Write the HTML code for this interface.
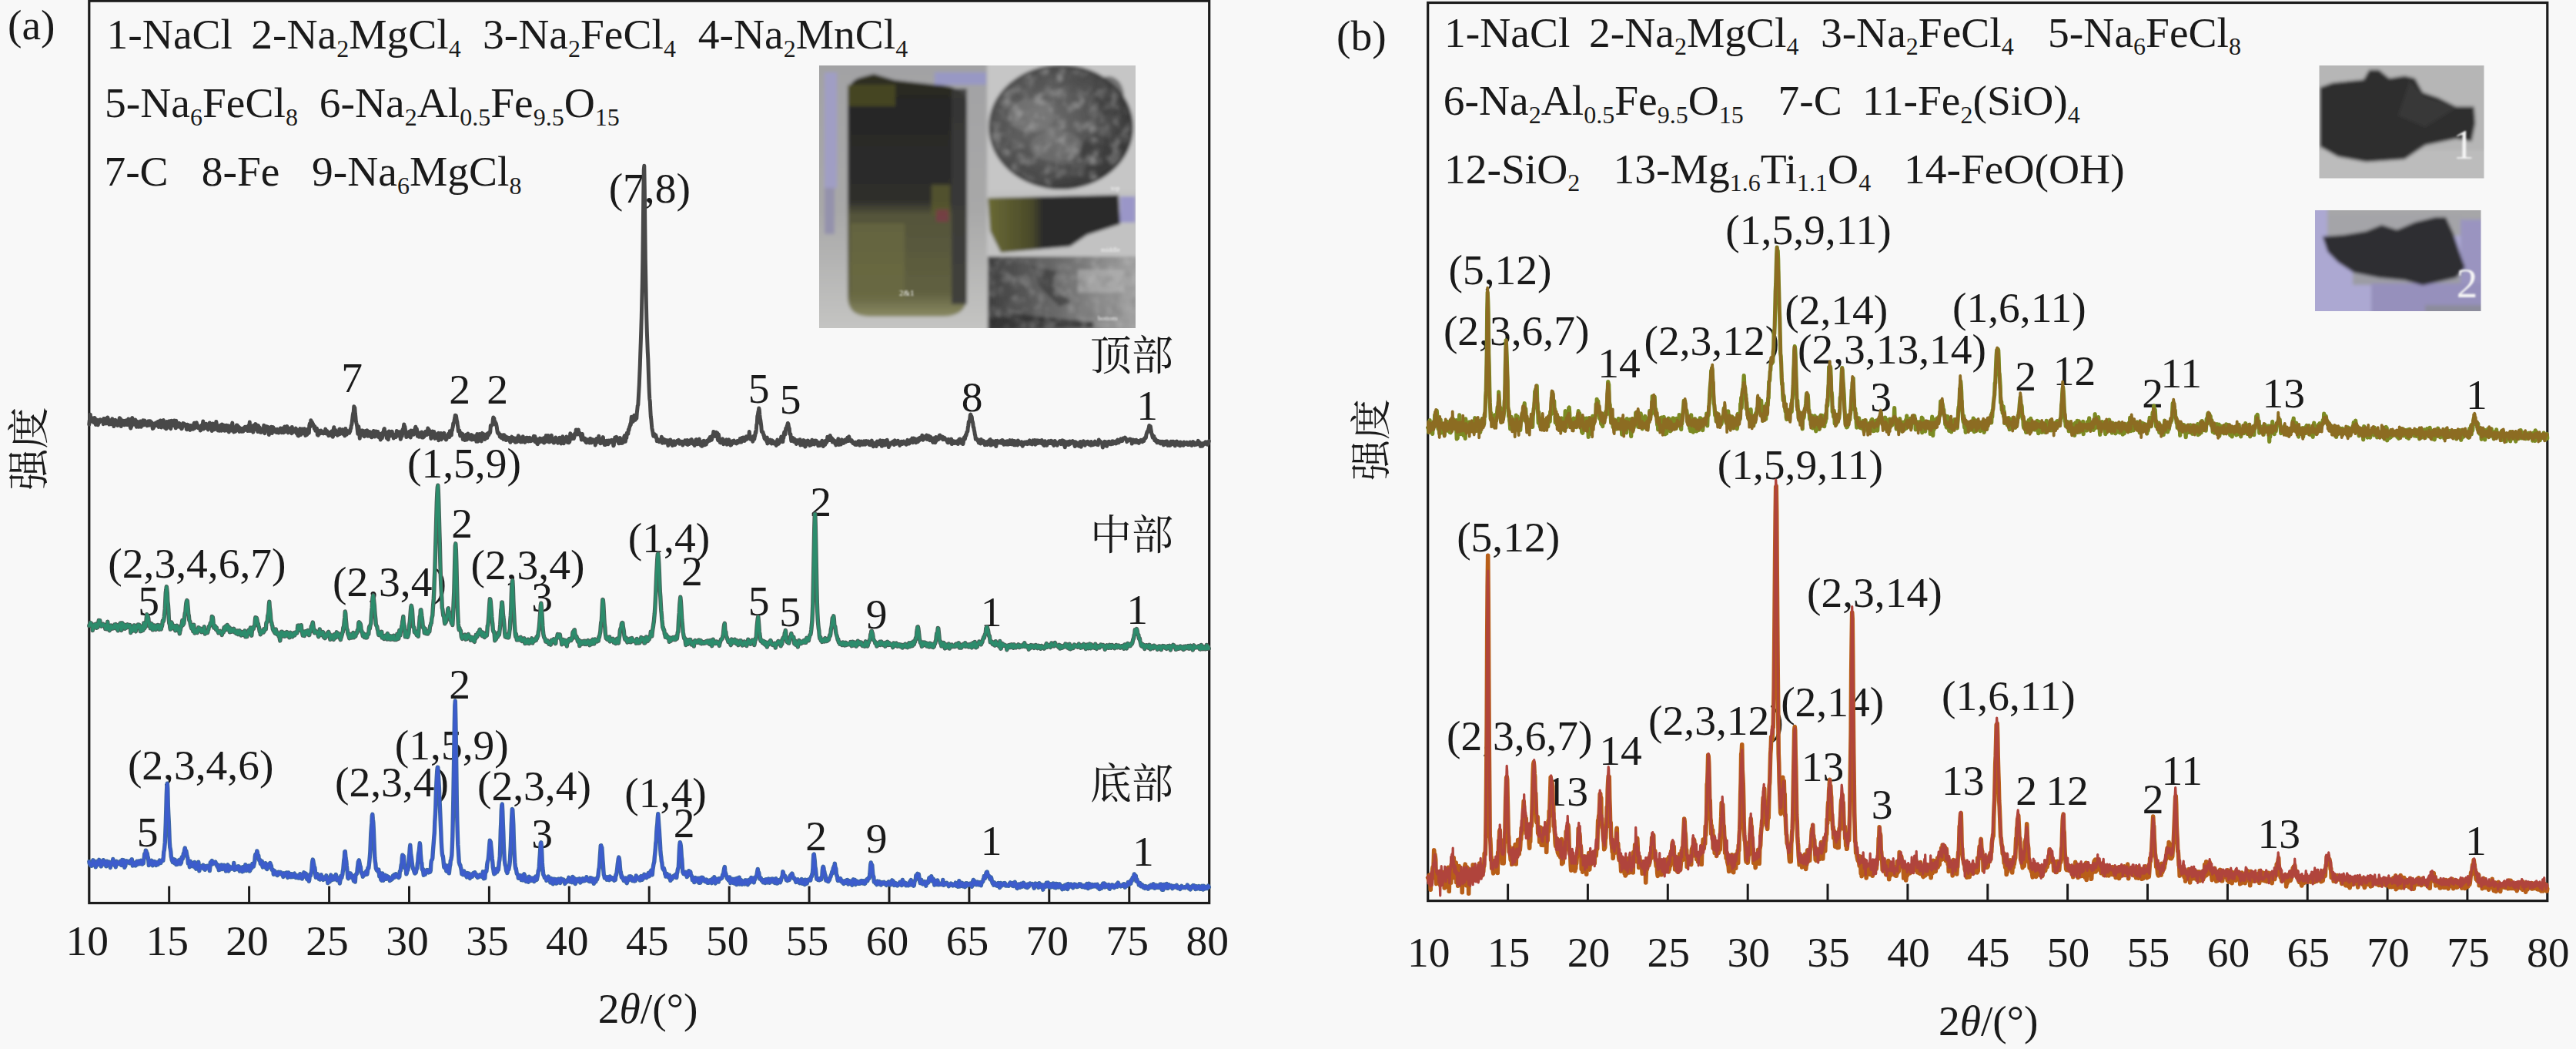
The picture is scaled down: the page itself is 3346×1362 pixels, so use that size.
<!DOCTYPE html>
<html><head><meta charset="utf-8"><title>XRD</title>
<style>html,body{margin:0;padding:0;background:#f8f8f8}svg{display:block}text{font-family:"Liberation Serif","Noto Serif CJK SC",serif}</style>
</head><body>
<svg width="3346" height="1362" viewBox="0 0 3346 1362">
<rect width="3346" height="1362" fill="#f8f8f8"/>
<defs><filter id="bl" x="-5%" y="-5%" width="110%" height="110%"><feGaussianBlur stdDeviation="2.2"/></filter><filter id="bl2" x="-5%" y="-5%" width="110%" height="110%"><feGaussianBlur stdDeviation="1.2"/></filter><clipPath id="cpa"><rect x="1064" y="85" width="411" height="341"/></clipPath><clipPath id="cpb1"><rect x="3012.5" y="85" width="214" height="146.5"/></clipPath><clipPath id="cpb2"><rect x="3007" y="273" width="215.5" height="131"/></clipPath><filter id="tx" x="0" y="0" width="100%" height="100%"><feTurbulence type="fractalNoise" baseFrequency="0.07" numOctaves="3" seed="4"/><feColorMatrix type="matrix" values="0 0 0 0 0.52  0 0 0 0 0.52  0 0 0 0 0.52  1.5 0 0 0 -0.72"/></filter><filter id="tx2" x="0" y="0" width="100%" height="100%"><feTurbulence type="fractalNoise" baseFrequency="0.07" numOctaves="3" seed="9"/><feColorMatrix type="matrix" values="0 0 0 0 0.14  0 0 0 0 0.14  0 0 0 0 0.14  1.5 0 0 0 -0.74"/></filter><clipPath id="cpe"><ellipse cx="1378" cy="165" rx="90" ry="77"/></clipPath><clipPath id="cpr"><rect x="1283" y="333" width="192" height="93"/></clipPath></defs>
<rect x="115.8" y="1.2" width="1454.9" height="1171.3" fill="none" stroke="#1c1c1c" stroke-width="3.2"/>
<line x1="219.7" y1="1150.5" x2="219.7" y2="1172.5" stroke="#1c1c1c" stroke-width="3"/>
<line x1="323.6" y1="1150.5" x2="323.6" y2="1172.5" stroke="#1c1c1c" stroke-width="3"/>
<line x1="427.6" y1="1150.5" x2="427.6" y2="1172.5" stroke="#1c1c1c" stroke-width="3"/>
<line x1="531.5" y1="1150.5" x2="531.5" y2="1172.5" stroke="#1c1c1c" stroke-width="3"/>
<line x1="635.4" y1="1150.5" x2="635.4" y2="1172.5" stroke="#1c1c1c" stroke-width="3"/>
<line x1="739.3" y1="1150.5" x2="739.3" y2="1172.5" stroke="#1c1c1c" stroke-width="3"/>
<line x1="843.2" y1="1150.5" x2="843.2" y2="1172.5" stroke="#1c1c1c" stroke-width="3"/>
<line x1="947.2" y1="1150.5" x2="947.2" y2="1172.5" stroke="#1c1c1c" stroke-width="3"/>
<line x1="1051.1" y1="1150.5" x2="1051.1" y2="1172.5" stroke="#1c1c1c" stroke-width="3"/>
<line x1="1155.0" y1="1150.5" x2="1155.0" y2="1172.5" stroke="#1c1c1c" stroke-width="3"/>
<line x1="1258.9" y1="1150.5" x2="1258.9" y2="1172.5" stroke="#1c1c1c" stroke-width="3"/>
<line x1="1362.8" y1="1150.5" x2="1362.8" y2="1172.5" stroke="#1c1c1c" stroke-width="3"/>
<line x1="1466.8" y1="1150.5" x2="1466.8" y2="1172.5" stroke="#1c1c1c" stroke-width="3"/>
<rect x="1854.7" y="3.5" width="1454.1" height="1166.1" fill="none" stroke="#1c1c1c" stroke-width="3.2"/>
<line x1="1958.6" y1="1147.6" x2="1958.6" y2="1169.6" stroke="#1c1c1c" stroke-width="3"/>
<line x1="2062.4" y1="1147.6" x2="2062.4" y2="1169.6" stroke="#1c1c1c" stroke-width="3"/>
<line x1="2166.3" y1="1147.6" x2="2166.3" y2="1169.6" stroke="#1c1c1c" stroke-width="3"/>
<line x1="2270.2" y1="1147.6" x2="2270.2" y2="1169.6" stroke="#1c1c1c" stroke-width="3"/>
<line x1="2374.0" y1="1147.6" x2="2374.0" y2="1169.6" stroke="#1c1c1c" stroke-width="3"/>
<line x1="2477.9" y1="1147.6" x2="2477.9" y2="1169.6" stroke="#1c1c1c" stroke-width="3"/>
<line x1="2581.8" y1="1147.6" x2="2581.8" y2="1169.6" stroke="#1c1c1c" stroke-width="3"/>
<line x1="2685.6" y1="1147.6" x2="2685.6" y2="1169.6" stroke="#1c1c1c" stroke-width="3"/>
<line x1="2789.5" y1="1147.6" x2="2789.5" y2="1169.6" stroke="#1c1c1c" stroke-width="3"/>
<line x1="2893.4" y1="1147.6" x2="2893.4" y2="1169.6" stroke="#1c1c1c" stroke-width="3"/>
<line x1="2997.2" y1="1147.6" x2="2997.2" y2="1169.6" stroke="#1c1c1c" stroke-width="3"/>
<line x1="3101.1" y1="1147.6" x2="3101.1" y2="1169.6" stroke="#1c1c1c" stroke-width="3"/>
<line x1="3204.9" y1="1147.6" x2="3204.9" y2="1169.6" stroke="#1c1c1c" stroke-width="3"/>
<text x="113.3" y="1239.5" font-size="55.5" text-anchor="middle" fill="#1a1a1a" >10</text>
<text x="1855.7" y="1254.6" font-size="55.5" text-anchor="middle" fill="#1a1a1a" >10</text>
<text x="217.2" y="1239.5" font-size="55.5" text-anchor="middle" fill="#1a1a1a" >15</text>
<text x="1959.6" y="1254.6" font-size="55.5" text-anchor="middle" fill="#1a1a1a" >15</text>
<text x="321.1" y="1239.5" font-size="55.5" text-anchor="middle" fill="#1a1a1a" >20</text>
<text x="2063.4" y="1254.6" font-size="55.5" text-anchor="middle" fill="#1a1a1a" >20</text>
<text x="425.1" y="1239.5" font-size="55.5" text-anchor="middle" fill="#1a1a1a" >25</text>
<text x="2167.3" y="1254.6" font-size="55.5" text-anchor="middle" fill="#1a1a1a" >25</text>
<text x="529.0" y="1239.5" font-size="55.5" text-anchor="middle" fill="#1a1a1a" >30</text>
<text x="2271.2" y="1254.6" font-size="55.5" text-anchor="middle" fill="#1a1a1a" >30</text>
<text x="632.9" y="1239.5" font-size="55.5" text-anchor="middle" fill="#1a1a1a" >35</text>
<text x="2375.0" y="1254.6" font-size="55.5" text-anchor="middle" fill="#1a1a1a" >35</text>
<text x="736.8" y="1239.5" font-size="55.5" text-anchor="middle" fill="#1a1a1a" >40</text>
<text x="2478.9" y="1254.6" font-size="55.5" text-anchor="middle" fill="#1a1a1a" >40</text>
<text x="840.7" y="1239.5" font-size="55.5" text-anchor="middle" fill="#1a1a1a" >45</text>
<text x="2582.8" y="1254.6" font-size="55.5" text-anchor="middle" fill="#1a1a1a" >45</text>
<text x="944.7" y="1239.5" font-size="55.5" text-anchor="middle" fill="#1a1a1a" >50</text>
<text x="2686.6" y="1254.6" font-size="55.5" text-anchor="middle" fill="#1a1a1a" >50</text>
<text x="1048.6" y="1239.5" font-size="55.5" text-anchor="middle" fill="#1a1a1a" >55</text>
<text x="2790.5" y="1254.6" font-size="55.5" text-anchor="middle" fill="#1a1a1a" >55</text>
<text x="1152.5" y="1239.5" font-size="55.5" text-anchor="middle" fill="#1a1a1a" >60</text>
<text x="2894.4" y="1254.6" font-size="55.5" text-anchor="middle" fill="#1a1a1a" >60</text>
<text x="1256.4" y="1239.5" font-size="55.5" text-anchor="middle" fill="#1a1a1a" >65</text>
<text x="2998.2" y="1254.6" font-size="55.5" text-anchor="middle" fill="#1a1a1a" >65</text>
<text x="1360.3" y="1239.5" font-size="55.5" text-anchor="middle" fill="#1a1a1a" >70</text>
<text x="3102.1" y="1254.6" font-size="55.5" text-anchor="middle" fill="#1a1a1a" >70</text>
<text x="1464.3" y="1239.5" font-size="55.5" text-anchor="middle" fill="#1a1a1a" >75</text>
<text x="3205.9" y="1254.6" font-size="55.5" text-anchor="middle" fill="#1a1a1a" >75</text>
<text x="1568.2" y="1239.5" font-size="55.5" text-anchor="middle" fill="#1a1a1a" >80</text>
<text x="3309.8" y="1254.6" font-size="55.5" text-anchor="middle" fill="#1a1a1a" >80</text>
<text x="841.6" y="1328.3" font-size="55.5" text-anchor="middle" fill="#1a1a1a" >2<tspan font-style="italic">θ</tspan>/(°)</text>
<text x="2582.7" y="1344.0" font-size="55.5" text-anchor="middle" fill="#1a1a1a" >2<tspan font-style="italic">θ</tspan>/(°)</text>
<text transform="translate(57,582.5) rotate(-90)" font-size="54" text-anchor="middle" fill="#1a1a1a">强度</text>
<text transform="translate(1800,571) rotate(-90)" font-size="53" text-anchor="middle" fill="#1a1a1a">强度</text>
<text x="10.0" y="50.8" font-size="55.5" text-anchor="start" fill="#1a1a1a" >(a)</text>
<text x="1736.0" y="64.6" font-size="55.5" text-anchor="start" fill="#1a1a1a" >(b)</text>
<text x="138.6" y="63.2" font-size="55.5" text-anchor="start" fill="#1a1a1a" >1-NaCl</text>
<text x="326.3" y="63.2" font-size="55.5" text-anchor="start" fill="#1a1a1a" >2-Na<tspan dy="10.5" font-size="32">2</tspan><tspan dy="-10.5">MgCl</tspan><tspan dy="10.5" font-size="32">4</tspan></text>
<text x="627.0" y="63.2" font-size="55.5" text-anchor="start" fill="#1a1a1a" >3-Na<tspan dy="10.5" font-size="32">2</tspan><tspan dy="-10.5">FeCl</tspan><tspan dy="10.5" font-size="32">4</tspan></text>
<text x="906.7" y="63.2" font-size="55.5" text-anchor="start" fill="#1a1a1a" >4-Na<tspan dy="10.5" font-size="32">2</tspan><tspan dy="-10.5">MnCl</tspan><tspan dy="10.5" font-size="32">4</tspan></text>
<text x="136.0" y="152.4" font-size="55.5" text-anchor="start" fill="#1a1a1a" >5-Na<tspan dy="10.5" font-size="32">6</tspan><tspan dy="-10.5">FeCl</tspan><tspan dy="10.5" font-size="32">8</tspan></text>
<text x="414.8" y="152.4" font-size="55.5" text-anchor="start" fill="#1a1a1a" >6-Na<tspan dy="10.5" font-size="32">2</tspan><tspan dy="-10.5">Al</tspan><tspan dy="10.5" font-size="32">0.5</tspan><tspan dy="-10.5">Fe</tspan><tspan dy="10.5" font-size="32">9.5</tspan><tspan dy="-10.5">O</tspan><tspan dy="10.5" font-size="32">15</tspan></text>
<text x="135.4" y="241.0" font-size="55.5" text-anchor="start" fill="#1a1a1a" >7-C</text>
<text x="261.7" y="241.0" font-size="55.5" text-anchor="start" fill="#1a1a1a" >8-Fe</text>
<text x="405.0" y="241.0" font-size="55.5" text-anchor="start" fill="#1a1a1a" >9-Na<tspan dy="10.5" font-size="32">6</tspan><tspan dy="-10.5">MgCl</tspan><tspan dy="10.5" font-size="32">8</tspan></text>
<text x="1876.0" y="60.5" font-size="55.5" text-anchor="start" fill="#1a1a1a" >1-NaCl</text>
<text x="2064.0" y="60.5" font-size="55.5" text-anchor="start" fill="#1a1a1a" >2-Na<tspan dy="10.5" font-size="32">2</tspan><tspan dy="-10.5">MgCl</tspan><tspan dy="10.5" font-size="32">4</tspan></text>
<text x="2364.9" y="60.5" font-size="55.5" text-anchor="start" fill="#1a1a1a" >3-Na<tspan dy="10.5" font-size="32">2</tspan><tspan dy="-10.5">FeCl</tspan><tspan dy="10.5" font-size="32">4</tspan></text>
<text x="2660.1" y="60.5" font-size="55.5" text-anchor="start" fill="#1a1a1a" >5-Na<tspan dy="10.5" font-size="32">6</tspan><tspan dy="-10.5">FeCl</tspan><tspan dy="10.5" font-size="32">8</tspan></text>
<text x="1874.8" y="149.0" font-size="55.5" text-anchor="start" fill="#1a1a1a" >6-Na<tspan dy="10.5" font-size="32">2</tspan><tspan dy="-10.5">Al</tspan><tspan dy="10.5" font-size="32">0.5</tspan><tspan dy="-10.5">Fe</tspan><tspan dy="10.5" font-size="32">9.5</tspan><tspan dy="-10.5">O</tspan><tspan dy="10.5" font-size="32">15</tspan></text>
<text x="2309.6" y="149.0" font-size="55.5" text-anchor="start" fill="#1a1a1a" >7-C</text>
<text x="2419.0" y="149.0" font-size="55.5" text-anchor="start" fill="#1a1a1a" >11-Fe<tspan dy="10.5" font-size="32">2</tspan><tspan dy="-10.5">(SiO)</tspan><tspan dy="10.5" font-size="32">4</tspan></text>
<text x="1876.0" y="237.6" font-size="55.5" text-anchor="start" fill="#1a1a1a" >12-SiO<tspan dy="10.5" font-size="32">2</tspan></text>
<text x="2095.6" y="237.6" font-size="55.5" text-anchor="start" fill="#1a1a1a" >13-Mg<tspan dy="10.5" font-size="32">1.6</tspan><tspan dy="-10.5">Ti</tspan><tspan dy="10.5" font-size="32">1.1</tspan><tspan dy="-10.5">O</tspan><tspan dy="10.5" font-size="32">4</tspan></text>
<text x="2473.0" y="237.6" font-size="55.5" text-anchor="start" fill="#1a1a1a" >14-FeO(OH)</text>
<text x="457.0" y="508.7" font-size="55.5" text-anchor="middle" fill="#1a1a1a" >7</text>
<text x="597.0" y="524.0" font-size="55.5" text-anchor="middle" fill="#1a1a1a" >2</text>
<text x="646.0" y="524.0" font-size="55.5" text-anchor="middle" fill="#1a1a1a" >2</text>
<text x="843.8" y="262.5" font-size="55.5" text-anchor="middle" fill="#1a1a1a" >(7,8)</text>
<text x="985.7" y="522.7" font-size="55.5" text-anchor="middle" fill="#1a1a1a" >5</text>
<text x="1026.7" y="536.6" font-size="55.5" text-anchor="middle" fill="#1a1a1a" >5</text>
<text x="1262.7" y="533.5" font-size="55.5" text-anchor="middle" fill="#1a1a1a" >8</text>
<text x="1490.0" y="545.0" font-size="55.5" text-anchor="middle" fill="#1a1a1a" >1</text>
<text x="603.0" y="620.4" font-size="55.5" text-anchor="middle" fill="#1a1a1a" >(1,5,9)</text>
<text x="255.9" y="749.5" font-size="55.5" text-anchor="middle" fill="#1a1a1a" >(2,3,4,6,7)</text>
<text x="193.0" y="799.0" font-size="55.5" text-anchor="middle" fill="#1a1a1a" >5</text>
<text x="505.9" y="774.0" font-size="55.5" text-anchor="middle" fill="#1a1a1a" >(2,3,4)</text>
<text x="600.0" y="698.0" font-size="55.5" text-anchor="middle" fill="#1a1a1a" >2</text>
<text x="685.5" y="752.4" font-size="55.5" text-anchor="middle" fill="#1a1a1a" >(2,3,4)</text>
<text x="704.0" y="794.0" font-size="55.5" text-anchor="middle" fill="#1a1a1a" >3</text>
<text x="869.0" y="716.6" font-size="55.5" text-anchor="middle" fill="#1a1a1a" >(1,4)</text>
<text x="898.8" y="760.0" font-size="55.5" text-anchor="middle" fill="#1a1a1a" >2</text>
<text x="985.7" y="799.0" font-size="55.5" text-anchor="middle" fill="#1a1a1a" >5</text>
<text x="1026.0" y="813.0" font-size="55.5" text-anchor="middle" fill="#1a1a1a" >5</text>
<text x="1066.0" y="669.5" font-size="55.5" text-anchor="middle" fill="#1a1a1a" >2</text>
<text x="1138.5" y="816.0" font-size="55.5" text-anchor="middle" fill="#1a1a1a" >9</text>
<text x="1287.6" y="813.0" font-size="55.5" text-anchor="middle" fill="#1a1a1a" >1</text>
<text x="1477.0" y="809.8" font-size="55.5" text-anchor="middle" fill="#1a1a1a" >1</text>
<text x="260.7" y="1012.0" font-size="55.5" text-anchor="middle" fill="#1a1a1a" >(2,3,4,6)</text>
<text x="191.6" y="1099.0" font-size="55.5" text-anchor="middle" fill="#1a1a1a" >5</text>
<text x="509.0" y="1034.0" font-size="55.5" text-anchor="middle" fill="#1a1a1a" >(2,3,4)</text>
<text x="586.8" y="985.8" font-size="55.5" text-anchor="middle" fill="#1a1a1a" >(1,5,9)</text>
<text x="597.0" y="906.6" font-size="55.5" text-anchor="middle" fill="#1a1a1a" >2</text>
<text x="693.9" y="1038.6" font-size="55.5" text-anchor="middle" fill="#1a1a1a" >(2,3,4)</text>
<text x="704.0" y="1100.7" font-size="55.5" text-anchor="middle" fill="#1a1a1a" >3</text>
<text x="864.5" y="1048.0" font-size="55.5" text-anchor="middle" fill="#1a1a1a" >(1,4)</text>
<text x="888.5" y="1086.7" font-size="55.5" text-anchor="middle" fill="#1a1a1a" >2</text>
<text x="1060.0" y="1103.8" font-size="55.5" text-anchor="middle" fill="#1a1a1a" >2</text>
<text x="1138.5" y="1107.0" font-size="55.5" text-anchor="middle" fill="#1a1a1a" >9</text>
<text x="1287.6" y="1110.0" font-size="55.5" text-anchor="middle" fill="#1a1a1a" >1</text>
<text x="1484.8" y="1124.0" font-size="55.5" text-anchor="middle" fill="#1a1a1a" >1</text>
<text x="1470.0" y="480.5" font-size="54.0" text-anchor="middle" fill="#1a1a1a" >顶部</text>
<text x="1470.0" y="713.5" font-size="54.0" text-anchor="middle" fill="#1a1a1a" >中部</text>
<text x="1470.0" y="1037.0" font-size="54.0" text-anchor="middle" fill="#1a1a1a" >底部</text>
<text x="1948.5" y="368.6" font-size="55.5" text-anchor="middle" fill="#1a1a1a" >(5,12)</text>
<text x="1969.7" y="448.0" font-size="55.5" text-anchor="middle" fill="#1a1a1a" >(2,3,6,7)</text>
<text x="2103.0" y="490.0" font-size="55.5" text-anchor="middle" fill="#1a1a1a" >14</text>
<text x="2223.3" y="461.0" font-size="55.5" text-anchor="middle" fill="#1a1a1a" >(2,3,12)</text>
<text x="2349.0" y="316.7" font-size="55.5" text-anchor="middle" fill="#1a1a1a" >(1,5,9,11)</text>
<text x="2385.3" y="420.5" font-size="55.5" text-anchor="middle" fill="#1a1a1a" >(2,14)</text>
<text x="2457.5" y="472.3" font-size="55.5" text-anchor="middle" fill="#1a1a1a" >(2,3,13,14)</text>
<text x="2443.0" y="534.0" font-size="55.5" text-anchor="middle" fill="#1a1a1a" >3</text>
<text x="2622.8" y="418.0" font-size="55.5" text-anchor="middle" fill="#1a1a1a" >(1,6,11)</text>
<text x="2631.0" y="507.0" font-size="55.5" text-anchor="middle" fill="#1a1a1a" >2</text>
<text x="2694.5" y="500.0" font-size="55.5" text-anchor="middle" fill="#1a1a1a" >12</text>
<text x="2796.0" y="529.0" font-size="55.5" text-anchor="middle" fill="#1a1a1a" >2</text>
<text x="2833.2" y="503.0" font-size="55.5" text-anchor="middle" fill="#1a1a1a" >11</text>
<text x="2966.3" y="529.0" font-size="55.5" text-anchor="middle" fill="#1a1a1a" >13</text>
<text x="3216.8" y="530.7" font-size="55.5" text-anchor="middle" fill="#1a1a1a" >1</text>
<text x="2338.3" y="622.0" font-size="55.5" text-anchor="middle" fill="#1a1a1a" >(1,5,9,11)</text>
<text x="1959.2" y="716.0" font-size="55.5" text-anchor="middle" fill="#1a1a1a" >(5,12)</text>
<text x="2434.8" y="787.5" font-size="55.5" text-anchor="middle" fill="#1a1a1a" >(2,3,14)</text>
<text x="1973.8" y="973.5" font-size="55.5" text-anchor="middle" fill="#1a1a1a" >(2,3,6,7)</text>
<text x="2035.2" y="1046.4" font-size="55.5" text-anchor="middle" fill="#1a1a1a" >13</text>
<text x="2105.0" y="993.0" font-size="55.5" text-anchor="middle" fill="#1a1a1a" >14</text>
<text x="2228.9" y="954.0" font-size="55.5" text-anchor="middle" fill="#1a1a1a" >(2,3,12)</text>
<text x="2380.2" y="929.7" font-size="55.5" text-anchor="middle" fill="#1a1a1a" >(2,14)</text>
<text x="2367.5" y="1014.0" font-size="55.5" text-anchor="middle" fill="#1a1a1a" >13</text>
<text x="2444.5" y="1062.6" font-size="55.5" text-anchor="middle" fill="#1a1a1a" >3</text>
<text x="2549.8" y="1031.8" font-size="55.5" text-anchor="middle" fill="#1a1a1a" >13</text>
<text x="2608.9" y="921.6" font-size="55.5" text-anchor="middle" fill="#1a1a1a" >(1,6,11)</text>
<text x="2632.0" y="1044.8" font-size="55.5" text-anchor="middle" fill="#1a1a1a" >2</text>
<text x="2685.1" y="1045.4" font-size="55.5" text-anchor="middle" fill="#1a1a1a" >12</text>
<text x="2796.7" y="1056.0" font-size="55.5" text-anchor="middle" fill="#1a1a1a" >2</text>
<text x="2834.2" y="1018.8" font-size="55.5" text-anchor="middle" fill="#1a1a1a" >11</text>
<text x="2960.2" y="1100.5" font-size="55.5" text-anchor="middle" fill="#1a1a1a" >13</text>
<text x="3215.9" y="1109.6" font-size="55.5" text-anchor="middle" fill="#1a1a1a" >1</text>
<defs><polyline id="c1" points="115.8,551.0 116.3,545.7 116.8,543.5 117.3,538.2 117.8,544.9 118.3,545.0 118.8,544.6 119.3,547.1 119.8,547.2 120.3,543.0 120.8,543.1 121.3,544.9 121.8,548.4 122.3,547.8 122.8,542.4 123.3,543.0 123.8,548.8 124.3,551.4 124.8,546.8 125.3,545.0 125.8,549.4 126.3,546.4 126.8,549.2 127.3,551.7 127.8,549.2 128.3,547.5 128.8,548.6 129.3,545.1 129.8,545.8 130.3,545.0 130.8,545.8 131.3,545.3 131.8,546.0 132.3,545.8 132.8,547.1 133.3,547.3 133.8,548.4 134.3,550.6 134.8,543.6 135.3,550.1 135.8,546.4 136.3,543.4 136.8,546.2 137.3,547.8 137.8,549.9 138.3,544.7 138.8,547.5 139.3,547.1 139.8,542.0 140.3,543.5 140.8,548.9 141.3,550.1 141.8,551.1 142.3,549.6 142.8,548.9 143.3,548.5 143.8,550.8 144.3,545.6 144.8,547.0 145.3,548.1 145.8,543.8 146.3,550.5 146.8,545.9 147.3,548.1 147.8,553.6 148.3,546.0 148.8,546.6 149.3,551.7 149.8,545.2 150.3,546.4 150.8,549.4 151.3,549.7 151.8,550.0 152.3,549.8 152.8,552.5 153.3,551.7 153.8,549.9 154.3,546.1 154.8,545.1 155.3,542.7 155.8,548.7 156.3,543.6 156.8,550.8 157.3,553.5 157.8,545.7 158.3,545.8 158.8,547.0 159.3,550.3 159.8,546.2 160.3,547.5 160.8,546.8 161.3,548.1 161.8,551.8 162.3,546.3 162.8,548.5 163.3,549.7 163.8,550.7 164.3,545.8 164.8,551.6 165.3,550.7 165.8,551.4 166.3,548.7 166.8,543.9 167.3,546.6 167.8,551.0 168.3,549.3 168.8,549.5 169.3,554.9 169.8,556.0 170.3,550.5 170.8,553.8 171.3,543.3 171.8,542.7 172.3,550.7 172.8,548.9 173.3,550.9 173.8,550.8 174.3,549.4 174.8,551.2 175.3,549.3 175.8,545.0 176.3,549.4 176.8,550.7 177.3,554.2 177.8,546.9 178.3,548.9 178.8,548.2 179.3,549.6 179.8,554.3 180.3,551.1 180.8,548.4 181.3,550.1 181.8,551.5 182.3,547.0 182.8,549.1 183.3,554.3 183.8,552.7 184.3,549.8 184.8,548.3 185.3,548.6 185.8,545.7 186.3,552.1 186.8,551.3 187.3,549.9 187.8,546.0 188.3,547.6 188.8,551.3 189.3,550.7 189.8,548.9 190.3,551.7 190.8,552.7 191.3,548.3 191.8,548.0 192.3,547.0 192.8,546.9 193.3,552.2 193.8,552.1 194.3,551.0 194.8,546.7 195.3,546.9 195.8,549.6 196.3,549.2 196.8,550.3 197.3,548.7 197.8,552.7 198.3,556.4 198.8,556.2 199.3,555.7 199.8,551.7 200.3,553.1 200.8,550.3 201.3,553.0 201.8,549.8 202.3,548.9 202.8,549.0 203.3,552.6 203.8,551.9 204.3,551.0 204.8,547.7 205.3,550.3 205.8,547.4 206.3,554.5 206.8,551.2 207.3,551.4 207.8,550.2 208.3,546.0 208.8,546.6 209.3,551.0 209.8,554.9 210.3,548.3 210.8,548.7 211.3,550.1 211.8,545.8 212.3,545.6 212.8,549.4 213.3,550.9 213.8,550.8 214.3,555.5 214.8,551.6 215.3,553.0 215.8,556.7 216.3,556.3 216.8,547.5 217.3,550.3 217.8,554.1 218.3,547.8 218.8,548.0 219.3,547.1 219.8,546.9 220.3,548.0 220.8,552.3 221.3,556.0 221.8,556.5 222.3,551.6 222.8,546.2 223.3,550.8 223.8,551.0 224.3,552.7 224.8,551.0 225.3,547.0 225.8,551.7 226.3,546.1 226.8,549.4 227.3,552.8 227.8,553.8 228.3,555.8 228.8,546.2 229.3,552.5 229.8,554.1 230.3,551.8 230.8,553.5 231.3,549.7 231.8,553.9 232.3,553.7 232.8,549.5 233.3,550.1 233.8,551.4 234.3,550.9 234.8,555.2 235.3,553.9 235.8,556.7 236.3,556.4 236.8,553.1 237.3,551.7 237.8,549.6 238.3,549.7 238.8,550.3 239.3,553.0 239.8,550.4 240.3,552.7 240.8,553.2 241.3,551.4 241.8,552.7 242.3,557.4 242.8,557.6 243.3,551.3 243.8,552.0 244.3,551.8 244.8,552.7 245.3,557.5 245.8,556.0 246.3,557.5 246.8,558.4 247.3,552.5 247.8,552.5 248.3,553.6 248.8,556.1 249.3,553.6 249.8,555.5 250.3,557.2 250.8,557.2 251.3,554.7 251.8,550.8 252.3,549.2 252.8,556.1 253.3,554.8 253.8,550.9 254.3,551.6 254.8,551.5 255.3,548.8 255.8,553.4 256.3,551.4 256.8,552.8 257.3,555.6 257.8,553.9 258.3,555.4 258.8,555.1 259.3,554.0 259.8,554.7 260.3,559.0 260.8,554.7 261.3,558.0 261.8,552.3 262.3,555.7 262.8,554.4 263.3,551.0 263.8,547.0 264.3,557.0 264.8,551.1 265.3,551.0 265.8,554.1 266.3,554.5 266.8,554.9 267.3,553.0 267.8,550.3 268.3,555.8 268.8,552.2 269.3,554.8 269.8,556.5 270.3,557.8 270.8,554.1 271.3,553.4 271.8,553.0 272.3,549.0 272.8,551.4 273.3,551.0 273.8,551.1 274.3,554.5 274.8,554.4 275.3,559.5 275.8,558.7 276.3,550.1 276.8,554.0 277.3,552.2 277.8,556.0 278.3,555.8 278.8,557.6 279.3,556.3 279.8,557.0 280.3,553.4 280.8,547.5 281.3,550.4 281.8,552.0 282.3,553.0 282.8,552.7 283.3,559.1 283.8,555.7 284.3,558.5 284.8,555.3 285.3,559.2 285.8,552.7 286.3,555.9 286.8,552.0 287.3,556.6 287.8,559.2 288.3,551.1 288.8,552.5 289.3,555.7 289.8,554.5 290.3,552.0 290.8,558.2 291.3,556.6 291.8,559.2 292.3,556.5 292.8,552.4 293.3,554.4 293.8,558.7 294.3,552.2 294.8,554.1 295.3,557.6 295.8,559.1 296.3,557.9 296.8,552.8 297.3,560.9 297.8,556.2 298.3,555.9 298.8,555.8 299.3,554.9 299.8,553.1 300.3,555.2 300.8,559.0 301.3,551.9 301.8,549.1 302.3,556.8 302.8,557.5 303.3,558.9 303.8,560.9 304.3,554.9 304.8,556.6 305.3,558.1 305.8,560.2 306.3,559.2 306.8,553.8 307.3,552.1 307.8,554.5 308.3,552.2 308.8,558.6 309.3,555.6 309.8,555.0 310.3,554.4 310.8,560.4 311.3,557.7 311.8,555.7 312.3,558.0 312.8,556.7 313.3,558.6 313.8,560.3 314.3,556.6 314.8,558.1 315.3,558.5 315.8,560.1 316.3,558.7 316.8,556.8 317.3,555.1 317.8,556.9 318.3,554.3 318.8,558.2 319.3,557.4 319.8,558.2 320.3,555.4 320.8,554.2 321.3,554.5 321.8,559.5 322.3,556.7 322.8,555.6 323.3,552.0 323.8,554.9 324.3,548.1 324.8,559.4 325.3,556.9 325.8,556.5 326.3,552.9 326.8,553.9 327.3,558.3 327.8,557.0 328.3,558.8 328.8,561.1 329.3,558.8 329.8,552.0 330.3,553.5 330.8,553.5 331.3,553.7 331.8,550.6 332.3,550.8 332.8,554.4 333.3,555.7 333.8,558.5 334.3,557.3 334.8,560.5 335.3,552.6 335.8,553.2 336.3,557.6 336.8,556.6 337.3,555.1 337.8,559.7 338.3,561.3 338.8,561.4 339.3,557.1 339.8,557.6 340.3,558.4 340.8,558.4 341.3,560.4 341.8,557.0 342.3,557.8 342.8,552.3 343.3,559.7 343.8,562.6 344.3,558.8 344.8,560.1 345.3,553.7 345.8,555.9 346.3,553.8 346.8,558.5 347.3,559.0 347.8,554.2 348.3,555.1 348.8,557.1 349.3,564.4 349.8,558.9 350.3,558.6 350.8,559.3 351.3,559.0 351.8,557.2 352.3,554.3 352.8,556.5 353.3,562.5 353.8,559.4 354.3,556.9 354.8,554.6 355.3,557.7 355.8,558.2 356.3,557.0 356.8,560.4 357.3,557.1 357.8,558.1 358.3,560.8 358.8,559.8 359.3,561.5 359.8,558.2 360.3,557.5 360.8,559.8 361.3,559.8 361.8,562.0 362.3,560.2 362.8,558.9 363.3,560.1 363.8,560.2 364.3,555.9 364.8,557.9 365.3,558.3 365.8,561.7 366.3,558.4 366.8,561.1 367.3,555.9 367.8,558.7 368.3,561.7 368.8,559.0 369.3,561.2 369.8,554.0 370.3,558.4 370.8,559.4 371.3,558.2 371.8,555.2 372.3,559.5 372.8,553.5 373.3,560.9 373.8,560.6 374.3,561.8 374.8,558.5 375.3,556.0 375.8,557.3 376.3,558.0 376.8,560.6 377.3,558.8 377.8,560.5 378.3,561.3 378.8,562.6 379.3,554.4 379.8,557.8 380.3,561.3 380.8,561.3 381.3,558.1 381.8,558.5 382.3,559.2 382.8,559.6 383.3,557.8 383.8,557.2 384.3,556.2 384.8,558.6 385.3,562.8 385.8,557.9 386.3,562.5 386.8,565.2 387.3,561.7 387.8,565.9 388.3,560.7 388.8,564.0 389.3,559.7 389.8,556.6 390.3,560.9 390.8,564.6 391.3,559.0 391.8,560.4 392.3,556.9 392.8,557.2 393.3,560.5 393.8,559.6 394.3,561.6 394.8,562.8 395.3,556.7 395.8,557.4 396.3,560.2 396.8,565.5 397.3,559.2 397.8,558.0 398.3,560.8 398.8,564.4 399.3,557.7 399.8,557.3 400.3,558.1 400.8,560.1 401.3,562.2 401.8,552.7 402.3,550.1 402.8,553.9 403.3,553.4 403.8,545.7 404.3,548.4 404.8,551.7 405.3,548.1 405.8,550.0 406.3,550.0 406.8,551.8 407.3,552.4 407.8,553.4 408.3,556.5 408.8,553.5 409.3,556.1 409.8,559.3 410.3,556.1 410.8,556.6 411.3,556.1 411.8,557.0 412.3,564.5 412.8,562.3 413.3,565.3 413.8,562.8 414.3,560.7 414.8,559.8 415.3,561.1 415.8,560.9 416.3,562.8 416.8,558.9 417.3,561.2 417.8,562.1 418.3,560.5 418.8,560.5 419.3,562.6 419.8,562.8 420.3,561.1 420.8,560.9 421.3,560.0 421.8,562.5 422.3,560.6 422.8,557.1 423.3,560.2 423.8,563.0 424.3,562.1 424.8,559.5 425.3,563.3 425.8,563.5 426.3,563.9 426.8,565.6 427.3,561.4 427.8,562.9 428.3,561.5 428.8,564.5 429.3,565.2 429.8,563.6 430.3,563.5 430.8,560.0 431.3,562.6 431.8,559.6 432.3,567.3 432.8,564.9 433.3,557.2 433.8,554.7 434.3,563.9 434.8,560.1 435.3,562.4 435.8,558.6 436.3,561.2 436.8,560.3 437.3,563.0 437.8,561.6 438.3,565.2 438.8,560.8 439.3,564.8 439.8,562.4 440.3,562.6 440.8,557.2 441.3,557.0 441.8,563.5 442.3,558.8 442.8,560.3 443.3,560.5 443.8,559.4 444.3,561.4 444.8,557.7 445.3,558.4 445.8,563.4 446.3,560.1 446.8,563.5 447.3,564.1 447.8,565.8 448.3,562.5 448.8,556.6 449.3,558.9 449.8,560.4 450.3,564.3 450.8,562.1 451.3,559.8 451.8,561.5 452.3,559.8 452.8,561.4 453.3,560.6 453.8,562.1 454.3,559.9 454.8,560.0 455.3,556.6 455.8,556.2 456.3,552.4 456.8,551.5 457.3,547.6 457.8,543.2 458.3,538.9 458.8,536.2 459.3,534.7 459.8,527.8 460.3,534.9 460.8,529.3 461.3,536.4 461.8,540.5 462.3,546.5 462.8,548.8 463.3,550.8 463.8,553.8 464.3,558.5 464.8,563.3 465.3,559.2 465.8,553.8 466.3,558.2 466.8,562.5 467.3,569.2 467.8,560.2 468.3,560.4 468.8,563.1 469.3,562.4 469.8,559.0 470.3,563.7 470.8,559.1 471.3,561.7 471.8,565.4 472.3,559.6 472.8,561.9 473.3,566.8 473.8,562.4 474.3,559.9 474.8,561.4 475.3,564.4 475.8,559.2 476.3,560.5 476.8,558.9 477.3,560.2 477.8,566.2 478.3,563.4 478.8,562.4 479.3,564.1 479.8,561.4 480.3,560.6 480.8,566.4 481.3,565.9 481.8,562.0 482.3,565.7 482.8,567.8 483.3,565.7 483.8,564.8 484.3,560.7 484.8,562.4 485.3,559.4 485.8,566.0 486.3,564.3 486.8,567.0 487.3,562.7 487.8,565.4 488.3,560.1 488.8,562.6 489.3,565.5 489.8,565.2 490.3,563.5 490.8,560.4 491.3,567.2 491.8,566.7 492.3,567.8 492.8,567.4 493.3,563.8 493.8,566.1 494.3,570.9 494.8,563.3 495.3,564.9 495.8,563.7 496.3,568.8 496.8,565.1 497.3,561.7 497.8,562.1 498.3,559.9 498.8,557.3 499.3,556.6 499.8,561.4 500.3,561.5 500.8,564.3 501.3,562.6 501.8,565.6 502.3,568.9 502.8,561.9 503.3,561.5 503.8,567.6 504.3,570.8 504.8,562.8 505.3,560.0 505.8,563.3 506.3,563.9 506.8,566.1 507.3,562.3 507.8,563.7 508.3,563.4 508.8,560.2 509.3,560.5 509.8,565.7 510.3,566.2 510.8,563.6 511.3,569.0 511.8,568.0 512.3,566.6 512.8,566.8 513.3,566.3 513.8,567.2 514.3,567.4 514.8,564.7 515.3,559.6 515.8,563.4 516.3,562.2 516.8,561.7 517.3,565.3 517.8,560.7 518.3,565.9 518.8,562.8 519.3,560.8 519.8,562.5 520.3,570.3 520.8,568.3 521.3,563.5 521.8,565.9 522.3,566.2 522.8,558.4 523.3,557.4 523.8,558.1 524.3,554.4 524.8,550.9 525.3,554.7 525.8,553.7 526.3,556.8 526.8,562.9 527.3,561.7 527.8,567.6 528.3,563.6 528.8,562.7 529.3,564.2 529.8,566.5 530.3,566.4 530.8,565.2 531.3,560.6 531.8,561.3 532.3,564.0 532.8,567.1 533.3,567.9 533.8,559.1 534.3,563.3 534.8,563.2 535.3,563.9 535.8,564.1 536.3,560.9 536.8,559.4 537.3,564.3 537.8,563.1 538.3,559.1 538.8,558.2 539.3,555.8 539.8,554.2 540.3,559.1 540.8,557.1 541.3,556.8 541.8,559.8 542.3,566.3 542.8,564.8 543.3,564.6 543.8,564.9 544.3,567.2 544.8,566.7 545.3,562.0 545.8,564.1 546.3,563.8 546.8,565.8 547.3,564.8 547.8,560.9 548.3,568.0 548.8,566.2 549.3,561.8 549.8,568.0 550.3,566.5 550.8,566.9 551.3,565.8 551.8,565.6 552.3,563.4 552.8,560.3 553.3,562.4 553.8,564.3 554.3,563.8 554.8,564.4 555.3,561.3 555.8,556.1 556.3,562.1 556.8,559.2 557.3,558.1 557.8,560.8 558.3,559.8 558.8,564.0 559.3,562.9 559.8,569.4 560.3,565.1 560.8,563.8 561.3,563.2 561.8,559.9 562.3,562.8 562.8,563.8 563.3,564.3 563.8,560.5 564.3,566.0 564.8,569.4 565.3,565.7 565.8,566.2 566.3,567.2 566.8,564.4 567.3,565.4 567.8,568.8 568.3,566.9 568.8,562.9 569.3,562.4 569.8,571.8 570.3,567.9 570.8,562.8 571.3,566.7 571.8,568.4 572.3,566.5 572.8,562.6 573.3,570.7 573.8,568.7 574.3,566.6 574.8,568.2 575.3,566.2 575.8,566.0 576.3,568.0 576.8,562.2 577.3,568.5 577.8,568.1 578.3,568.8 578.8,569.5 579.3,571.0 579.8,570.7 580.3,568.8 580.8,565.7 581.3,567.4 581.8,564.6 582.3,563.3 582.8,566.5 583.3,566.7 583.8,567.4 584.3,559.8 584.8,565.1 585.3,565.3 585.8,563.6 586.3,565.0 586.8,558.6 587.3,559.0 587.8,555.9 588.3,554.0 588.8,549.6 589.3,548.9 589.8,548.3 590.3,544.7 590.8,542.5 591.3,539.2 591.8,543.5 592.3,539.5 592.8,542.3 593.3,546.0 593.8,547.3 594.3,551.9 594.8,554.0 595.3,559.7 595.8,559.4 596.3,560.1 596.8,559.1 597.3,563.3 597.8,566.0 598.3,565.1 598.8,562.3 599.3,563.5 599.8,564.9 600.3,565.4 600.8,563.4 601.3,570.6 601.8,567.0 602.3,566.9 602.8,565.8 603.3,567.4 603.8,571.5 604.3,565.4 604.8,565.4 605.3,564.5 605.8,566.3 606.3,570.9 606.8,566.4 607.3,565.7 607.8,563.0 608.3,566.3 608.8,568.0 609.3,566.6 609.8,567.0 610.3,569.9 610.8,569.4 611.3,567.6 611.8,565.5 612.3,564.6 612.8,571.1 613.3,565.0 613.8,569.1 614.3,567.6 614.8,566.5 615.3,569.8 615.8,567.0 616.3,570.6 616.8,566.2 617.3,569.4 617.8,571.1 618.3,566.9 618.8,573.2 619.3,570.2 619.8,563.5 620.3,571.4 620.8,573.1 621.3,568.0 621.8,567.7 622.3,568.3 622.8,563.6 623.3,568.1 623.8,570.1 624.3,567.3 624.8,571.1 625.3,572.9 625.8,563.2 626.3,562.5 626.8,565.5 627.3,569.0 627.8,568.3 628.3,564.9 628.8,563.9 629.3,565.5 629.8,570.5 630.3,564.8 630.8,565.1 631.3,568.3 631.8,565.3 632.3,563.6 632.8,568.5 633.3,565.9 633.8,562.6 634.3,562.8 634.8,564.8 635.3,561.5 635.8,561.7 636.3,562.3 636.8,560.5 637.3,552.6 637.8,553.3 638.3,552.5 638.8,551.9 639.3,551.8 639.8,550.6 640.3,545.0 640.8,542.0 641.3,544.0 641.8,543.1 642.3,548.6 642.8,547.1 643.3,547.8 643.8,551.3 644.3,549.7 644.8,552.0 645.3,554.6 645.8,558.7 646.3,561.9 646.8,562.3 647.3,563.1 647.8,562.0 648.3,563.9 648.8,563.9 649.3,567.2 649.8,564.2 650.3,565.6 650.8,567.2 651.3,568.5 651.8,565.5 652.3,566.3 652.8,565.2 653.3,564.8 653.8,570.4 654.3,569.2 654.8,564.7 655.3,565.9 655.8,569.5 656.3,567.2 656.8,566.7 657.3,571.6 657.8,568.3 658.3,568.4 658.8,570.3 659.3,567.9 659.8,569.4 660.3,570.2 660.8,571.2 661.3,568.5 661.8,572.2 662.3,571.5 662.8,574.3 663.3,570.8 663.8,568.6 664.3,568.2 664.8,567.2 665.3,569.7 665.8,570.3 666.3,572.3 666.8,570.4 667.3,568.6 667.8,572.3 668.3,569.7 668.8,571.3 669.3,574.3 669.8,573.7 670.3,569.1 670.8,570.4 671.3,573.9 671.8,573.5 672.3,572.4 672.8,572.2 673.3,565.7 673.8,568.8 674.3,566.9 674.8,568.6 675.3,569.7 675.8,572.1 676.3,573.9 676.8,573.0 677.3,571.5 677.8,570.4 678.3,573.8 678.8,571.2 679.3,566.7 679.8,570.2 680.3,571.7 680.8,568.8 681.3,571.5 681.8,574.4 682.3,570.7 682.8,570.7 683.3,570.5 683.8,568.4 684.3,569.2 684.8,568.3 685.3,569.7 685.8,569.3 686.3,573.0 686.8,571.3 687.3,572.6 687.8,568.3 688.3,570.8 688.8,572.6 689.3,572.7 689.8,569.8 690.3,570.7 690.8,571.3 691.3,570.3 691.8,570.3 692.3,571.9 692.8,568.0 693.3,566.4 693.8,569.6 694.3,571.1 694.8,566.4 695.3,573.8 695.8,572.2 696.3,572.5 696.8,569.6 697.3,571.6 697.8,576.3 698.3,576.6 698.8,573.5 699.3,571.0 699.8,571.6 700.3,574.4 700.8,570.0 701.3,569.1 701.8,571.2 702.3,573.3 702.8,569.4 703.3,572.2 703.8,572.6 704.3,572.0 704.8,571.6 705.3,573.9 705.8,572.8 706.3,568.8 706.8,575.0 707.3,573.3 707.8,572.4 708.3,570.7 708.8,570.0 709.3,565.5 709.8,570.4 710.3,573.1 710.8,573.0 711.3,569.4 711.8,565.4 712.3,568.1 712.8,570.9 713.3,574.0 713.8,568.2 714.3,571.3 714.8,573.2 715.3,573.2 715.8,570.7 716.3,565.3 716.8,572.2 717.3,572.3 717.8,572.6 718.3,569.5 718.8,570.7 719.3,575.0 719.8,571.9 720.3,571.4 720.8,570.4 721.3,573.9 721.8,568.1 722.3,570.1 722.8,572.6 723.3,572.1 723.8,574.0 724.3,573.5 724.8,575.2 725.3,571.7 725.8,571.5 726.3,571.9 726.8,568.2 727.3,574.3 727.8,570.5 728.3,574.7 728.8,575.9 729.3,574.7 729.8,572.4 730.3,569.8 730.8,566.8 731.3,572.4 731.8,572.0 732.3,575.7 732.8,571.9 733.3,573.0 733.8,571.2 734.3,572.5 734.8,571.0 735.3,570.6 735.8,567.0 736.3,569.3 736.8,571.4 737.3,574.6 737.8,572.1 738.3,569.2 738.8,574.8 739.3,572.9 739.8,573.6 740.3,568.2 740.8,562.7 741.3,567.5 741.8,567.9 742.3,569.9 742.8,565.9 743.3,566.2 743.8,565.2 744.3,567.6 744.8,565.5 745.3,569.4 745.8,567.8 746.3,566.2 746.8,562.7 747.3,562.3 747.8,562.1 748.3,557.9 748.8,560.9 749.3,558.3 749.8,561.2 750.3,564.0 750.8,562.6 751.3,558.0 751.8,563.2 752.3,561.6 752.8,562.2 753.3,563.6 753.8,563.0 754.3,566.7 754.8,566.4 755.3,570.9 755.8,569.4 756.3,563.5 756.8,566.7 757.3,567.6 757.8,568.6 758.3,569.3 758.8,571.4 759.3,570.7 759.8,569.1 760.3,572.6 760.8,574.0 761.3,572.5 761.8,574.7 762.3,573.1 762.8,570.7 763.3,571.0 763.8,572.2 764.3,573.4 764.8,573.1 765.3,574.9 765.8,574.9 766.3,570.0 766.8,569.3 767.3,571.9 767.8,573.7 768.3,574.8 768.8,574.4 769.3,573.8 769.8,570.6 770.3,572.8 770.8,571.3 771.3,573.5 771.8,574.5 772.3,571.2 772.8,572.6 773.3,577.9 773.8,571.5 774.3,570.9 774.8,569.5 775.3,569.3 775.8,574.2 776.3,571.2 776.8,570.8 777.3,569.8 777.8,566.2 778.3,573.3 778.8,571.6 779.3,572.8 779.8,575.7 780.3,572.8 780.8,573.0 781.3,573.5 781.8,575.2 782.3,569.8 782.8,570.3 783.3,567.6 783.8,572.3 784.3,574.0 784.8,572.6 785.3,577.4 785.8,576.2 786.3,577.5 786.8,574.3 787.3,576.8 787.8,572.3 788.3,573.6 788.8,573.1 789.3,572.4 789.8,576.8 790.3,576.1 790.8,571.9 791.3,574.2 791.8,573.3 792.3,573.4 792.8,574.1 793.3,571.9 793.8,573.2 794.3,573.4 794.8,571.4 795.3,571.7 795.8,574.6 796.3,573.8 796.8,578.8 797.3,578.1 797.8,571.8 798.3,572.5 798.8,568.0 799.3,570.2 799.8,570.1 800.3,569.8 800.8,567.4 801.3,572.4 801.8,572.5 802.3,570.5 802.8,572.1 803.3,574.8 803.8,575.7 804.3,570.1 804.8,574.8 805.3,568.4 805.8,569.5 806.3,571.3 806.8,575.4 807.3,573.8 807.8,573.6 808.3,575.3 808.8,572.2 809.3,570.7 809.8,574.1 810.3,570.3 810.8,566.9 811.3,565.7 811.8,569.8 812.3,573.3 812.8,570.4 813.3,567.9 813.8,568.5 814.3,562.2 814.8,564.1 815.3,561.7 815.8,563.4 816.3,557.8 816.8,558.9 817.3,556.1 817.8,553.9 818.3,553.3 818.8,550.4 819.3,551.6 819.8,546.3 820.3,541.3 820.8,547.9 821.3,547.8 821.8,545.9 822.3,547.3 822.8,545.6 823.3,541.9 823.8,539.3 824.3,541.6 824.8,543.9 825.3,545.1 825.8,540.4 826.3,540.4 826.8,543.3 827.3,536.1 827.8,531.4 828.3,526.6 828.8,525.7 829.3,517.0 829.8,508.2 830.3,499.4 830.8,486.5 831.3,474.0 831.8,458.2 832.3,444.2 832.8,428.4 833.3,411.7 833.8,389.9 834.3,369.1 834.8,338.5 835.3,297.0 835.8,252.1 836.3,220.0 836.8,215.3 837.3,245.7 837.8,292.8 838.3,337.0 838.8,364.2 839.3,390.7 839.8,412.7 840.3,429.7 840.8,443.5 841.3,456.9 841.8,466.3 842.3,481.8 842.8,496.2 843.3,508.6 843.8,518.0 844.3,521.4 844.8,532.3 845.3,540.8 845.8,544.4 846.3,550.1 846.8,555.6 847.3,558.4 847.8,560.7 848.3,564.0 848.8,566.2 849.3,564.3 849.8,563.4 850.3,564.8 850.8,566.2 851.3,567.4 851.8,565.0 852.3,566.8 852.8,569.0 853.3,572.7 853.8,571.5 854.3,570.3 854.8,572.4 855.3,571.4 855.8,571.8 856.3,573.6 856.8,572.3 857.3,572.0 857.8,573.0 858.3,570.7 858.8,571.1 859.3,567.2 859.8,571.0 860.3,575.3 860.8,571.9 861.3,572.1 861.8,571.2 862.3,570.3 862.8,573.4 863.3,573.1 863.8,574.9 864.3,571.3 864.8,572.7 865.3,572.1 865.8,572.0 866.3,575.1 866.8,571.7 867.3,572.2 867.8,578.6 868.3,573.9 868.8,573.1 869.3,574.1 869.8,571.6 870.3,573.7 870.8,571.0 871.3,572.1 871.8,572.7 872.3,576.7 872.8,576.1 873.3,578.5 873.8,577.8 874.3,573.0 874.8,574.7 875.3,573.0 875.8,572.8 876.3,576.8 876.8,577.5 877.3,574.8 877.8,574.9 878.3,574.9 878.8,575.0 879.3,574.7 879.8,572.2 880.3,575.0 880.8,572.5 881.3,571.4 881.8,573.6 882.3,575.0 882.8,576.2 883.3,575.4 883.8,574.8 884.3,573.1 884.8,575.0 885.3,575.0 885.8,574.8 886.3,573.3 886.8,578.0 887.3,576.7 887.8,576.1 888.3,574.7 888.8,574.1 889.3,575.9 889.8,571.7 890.3,573.0 890.8,573.8 891.3,575.5 891.8,574.4 892.3,576.9 892.8,571.6 893.3,577.4 893.8,575.9 894.3,576.4 894.8,574.0 895.3,576.5 895.8,574.2 896.3,574.5 896.8,571.6 897.3,575.3 897.8,574.4 898.3,570.5 898.8,573.7 899.3,574.0 899.8,576.0 900.3,573.4 900.8,575.1 901.3,577.1 901.8,573.6 902.3,578.4 902.8,575.5 903.3,573.7 903.8,571.0 904.3,570.6 904.8,575.9 905.3,573.6 905.8,573.4 906.3,576.8 906.8,576.3 907.3,574.5 907.8,570.8 908.3,570.2 908.8,575.9 909.3,574.6 909.8,574.4 910.3,578.3 910.8,574.2 911.3,575.7 911.8,579.3 912.3,576.1 912.8,573.1 913.3,572.7 913.8,576.3 914.3,572.2 914.8,576.1 915.3,577.8 915.8,574.6 916.3,575.8 916.8,574.8 917.3,577.0 917.8,574.6 918.3,572.4 918.8,574.1 919.3,573.6 919.8,571.8 920.3,571.9 920.8,569.7 921.3,570.3 921.8,572.3 922.3,567.6 922.8,570.7 923.3,569.9 923.8,568.3 924.3,571.3 924.8,569.1 925.3,565.4 925.8,565.9 926.3,566.0 926.8,560.5 927.3,562.8 927.8,561.9 928.3,563.4 928.8,566.5 929.3,561.6 929.8,561.8 930.3,561.3 930.8,565.1 931.3,566.5 931.8,562.2 932.3,570.6 932.8,571.7 933.3,563.9 933.8,566.4 934.3,571.5 934.8,572.1 935.3,574.4 935.8,572.5 936.3,575.0 936.8,570.7 937.3,573.7 937.8,572.6 938.3,572.1 938.8,569.9 939.3,573.0 939.8,576.7 940.3,573.1 940.8,573.6 941.3,574.2 941.8,572.4 942.3,574.8 942.8,575.6 943.3,573.6 943.8,570.9 944.3,577.2 944.8,575.1 945.3,574.5 945.8,573.9 946.3,572.8 946.8,570.9 947.3,574.1 947.8,575.2 948.3,577.2 948.8,578.1 949.3,574.0 949.8,577.8 950.3,575.4 950.8,575.5 951.3,572.7 951.8,574.7 952.3,572.8 952.8,575.3 953.3,572.0 953.8,574.0 954.3,573.6 954.8,575.0 955.3,575.0 955.8,574.5 956.3,573.4 956.8,575.9 957.3,575.2 957.8,572.6 958.3,574.9 958.8,572.5 959.3,573.4 959.8,573.1 960.3,573.1 960.8,574.0 961.3,569.5 961.8,574.1 962.3,569.2 962.8,574.1 963.3,572.7 963.8,568.4 964.3,571.2 964.8,569.7 965.3,568.0 965.8,572.3 966.3,572.3 966.8,570.7 967.3,572.4 967.8,569.2 968.3,568.0 968.8,570.4 969.3,566.8 969.8,569.4 970.3,570.2 970.8,568.4 971.3,568.1 971.8,568.9 972.3,568.4 972.8,565.7 973.3,560.5 973.8,566.0 974.3,565.7 974.8,570.3 975.3,568.3 975.8,569.6 976.3,571.0 976.8,571.1 977.3,567.9 977.8,573.2 978.3,571.1 978.8,569.2 979.3,565.9 979.8,570.2 980.3,566.9 980.8,565.3 981.3,560.8 981.8,562.1 982.3,558.0 982.8,551.3 983.3,550.0 983.8,540.3 984.3,539.0 984.8,535.5 985.3,533.0 985.8,530.0 986.3,532.5 986.8,538.7 987.3,543.3 987.8,545.6 988.3,549.3 988.8,553.3 989.3,560.3 989.8,560.7 990.3,561.6 990.8,560.8 991.3,562.5 991.8,565.0 992.3,564.7 992.8,568.7 993.3,569.8 993.8,569.1 994.3,570.6 994.8,571.3 995.3,568.9 995.8,572.9 996.3,567.9 996.8,575.9 997.3,570.8 997.8,572.9 998.3,572.9 998.8,574.1 999.3,572.4 999.8,574.3 1000.3,571.0 1000.8,575.0 1001.3,573.8 1001.8,575.1 1002.3,576.0 1002.8,571.8 1003.3,572.4 1003.8,572.5 1004.3,573.8 1004.8,574.7 1005.3,575.8 1005.8,574.8 1006.3,574.1 1006.8,575.5 1007.3,576.7 1007.8,577.0 1008.3,578.5 1008.8,573.4 1009.3,573.9 1009.8,571.0 1010.3,572.2 1010.8,575.2 1011.3,576.3 1011.8,573.0 1012.3,574.2 1012.8,573.6 1013.3,574.1 1013.8,573.2 1014.3,570.9 1014.8,566.9 1015.3,568.0 1015.8,571.3 1016.3,570.8 1016.8,573.6 1017.3,569.3 1017.8,568.8 1018.3,563.3 1018.8,561.1 1019.3,563.0 1019.8,564.1 1020.3,559.7 1020.8,556.1 1021.3,555.5 1021.8,554.5 1022.3,553.0 1022.8,551.4 1023.3,549.5 1023.8,550.2 1024.3,553.1 1024.8,555.7 1025.3,556.2 1025.8,563.5 1026.3,563.9 1026.8,563.5 1027.3,567.9 1027.8,572.4 1028.3,569.7 1028.8,570.3 1029.3,572.1 1029.8,568.5 1030.3,570.0 1030.8,570.7 1031.3,573.5 1031.8,569.8 1032.3,573.3 1032.8,572.5 1033.3,572.8 1033.8,573.0 1034.3,576.5 1034.8,572.4 1035.3,571.6 1035.8,574.4 1036.3,573.4 1036.8,575.3 1037.3,574.6 1037.8,574.7 1038.3,574.3 1038.8,570.8 1039.3,570.8 1039.8,578.0 1040.3,573.2 1040.8,575.3 1041.3,572.8 1041.8,574.4 1042.3,574.8 1042.8,577.8 1043.3,574.6 1043.8,571.6 1044.3,571.9 1044.8,575.6 1045.3,577.5 1045.8,580.0 1046.3,579.6 1046.8,572.9 1047.3,574.2 1047.8,572.8 1048.3,575.7 1048.8,576.4 1049.3,572.0 1049.8,576.7 1050.3,576.9 1050.8,574.8 1051.3,574.5 1051.8,578.4 1052.3,575.1 1052.8,573.1 1053.3,575.5 1053.8,577.6 1054.3,576.4 1054.8,571.2 1055.3,572.0 1055.8,574.2 1056.3,575.5 1056.8,575.3 1057.3,573.1 1057.8,576.9 1058.3,576.1 1058.8,572.0 1059.3,572.9 1059.8,574.4 1060.3,572.3 1060.8,575.0 1061.3,575.5 1061.8,574.6 1062.3,576.8 1062.8,578.8 1063.3,574.6 1063.8,575.9 1064.3,574.9 1064.8,578.5 1065.3,578.1 1065.8,575.3 1066.3,574.1 1066.8,576.5 1067.3,574.8 1067.8,572.3 1068.3,572.6 1068.8,574.9 1069.3,579.4 1069.8,577.9 1070.3,577.9 1070.8,577.1 1071.3,577.7 1071.8,577.2 1072.3,572.3 1072.8,574.7 1073.3,574.8 1073.8,574.2 1074.3,572.8 1074.8,567.2 1075.3,570.8 1075.8,568.6 1076.3,571.9 1076.8,569.2 1077.3,569.0 1077.8,568.8 1078.3,565.4 1078.8,568.4 1079.3,567.6 1079.8,571.7 1080.3,569.7 1080.8,569.3 1081.3,573.9 1081.8,571.8 1082.3,570.7 1082.8,572.6 1083.3,573.1 1083.8,573.9 1084.3,572.4 1084.8,576.1 1085.3,575.7 1085.8,577.9 1086.3,575.9 1086.8,573.2 1087.3,576.5 1087.8,574.6 1088.3,574.3 1088.8,569.7 1089.3,572.1 1089.8,577.5 1090.3,576.9 1090.8,571.8 1091.3,575.0 1091.8,575.8 1092.3,576.9 1092.8,572.3 1093.3,570.9 1093.8,574.3 1094.3,572.8 1094.8,572.4 1095.3,572.2 1095.8,575.4 1096.3,572.0 1096.8,574.5 1097.3,573.6 1097.8,571.0 1098.3,573.4 1098.8,573.6 1099.3,571.3 1099.8,569.8 1100.3,570.8 1100.8,568.4 1101.3,570.7 1101.8,572.5 1102.3,567.4 1102.8,566.9 1103.3,571.7 1103.8,569.9 1104.3,571.0 1104.8,572.5 1105.3,571.8 1105.8,573.2 1106.3,571.7 1106.8,572.6 1107.3,574.0 1107.8,575.3 1108.3,574.0 1108.8,575.4 1109.3,576.2 1109.8,576.0 1110.3,575.2 1110.8,577.3 1111.3,574.2 1111.8,577.2 1112.3,577.5 1112.8,577.0 1113.3,574.7 1113.8,577.1 1114.3,576.1 1114.8,573.1 1115.3,574.0 1115.8,572.8 1116.3,576.1 1116.8,578.3 1117.3,577.2 1117.8,573.4 1118.3,573.1 1118.8,574.7 1119.3,575.2 1119.8,576.7 1120.3,575.2 1120.8,577.3 1121.3,574.9 1121.8,576.9 1122.3,572.8 1122.8,574.0 1123.3,575.6 1123.8,577.2 1124.3,576.4 1124.8,573.6 1125.3,572.7 1125.8,575.0 1126.3,575.2 1126.8,574.7 1127.3,575.0 1127.8,573.0 1128.3,576.3 1128.8,577.2 1129.3,573.8 1129.8,573.9 1130.3,577.8 1130.8,577.6 1131.3,574.0 1131.8,573.5 1132.3,572.1 1132.8,576.0 1133.3,576.0 1133.8,576.1 1134.3,579.7 1134.8,575.7 1135.3,575.3 1135.8,575.9 1136.3,575.4 1136.8,577.5 1137.3,575.5 1137.8,576.2 1138.3,579.6 1138.8,574.6 1139.3,573.1 1139.8,575.3 1140.3,574.2 1140.8,574.2 1141.3,575.9 1141.8,576.7 1142.3,572.7 1142.8,574.1 1143.3,571.7 1143.8,576.4 1144.3,573.9 1144.8,576.8 1145.3,579.3 1145.8,578.5 1146.3,576.0 1146.8,572.2 1147.3,578.3 1147.8,575.3 1148.3,576.6 1148.8,574.6 1149.3,575.2 1149.8,577.9 1150.3,572.3 1150.8,572.5 1151.3,574.7 1151.8,576.6 1152.3,571.2 1152.8,577.0 1153.3,575.0 1153.8,577.2 1154.3,580.6 1154.8,577.2 1155.3,577.9 1155.8,578.1 1156.3,575.1 1156.8,575.5 1157.3,575.1 1157.8,575.6 1158.3,574.7 1158.8,574.1 1159.3,574.2 1159.8,576.2 1160.3,573.0 1160.8,575.5 1161.3,577.5 1161.8,572.6 1162.3,571.8 1162.8,575.9 1163.3,573.7 1163.8,573.8 1164.3,576.3 1164.8,575.8 1165.3,573.9 1165.8,574.0 1166.3,572.2 1166.8,573.6 1167.3,575.0 1167.8,576.3 1168.3,576.8 1168.8,578.4 1169.3,575.6 1169.8,576.9 1170.3,575.5 1170.8,573.3 1171.3,575.4 1171.8,575.8 1172.3,576.3 1172.8,575.9 1173.3,574.9 1173.8,573.0 1174.3,574.0 1174.8,575.2 1175.3,576.1 1175.8,576.3 1176.3,575.5 1176.8,576.0 1177.3,577.2 1177.8,574.8 1178.3,572.8 1178.8,571.3 1179.3,573.8 1179.8,574.9 1180.3,573.6 1180.8,576.1 1181.3,572.2 1181.8,572.5 1182.3,572.9 1182.8,571.2 1183.3,574.4 1183.8,571.5 1184.3,570.0 1184.8,569.2 1185.3,574.1 1185.8,574.7 1186.3,570.3 1186.8,569.1 1187.3,570.7 1187.8,571.5 1188.3,570.7 1188.8,572.0 1189.3,570.0 1189.8,574.8 1190.3,572.5 1190.8,572.7 1191.3,570.5 1191.8,572.7 1192.3,573.6 1192.8,569.5 1193.3,570.5 1193.8,572.1 1194.3,570.8 1194.8,568.3 1195.3,568.8 1195.8,570.7 1196.3,570.1 1196.8,568.4 1197.3,569.3 1197.8,565.3 1198.3,569.1 1198.8,571.2 1199.3,571.0 1199.8,568.7 1200.3,569.5 1200.8,569.6 1201.3,568.7 1201.8,567.2 1202.3,566.1 1202.8,567.3 1203.3,566.2 1203.8,565.2 1204.3,570.4 1204.8,566.6 1205.3,567.4 1205.8,567.4 1206.3,565.9 1206.8,569.0 1207.3,566.6 1207.8,571.8 1208.3,567.1 1208.8,567.6 1209.3,569.0 1209.8,569.3 1210.3,569.9 1210.8,572.1 1211.3,573.2 1211.8,574.4 1212.3,569.0 1212.8,572.2 1213.3,571.9 1213.8,569.7 1214.3,568.5 1214.8,574.7 1215.3,572.6 1215.8,567.5 1216.3,572.4 1216.8,571.1 1217.3,570.4 1217.8,570.8 1218.3,568.3 1218.8,568.9 1219.3,570.3 1219.8,566.4 1220.3,565.2 1220.8,565.0 1221.3,568.9 1221.8,566.2 1222.3,566.9 1222.8,567.1 1223.3,569.0 1223.8,568.6 1224.3,567.1 1224.8,570.7 1225.3,569.7 1225.8,569.3 1226.3,568.1 1226.8,568.4 1227.3,569.0 1227.8,569.9 1228.3,571.1 1228.8,571.4 1229.3,570.5 1229.8,571.1 1230.3,573.1 1230.8,574.5 1231.3,574.7 1231.8,572.4 1232.3,570.4 1232.8,572.9 1233.3,573.5 1233.8,573.6 1234.3,574.3 1234.8,572.9 1235.3,573.3 1235.8,570.1 1236.3,576.6 1236.8,574.4 1237.3,573.6 1237.8,574.9 1238.3,573.6 1238.8,573.0 1239.3,575.5 1239.8,574.3 1240.3,573.1 1240.8,575.3 1241.3,575.1 1241.8,574.8 1242.3,573.8 1242.8,575.6 1243.3,572.8 1243.8,575.5 1244.3,576.5 1244.8,572.5 1245.3,573.4 1245.8,570.4 1246.3,572.7 1246.8,570.0 1247.3,570.5 1247.8,573.4 1248.3,575.1 1248.8,573.9 1249.3,572.2 1249.8,571.0 1250.3,572.6 1250.8,576.6 1251.3,574.4 1251.8,569.0 1252.3,568.8 1252.8,567.5 1253.3,570.1 1253.8,567.9 1254.3,564.8 1254.8,565.6 1255.3,563.8 1255.8,561.2 1256.3,560.6 1256.8,560.3 1257.3,554.9 1257.8,552.4 1258.3,547.9 1258.8,546.8 1259.3,547.1 1259.8,543.2 1260.3,538.8 1260.8,538.2 1261.3,541.3 1261.8,540.4 1262.3,541.9 1262.8,547.1 1263.3,547.6 1263.8,550.1 1264.3,554.6 1264.8,554.8 1265.3,558.4 1265.8,560.4 1266.3,563.8 1266.8,565.7 1267.3,570.2 1267.8,569.7 1268.3,569.3 1268.8,570.7 1269.3,570.2 1269.8,571.5 1270.3,572.6 1270.8,573.1 1271.3,574.9 1271.8,573.6 1272.3,571.6 1272.8,572.9 1273.3,571.6 1273.8,576.0 1274.3,570.4 1274.8,572.9 1275.3,574.2 1275.8,572.0 1276.3,573.0 1276.8,575.2 1277.3,572.2 1277.8,575.2 1278.3,573.7 1278.8,573.8 1279.3,577.7 1279.8,576.1 1280.3,575.0 1280.8,573.9 1281.3,574.5 1281.8,574.5 1282.3,577.6 1282.8,575.0 1283.3,573.1 1283.8,573.5 1284.3,574.8 1284.8,572.5 1285.3,572.6 1285.8,571.0 1286.3,570.7 1286.8,578.0 1287.3,575.2 1287.8,577.9 1288.3,576.2 1288.8,575.1 1289.3,572.8 1289.8,574.4 1290.3,574.8 1290.8,573.4 1291.3,576.1 1291.8,577.2 1292.3,576.0 1292.8,574.9 1293.3,572.5 1293.8,579.5 1294.3,576.6 1294.8,572.7 1295.3,572.4 1295.8,573.2 1296.3,573.0 1296.8,574.5 1297.3,573.4 1297.8,574.8 1298.3,574.1 1298.8,574.0 1299.3,572.8 1299.8,575.0 1300.3,575.2 1300.8,573.2 1301.3,571.9 1301.8,574.2 1302.3,571.6 1302.8,573.2 1303.3,575.8 1303.8,577.2 1304.3,574.8 1304.8,575.7 1305.3,577.0 1305.8,573.3 1306.3,574.0 1306.8,575.6 1307.3,577.0 1307.8,572.9 1308.3,572.8 1308.8,576.6 1309.3,577.1 1309.8,574.1 1310.3,575.1 1310.8,576.6 1311.3,574.3 1311.8,571.6 1312.3,575.1 1312.8,576.3 1313.3,573.3 1313.8,576.8 1314.3,574.3 1314.8,571.8 1315.3,574.5 1315.8,572.7 1316.3,577.1 1316.8,576.5 1317.3,577.7 1317.8,572.5 1318.3,575.1 1318.8,577.8 1319.3,577.5 1319.8,576.4 1320.3,575.9 1320.8,576.4 1321.3,577.3 1321.8,577.9 1322.3,572.1 1322.8,572.7 1323.3,573.8 1323.8,575.3 1324.3,575.6 1324.8,574.4 1325.3,575.0 1325.8,576.6 1326.3,577.1 1326.8,573.8 1327.3,574.4 1327.8,575.6 1328.3,579.2 1328.8,574.5 1329.3,575.4 1329.8,575.1 1330.3,574.5 1330.8,576.5 1331.3,575.0 1331.8,574.2 1332.3,575.1 1332.8,575.3 1333.3,573.8 1333.8,573.8 1334.3,576.6 1334.8,574.5 1335.3,576.4 1335.8,574.7 1336.3,573.2 1336.8,572.4 1337.3,571.9 1337.8,575.9 1338.3,576.1 1338.8,574.1 1339.3,572.8 1339.8,573.7 1340.3,575.3 1340.8,576.9 1341.3,573.7 1341.8,571.9 1342.3,574.8 1342.8,574.1 1343.3,572.9 1343.8,571.6 1344.3,575.7 1344.8,577.1 1345.3,573.1 1345.8,571.9 1346.3,573.4 1346.8,574.3 1347.3,575.6 1347.8,574.7 1348.3,571.9 1348.8,574.9 1349.3,575.2 1349.8,574.0 1350.3,574.8 1350.8,572.4 1351.3,573.5 1351.8,572.3 1352.3,574.6 1352.8,575.6 1353.3,571.6 1353.8,574.5 1354.3,576.1 1354.8,575.7 1355.3,577.5 1355.8,575.5 1356.3,578.5 1356.8,575.2 1357.3,572.7 1357.8,574.1 1358.3,573.9 1358.8,577.1 1359.3,578.3 1359.8,578.3 1360.3,576.6 1360.8,574.7 1361.3,573.6 1361.8,573.0 1362.3,575.5 1362.8,572.9 1363.3,574.3 1363.8,575.4 1364.3,575.4 1364.8,572.4 1365.3,572.3 1365.8,572.9 1366.3,575.9 1366.8,573.0 1367.3,573.3 1367.8,576.0 1368.3,577.1 1368.8,578.4 1369.3,575.6 1369.8,576.2 1370.3,572.4 1370.8,575.9 1371.3,576.9 1371.8,576.8 1372.3,574.8 1372.8,577.8 1373.3,578.2 1373.8,575.5 1374.3,575.2 1374.8,574.5 1375.3,574.6 1375.8,574.8 1376.3,572.7 1376.8,572.5 1377.3,574.3 1377.8,574.4 1378.3,576.6 1378.8,574.8 1379.3,573.1 1379.8,571.9 1380.3,573.9 1380.8,572.9 1381.3,572.3 1381.8,577.5 1382.3,572.7 1382.8,578.2 1383.3,580.7 1383.8,576.0 1384.3,574.6 1384.8,576.0 1385.3,573.9 1385.8,575.5 1386.3,576.3 1386.8,573.7 1387.3,577.5 1387.8,575.8 1388.3,576.0 1388.8,577.2 1389.3,572.9 1389.8,572.9 1390.3,575.5 1390.8,575.9 1391.3,574.9 1391.8,575.0 1392.3,574.6 1392.8,573.3 1393.3,572.7 1393.8,573.7 1394.3,575.4 1394.8,575.7 1395.3,573.6 1395.8,578.3 1396.3,579.5 1396.8,575.9 1397.3,573.9 1397.8,574.9 1398.3,576.5 1398.8,575.7 1399.3,578.3 1399.8,575.4 1400.3,576.8 1400.8,576.7 1401.3,579.1 1401.8,576.5 1402.3,575.9 1402.8,573.9 1403.3,574.3 1403.8,573.7 1404.3,580.3 1404.8,576.0 1405.3,575.0 1405.8,575.4 1406.3,576.1 1406.8,575.9 1407.3,572.8 1407.8,577.0 1408.3,575.7 1408.8,575.6 1409.3,578.3 1409.8,575.9 1410.3,573.9 1410.8,573.9 1411.3,576.4 1411.8,575.6 1412.3,575.2 1412.8,573.2 1413.3,575.1 1413.8,574.0 1414.3,574.1 1414.8,577.3 1415.3,576.0 1415.8,575.1 1416.3,577.2 1416.8,578.2 1417.3,573.4 1417.8,576.5 1418.3,575.9 1418.8,575.5 1419.3,577.7 1419.8,576.9 1420.3,575.0 1420.8,577.2 1421.3,575.2 1421.8,574.9 1422.3,573.1 1422.8,575.2 1423.3,576.2 1423.8,574.8 1424.3,575.5 1424.8,577.3 1425.3,575.1 1425.8,574.5 1426.3,577.7 1426.8,573.9 1427.3,570.9 1427.8,572.5 1428.3,574.2 1428.8,572.9 1429.3,572.9 1429.8,574.1 1430.3,574.7 1430.8,574.7 1431.3,575.3 1431.8,577.6 1432.3,581.0 1432.8,577.9 1433.3,576.3 1433.8,574.2 1434.3,574.9 1434.8,573.4 1435.3,574.6 1435.8,573.6 1436.3,577.0 1436.8,578.9 1437.3,577.7 1437.8,579.3 1438.3,574.0 1438.8,576.2 1439.3,575.0 1439.8,575.0 1440.3,573.2 1440.8,574.6 1441.3,574.6 1441.8,574.0 1442.3,576.7 1442.8,576.5 1443.3,576.7 1443.8,574.0 1444.3,573.2 1444.8,572.8 1445.3,575.8 1445.8,576.2 1446.3,574.4 1446.8,573.2 1447.3,574.4 1447.8,575.1 1448.3,575.0 1448.8,574.0 1449.3,575.9 1449.8,575.9 1450.3,572.6 1450.8,573.9 1451.3,573.4 1451.8,571.1 1452.3,572.1 1452.8,573.6 1453.3,574.7 1453.8,571.8 1454.3,571.7 1454.8,571.9 1455.3,571.2 1455.8,569.8 1456.3,572.8 1456.8,571.6 1457.3,572.3 1457.8,572.4 1458.3,570.4 1458.8,569.2 1459.3,569.4 1459.8,569.6 1460.3,569.1 1460.8,569.5 1461.3,568.0 1461.8,569.2 1462.3,569.4 1462.8,570.7 1463.3,571.6 1463.8,573.6 1464.3,572.9 1464.8,571.9 1465.3,570.8 1465.8,571.0 1466.3,571.5 1466.8,570.8 1467.3,571.1 1467.8,570.1 1468.3,571.8 1468.8,570.3 1469.3,570.8 1469.8,571.6 1470.3,576.1 1470.8,573.3 1471.3,573.8 1471.8,571.0 1472.3,573.3 1472.8,572.7 1473.3,574.3 1473.8,572.4 1474.3,571.5 1474.8,574.2 1475.3,573.3 1475.8,571.3 1476.3,572.8 1476.8,572.2 1477.3,574.5 1477.8,573.9 1478.3,574.0 1478.8,572.5 1479.3,575.4 1479.8,573.0 1480.3,573.8 1480.8,573.2 1481.3,573.2 1481.8,571.4 1482.3,573.1 1482.8,573.4 1483.3,571.2 1483.8,573.7 1484.3,570.9 1484.8,570.8 1485.3,570.7 1485.8,572.6 1486.3,569.8 1486.8,569.0 1487.3,569.4 1487.8,568.5 1488.3,568.6 1488.8,565.1 1489.3,563.1 1489.8,561.4 1490.3,560.2 1490.8,561.0 1491.3,559.3 1491.8,556.8 1492.3,555.5 1492.8,552.4 1493.3,556.5 1493.8,556.4 1494.3,553.5 1494.8,556.6 1495.3,559.4 1495.8,563.1 1496.3,563.4 1496.8,566.2 1497.3,568.1 1497.8,567.8 1498.3,566.1 1498.8,566.4 1499.3,569.1 1499.8,571.7 1500.3,571.7 1500.8,569.9 1501.3,572.8 1501.8,571.3 1502.3,572.4 1502.8,574.7 1503.3,573.8 1503.8,572.8 1504.3,572.6 1504.8,574.0 1505.3,574.6 1505.8,574.0 1506.3,573.3 1506.8,575.2 1507.3,575.8 1507.8,573.3 1508.3,575.4 1508.8,574.0 1509.3,574.6 1509.8,576.1 1510.3,573.3 1510.8,574.9 1511.3,577.9 1511.8,577.6 1512.3,574.4 1512.8,573.7 1513.3,577.0 1513.8,576.0 1514.3,575.5 1514.8,573.1 1515.3,574.9 1515.8,573.0 1516.3,575.1 1516.8,578.4 1517.3,578.0 1517.8,578.1 1518.3,576.0 1518.8,576.0 1519.3,575.4 1519.8,578.4 1520.3,574.9 1520.8,573.2 1521.3,574.8 1521.8,577.0 1522.3,575.1 1522.8,575.5 1523.3,573.3 1523.8,574.1 1524.3,573.3 1524.8,573.6 1525.3,575.1 1525.8,576.8 1526.3,578.8 1526.8,576.7 1527.3,573.9 1527.8,573.4 1528.3,573.1 1528.8,575.0 1529.3,574.1 1529.8,574.9 1530.3,574.2 1530.8,577.7 1531.3,575.7 1531.8,576.7 1532.3,575.9 1532.8,578.8 1533.3,574.1 1533.8,576.6 1534.3,578.0 1534.8,576.3 1535.3,577.3 1535.8,576.2 1536.3,577.6 1536.8,576.5 1537.3,578.3 1537.8,574.1 1538.3,576.7 1538.8,575.3 1539.3,575.4 1539.8,576.7 1540.3,575.0 1540.8,575.0 1541.3,576.5 1541.8,574.4 1542.3,575.6 1542.8,577.4 1543.3,575.2 1543.8,577.5 1544.3,574.7 1544.8,576.2 1545.3,575.9 1545.8,574.1 1546.3,576.6 1546.8,574.3 1547.3,578.1 1547.8,578.4 1548.3,575.3 1548.8,575.9 1549.3,575.4 1549.8,573.6 1550.3,574.4 1550.8,575.7 1551.3,576.2 1551.8,577.7 1552.3,575.4 1552.8,575.2 1553.3,577.0 1553.8,577.2 1554.3,575.8 1554.8,576.2 1555.3,575.1 1555.8,575.2 1556.3,572.4 1556.8,573.1 1557.3,576.8 1557.8,575.0 1558.3,574.3 1558.8,577.0 1559.3,579.4 1559.8,578.1 1560.3,576.9 1560.8,576.5 1561.3,579.2 1561.8,579.1 1562.3,576.8 1562.8,575.7 1563.3,576.4 1563.8,577.0 1564.3,576.0 1564.8,575.3 1565.3,574.9 1565.8,573.8 1566.3,575.5 1566.8,576.2 1567.3,574.0 1567.8,574.7 1568.3,577.2 1568.8,575.1 1569.3,576.2 1569.8,574.1 1570.3,572.9"/></defs>
<use href="#c1" fill="none" stroke="#484848" stroke-width="5.0" stroke-linejoin="round" stroke-linecap="round"/>
<defs><polyline id="c2" points="115.8,812.7 116.3,810.7 116.8,811.2 117.3,808.4 117.8,812.0 118.3,808.8 118.8,811.1 119.3,811.4 119.8,811.9 120.3,818.5 120.8,812.9 121.3,813.8 121.8,814.6 122.3,810.9 122.8,814.9 123.3,813.6 123.8,814.3 124.3,810.2 124.8,810.1 125.3,815.2 125.8,814.6 126.3,813.7 126.8,814.6 127.3,813.6 127.8,808.8 128.3,805.5 128.8,806.1 129.3,805.9 129.8,805.8 130.3,809.5 130.8,811.1 131.3,812.6 131.8,813.2 132.3,812.0 132.8,812.1 133.3,812.4 133.8,810.2 134.3,810.7 134.8,812.3 135.3,811.1 135.8,811.3 136.3,813.4 136.8,816.6 137.3,814.6 137.8,812.3 138.3,811.6 138.8,814.0 139.3,816.9 139.8,807.3 140.3,813.0 140.8,814.8 141.3,815.1 141.8,812.5 142.3,818.7 142.8,817.3 143.3,814.2 143.8,813.5 144.3,812.0 144.8,813.3 145.3,813.9 145.8,816.2 146.3,815.2 146.8,814.2 147.3,815.8 147.8,815.7 148.3,813.8 148.8,810.9 149.3,814.8 149.8,811.1 150.3,810.7 150.8,813.4 151.3,816.1 151.8,816.8 152.3,811.7 152.8,817.7 153.3,818.8 153.8,813.9 154.3,813.1 154.8,812.3 155.3,811.6 155.8,809.6 156.3,809.2 156.8,813.0 157.3,816.0 157.8,818.4 158.3,811.8 158.8,808.8 159.3,813.2 159.8,813.6 160.3,814.9 160.8,813.0 161.3,810.8 161.8,812.6 162.3,816.3 162.8,815.2 163.3,813.0 163.8,815.4 164.3,811.4 164.8,812.7 165.3,814.1 165.8,810.8 166.3,811.1 166.8,814.1 167.3,814.5 167.8,813.9 168.3,812.7 168.8,811.5 169.3,814.2 169.8,821.6 170.3,816.3 170.8,818.0 171.3,815.4 171.8,818.9 172.3,819.2 172.8,816.6 173.3,813.1 173.8,812.0 174.3,815.9 174.8,811.9 175.3,812.3 175.8,819.1 176.3,819.8 176.8,816.1 177.3,814.4 177.8,813.8 178.3,815.5 178.8,813.5 179.3,810.9 179.8,812.7 180.3,814.5 180.8,811.1 181.3,812.1 181.8,816.1 182.3,819.7 182.8,816.9 183.3,816.7 183.8,819.4 184.3,813.4 184.8,813.3 185.3,817.4 185.8,818.4 186.3,815.0 186.8,809.0 187.3,814.9 187.8,815.8 188.3,813.8 188.8,814.1 189.3,813.6 189.8,807.9 190.3,801.6 190.8,797.6 191.3,799.8 191.8,799.5 192.3,801.0 192.8,803.1 193.3,809.0 193.8,812.9 194.3,813.1 194.8,811.5 195.3,815.9 195.8,814.5 196.3,809.5 196.8,814.0 197.3,810.2 197.8,812.2 198.3,817.9 198.8,817.6 199.3,814.1 199.8,813.5 200.3,815.1 200.8,812.0 201.3,815.7 201.8,815.9 202.3,817.5 202.8,815.4 203.3,813.3 203.8,815.5 204.3,814.3 204.8,811.5 205.3,811.5 205.8,812.6 206.3,815.6 206.8,817.3 207.3,815.0 207.8,812.1 208.3,813.7 208.8,816.6 209.3,816.9 209.8,812.7 210.3,813.6 210.8,811.0 211.3,806.0 211.8,806.2 212.3,806.6 212.8,804.5 213.3,800.8 213.8,795.6 214.3,790.2 214.8,779.0 215.3,769.3 215.8,766.0 216.3,761.7 216.8,765.2 217.3,769.7 217.8,780.8 218.3,784.5 218.8,791.6 219.3,802.8 219.8,809.5 220.3,808.5 220.8,814.8 221.3,817.1 221.8,815.7 222.3,812.4 222.8,808.0 223.3,809.1 223.8,812.4 224.3,815.9 224.8,815.0 225.3,814.0 225.8,814.7 226.3,812.3 226.8,815.4 227.3,814.8 227.8,818.8 228.3,816.9 228.8,814.2 229.3,813.6 229.8,812.2 230.3,815.1 230.8,813.9 231.3,816.0 231.8,819.0 232.3,817.9 232.8,818.9 233.3,822.8 233.8,819.5 234.3,818.3 234.8,814.4 235.3,811.9 235.8,813.4 236.3,809.3 236.8,805.5 237.3,811.9 237.8,811.4 238.3,807.7 238.8,809.7 239.3,805.0 239.8,799.8 240.3,795.9 240.8,795.5 241.3,788.5 241.8,783.6 242.3,781.0 242.8,779.6 243.3,780.0 243.8,785.4 244.3,791.0 244.8,797.9 245.3,799.1 245.8,805.2 246.3,806.1 246.8,807.2 247.3,810.4 247.8,812.6 248.3,814.2 248.8,815.9 249.3,814.9 249.8,811.5 250.3,814.3 250.8,819.7 251.3,815.9 251.8,811.3 252.3,817.1 252.8,822.1 253.3,821.3 253.8,818.6 254.3,818.7 254.8,819.4 255.3,817.7 255.8,817.8 256.3,821.5 256.8,818.8 257.3,819.5 257.8,814.7 258.3,814.9 258.8,815.5 259.3,818.4 259.8,816.9 260.3,816.1 260.8,816.1 261.3,819.0 261.8,820.7 262.3,818.2 262.8,819.8 263.3,818.7 263.8,817.4 264.3,819.9 264.8,820.5 265.3,813.7 265.8,819.8 266.3,823.1 266.8,819.6 267.3,820.7 267.8,821.4 268.3,820.1 268.8,819.7 269.3,821.6 269.8,820.9 270.3,818.3 270.8,817.3 271.3,813.5 271.8,813.5 272.3,813.2 272.8,811.1 273.3,809.0 273.8,810.9 274.3,808.2 274.8,805.8 275.3,800.5 275.8,800.7 276.3,801.4 276.8,804.7 277.3,811.5 277.8,815.1 278.3,812.0 278.8,812.5 279.3,812.6 279.8,813.6 280.3,817.1 280.8,815.4 281.3,814.9 281.8,818.6 282.3,818.4 282.8,819.4 283.3,820.3 283.8,821.8 284.3,821.7 284.8,821.7 285.3,819.6 285.8,819.3 286.3,820.5 286.8,820.6 287.3,821.0 287.8,821.8 288.3,824.5 288.8,820.3 289.3,820.1 289.8,820.0 290.3,821.0 290.8,816.0 291.3,814.4 291.8,818.9 292.3,818.1 292.8,815.2 293.3,813.0 293.8,816.1 294.3,814.4 294.8,811.6 295.3,811.5 295.8,813.1 296.3,817.7 296.8,815.6 297.3,813.8 297.8,816.1 298.3,820.8 298.8,820.4 299.3,817.3 299.8,816.1 300.3,818.0 300.8,820.2 301.3,819.2 301.8,819.0 302.3,820.0 302.8,818.7 303.3,817.1 303.8,816.4 304.3,817.5 304.8,818.9 305.3,821.3 305.8,821.0 306.3,819.9 306.8,822.6 307.3,819.6 307.8,822.2 308.3,819.0 308.8,820.4 309.3,823.7 309.8,823.5 310.3,820.0 310.8,820.5 311.3,818.8 311.8,820.7 312.3,822.1 312.8,821.4 313.3,825.1 313.8,824.1 314.3,823.2 314.8,820.7 315.3,821.2 315.8,822.8 316.3,824.3 316.8,823.6 317.3,820.7 317.8,818.9 318.3,819.7 318.8,826.7 319.3,826.5 319.8,825.7 320.3,823.4 320.8,826.7 321.3,824.2 321.8,822.2 322.3,819.7 322.8,818.4 323.3,822.3 323.8,822.0 324.3,820.6 324.8,817.0 325.3,815.1 325.8,817.8 326.3,823.4 326.8,825.2 327.3,819.7 327.8,817.8 328.3,814.7 328.8,815.1 329.3,816.5 329.8,813.4 330.3,813.2 330.8,812.6 331.3,806.3 331.8,801.7 332.3,804.8 332.8,802.8 333.3,802.3 333.8,804.4 334.3,806.8 334.8,810.5 335.3,809.7 335.8,813.3 336.3,813.8 336.8,817.4 337.3,820.2 337.8,820.4 338.3,823.8 338.8,820.6 339.3,818.8 339.8,820.7 340.3,821.2 340.8,821.2 341.3,820.4 341.8,820.3 342.3,821.0 342.8,816.7 343.3,819.6 343.8,817.6 344.3,816.8 344.8,815.5 345.3,817.0 345.8,809.3 346.3,807.7 346.8,807.9 347.3,806.3 347.8,799.2 348.3,798.0 348.8,794.6 349.3,785.7 349.8,781.2 350.3,788.6 350.8,791.9 351.3,796.9 351.8,804.1 352.3,807.6 352.8,808.4 353.3,811.6 353.8,812.6 354.3,816.6 354.8,817.8 355.3,819.2 355.8,818.1 356.3,820.1 356.8,821.5 357.3,822.2 357.8,820.4 358.3,816.9 358.8,820.9 359.3,819.9 359.8,823.6 360.3,822.6 360.8,821.9 361.3,821.9 361.8,825.7 362.3,822.6 362.8,826.4 363.3,829.2 363.8,831.9 364.3,827.9 364.8,823.1 365.3,820.4 365.8,820.1 366.3,820.1 366.8,825.8 367.3,824.3 367.8,821.5 368.3,824.6 368.8,824.7 369.3,826.2 369.8,824.4 370.3,821.4 370.8,823.9 371.3,825.9 371.8,824.5 372.3,823.3 372.8,820.6 373.3,821.6 373.8,824.0 374.3,825.3 374.8,822.7 375.3,823.8 375.8,827.9 376.3,822.6 376.8,822.1 377.3,821.4 377.8,823.7 378.3,826.1 378.8,826.3 379.3,825.8 379.8,826.8 380.3,824.7 380.8,824.5 381.3,822.1 381.8,824.8 382.3,823.1 382.8,825.0 383.3,821.2 383.8,822.6 384.3,822.7 384.8,821.6 385.3,820.4 385.8,822.0 386.3,817.8 386.8,812.3 387.3,812.3 387.8,814.5 388.3,812.1 388.8,816.8 389.3,814.0 389.8,812.7 390.3,818.7 390.8,815.9 391.3,811.7 391.8,818.8 392.3,819.3 392.8,822.7 393.3,825.1 393.8,825.2 394.3,822.3 394.8,820.3 395.3,825.6 395.8,824.4 396.3,822.8 396.8,819.6 397.3,821.1 397.8,823.2 398.3,823.0 398.8,822.9 399.3,819.9 399.8,818.6 400.3,822.3 400.8,822.6 401.3,824.7 401.8,824.4 402.3,820.0 402.8,818.4 403.3,820.3 403.8,817.7 404.3,813.3 404.8,816.1 405.3,812.7 405.8,809.8 406.3,808.0 406.8,811.4 407.3,815.6 407.8,818.0 408.3,821.7 408.8,821.7 409.3,818.6 409.8,820.2 410.3,820.8 410.8,820.5 411.3,820.6 411.8,820.4 412.3,821.0 412.8,823.4 413.3,825.5 413.8,826.7 414.3,822.7 414.8,820.9 415.3,816.9 415.8,822.4 416.3,824.6 416.8,823.5 417.3,824.0 417.8,822.4 418.3,821.7 418.8,820.5 419.3,820.5 419.8,820.7 420.3,827.0 420.8,827.5 421.3,825.5 421.8,825.6 422.3,828.7 422.8,826.7 423.3,823.9 423.8,825.1 424.3,826.1 424.8,826.2 425.3,825.1 425.8,821.1 426.3,821.4 426.8,820.4 427.3,824.6 427.8,823.8 428.3,823.4 428.8,830.3 429.3,829.2 429.8,825.4 430.3,826.6 430.8,825.0 431.3,827.6 431.8,827.4 432.3,825.1 432.8,827.5 433.3,830.4 433.8,828.1 434.3,823.7 434.8,826.3 435.3,827.7 435.8,827.2 436.3,827.9 436.8,823.4 437.3,820.8 437.8,827.1 438.3,823.8 438.8,823.8 439.3,822.4 439.8,825.9 440.3,823.5 440.8,825.0 441.3,826.1 441.8,829.5 442.3,830.6 442.8,828.2 443.3,827.4 443.8,825.4 444.3,823.7 444.8,821.0 445.3,820.7 445.8,814.9 446.3,816.1 446.8,811.4 447.3,806.0 447.8,802.0 448.3,794.0 448.8,796.8 449.3,804.9 449.8,809.6 450.3,815.4 450.8,817.2 451.3,818.0 451.8,822.6 452.3,824.1 452.8,825.4 453.3,826.8 453.8,828.8 454.3,823.3 454.8,823.8 455.3,827.4 455.8,824.0 456.3,825.5 456.8,828.0 457.3,827.0 457.8,826.5 458.3,824.3 458.8,821.5 459.3,826.3 459.8,827.7 460.3,826.3 460.8,824.4 461.3,825.5 461.8,826.1 462.3,823.6 462.8,822.0 463.3,820.8 463.8,822.0 464.3,818.0 464.8,817.7 465.3,817.7 465.8,808.8 466.3,807.7 466.8,809.5 467.3,808.6 467.8,811.8 468.3,810.4 468.8,813.8 469.3,820.0 469.8,818.9 470.3,821.3 470.8,823.0 471.3,825.7 471.8,822.0 472.3,824.0 472.8,826.7 473.3,827.5 473.8,825.5 474.3,825.5 474.8,824.0 475.3,828.0 475.8,826.2 476.3,826.4 476.8,827.7 477.3,824.3 477.8,822.8 478.3,823.8 478.8,823.2 479.3,816.0 479.8,813.6 480.3,816.2 480.8,813.1 481.3,810.8 481.8,809.7 482.3,800.5 482.8,793.7 483.3,788.5 483.8,778.4 484.3,774.3 484.8,772.9 485.3,776.3 485.8,781.6 486.3,785.9 486.8,793.6 487.3,799.4 487.8,803.8 488.3,810.7 488.8,812.2 489.3,812.7 489.8,813.9 490.3,817.1 490.8,818.2 491.3,822.4 491.8,824.4 492.3,822.0 492.8,821.2 493.3,822.8 493.8,825.0 494.3,823.5 494.8,825.1 495.3,822.4 495.8,820.3 496.3,828.0 496.8,828.0 497.3,825.6 497.8,826.0 498.3,827.2 498.8,829.5 499.3,826.3 499.8,826.4 500.3,825.4 500.8,825.1 501.3,827.3 501.8,827.5 502.3,826.9 502.8,830.0 503.3,822.4 503.8,827.7 504.3,824.5 504.8,824.7 505.3,828.2 505.8,829.9 506.3,829.6 506.8,825.6 507.3,830.2 507.8,826.0 508.3,827.9 508.8,830.1 509.3,827.9 509.8,827.4 510.3,828.9 510.8,826.9 511.3,825.2 511.8,829.5 512.3,830.5 512.8,829.3 513.3,829.0 513.8,830.4 514.3,830.6 514.8,830.5 515.3,827.5 515.8,823.2 516.3,827.6 516.8,828.9 517.3,829.5 517.8,829.1 518.3,821.9 518.8,818.4 519.3,825.3 519.8,825.2 520.3,821.1 520.8,817.0 521.3,818.4 521.8,812.7 522.3,811.9 522.8,806.6 523.3,804.6 523.8,800.5 524.3,808.4 524.8,810.9 525.3,813.0 525.8,819.4 526.3,826.9 526.8,821.7 527.3,819.6 527.8,824.6 528.3,822.3 528.8,823.8 529.3,827.4 529.8,826.3 530.3,824.4 530.8,822.8 531.3,817.2 531.8,810.7 532.3,807.2 532.8,800.8 533.3,794.3 533.8,788.2 534.3,786.3 534.8,788.4 535.3,791.0 535.8,798.3 536.3,807.1 536.8,814.2 537.3,814.6 537.8,814.6 538.3,820.9 538.8,819.1 539.3,820.5 539.8,821.8 540.3,823.1 540.8,820.1 541.3,824.7 541.8,823.2 542.3,824.5 542.8,823.0 543.3,826.4 543.8,819.7 544.3,813.8 544.8,807.5 545.3,800.3 545.8,800.8 546.3,791.9 546.8,791.7 547.3,795.3 547.8,799.6 548.3,803.2 548.8,807.4 549.3,813.9 549.8,815.5 550.3,814.3 550.8,817.0 551.3,821.9 551.8,822.0 552.3,816.3 552.8,820.3 553.3,821.1 553.8,822.7 554.3,821.1 554.8,820.2 555.3,822.3 555.8,822.8 556.3,821.8 556.8,818.9 557.3,819.2 557.8,820.3 558.3,815.4 558.8,812.3 559.3,812.2 559.8,808.9 560.3,809.1 560.8,803.6 561.3,801.0 561.8,799.0 562.3,790.1 562.8,783.8 563.3,777.4 563.8,766.6 564.3,751.8 564.8,741.3 565.3,724.3 565.8,706.9 566.3,689.5 566.8,671.0 567.3,653.3 567.8,641.2 568.3,632.8 568.8,630.2 569.3,638.0 569.8,653.0 570.3,670.8 570.8,690.0 571.3,705.9 571.8,727.6 572.3,745.6 572.8,759.0 573.3,768.2 573.8,776.5 574.3,789.2 574.8,790.9 575.3,795.1 575.8,799.4 576.3,799.2 576.8,801.6 577.3,806.7 577.8,809.8 578.3,807.7 578.8,808.3 579.3,807.6 579.8,804.7 580.3,800.7 580.8,800.8 581.3,795.7 581.8,790.7 582.3,789.7 582.8,793.7 583.3,794.1 583.8,795.6 584.3,802.0 584.8,805.2 585.3,805.6 585.8,805.3 586.3,808.6 586.8,809.8 587.3,808.4 587.8,811.5 588.3,802.5 588.8,791.1 589.3,779.3 589.8,768.5 590.3,748.0 590.8,726.5 591.3,709.0 591.8,705.8 592.3,713.8 592.8,729.4 593.3,750.8 593.8,769.7 594.3,788.4 594.8,800.4 595.3,810.0 595.8,815.2 596.3,817.7 596.8,815.1 597.3,817.5 597.8,818.2 598.3,818.7 598.8,821.6 599.3,826.6 599.8,828.1 600.3,829.4 600.8,828.1 601.3,827.5 601.8,825.9 602.3,825.8 602.8,825.7 603.3,824.6 603.8,824.2 604.3,827.9 604.8,830.2 605.3,825.8 605.8,825.4 606.3,829.7 606.8,827.6 607.3,824.6 607.8,825.9 608.3,823.4 608.8,827.7 609.3,827.2 609.8,825.9 610.3,828.2 610.8,828.6 611.3,831.3 611.8,828.5 612.3,829.1 612.8,827.3 613.3,829.7 613.8,831.2 614.3,831.7 614.8,830.9 615.3,827.8 615.8,833.0 616.3,833.3 616.8,829.4 617.3,829.2 617.8,829.2 618.3,824.2 618.8,825.7 619.3,827.1 619.8,826.8 620.3,824.9 620.8,821.4 621.3,823.9 621.8,823.7 622.3,821.4 622.8,818.2 623.3,817.2 623.8,819.7 624.3,821.3 624.8,819.8 625.3,821.9 625.8,825.2 626.3,825.6 626.8,822.9 627.3,821.2 627.8,823.8 628.3,821.9 628.8,822.9 629.3,827.5 629.8,826.9 630.3,823.7 630.8,824.6 631.3,825.0 631.8,825.5 632.3,825.2 632.8,820.4 633.3,812.5 633.8,812.0 634.3,806.4 634.8,799.6 635.3,792.0 635.8,783.8 636.3,777.8 636.8,778.0 637.3,780.9 637.8,787.1 638.3,793.8 638.8,801.0 639.3,806.4 639.8,809.8 640.3,817.7 640.8,819.5 641.3,820.9 641.8,820.3 642.3,824.7 642.8,831.8 643.3,827.5 643.8,828.7 644.3,829.9 644.8,828.2 645.3,825.9 645.8,826.3 646.3,827.0 646.8,824.4 647.3,821.3 647.8,821.3 648.3,824.4 648.8,820.8 649.3,816.1 649.8,810.4 650.3,801.3 650.8,792.2 651.3,789.8 651.8,781.9 652.3,782.1 652.8,787.5 653.3,796.4 653.8,801.0 654.3,804.5 654.8,809.8 655.3,816.1 655.8,823.6 656.3,826.7 656.8,825.0 657.3,825.2 657.8,827.5 658.3,826.7 658.8,824.5 659.3,823.8 659.8,826.1 660.3,828.0 660.8,827.4 661.3,824.3 661.8,819.6 662.3,816.6 662.8,805.4 663.3,799.7 663.8,789.5 664.3,772.6 664.8,759.1 665.3,755.5 665.8,753.6 666.3,762.7 666.8,779.1 667.3,790.9 667.8,799.3 668.3,810.1 668.8,817.3 669.3,824.1 669.8,826.7 670.3,822.9 670.8,825.7 671.3,831.1 671.8,829.8 672.3,829.2 672.8,828.8 673.3,830.7 673.8,829.6 674.3,830.7 674.8,830.8 675.3,829.2 675.8,827.4 676.3,827.3 676.8,829.1 677.3,830.3 677.8,832.5 678.3,832.3 678.8,831.8 679.3,829.9 679.8,830.2 680.3,829.9 680.8,828.8 681.3,829.9 681.8,835.6 682.3,834.1 682.8,834.6 683.3,832.8 683.8,831.3 684.3,835.1 684.8,834.2 685.3,832.1 685.8,830.2 686.3,832.4 686.8,834.8 687.3,835.5 687.8,833.5 688.3,832.1 688.8,831.9 689.3,832.8 689.8,830.9 690.3,831.0 690.8,828.8 691.3,834.8 691.8,834.9 692.3,832.0 692.8,831.2 693.3,833.0 693.8,831.6 694.3,830.3 694.8,830.2 695.3,829.9 695.8,829.2 696.3,831.4 696.8,827.2 697.3,829.2 697.8,828.2 698.3,825.0 698.8,826.1 699.3,820.3 699.8,818.2 700.3,813.7 700.8,808.1 701.3,800.7 701.8,794.5 702.3,786.1 702.8,783.2 703.3,787.2 703.8,795.0 704.3,802.6 704.8,812.5 705.3,818.6 705.8,823.2 706.3,825.7 706.8,827.6 707.3,828.7 707.8,828.8 708.3,831.2 708.8,832.9 709.3,831.0 709.8,831.9 710.3,833.4 710.8,832.0 711.3,831.8 711.8,832.9 712.3,834.1 712.8,836.2 713.3,834.6 713.8,835.1 714.3,834.1 714.8,836.1 715.3,837.1 715.8,836.0 716.3,831.3 716.8,832.1 717.3,831.1 717.8,832.9 718.3,832.8 718.8,830.5 719.3,829.8 719.8,830.8 720.3,832.3 720.8,833.7 721.3,835.7 721.8,835.3 722.3,829.5 722.8,829.2 723.3,827.8 723.8,825.9 724.3,823.5 724.8,826.4 725.3,826.8 725.8,825.9 726.3,827.7 726.8,826.1 727.3,823.8 727.8,827.8 728.3,830.0 728.8,829.8 729.3,833.1 729.8,836.8 730.3,834.0 730.8,832.1 731.3,830.4 731.8,832.4 732.3,833.6 732.8,835.3 733.3,832.4 733.8,831.2 734.3,832.4 734.8,836.8 735.3,836.5 735.8,834.6 736.3,839.0 736.8,832.6 737.3,831.6 737.8,834.1 738.3,832.2 738.8,830.2 739.3,829.7 739.8,831.7 740.3,831.8 740.8,830.9 741.3,829.4 741.8,831.6 742.3,828.5 742.8,829.9 743.3,829.5 743.8,822.2 744.3,820.3 744.8,819.9 745.3,819.6 745.8,818.2 746.3,817.8 746.8,822.1 747.3,824.4 747.8,828.0 748.3,826.7 748.8,826.3 749.3,827.6 749.8,829.7 750.3,832.4 750.8,833.2 751.3,830.4 751.8,832.0 752.3,831.6 752.8,838.6 753.3,835.0 753.8,832.9 754.3,832.5 754.8,835.5 755.3,836.6 755.8,833.5 756.3,833.5 756.8,833.9 757.3,834.2 757.8,832.4 758.3,833.9 758.8,834.2 759.3,836.4 759.8,832.1 760.3,833.2 760.8,835.0 761.3,836.4 761.8,835.3 762.3,833.6 762.8,834.4 763.3,834.9 763.8,831.5 764.3,834.5 764.8,833.4 765.3,836.3 765.8,837.7 766.3,833.2 766.8,832.7 767.3,833.6 767.8,833.8 768.3,836.5 768.8,835.9 769.3,831.2 769.8,830.3 770.3,832.1 770.8,832.2 771.3,835.0 771.8,835.9 772.3,832.6 772.8,830.0 773.3,830.9 773.8,832.8 774.3,832.5 774.8,831.5 775.3,831.2 775.8,832.9 776.3,831.7 776.8,832.2 777.3,832.2 777.8,827.1 778.3,827.6 778.8,825.4 779.3,822.6 779.8,819.9 780.3,813.1 780.8,807.8 781.3,806.7 781.8,797.6 782.3,786.9 782.8,778.4 783.3,778.9 783.8,784.4 784.3,793.8 784.8,803.6 785.3,811.2 785.8,814.7 786.3,822.6 786.8,825.8 787.3,828.7 787.8,828.8 788.3,829.8 788.8,827.5 789.3,830.5 789.8,829.3 790.3,829.4 790.8,830.9 791.3,829.7 791.8,827.0 792.3,833.0 792.8,831.4 793.3,831.4 793.8,831.4 794.3,830.8 794.8,831.6 795.3,832.2 795.8,831.0 796.3,829.3 796.8,830.9 797.3,834.4 797.8,833.0 798.3,832.3 798.8,834.4 799.3,832.4 799.8,835.6 800.3,833.8 800.8,831.3 801.3,829.4 801.8,829.1 802.3,829.7 802.8,833.7 803.3,835.0 803.8,831.9 804.3,827.9 804.8,825.5 805.3,819.1 805.8,816.8 806.3,815.7 806.8,815.5 807.3,810.3 807.8,808.9 808.3,808.5 808.8,808.8 809.3,813.5 809.8,816.2 810.3,818.9 810.8,824.8 811.3,827.9 811.8,830.0 812.3,830.7 812.8,828.5 813.3,828.2 813.8,830.0 814.3,831.5 814.8,834.0 815.3,832.3 815.8,830.8 816.3,832.7 816.8,832.5 817.3,831.3 817.8,833.4 818.3,829.3 818.8,831.6 819.3,833.8 819.8,832.4 820.3,831.6 820.8,828.4 821.3,831.4 821.8,832.6 822.3,830.7 822.8,832.0 823.3,831.7 823.8,832.1 824.3,832.9 824.8,832.4 825.3,833.1 825.8,832.6 826.3,835.2 826.8,833.1 827.3,829.5 827.8,830.3 828.3,833.7 828.8,835.0 829.3,831.8 829.8,831.6 830.3,831.3 830.8,834.8 831.3,833.2 831.8,832.1 832.3,832.9 832.8,827.4 833.3,830.4 833.8,829.1 834.3,830.9 834.8,829.7 835.3,828.6 835.8,830.0 836.3,831.1 836.8,835.0 837.3,832.2 837.8,834.8 838.3,833.1 838.8,829.3 839.3,826.9 839.8,830.4 840.3,829.7 840.8,827.3 841.3,832.5 841.8,830.1 842.3,828.7 842.8,830.5 843.3,829.9 843.8,828.1 844.3,826.7 844.8,825.1 845.3,820.3 845.8,821.0 846.3,822.4 846.8,826.1 847.3,821.2 847.8,816.9 848.3,814.3 848.8,810.3 849.3,807.6 849.8,801.6 850.3,796.6 850.8,789.4 851.3,779.6 851.8,768.8 852.3,756.6 852.8,744.1 853.3,734.6 853.8,725.2 854.3,719.4 854.8,718.8 855.3,723.3 855.8,731.1 856.3,742.0 856.8,756.5 857.3,768.1 857.8,774.7 858.3,784.7 858.8,792.5 859.3,797.5 859.8,804.8 860.3,809.0 860.8,814.8 861.3,814.5 861.8,817.6 862.3,817.2 862.8,818.6 863.3,823.2 863.8,824.6 864.3,827.3 864.8,826.7 865.3,823.7 865.8,827.7 866.3,825.2 866.8,825.9 867.3,826.3 867.8,828.8 868.3,829.3 868.8,830.2 869.3,833.4 869.8,829.2 870.3,828.0 870.8,828.3 871.3,832.4 871.8,829.0 872.3,829.4 872.8,829.3 873.3,829.7 873.8,829.9 874.3,827.5 874.8,828.9 875.3,830.5 875.8,827.9 876.3,830.2 876.8,829.0 877.3,830.6 877.8,828.5 878.3,826.0 878.8,825.6 879.3,829.3 879.8,825.8 880.3,820.8 880.8,820.7 881.3,809.5 881.8,800.7 882.3,795.4 882.8,785.3 883.3,779.7 883.8,775.2 884.3,780.2 884.8,787.1 885.3,796.2 885.8,805.1 886.3,809.9 886.8,815.7 887.3,821.1 887.8,824.1 888.3,827.0 888.8,829.2 889.3,828.3 889.8,828.9 890.3,833.5 890.8,837.5 891.3,834.7 891.8,833.5 892.3,831.2 892.8,830.9 893.3,834.3 893.8,836.3 894.3,833.9 894.8,834.2 895.3,832.2 895.8,830.6 896.3,830.9 896.8,830.5 897.3,832.8 897.8,833.3 898.3,837.1 898.8,836.9 899.3,834.1 899.8,834.2 900.3,834.0 900.8,837.3 901.3,839.1 901.8,835.0 902.3,832.0 902.8,831.6 903.3,833.2 903.8,834.2 904.3,833.7 904.8,833.4 905.3,834.1 905.8,834.3 906.3,833.2 906.8,831.5 907.3,832.1 907.8,831.0 908.3,832.8 908.8,833.5 909.3,835.0 909.8,833.9 910.3,831.6 910.8,832.5 911.3,835.9 911.8,833.1 912.3,834.7 912.8,834.4 913.3,834.5 913.8,835.3 914.3,833.9 914.8,834.7 915.3,834.2 915.8,835.2 916.3,833.8 916.8,832.7 917.3,834.2 917.8,834.4 918.3,833.2 918.8,832.1 919.3,834.4 919.8,831.9 920.3,833.3 920.8,833.9 921.3,836.1 921.8,836.5 922.3,836.1 922.8,831.5 923.3,832.8 923.8,832.0 924.3,835.9 924.8,838.7 925.3,834.7 925.8,834.6 926.3,830.1 926.8,833.2 927.3,835.7 927.8,833.6 928.3,833.5 928.8,834.2 929.3,835.5 929.8,833.9 930.3,833.0 930.8,832.9 931.3,834.8 931.8,835.4 932.3,833.8 932.8,834.9 933.3,835.0 933.8,836.6 934.3,838.4 934.8,835.8 935.3,834.2 935.8,832.5 936.3,830.8 936.8,829.7 937.3,830.4 937.8,829.4 938.3,829.2 938.8,826.0 939.3,824.4 939.8,819.1 940.3,813.7 940.8,810.7 941.3,809.3 941.8,817.7 942.3,819.5 942.8,820.6 943.3,825.8 943.8,826.6 944.3,828.0 944.8,830.1 945.3,830.6 945.8,833.4 946.3,832.0 946.8,831.2 947.3,833.2 947.8,831.8 948.3,832.9 948.8,836.6 949.3,837.6 949.8,830.9 950.3,830.1 950.8,832.3 951.3,835.0 951.8,833.7 952.3,834.6 952.8,832.7 953.3,833.7 953.8,831.8 954.3,830.2 954.8,832.1 955.3,834.8 955.8,834.9 956.3,835.6 956.8,834.0 957.3,831.6 957.8,833.8 958.3,835.6 958.8,837.7 959.3,837.3 959.8,835.5 960.3,834.5 960.8,835.9 961.3,831.9 961.8,831.6 962.3,831.8 962.8,834.2 963.3,835.9 963.8,834.3 964.3,838.1 964.8,835.1 965.3,837.6 965.8,834.9 966.3,835.2 966.8,833.0 967.3,833.9 967.8,834.2 968.3,836.4 968.8,833.8 969.3,836.7 969.8,838.6 970.3,835.3 970.8,834.2 971.3,834.4 971.8,830.1 972.3,833.7 972.8,835.4 973.3,834.2 973.8,832.4 974.3,834.7 974.8,836.3 975.3,836.1 975.8,833.8 976.3,833.5 976.8,832.7 977.3,831.0 977.8,831.3 978.3,831.3 978.8,832.7 979.3,834.3 979.8,837.5 980.3,834.7 980.8,831.8 981.3,829.0 981.8,830.2 982.3,826.6 982.8,818.6 983.3,811.8 983.8,806.9 984.3,802.8 984.8,800.7 985.3,805.9 985.8,812.0 986.3,819.5 986.8,823.3 987.3,826.4 987.8,831.2 988.3,832.4 988.8,832.0 989.3,831.1 989.8,831.5 990.3,834.5 990.8,834.7 991.3,834.0 991.8,834.2 992.3,832.6 992.8,836.3 993.3,836.6 993.8,837.1 994.3,833.7 994.8,834.6 995.3,834.5 995.8,838.1 996.3,840.1 996.8,836.4 997.3,836.5 997.8,837.4 998.3,833.9 998.8,834.7 999.3,834.5 999.8,834.6 1000.3,832.5 1000.8,831.5 1001.3,832.3 1001.8,835.2 1002.3,836.0 1002.8,837.1 1003.3,837.1 1003.8,837.4 1004.3,836.5 1004.8,836.1 1005.3,836.4 1005.8,835.3 1006.3,835.9 1006.8,837.2 1007.3,841.1 1007.8,835.1 1008.3,837.0 1008.8,837.4 1009.3,836.4 1009.8,835.5 1010.3,833.9 1010.8,832.4 1011.3,834.1 1011.8,834.4 1012.3,833.3 1012.8,834.8 1013.3,832.9 1013.8,837.0 1014.3,838.8 1014.8,834.6 1015.3,834.9 1015.8,836.4 1016.3,829.9 1016.8,829.4 1017.3,827.8 1017.8,827.7 1018.3,828.9 1018.8,826.2 1019.3,821.8 1019.8,821.6 1020.3,818.4 1020.8,821.6 1021.3,828.4 1021.8,832.9 1022.3,833.5 1022.8,833.5 1023.3,833.0 1023.8,834.8 1024.3,833.6 1024.8,835.1 1025.3,833.1 1025.8,831.6 1026.3,826.9 1026.8,827.0 1027.3,826.4 1027.8,822.5 1028.3,824.3 1028.8,825.9 1029.3,826.0 1029.8,827.0 1030.3,828.2 1030.8,827.2 1031.3,831.0 1031.8,836.0 1032.3,832.5 1032.8,832.6 1033.3,832.3 1033.8,837.4 1034.3,834.4 1034.8,834.6 1035.3,835.6 1035.8,835.7 1036.3,840.0 1036.8,837.2 1037.3,834.1 1037.8,831.4 1038.3,834.2 1038.8,833.8 1039.3,835.8 1039.8,834.0 1040.3,832.9 1040.8,835.5 1041.3,834.9 1041.8,833.7 1042.3,833.1 1042.8,833.0 1043.3,832.9 1043.8,834.1 1044.3,831.4 1044.8,832.5 1045.3,832.3 1045.8,834.4 1046.3,834.1 1046.8,834.2 1047.3,830.0 1047.8,828.3 1048.3,832.1 1048.8,830.7 1049.3,828.5 1049.8,831.0 1050.3,831.7 1050.8,828.6 1051.3,827.6 1051.8,824.8 1052.3,824.1 1052.8,824.0 1053.3,821.4 1053.8,817.5 1054.3,812.3 1054.8,807.3 1055.3,797.4 1055.8,784.5 1056.3,760.8 1056.8,735.8 1057.3,710.1 1057.8,684.0 1058.3,667.3 1058.8,667.2 1059.3,683.5 1059.8,708.3 1060.3,734.7 1060.8,760.9 1061.3,781.5 1061.8,796.0 1062.3,805.6 1062.8,811.3 1063.3,816.0 1063.8,818.8 1064.3,825.4 1064.8,828.7 1065.3,829.5 1065.8,827.4 1066.3,831.7 1066.8,830.9 1067.3,831.6 1067.8,833.5 1068.3,831.9 1068.8,830.6 1069.3,831.5 1069.8,830.6 1070.3,831.4 1070.8,833.0 1071.3,829.2 1071.8,828.7 1072.3,832.5 1072.8,832.6 1073.3,832.3 1073.8,832.5 1074.3,830.8 1074.8,832.1 1075.3,829.3 1075.8,828.8 1076.3,830.8 1076.8,828.7 1077.3,826.6 1077.8,824.5 1078.3,825.6 1078.8,823.1 1079.3,817.4 1079.8,815.4 1080.3,812.1 1080.8,807.2 1081.3,802.4 1081.8,804.0 1082.3,802.7 1082.8,799.8 1083.3,803.8 1083.8,811.9 1084.3,813.9 1084.8,813.5 1085.3,817.7 1085.8,821.4 1086.3,823.4 1086.8,825.1 1087.3,826.5 1087.8,828.9 1088.3,831.2 1088.8,830.0 1089.3,834.0 1089.8,833.8 1090.3,833.6 1090.8,836.4 1091.3,836.4 1091.8,835.5 1092.3,835.6 1092.8,835.0 1093.3,836.1 1093.8,837.6 1094.3,836.8 1094.8,833.9 1095.3,834.2 1095.8,835.4 1096.3,834.3 1096.8,834.6 1097.3,838.0 1097.8,835.2 1098.3,835.4 1098.8,834.4 1099.3,836.4 1099.8,837.4 1100.3,835.6 1100.8,835.6 1101.3,836.5 1101.8,835.8 1102.3,835.5 1102.8,836.8 1103.3,836.7 1103.8,835.7 1104.3,836.7 1104.8,833.6 1105.3,834.2 1105.8,837.7 1106.3,838.7 1106.8,835.6 1107.3,833.2 1107.8,834.7 1108.3,837.2 1108.8,838.1 1109.3,837.9 1109.8,837.3 1110.3,834.0 1110.8,834.3 1111.3,834.8 1111.8,836.2 1112.3,839.2 1112.8,837.8 1113.3,835.0 1113.8,834.5 1114.3,832.2 1114.8,836.3 1115.3,835.7 1115.8,836.7 1116.3,836.2 1116.8,833.6 1117.3,836.2 1117.8,835.5 1118.3,835.0 1118.8,834.1 1119.3,836.0 1119.8,838.0 1120.3,838.5 1120.8,837.4 1121.3,837.3 1121.8,838.7 1122.3,836.7 1122.8,837.5 1123.3,839.2 1123.8,833.9 1124.3,832.9 1124.8,833.7 1125.3,834.7 1125.8,835.0 1126.3,836.4 1126.8,839.0 1127.3,837.7 1127.8,834.2 1128.3,834.7 1128.8,833.1 1129.3,830.9 1129.8,831.2 1130.3,829.3 1130.8,823.6 1131.3,823.1 1131.8,819.3 1132.3,819.2 1132.8,821.3 1133.3,822.1 1133.8,825.0 1134.3,828.2 1134.8,830.9 1135.3,831.5 1135.8,832.2 1136.3,832.7 1136.8,835.2 1137.3,835.8 1137.8,834.1 1138.3,836.7 1138.8,839.0 1139.3,838.0 1139.8,838.3 1140.3,837.4 1140.8,836.0 1141.3,835.2 1141.8,835.4 1142.3,835.2 1142.8,833.3 1143.3,834.3 1143.8,837.5 1144.3,833.9 1144.8,833.1 1145.3,833.6 1145.8,835.9 1146.3,836.1 1146.8,836.5 1147.3,835.1 1147.8,837.7 1148.3,835.8 1148.8,835.1 1149.3,838.3 1149.8,839.2 1150.3,838.2 1150.8,834.1 1151.3,835.5 1151.8,836.4 1152.3,835.1 1152.8,833.3 1153.3,836.9 1153.8,837.4 1154.3,836.4 1154.8,834.6 1155.3,835.0 1155.8,837.2 1156.3,836.0 1156.8,836.5 1157.3,836.7 1157.8,836.8 1158.3,838.1 1158.8,837.3 1159.3,839.4 1159.8,840.6 1160.3,837.8 1160.8,834.9 1161.3,836.0 1161.8,838.5 1162.3,838.5 1162.8,835.7 1163.3,836.3 1163.8,836.1 1164.3,835.2 1164.8,836.9 1165.3,837.6 1165.8,839.2 1166.3,836.6 1166.8,838.1 1167.3,837.7 1167.8,838.0 1168.3,836.6 1168.8,836.6 1169.3,839.3 1169.8,839.7 1170.3,837.5 1170.8,838.5 1171.3,837.2 1171.8,838.2 1172.3,841.1 1172.8,840.1 1173.3,838.8 1173.8,838.6 1174.3,837.2 1174.8,837.6 1175.3,838.1 1175.8,836.2 1176.3,837.4 1176.8,840.0 1177.3,837.7 1177.8,837.8 1178.3,840.2 1178.8,840.7 1179.3,838.3 1179.8,838.6 1180.3,835.5 1180.8,834.9 1181.3,837.2 1181.8,839.6 1182.3,837.0 1182.8,837.6 1183.3,837.4 1183.8,834.4 1184.3,835.7 1184.8,838.7 1185.3,838.5 1185.8,836.0 1186.3,832.9 1186.8,836.0 1187.3,836.5 1187.8,833.0 1188.3,834.0 1188.8,831.5 1189.3,828.6 1189.8,829.9 1190.3,827.3 1190.8,820.3 1191.3,817.6 1191.8,814.0 1192.3,813.8 1192.8,815.9 1193.3,819.9 1193.8,824.3 1194.3,829.2 1194.8,831.1 1195.3,834.4 1195.8,834.1 1196.3,834.0 1196.8,836.5 1197.3,839.4 1197.8,839.0 1198.3,838.7 1198.8,834.0 1199.3,834.5 1199.8,835.0 1200.3,836.6 1200.8,836.4 1201.3,834.1 1201.8,835.6 1202.3,837.6 1202.8,838.0 1203.3,834.9 1203.8,839.1 1204.3,837.7 1204.8,838.1 1205.3,835.7 1205.8,837.6 1206.3,839.8 1206.8,839.9 1207.3,837.3 1207.8,835.2 1208.3,838.4 1208.8,837.4 1209.3,837.8 1209.8,838.9 1210.3,836.1 1210.8,840.1 1211.3,836.4 1211.8,839.0 1212.3,840.4 1212.8,838.3 1213.3,839.3 1213.8,835.4 1214.3,836.5 1214.8,835.0 1215.3,832.2 1215.8,830.9 1216.3,825.6 1216.8,822.1 1217.3,823.1 1217.8,819.9 1218.3,815.4 1218.8,815.8 1219.3,820.6 1219.8,825.2 1220.3,831.0 1220.8,832.0 1221.3,834.7 1221.8,833.8 1222.3,833.6 1222.8,839.0 1223.3,837.3 1223.8,834.9 1224.3,837.0 1224.8,838.8 1225.3,835.7 1225.8,834.5 1226.3,835.8 1226.8,840.1 1227.3,841.9 1227.8,837.1 1228.3,836.6 1228.8,837.4 1229.3,838.7 1229.8,840.9 1230.3,839.6 1230.8,838.5 1231.3,839.8 1231.8,838.3 1232.3,835.9 1232.8,838.1 1233.3,842.1 1233.8,839.7 1234.3,838.2 1234.8,838.7 1235.3,837.3 1235.8,837.4 1236.3,837.1 1236.8,837.9 1237.3,839.7 1237.8,838.7 1238.3,838.5 1238.8,838.7 1239.3,838.2 1239.8,839.1 1240.3,839.7 1240.8,837.9 1241.3,836.4 1241.8,838.0 1242.3,835.9 1242.8,839.0 1243.3,838.6 1243.8,836.4 1244.3,836.6 1244.8,836.5 1245.3,834.8 1245.8,839.6 1246.3,841.0 1246.8,838.7 1247.3,838.5 1247.8,838.0 1248.3,839.5 1248.8,841.1 1249.3,840.1 1249.8,837.0 1250.3,837.6 1250.8,839.0 1251.3,836.9 1251.8,836.2 1252.3,837.3 1252.8,838.9 1253.3,838.4 1253.8,834.7 1254.3,837.0 1254.8,839.4 1255.3,837.5 1255.8,838.1 1256.3,838.7 1256.8,838.7 1257.3,838.0 1257.8,836.9 1258.3,840.0 1258.8,839.8 1259.3,838.9 1259.8,839.7 1260.3,837.8 1260.8,836.4 1261.3,836.7 1261.8,839.0 1262.3,840.9 1262.8,840.0 1263.3,837.2 1263.8,834.7 1264.3,835.6 1264.8,836.3 1265.3,839.5 1265.8,839.7 1266.3,833.5 1266.8,835.3 1267.3,838.3 1267.8,840.8 1268.3,838.8 1268.8,838.6 1269.3,839.8 1269.8,837.1 1270.3,835.9 1270.8,835.1 1271.3,835.8 1271.8,833.0 1272.3,834.7 1272.8,834.8 1273.3,835.2 1273.8,836.0 1274.3,836.8 1274.8,835.7 1275.3,833.8 1275.8,834.0 1276.3,831.6 1276.8,829.8 1277.3,828.9 1277.8,827.0 1278.3,828.3 1278.8,826.2 1279.3,823.7 1279.8,823.4 1280.3,821.4 1280.8,815.7 1281.3,814.5 1281.8,815.1 1282.3,814.0 1282.8,816.5 1283.3,817.5 1283.8,820.7 1284.3,824.7 1284.8,826.2 1285.3,825.6 1285.8,829.7 1286.3,833.9 1286.8,832.4 1287.3,832.5 1287.8,834.3 1288.3,834.7 1288.8,833.3 1289.3,836.6 1289.8,836.8 1290.3,836.2 1290.8,834.8 1291.3,835.1 1291.8,834.9 1292.3,838.2 1292.8,836.7 1293.3,832.7 1293.8,834.1 1294.3,835.9 1294.8,836.5 1295.3,835.5 1295.8,837.5 1296.3,838.1 1296.8,838.2 1297.3,838.0 1297.8,839.5 1298.3,835.2 1298.8,832.5 1299.3,836.7 1299.8,842.2 1300.3,842.1 1300.8,836.8 1301.3,835.7 1301.8,838.3 1302.3,835.6 1302.8,838.6 1303.3,837.3 1303.8,837.1 1304.3,837.0 1304.8,837.7 1305.3,838.4 1305.8,838.1 1306.3,837.9 1306.8,838.4 1307.3,839.5 1307.8,843.7 1308.3,842.1 1308.8,838.3 1309.3,839.7 1309.8,841.1 1310.3,837.6 1310.8,838.4 1311.3,837.7 1311.8,838.1 1312.3,840.6 1312.8,839.5 1313.3,836.9 1313.8,838.7 1314.3,836.8 1314.8,839.1 1315.3,840.7 1315.8,839.4 1316.3,841.3 1316.8,838.5 1317.3,836.8 1317.8,837.9 1318.3,838.9 1318.8,840.6 1319.3,839.1 1319.8,840.9 1320.3,839.4 1320.8,838.2 1321.3,838.7 1321.8,839.1 1322.3,838.3 1322.8,836.9 1323.3,838.9 1323.8,840.6 1324.3,839.6 1324.8,840.3 1325.3,837.9 1325.8,839.0 1326.3,839.3 1326.8,839.3 1327.3,838.1 1327.8,839.5 1328.3,839.4 1328.8,839.2 1329.3,837.7 1329.8,836.0 1330.3,836.3 1330.8,834.9 1331.3,839.5 1331.8,839.6 1332.3,839.6 1332.8,837.8 1333.3,839.8 1333.8,839.8 1334.3,839.8 1334.8,838.5 1335.3,840.9 1335.8,841.5 1336.3,843.2 1336.8,841.7 1337.3,838.5 1337.8,839.2 1338.3,841.6 1338.8,839.3 1339.3,837.6 1339.8,839.2 1340.3,839.9 1340.8,840.4 1341.3,840.3 1341.8,838.1 1342.3,838.3 1342.8,839.6 1343.3,841.5 1343.8,840.8 1344.3,839.5 1344.8,840.4 1345.3,837.5 1345.8,838.1 1346.3,838.7 1346.8,840.3 1347.3,838.5 1347.8,841.7 1348.3,838.1 1348.8,840.5 1349.3,839.0 1349.8,838.6 1350.3,839.6 1350.8,839.3 1351.3,841.2 1351.8,842.3 1352.3,841.1 1352.8,838.4 1353.3,839.7 1353.8,840.2 1354.3,839.8 1354.8,841.1 1355.3,840.4 1355.8,841.1 1356.3,842.1 1356.8,841.7 1357.3,838.7 1357.8,838.7 1358.3,840.7 1358.8,836.8 1359.3,835.5 1359.8,836.2 1360.3,840.3 1360.8,839.6 1361.3,837.4 1361.8,839.0 1362.3,837.6 1362.8,839.2 1363.3,839.0 1363.8,839.1 1364.3,840.4 1364.8,839.5 1365.3,837.1 1365.8,835.0 1366.3,836.4 1366.8,837.3 1367.3,837.2 1367.8,837.3 1368.3,838.8 1368.8,838.9 1369.3,837.3 1369.8,837.8 1370.3,834.5 1370.8,835.2 1371.3,837.9 1371.8,837.8 1372.3,837.7 1372.8,838.0 1373.3,838.0 1373.8,838.7 1374.3,839.5 1374.8,840.2 1375.3,838.0 1375.8,837.3 1376.3,839.5 1376.8,842.0 1377.3,840.1 1377.8,838.6 1378.3,841.6 1378.8,838.5 1379.3,839.0 1379.8,841.2 1380.3,839.6 1380.8,840.0 1381.3,839.6 1381.8,838.8 1382.3,840.0 1382.8,840.0 1383.3,838.4 1383.8,836.1 1384.3,839.4 1384.8,838.9 1385.3,836.5 1385.8,837.2 1386.3,838.2 1386.8,841.1 1387.3,839.8 1387.8,840.2 1388.3,842.1 1388.8,842.2 1389.3,836.2 1389.8,839.8 1390.3,842.8 1390.8,840.9 1391.3,839.7 1391.8,842.0 1392.3,840.4 1392.8,838.9 1393.3,839.1 1393.8,840.6 1394.3,841.3 1394.8,839.5 1395.3,837.0 1395.8,838.3 1396.3,838.2 1396.8,837.9 1397.3,839.2 1397.8,839.0 1398.3,838.5 1398.8,839.3 1399.3,838.7 1399.8,840.1 1400.3,838.1 1400.8,837.3 1401.3,836.1 1401.8,837.4 1402.3,838.0 1402.8,839.9 1403.3,840.3 1403.8,841.2 1404.3,840.9 1404.8,838.6 1405.3,837.8 1405.8,838.8 1406.3,840.4 1406.8,837.2 1407.3,839.1 1407.8,836.3 1408.3,838.0 1408.8,837.3 1409.3,840.1 1409.8,840.9 1410.3,842.6 1410.8,842.0 1411.3,840.6 1411.8,841.1 1412.3,837.0 1412.8,837.1 1413.3,838.0 1413.8,841.9 1414.3,838.9 1414.8,836.7 1415.3,836.0 1415.8,838.8 1416.3,841.3 1416.8,841.6 1417.3,836.6 1417.8,837.1 1418.3,840.5 1418.8,839.0 1419.3,840.7 1419.8,840.4 1420.3,839.0 1420.8,838.6 1421.3,839.3 1421.8,841.3 1422.3,840.2 1422.8,836.1 1423.3,840.4 1423.8,841.6 1424.3,842.4 1424.8,841.7 1425.3,840.4 1425.8,839.5 1426.3,838.7 1426.8,840.1 1427.3,838.7 1427.8,840.4 1428.3,840.8 1428.8,840.1 1429.3,839.4 1429.8,837.0 1430.3,838.0 1430.8,838.3 1431.3,839.0 1431.8,838.5 1432.3,837.4 1432.8,837.5 1433.3,838.4 1433.8,838.0 1434.3,840.0 1434.8,841.3 1435.3,843.3 1435.8,842.4 1436.3,841.1 1436.8,838.6 1437.3,838.6 1437.8,837.9 1438.3,840.2 1438.8,840.3 1439.3,841.2 1439.8,841.3 1440.3,839.4 1440.8,839.2 1441.3,837.3 1441.8,838.5 1442.3,840.9 1442.8,840.0 1443.3,841.3 1443.8,840.5 1444.3,837.5 1444.8,839.1 1445.3,838.6 1445.8,839.0 1446.3,838.6 1446.8,839.3 1447.3,840.3 1447.8,841.7 1448.3,840.7 1448.8,839.4 1449.3,839.5 1449.8,837.4 1450.3,837.8 1450.8,840.6 1451.3,840.8 1451.8,838.4 1452.3,840.0 1452.8,838.9 1453.3,838.1 1453.8,838.5 1454.3,839.3 1454.8,840.2 1455.3,841.1 1455.8,839.5 1456.3,839.9 1456.8,838.7 1457.3,839.4 1457.8,839.4 1458.3,838.6 1458.8,839.4 1459.3,840.9 1459.8,842.2 1460.3,839.4 1460.8,837.0 1461.3,836.9 1461.8,838.3 1462.3,839.5 1462.8,838.3 1463.3,842.0 1463.8,839.2 1464.3,838.8 1464.8,835.5 1465.3,838.8 1465.8,837.4 1466.3,836.3 1466.8,837.4 1467.3,838.8 1467.8,837.5 1468.3,838.5 1468.8,837.4 1469.3,836.5 1469.8,835.3 1470.3,836.1 1470.8,834.8 1471.3,832.6 1471.8,830.3 1472.3,829.5 1472.8,827.4 1473.3,824.2 1473.8,823.0 1474.3,817.7 1474.8,817.8 1475.3,818.2 1475.8,817.4 1476.3,816.6 1476.8,817.3 1477.3,819.3 1477.8,823.3 1478.3,824.5 1478.8,824.3 1479.3,828.5 1479.8,829.8 1480.3,828.7 1480.8,831.8 1481.3,833.6 1481.8,836.1 1482.3,838.3 1482.8,838.0 1483.3,839.3 1483.8,836.6 1484.3,836.5 1484.8,837.9 1485.3,837.6 1485.8,837.5 1486.3,841.0 1486.8,842.4 1487.3,838.3 1487.8,839.1 1488.3,840.3 1488.8,839.3 1489.3,837.7 1489.8,839.7 1490.3,838.6 1490.8,838.7 1491.3,839.9 1491.8,841.2 1492.3,838.0 1492.8,837.3 1493.3,837.4 1493.8,840.3 1494.3,842.9 1494.8,842.3 1495.3,839.6 1495.8,839.5 1496.3,840.2 1496.8,840.5 1497.3,841.3 1497.8,841.7 1498.3,838.4 1498.8,838.1 1499.3,838.1 1499.8,840.8 1500.3,840.5 1500.8,839.9 1501.3,841.0 1501.8,839.6 1502.3,840.2 1502.8,840.4 1503.3,843.3 1503.8,842.5 1504.3,842.4 1504.8,840.2 1505.3,839.1 1505.8,839.6 1506.3,840.7 1506.8,839.0 1507.3,839.7 1507.8,842.1 1508.3,843.6 1508.8,841.3 1509.3,840.1 1509.8,839.2 1510.3,838.6 1510.8,840.0 1511.3,840.1 1511.8,839.6 1512.3,838.8 1512.8,841.0 1513.3,841.3 1513.8,840.2 1514.3,840.4 1514.8,839.5 1515.3,842.4 1515.8,841.2 1516.3,839.4 1516.8,838.9 1517.3,840.7 1517.8,839.8 1518.3,841.3 1518.8,839.7 1519.3,838.4 1519.8,839.9 1520.3,844.0 1520.8,842.6 1521.3,840.0 1521.8,840.7 1522.3,838.8 1522.8,840.0 1523.3,838.6 1523.8,837.3 1524.3,838.5 1524.8,837.8 1525.3,839.5 1525.8,839.3 1526.3,840.1 1526.8,841.1 1527.3,843.3 1527.8,841.8 1528.3,843.1 1528.8,840.6 1529.3,839.9 1529.8,840.8 1530.3,842.3 1530.8,841.7 1531.3,842.2 1531.8,841.3 1532.3,839.4 1532.8,840.7 1533.3,839.1 1533.8,840.8 1534.3,840.4 1534.8,842.0 1535.3,839.8 1535.8,840.6 1536.3,841.3 1536.8,840.8 1537.3,843.4 1537.8,840.7 1538.3,839.4 1538.8,840.6 1539.3,840.9 1539.8,842.0 1540.3,839.1 1540.8,840.1 1541.3,839.6 1541.8,839.7 1542.3,840.9 1542.8,839.2 1543.3,838.6 1543.8,842.1 1544.3,842.2 1544.8,839.3 1545.3,840.1 1545.8,841.5 1546.3,838.1 1546.8,841.6 1547.3,841.7 1547.8,842.1 1548.3,841.3 1548.8,842.1 1549.3,844.0 1549.8,842.4 1550.3,840.2 1550.8,837.8 1551.3,840.2 1551.8,841.2 1552.3,841.1 1552.8,839.7 1553.3,840.6 1553.8,840.7 1554.3,840.1 1554.8,840.4 1555.3,840.2 1555.8,840.6 1556.3,839.4 1556.8,838.9 1557.3,840.3 1557.8,842.1 1558.3,842.7 1558.8,840.8 1559.3,843.0 1559.8,842.6 1560.3,837.5 1560.8,839.4 1561.3,842.0 1561.8,840.5 1562.3,842.7 1562.8,841.6 1563.3,839.6 1563.8,841.3 1564.3,842.4 1564.8,841.4 1565.3,841.8 1565.8,842.8 1566.3,841.2 1566.8,841.3 1567.3,837.4 1567.8,838.0 1568.3,842.4 1568.8,840.7 1569.3,839.6 1569.8,842.1 1570.3,842.1"/></defs>
<use href="#c2" fill="none" stroke="#4a6058" stroke-width="5.4" stroke-linejoin="round" stroke-linecap="round"/>
<use href="#c2" fill="none" stroke="#2c8c6c" stroke-width="3.4" stroke-linejoin="round" stroke-linecap="round"/>
<defs><polyline id="c3" points="115.8,1118.7 116.3,1121.4 116.8,1120.6 117.3,1121.9 117.8,1123.9 118.3,1123.0 118.8,1124.3 119.3,1123.9 119.8,1123.6 120.3,1117.9 120.8,1116.8 121.3,1116.9 121.8,1120.6 122.3,1120.4 122.8,1122.5 123.3,1121.6 123.8,1122.0 124.3,1125.9 124.8,1123.0 125.3,1120.0 125.8,1118.6 126.3,1123.2 126.8,1122.7 127.3,1118.1 127.8,1119.4 128.3,1119.8 128.8,1116.3 129.3,1119.5 129.8,1122.6 130.3,1117.6 130.8,1121.8 131.3,1124.9 131.8,1119.8 132.3,1119.1 132.8,1121.0 133.3,1122.1 133.8,1120.8 134.3,1116.6 134.8,1117.8 135.3,1120.1 135.8,1120.5 136.3,1122.9 136.8,1120.3 137.3,1120.6 137.8,1124.8 138.3,1120.9 138.8,1118.2 139.3,1119.9 139.8,1120.5 140.3,1122.5 140.8,1122.0 141.3,1119.9 141.8,1119.2 142.3,1120.0 142.8,1124.9 143.3,1126.5 143.8,1122.2 144.3,1122.3 144.8,1121.7 145.3,1119.4 145.8,1118.9 146.3,1118.1 146.8,1115.4 147.3,1118.1 147.8,1122.0 148.3,1123.3 148.8,1120.7 149.3,1120.3 149.8,1123.5 150.3,1125.8 150.8,1119.5 151.3,1118.3 151.8,1119.7 152.3,1121.5 152.8,1119.5 153.3,1121.2 153.8,1119.9 154.3,1121.8 154.8,1120.4 155.3,1120.3 155.8,1122.1 156.3,1118.2 156.8,1119.0 157.3,1122.9 157.8,1123.5 158.3,1120.8 158.8,1116.4 159.3,1121.8 159.8,1122.2 160.3,1119.4 160.8,1116.8 161.3,1123.1 161.8,1126.3 162.3,1124.3 162.8,1124.4 163.3,1120.6 163.8,1120.9 164.3,1119.1 164.8,1117.9 165.3,1119.2 165.8,1118.4 166.3,1118.5 166.8,1118.7 167.3,1119.7 167.8,1120.4 168.3,1120.7 168.8,1118.6 169.3,1120.3 169.8,1117.2 170.3,1120.4 170.8,1120.2 171.3,1115.6 171.8,1119.8 172.3,1124.1 172.8,1122.8 173.3,1120.2 173.8,1120.0 174.3,1121.9 174.8,1122.5 175.3,1123.6 175.8,1122.8 176.3,1123.9 176.8,1122.5 177.3,1119.2 177.8,1118.2 178.3,1119.7 178.8,1121.5 179.3,1120.0 179.8,1122.0 180.3,1117.9 180.8,1119.1 181.3,1119.0 181.8,1121.4 182.3,1121.5 182.8,1120.0 183.3,1117.3 183.8,1117.6 184.3,1119.1 184.8,1122.1 185.3,1119.5 185.8,1121.1 186.3,1121.1 186.8,1116.2 187.3,1113.5 187.8,1108.6 188.3,1109.9 188.8,1109.6 189.3,1104.1 189.8,1104.7 190.3,1106.5 190.8,1107.4 191.3,1108.6 191.8,1112.3 192.3,1113.2 192.8,1116.9 193.3,1123.5 193.8,1119.0 194.3,1118.0 194.8,1120.4 195.3,1121.7 195.8,1122.2 196.3,1118.8 196.8,1117.4 197.3,1118.5 197.8,1122.9 198.3,1123.7 198.8,1119.7 199.3,1119.5 199.8,1120.2 200.3,1118.5 200.8,1119.9 201.3,1122.3 201.8,1118.9 202.3,1121.9 202.8,1123.4 203.3,1119.7 203.8,1122.9 204.3,1121.1 204.8,1119.9 205.3,1122.4 205.8,1121.0 206.3,1119.4 206.8,1118.0 207.3,1117.2 207.8,1117.6 208.3,1118.8 208.8,1120.5 209.3,1118.6 209.8,1118.4 210.3,1116.9 210.8,1117.5 211.3,1116.5 211.8,1117.4 212.3,1112.8 212.8,1105.8 213.3,1104.1 213.8,1099.1 214.3,1093.4 214.8,1081.3 215.3,1068.6 215.8,1051.8 216.3,1032.4 216.8,1020.4 217.3,1017.2 217.8,1024.0 218.3,1046.2 218.8,1057.5 219.3,1067.1 219.8,1079.9 220.3,1093.5 220.8,1100.1 221.3,1102.3 221.8,1105.8 222.3,1112.1 222.8,1114.2 223.3,1116.9 223.8,1117.8 224.3,1119.4 224.8,1115.2 225.3,1118.9 225.8,1117.3 226.3,1117.6 226.8,1120.7 227.3,1116.2 227.8,1119.0 228.3,1120.4 228.8,1122.6 229.3,1118.3 229.8,1121.2 230.3,1122.3 230.8,1121.3 231.3,1121.1 231.8,1119.8 232.3,1116.9 232.8,1117.4 233.3,1116.2 233.8,1121.9 234.3,1121.9 234.8,1117.3 235.3,1120.7 235.8,1117.4 236.3,1112.9 236.8,1113.5 237.3,1115.1 237.8,1112.0 238.3,1108.3 238.8,1109.2 239.3,1105.9 239.8,1102.7 240.3,1101.0 240.8,1105.0 241.3,1106.9 241.8,1104.8 242.3,1107.7 242.8,1110.6 243.3,1113.0 243.8,1113.9 244.3,1121.0 244.8,1120.4 245.3,1121.2 245.8,1121.0 246.3,1125.7 246.8,1122.5 247.3,1118.3 247.8,1123.4 248.3,1122.3 248.8,1120.1 249.3,1121.6 249.8,1121.4 250.3,1124.8 250.8,1124.5 251.3,1121.1 251.8,1125.1 252.3,1125.2 252.8,1119.4 253.3,1126.1 253.8,1127.0 254.3,1127.4 254.8,1128.1 255.3,1124.6 255.8,1122.6 256.3,1124.8 256.8,1124.6 257.3,1124.2 257.8,1119.2 258.3,1123.9 258.8,1130.9 259.3,1127.8 259.8,1127.7 260.3,1126.1 260.8,1124.8 261.3,1127.2 261.8,1127.1 262.3,1124.6 262.8,1124.8 263.3,1126.1 263.8,1123.2 264.3,1123.4 264.8,1128.1 265.3,1128.5 265.8,1126.4 266.3,1129.3 266.8,1128.4 267.3,1126.4 267.8,1124.7 268.3,1126.4 268.8,1124.3 269.3,1124.2 269.8,1124.2 270.3,1127.4 270.8,1125.7 271.3,1125.0 271.8,1127.2 272.3,1130.6 272.8,1126.2 273.3,1119.6 273.8,1121.0 274.3,1120.8 274.8,1118.2 275.3,1117.5 275.8,1122.1 276.3,1121.0 276.8,1120.3 277.3,1119.5 277.8,1120.7 278.3,1120.8 278.8,1120.6 279.3,1120.1 279.8,1119.1 280.3,1120.5 280.8,1122.5 281.3,1122.2 281.8,1124.4 282.3,1123.6 282.8,1125.9 283.3,1123.0 283.8,1126.6 284.3,1129.7 284.8,1128.6 285.3,1126.3 285.8,1129.2 286.3,1127.5 286.8,1127.4 287.3,1125.7 287.8,1122.9 288.3,1127.3 288.8,1128.5 289.3,1128.3 289.8,1125.5 290.3,1127.9 290.8,1125.2 291.3,1123.3 291.8,1124.1 292.3,1126.7 292.8,1127.2 293.3,1131.0 293.8,1130.6 294.3,1130.3 294.8,1126.9 295.3,1123.8 295.8,1122.9 296.3,1126.7 296.8,1131.0 297.3,1130.2 297.8,1124.6 298.3,1127.6 298.8,1128.8 299.3,1125.7 299.8,1126.7 300.3,1126.0 300.8,1127.7 301.3,1128.0 301.8,1126.9 302.3,1126.8 302.8,1126.0 303.3,1125.6 303.8,1120.5 304.3,1127.5 304.8,1129.5 305.3,1125.0 305.8,1126.7 306.3,1128.4 306.8,1125.9 307.3,1125.6 307.8,1127.5 308.3,1128.5 308.8,1124.9 309.3,1127.6 309.8,1128.1 310.3,1124.8 310.8,1127.9 311.3,1131.0 311.8,1128.3 312.3,1128.0 312.8,1130.4 313.3,1126.9 313.8,1127.6 314.3,1131.5 314.8,1131.7 315.3,1125.8 315.8,1126.6 316.3,1129.1 316.8,1130.8 317.3,1128.8 317.8,1126.6 318.3,1127.5 318.8,1122.6 319.3,1126.7 319.8,1129.6 320.3,1130.3 320.8,1127.9 321.3,1124.5 321.8,1127.9 322.3,1125.9 322.8,1126.0 323.3,1127.9 323.8,1123.9 324.3,1131.0 324.8,1130.1 325.3,1128.6 325.8,1126.5 326.3,1127.6 326.8,1127.3 327.3,1125.1 327.8,1121.5 328.3,1124.3 328.8,1124.7 329.3,1125.0 329.8,1123.1 330.3,1121.1 330.8,1118.2 331.3,1112.3 331.8,1109.5 332.3,1110.8 332.8,1109.0 333.3,1108.7 333.8,1104.9 334.3,1106.3 334.8,1110.1 335.3,1110.5 335.8,1111.0 336.3,1115.7 336.8,1117.1 337.3,1116.0 337.8,1118.1 338.3,1121.3 338.8,1121.8 339.3,1122.1 339.8,1120.9 340.3,1118.1 340.8,1124.4 341.3,1125.9 341.8,1124.1 342.3,1121.0 342.8,1123.5 343.3,1125.2 343.8,1125.0 344.3,1123.9 344.8,1120.6 345.3,1125.8 345.8,1127.4 346.3,1127.8 346.8,1128.5 347.3,1126.7 347.8,1126.8 348.3,1122.1 348.8,1123.9 349.3,1123.3 349.8,1125.1 350.3,1121.5 350.8,1120.5 351.3,1121.4 351.8,1124.1 352.3,1123.8 352.8,1127.9 353.3,1129.3 353.8,1128.8 354.3,1129.2 354.8,1129.8 355.3,1135.3 355.8,1133.8 356.3,1130.5 356.8,1133.6 357.3,1131.3 357.8,1133.8 358.3,1135.2 358.8,1133.4 359.3,1133.1 359.8,1135.5 360.3,1136.5 360.8,1136.0 361.3,1135.3 361.8,1132.2 362.3,1133.8 362.8,1133.0 363.3,1134.4 363.8,1132.6 364.3,1132.5 364.8,1132.6 365.3,1133.8 365.8,1134.5 366.3,1135.4 366.8,1136.3 367.3,1134.7 367.8,1138.5 368.3,1135.3 368.8,1133.9 369.3,1135.7 369.8,1134.7 370.3,1134.5 370.8,1135.3 371.3,1133.6 371.8,1136.7 372.3,1133.0 372.8,1134.3 373.3,1138.7 373.8,1139.4 374.3,1136.8 374.8,1132.9 375.3,1134.2 375.8,1134.3 376.3,1134.3 376.8,1135.5 377.3,1137.5 377.8,1138.7 378.3,1137.0 378.8,1134.7 379.3,1136.3 379.8,1137.7 380.3,1138.5 380.8,1135.6 381.3,1135.0 381.8,1134.5 382.3,1134.2 382.8,1136.9 383.3,1136.5 383.8,1139.3 384.3,1139.5 384.8,1137.8 385.3,1137.5 385.8,1136.6 386.3,1137.6 386.8,1138.3 387.3,1139.8 387.8,1137.7 388.3,1140.1 388.8,1139.8 389.3,1138.1 389.8,1134.7 390.3,1134.8 390.8,1137.2 391.3,1137.3 391.8,1136.0 392.3,1141.1 392.8,1139.1 393.3,1138.0 393.8,1138.6 394.3,1135.4 394.8,1132.8 395.3,1136.1 395.8,1136.3 396.3,1137.7 396.8,1137.5 397.3,1134.1 397.8,1135.9 398.3,1140.3 398.8,1141.6 399.3,1138.6 399.8,1138.3 400.3,1138.7 400.8,1139.9 401.3,1144.3 401.8,1141.9 402.3,1135.8 402.8,1135.2 403.3,1137.1 403.8,1135.2 404.3,1133.5 404.8,1129.7 405.3,1123.1 405.8,1118.4 406.3,1116.1 406.8,1117.6 407.3,1120.9 407.8,1123.1 408.3,1129.2 408.8,1126.1 409.3,1130.4 409.8,1136.6 410.3,1139.3 410.8,1135.4 411.3,1137.7 411.8,1138.5 412.3,1134.7 412.8,1139.4 413.3,1139.5 413.8,1138.8 414.3,1141.3 414.8,1139.7 415.3,1138.7 415.8,1142.0 416.3,1139.8 416.8,1141.1 417.3,1135.8 417.8,1140.6 418.3,1140.1 418.8,1140.8 419.3,1141.4 419.8,1142.3 420.3,1139.0 420.8,1139.4 421.3,1139.9 421.8,1141.3 422.3,1140.9 422.8,1141.3 423.3,1140.5 423.8,1136.8 424.3,1139.1 424.8,1140.7 425.3,1142.4 425.8,1146.6 426.3,1144.4 426.8,1143.6 427.3,1140.7 427.8,1143.1 428.3,1144.8 428.8,1140.2 429.3,1138.0 429.8,1136.1 430.3,1137.7 430.8,1142.7 431.3,1138.0 431.8,1139.8 432.3,1142.2 432.8,1141.4 433.3,1141.0 433.8,1140.9 434.3,1141.7 434.8,1137.5 435.3,1138.6 435.8,1138.8 436.3,1135.5 436.8,1137.4 437.3,1140.1 437.8,1142.9 438.3,1140.0 438.8,1141.8 439.3,1139.8 439.8,1142.8 440.3,1140.2 440.8,1143.2 441.3,1147.0 441.8,1143.8 442.3,1142.1 442.8,1137.4 443.3,1139.3 443.8,1139.6 444.3,1137.1 444.8,1135.6 445.3,1131.2 445.8,1128.4 446.3,1122.5 446.8,1116.8 447.3,1113.9 447.8,1106.0 448.3,1105.5 448.8,1111.3 449.3,1115.4 449.8,1118.2 450.3,1124.0 450.8,1128.3 451.3,1133.6 451.8,1139.8 452.3,1140.6 452.8,1136.2 453.3,1134.9 453.8,1138.3 454.3,1134.0 454.8,1137.2 455.3,1134.0 455.8,1138.4 456.3,1139.1 456.8,1137.3 457.3,1136.3 457.8,1139.5 458.3,1140.1 458.8,1140.5 459.3,1143.7 459.8,1138.9 460.3,1137.7 460.8,1142.6 461.3,1145.0 461.8,1137.5 462.3,1135.6 462.8,1134.5 463.3,1134.7 463.8,1133.2 464.3,1127.3 464.8,1123.5 465.3,1119.0 465.8,1117.9 466.3,1116.9 466.8,1119.3 467.3,1121.8 467.8,1125.0 468.3,1125.1 468.8,1129.2 469.3,1132.4 469.8,1134.4 470.3,1133.0 470.8,1134.8 471.3,1138.3 471.8,1137.4 472.3,1135.0 472.8,1135.5 473.3,1135.3 473.8,1135.8 474.3,1134.3 474.8,1132.8 475.3,1133.3 475.8,1130.9 476.3,1134.3 476.8,1135.2 477.3,1132.8 477.8,1127.0 478.3,1127.1 478.8,1127.2 479.3,1123.1 479.8,1118.6 480.3,1113.0 480.8,1106.6 481.3,1095.2 481.8,1082.1 482.3,1075.2 482.8,1068.9 483.3,1059.3 483.8,1057.3 484.3,1063.5 484.8,1067.5 485.3,1077.1 485.8,1089.8 486.3,1102.5 486.8,1113.5 487.3,1118.5 487.8,1121.4 488.3,1127.3 488.8,1128.5 489.3,1129.8 489.8,1130.0 490.3,1129.8 490.8,1131.5 491.3,1130.5 491.8,1129.1 492.3,1133.0 492.8,1138.0 493.3,1135.5 493.8,1133.3 494.3,1137.6 494.8,1142.3 495.3,1139.7 495.8,1143.2 496.3,1139.2 496.8,1134.0 497.3,1138.9 497.8,1143.3 498.3,1140.0 498.8,1136.4 499.3,1139.5 499.8,1141.0 500.3,1136.2 500.8,1138.5 501.3,1140.3 501.8,1141.3 502.3,1138.3 502.8,1137.3 503.3,1140.2 503.8,1140.2 504.3,1139.0 504.8,1138.6 505.3,1140.5 505.8,1139.8 506.3,1143.6 506.8,1140.4 507.3,1142.4 507.8,1142.5 508.3,1140.7 508.8,1139.7 509.3,1141.6 509.8,1139.5 510.3,1137.3 510.8,1139.0 511.3,1139.1 511.8,1136.0 512.3,1139.4 512.8,1135.5 513.3,1138.2 513.8,1137.7 514.3,1134.7 514.8,1136.5 515.3,1136.2 515.8,1138.1 516.3,1137.0 516.8,1138.2 517.3,1139.2 517.8,1139.5 518.3,1136.6 518.8,1138.6 519.3,1131.6 519.8,1130.8 520.3,1130.4 520.8,1125.6 521.3,1122.5 521.8,1121.4 522.3,1113.4 522.8,1110.1 523.3,1110.8 523.8,1111.2 524.3,1111.7 524.8,1118.0 525.3,1123.5 525.8,1126.8 526.3,1127.7 526.8,1127.6 527.3,1129.0 527.8,1134.9 528.3,1134.0 528.8,1131.3 529.3,1130.0 529.8,1129.5 530.3,1126.3 530.8,1119.2 531.3,1111.9 531.8,1108.8 532.3,1101.4 532.8,1097.2 533.3,1103.9 533.8,1109.9 534.3,1112.4 534.8,1116.5 535.3,1121.2 535.8,1124.6 536.3,1127.1 536.8,1128.3 537.3,1129.6 537.8,1131.2 538.3,1132.8 538.8,1134.0 539.3,1134.0 539.8,1131.6 540.3,1132.9 540.8,1129.5 541.3,1127.8 541.8,1127.6 542.3,1121.3 542.8,1118.4 543.3,1110.6 543.8,1107.2 544.3,1104.5 544.8,1099.9 545.3,1094.7 545.8,1097.9 546.3,1108.3 546.8,1114.0 547.3,1119.9 547.8,1120.5 548.3,1128.6 548.8,1129.8 549.3,1128.4 549.8,1132.3 550.3,1136.3 550.8,1134.7 551.3,1130.5 551.8,1130.3 552.3,1135.4 552.8,1133.4 553.3,1131.6 553.8,1131.8 554.3,1130.9 554.8,1129.6 555.3,1131.9 555.8,1132.4 556.3,1129.8 556.8,1132.9 557.3,1130.3 557.8,1131.3 558.3,1132.3 558.8,1131.9 559.3,1130.3 559.8,1121.9 560.3,1117.9 560.8,1116.6 561.3,1116.2 561.8,1114.1 562.3,1106.3 562.8,1099.9 563.3,1093.8 563.8,1086.9 564.3,1081.5 564.8,1066.8 565.3,1059.8 565.8,1048.8 566.3,1031.6 566.8,1018.7 567.3,1008.6 567.8,1000.4 568.3,996.3 568.8,996.3 569.3,1004.4 569.8,1013.5 570.3,1021.4 570.8,1035.0 571.3,1045.2 571.8,1056.5 572.3,1069.3 572.8,1080.2 573.3,1093.4 573.8,1101.8 574.3,1108.0 574.8,1111.3 575.3,1111.4 575.8,1115.8 576.3,1121.0 576.8,1126.1 577.3,1124.3 577.8,1126.9 578.3,1123.0 578.8,1125.3 579.3,1127.5 579.8,1131.0 580.3,1131.3 580.8,1129.6 581.3,1128.8 581.8,1124.7 582.3,1124.0 582.8,1130.3 583.3,1133.9 583.8,1129.4 584.3,1124.6 584.8,1123.1 585.3,1117.3 585.8,1116.6 586.3,1113.8 586.8,1110.5 587.3,1100.2 587.8,1086.4 588.3,1063.3 588.8,1038.9 589.3,1007.9 589.8,975.7 590.3,941.4 590.8,916.3 591.3,910.0 591.8,933.8 592.3,963.4 592.8,1000.1 593.3,1038.1 593.8,1064.0 594.3,1082.0 594.8,1096.7 595.3,1103.6 595.8,1111.8 596.3,1119.6 596.8,1121.3 597.3,1123.1 597.8,1123.1 598.3,1125.6 598.8,1127.4 599.3,1130.0 599.8,1134.8 600.3,1132.9 600.8,1133.5 601.3,1135.7 601.8,1134.2 602.3,1134.6 602.8,1130.9 603.3,1133.6 603.8,1135.9 604.3,1134.6 604.8,1136.3 605.3,1135.9 605.8,1137.9 606.3,1138.9 606.8,1136.0 607.3,1133.6 607.8,1134.1 608.3,1136.5 608.8,1136.1 609.3,1134.2 609.8,1139.1 610.3,1140.4 610.8,1138.2 611.3,1138.3 611.8,1137.8 612.3,1135.7 612.8,1137.2 613.3,1138.3 613.8,1136.9 614.3,1134.1 614.8,1133.6 615.3,1135.2 615.8,1135.6 616.3,1134.7 616.8,1132.7 617.3,1135.7 617.8,1136.4 618.3,1136.5 618.8,1135.2 619.3,1138.2 619.8,1138.5 620.3,1139.3 620.8,1137.0 621.3,1139.1 621.8,1138.5 622.3,1137.1 622.8,1137.3 623.3,1135.9 623.8,1136.9 624.3,1137.4 624.8,1137.4 625.3,1138.2 625.8,1138.3 626.3,1135.5 626.8,1136.2 627.3,1131.8 627.8,1134.4 628.3,1140.7 628.8,1138.9 629.3,1137.6 629.8,1140.3 630.3,1134.1 630.8,1132.6 631.3,1130.8 631.8,1131.5 632.3,1127.2 632.8,1121.7 633.3,1119.1 633.8,1117.1 634.3,1114.8 634.8,1109.0 635.3,1102.9 635.8,1095.9 636.3,1091.1 636.8,1093.8 637.3,1093.0 637.8,1098.6 638.3,1103.2 638.8,1109.4 639.3,1115.1 639.8,1119.5 640.3,1126.2 640.8,1128.6 641.3,1132.5 641.8,1134.8 642.3,1134.3 642.8,1133.8 643.3,1134.0 643.8,1132.4 644.3,1132.5 644.8,1128.2 645.3,1129.8 645.8,1132.1 646.3,1128.1 646.8,1129.8 647.3,1129.4 647.8,1124.8 648.3,1119.2 648.8,1116.9 649.3,1111.2 649.8,1097.5 650.3,1078.9 650.8,1067.9 651.3,1051.6 651.8,1045.5 652.3,1044.1 652.8,1054.4 653.3,1069.4 653.8,1081.1 654.3,1097.7 654.8,1107.6 655.3,1116.3 655.8,1120.8 656.3,1123.5 656.8,1124.3 657.3,1128.3 657.8,1131.3 658.3,1129.9 658.8,1133.6 659.3,1132.2 659.8,1127.7 660.3,1129.0 660.8,1128.9 661.3,1125.9 661.8,1123.3 662.3,1118.6 662.8,1108.7 663.3,1099.2 663.8,1085.3 664.3,1070.2 664.8,1059.5 665.3,1050.5 665.8,1051.4 666.3,1060.7 666.8,1069.9 667.3,1087.8 667.8,1101.3 668.3,1111.3 668.8,1119.9 669.3,1125.3 669.8,1128.4 670.3,1127.6 670.8,1131.1 671.3,1134.2 671.8,1134.9 672.3,1135.6 672.8,1135.7 673.3,1140.2 673.8,1138.8 674.3,1139.8 674.8,1140.1 675.3,1137.6 675.8,1136.8 676.3,1136.7 676.8,1140.1 677.3,1142.6 677.8,1140.9 678.3,1137.6 678.8,1141.8 679.3,1142.9 679.8,1140.2 680.3,1135.8 680.8,1134.9 681.3,1136.9 681.8,1136.9 682.3,1140.9 682.8,1143.9 683.3,1144.5 683.8,1143.7 684.3,1143.8 684.8,1143.5 685.3,1141.2 685.8,1140.1 686.3,1145.2 686.8,1144.5 687.3,1138.2 687.8,1142.6 688.3,1141.9 688.8,1140.7 689.3,1143.4 689.8,1139.9 690.3,1140.1 690.8,1141.5 691.3,1143.2 691.8,1140.4 692.3,1140.7 692.8,1140.0 693.3,1142.0 693.8,1144.5 694.3,1143.9 694.8,1141.3 695.3,1139.8 695.8,1138.0 696.3,1142.0 696.8,1141.4 697.3,1142.2 697.8,1139.8 698.3,1137.6 698.8,1134.7 699.3,1130.1 699.8,1130.5 700.3,1125.5 700.8,1116.3 701.3,1109.7 701.8,1101.4 702.3,1094.7 702.8,1093.8 703.3,1098.0 703.8,1107.4 704.3,1119.7 704.8,1126.7 705.3,1130.8 705.8,1135.8 706.3,1136.7 706.8,1137.1 707.3,1139.5 707.8,1139.2 708.3,1139.6 708.8,1140.8 709.3,1139.4 709.8,1143.4 710.3,1142.5 710.8,1140.8 711.3,1142.2 711.8,1138.9 712.3,1138.1 712.8,1140.7 713.3,1142.1 713.8,1140.4 714.3,1140.5 714.8,1146.1 715.3,1143.6 715.8,1140.4 716.3,1141.8 716.8,1144.2 717.3,1142.4 717.8,1141.4 718.3,1147.8 718.8,1146.5 719.3,1141.1 719.8,1144.1 720.3,1144.3 720.8,1141.5 721.3,1141.6 721.8,1141.8 722.3,1144.6 722.8,1147.1 723.3,1144.3 723.8,1143.4 724.3,1146.2 724.8,1143.5 725.3,1141.2 725.8,1141.3 726.3,1142.4 726.8,1144.9 727.3,1146.1 727.8,1146.4 728.3,1145.0 728.8,1140.8 729.3,1143.2 729.8,1141.4 730.3,1143.4 730.8,1143.5 731.3,1141.9 731.8,1142.0 732.3,1142.5 732.8,1144.1 733.3,1145.1 733.8,1147.4 734.3,1145.4 734.8,1145.1 735.3,1144.7 735.8,1144.1 736.3,1145.1 736.8,1142.8 737.3,1143.5 737.8,1142.3 738.3,1142.0 738.8,1139.3 739.3,1140.4 739.8,1144.7 740.3,1144.9 740.8,1145.0 741.3,1143.1 741.8,1142.1 742.3,1145.0 742.8,1145.6 743.3,1141.2 743.8,1138.5 744.3,1141.5 744.8,1142.4 745.3,1139.7 745.8,1140.5 746.3,1144.7 746.8,1147.2 747.3,1147.4 747.8,1144.0 748.3,1144.4 748.8,1143.2 749.3,1141.4 749.8,1142.5 750.3,1144.3 750.8,1141.6 751.3,1141.8 751.8,1142.9 752.3,1141.7 752.8,1140.9 753.3,1143.0 753.8,1146.1 754.3,1144.4 754.8,1142.1 755.3,1143.5 755.8,1143.0 756.3,1144.2 756.8,1143.1 757.3,1140.6 757.8,1141.7 758.3,1143.6 758.8,1143.8 759.3,1142.9 759.8,1143.4 760.3,1141.2 760.8,1141.4 761.3,1141.1 761.8,1138.7 762.3,1142.6 762.8,1141.7 763.3,1142.0 763.8,1141.2 764.3,1143.8 764.8,1142.5 765.3,1142.2 765.8,1144.5 766.3,1141.4 766.8,1139.8 767.3,1144.3 767.8,1141.8 768.3,1140.1 768.8,1141.9 769.3,1145.0 769.8,1143.4 770.3,1140.8 770.8,1143.1 771.3,1147.4 771.8,1145.4 772.3,1144.4 772.8,1141.2 773.3,1141.8 773.8,1144.9 774.3,1141.3 774.8,1141.5 775.3,1142.1 775.8,1140.9 776.3,1138.5 776.8,1137.9 777.3,1133.1 777.8,1128.6 778.3,1126.6 778.8,1120.5 779.3,1112.5 779.8,1105.3 780.3,1097.8 780.8,1097.7 781.3,1100.0 781.8,1100.2 782.3,1107.7 782.8,1115.6 783.3,1121.5 783.8,1129.6 784.3,1135.7 784.8,1136.9 785.3,1139.9 785.8,1139.4 786.3,1139.8 786.8,1139.1 787.3,1140.1 787.8,1139.3 788.3,1142.3 788.8,1138.9 789.3,1138.7 789.8,1140.7 790.3,1140.0 790.8,1142.2 791.3,1142.7 791.8,1141.0 792.3,1137.9 792.8,1140.3 793.3,1141.5 793.8,1141.2 794.3,1140.6 794.8,1139.5 795.3,1140.1 795.8,1141.8 796.3,1141.6 796.8,1140.0 797.3,1141.9 797.8,1143.2 798.3,1142.7 798.8,1140.9 799.3,1142.4 799.8,1136.1 800.3,1136.6 800.8,1134.5 801.3,1130.9 801.8,1126.8 802.3,1121.8 802.8,1118.5 803.3,1114.7 803.8,1113.1 804.3,1114.8 804.8,1118.8 805.3,1125.5 805.8,1130.8 806.3,1132.2 806.8,1135.7 807.3,1139.2 807.8,1137.1 808.3,1139.3 808.8,1139.1 809.3,1140.9 809.8,1142.5 810.3,1143.4 810.8,1140.5 811.3,1142.0 811.8,1141.4 812.3,1142.6 812.8,1140.0 813.3,1143.7 813.8,1146.1 814.3,1146.7 814.8,1144.7 815.3,1141.7 815.8,1140.6 816.3,1143.1 816.8,1142.1 817.3,1137.9 817.8,1138.5 818.3,1141.8 818.8,1140.7 819.3,1137.8 819.8,1138.2 820.3,1139.9 820.8,1142.8 821.3,1143.4 821.8,1142.9 822.3,1141.7 822.8,1141.4 823.3,1141.8 823.8,1144.0 824.3,1139.9 824.8,1142.5 825.3,1143.6 825.8,1141.2 826.3,1136.9 826.8,1139.9 827.3,1140.4 827.8,1139.0 828.3,1139.1 828.8,1140.1 829.3,1141.2 829.8,1139.8 830.3,1140.6 830.8,1139.6 831.3,1143.1 831.8,1138.4 832.3,1138.9 832.8,1137.5 833.3,1137.7 833.8,1140.9 834.3,1142.3 834.8,1139.3 835.3,1140.0 835.8,1139.3 836.3,1139.7 836.8,1135.2 837.3,1139.1 837.8,1138.8 838.3,1138.4 838.8,1137.4 839.3,1135.9 839.8,1139.7 840.3,1139.2 840.8,1136.6 841.3,1136.6 841.8,1135.8 842.3,1133.5 842.8,1136.4 843.3,1137.8 843.8,1136.5 844.3,1134.8 844.8,1131.6 845.3,1131.6 845.8,1129.9 846.3,1130.8 846.8,1133.1 847.3,1135.9 847.8,1129.6 848.3,1126.3 848.8,1123.0 849.3,1120.7 849.8,1119.0 850.3,1112.5 850.8,1108.0 851.3,1102.8 851.8,1094.9 852.3,1091.6 852.8,1080.5 853.3,1073.7 853.8,1069.4 854.3,1061.5 854.8,1056.6 855.3,1064.1 855.8,1071.4 856.3,1077.6 856.8,1086.3 857.3,1093.6 857.8,1103.5 858.3,1109.8 858.8,1112.9 859.3,1118.2 859.8,1120.0 860.3,1124.6 860.8,1127.6 861.3,1126.8 861.8,1129.1 862.3,1127.2 862.8,1128.9 863.3,1130.9 863.8,1135.0 864.3,1134.6 864.8,1138.0 865.3,1135.1 865.8,1134.6 866.3,1134.5 866.8,1136.9 867.3,1136.9 867.8,1137.9 868.3,1139.2 868.8,1138.4 869.3,1136.9 869.8,1136.4 870.3,1139.7 870.8,1143.4 871.3,1142.7 871.8,1140.1 872.3,1139.0 872.8,1141.3 873.3,1140.3 873.8,1138.5 874.3,1138.2 874.8,1137.7 875.3,1137.1 875.8,1138.3 876.3,1138.1 876.8,1138.7 877.3,1137.2 877.8,1135.2 878.3,1138.1 878.8,1139.6 879.3,1133.9 879.8,1132.9 880.3,1129.0 880.8,1127.4 881.3,1126.2 881.8,1116.9 882.3,1105.3 882.8,1097.2 883.3,1093.6 883.8,1095.2 884.3,1098.0 884.8,1103.8 885.3,1112.5 885.8,1115.9 886.3,1124.2 886.8,1132.3 887.3,1133.0 887.8,1134.4 888.3,1134.2 888.8,1134.7 889.3,1134.8 889.8,1135.3 890.3,1134.0 890.8,1132.3 891.3,1136.2 891.8,1136.2 892.3,1138.6 892.8,1137.7 893.3,1136.5 893.8,1136.0 894.3,1134.1 894.8,1130.7 895.3,1133.3 895.8,1135.5 896.3,1133.9 896.8,1131.9 897.3,1134.8 897.8,1137.1 898.3,1137.0 898.8,1138.3 899.3,1142.7 899.8,1141.2 900.3,1141.1 900.8,1142.4 901.3,1141.5 901.8,1145.6 902.3,1143.6 902.8,1142.4 903.3,1139.6 903.8,1141.1 904.3,1144.0 904.8,1143.2 905.3,1142.4 905.8,1142.3 906.3,1142.6 906.8,1140.3 907.3,1145.6 907.8,1146.1 908.3,1144.6 908.8,1140.3 909.3,1143.6 909.8,1146.2 910.3,1143.0 910.8,1140.6 911.3,1139.2 911.8,1141.4 912.3,1143.1 912.8,1139.5 913.3,1140.3 913.8,1143.5 914.3,1141.4 914.8,1142.7 915.3,1143.6 915.8,1144.5 916.3,1142.1 916.8,1142.5 917.3,1142.2 917.8,1145.3 918.3,1144.2 918.8,1146.2 919.3,1142.8 919.8,1143.6 920.3,1146.3 920.8,1145.2 921.3,1144.8 921.8,1143.2 922.3,1142.9 922.8,1142.6 923.3,1144.0 923.8,1146.0 924.3,1146.6 924.8,1144.6 925.3,1141.0 925.8,1145.1 926.3,1145.5 926.8,1143.5 927.3,1142.0 927.8,1138.7 928.3,1141.1 928.8,1145.3 929.3,1146.9 929.8,1143.9 930.3,1141.7 930.8,1142.7 931.3,1143.3 931.8,1141.3 932.3,1142.9 932.8,1144.5 933.3,1145.0 933.8,1142.1 934.3,1140.6 934.8,1141.9 935.3,1141.5 935.8,1141.3 936.3,1140.7 936.8,1140.8 937.3,1139.5 937.8,1139.9 938.3,1137.4 938.8,1135.4 939.3,1136.9 939.8,1133.5 940.3,1130.0 940.8,1127.1 941.3,1125.6 941.8,1131.1 942.3,1134.0 942.8,1134.1 943.3,1136.9 943.8,1137.6 944.3,1140.0 944.8,1141.2 945.3,1140.3 945.8,1141.2 946.3,1143.1 946.8,1141.1 947.3,1138.9 947.8,1138.9 948.3,1142.9 948.8,1146.6 949.3,1144.9 949.8,1145.2 950.3,1145.7 950.8,1145.0 951.3,1145.7 951.8,1141.1 952.3,1143.6 952.8,1146.6 953.3,1145.8 953.8,1147.0 954.3,1147.1 954.8,1144.2 955.3,1140.9 955.8,1141.9 956.3,1145.4 956.8,1148.6 957.3,1144.7 957.8,1140.2 958.3,1142.9 958.8,1144.1 959.3,1144.6 959.8,1143.7 960.3,1139.3 960.8,1148.0 961.3,1147.7 961.8,1146.4 962.3,1145.0 962.8,1142.6 963.3,1144.4 963.8,1148.4 964.3,1147.0 964.8,1146.1 965.3,1144.6 965.8,1144.1 966.3,1145.3 966.8,1147.4 967.3,1147.8 967.8,1146.4 968.3,1142.8 968.8,1143.4 969.3,1143.8 969.8,1143.0 970.3,1144.9 970.8,1144.2 971.3,1148.7 971.8,1146.2 972.3,1144.2 972.8,1142.6 973.3,1144.1 973.8,1146.2 974.3,1141.6 974.8,1143.0 975.3,1144.7 975.8,1139.4 976.3,1142.2 976.8,1142.4 977.3,1144.5 977.8,1141.4 978.3,1140.0 978.8,1142.8 979.3,1145.9 979.8,1142.8 980.3,1142.4 980.8,1141.6 981.3,1139.0 981.8,1138.3 982.3,1137.5 982.8,1136.7 983.3,1133.9 983.8,1130.7 984.3,1128.4 984.8,1133.6 985.3,1132.4 985.8,1133.6 986.3,1137.8 986.8,1141.1 987.3,1140.5 987.8,1141.0 988.3,1140.0 988.8,1142.4 989.3,1143.5 989.8,1142.6 990.3,1143.9 990.8,1142.6 991.3,1145.8 991.8,1142.6 992.3,1144.9 992.8,1143.3 993.3,1145.6 993.8,1146.4 994.3,1141.9 994.8,1143.4 995.3,1143.8 995.8,1141.8 996.3,1143.3 996.8,1145.9 997.3,1142.6 997.8,1142.5 998.3,1141.0 998.8,1141.9 999.3,1145.2 999.8,1146.1 1000.3,1142.8 1000.8,1145.3 1001.3,1144.9 1001.8,1141.3 1002.3,1143.7 1002.8,1141.7 1003.3,1140.9 1003.8,1141.1 1004.3,1142.0 1004.8,1143.9 1005.3,1145.8 1005.8,1145.9 1006.3,1143.0 1006.8,1146.5 1007.3,1142.6 1007.8,1140.7 1008.3,1144.8 1008.8,1146.0 1009.3,1147.0 1009.8,1146.9 1010.3,1146.3 1010.8,1142.9 1011.3,1142.7 1011.8,1142.8 1012.3,1143.9 1012.8,1143.3 1013.3,1145.8 1013.8,1144.7 1014.3,1143.5 1014.8,1140.7 1015.3,1139.2 1015.8,1138.2 1016.3,1136.5 1016.8,1131.6 1017.3,1132.4 1017.8,1135.4 1018.3,1135.9 1018.8,1137.1 1019.3,1137.0 1019.8,1137.5 1020.3,1139.6 1020.8,1140.3 1021.3,1142.6 1021.8,1142.6 1022.3,1143.2 1022.8,1143.4 1023.3,1141.2 1023.8,1140.5 1024.3,1140.5 1024.8,1141.3 1025.3,1142.5 1025.8,1138.8 1026.3,1137.1 1026.8,1138.0 1027.3,1137.3 1027.8,1135.0 1028.3,1135.0 1028.8,1134.1 1029.3,1135.3 1029.8,1137.2 1030.3,1140.0 1030.8,1140.5 1031.3,1140.8 1031.8,1140.0 1032.3,1140.7 1032.8,1142.7 1033.3,1143.6 1033.8,1145.4 1034.3,1144.2 1034.8,1145.1 1035.3,1143.9 1035.8,1141.9 1036.3,1141.7 1036.8,1143.4 1037.3,1144.1 1037.8,1142.9 1038.3,1146.3 1038.8,1146.7 1039.3,1146.6 1039.8,1145.7 1040.3,1146.3 1040.8,1145.2 1041.3,1141.5 1041.8,1143.6 1042.3,1147.3 1042.8,1144.5 1043.3,1145.7 1043.8,1146.3 1044.3,1145.8 1044.8,1146.9 1045.3,1148.5 1045.8,1142.1 1046.3,1142.4 1046.8,1147.6 1047.3,1147.1 1047.8,1144.8 1048.3,1147.0 1048.8,1143.3 1049.3,1142.4 1049.8,1143.5 1050.3,1143.1 1050.8,1143.2 1051.3,1141.7 1051.8,1141.0 1052.3,1141.9 1052.8,1143.0 1053.3,1139.4 1053.8,1137.7 1054.3,1138.0 1054.8,1134.9 1055.3,1134.4 1055.8,1128.8 1056.3,1117.7 1056.8,1109.6 1057.3,1109.1 1057.8,1113.6 1058.3,1117.9 1058.8,1125.3 1059.3,1127.6 1059.8,1132.3 1060.3,1137.6 1060.8,1141.4 1061.3,1139.7 1061.8,1141.9 1062.3,1142.4 1062.8,1142.6 1063.3,1141.8 1063.8,1141.9 1064.3,1142.7 1064.8,1142.4 1065.3,1140.4 1065.8,1141.4 1066.3,1141.9 1066.8,1141.7 1067.3,1138.8 1067.8,1138.0 1068.3,1130.0 1068.8,1126.1 1069.3,1125.3 1069.8,1126.5 1070.3,1130.0 1070.8,1131.8 1071.3,1134.5 1071.8,1136.2 1072.3,1137.5 1072.8,1143.3 1073.3,1143.3 1073.8,1141.1 1074.3,1141.8 1074.8,1142.8 1075.3,1144.4 1075.8,1144.6 1076.3,1143.9 1076.8,1142.0 1077.3,1142.6 1077.8,1141.1 1078.3,1138.9 1078.8,1138.7 1079.3,1136.9 1079.8,1135.5 1080.3,1134.3 1080.8,1131.8 1081.3,1133.8 1081.8,1130.1 1082.3,1127.3 1082.8,1126.5 1083.3,1124.7 1083.8,1125.2 1084.3,1121.1 1084.8,1125.4 1085.3,1126.6 1085.8,1127.9 1086.3,1134.4 1086.8,1136.9 1087.3,1136.9 1087.8,1141.2 1088.3,1143.4 1088.8,1140.9 1089.3,1142.4 1089.8,1142.7 1090.3,1140.8 1090.8,1141.4 1091.3,1143.5 1091.8,1140.6 1092.3,1142.4 1092.8,1144.6 1093.3,1144.9 1093.8,1143.5 1094.3,1144.7 1094.8,1146.5 1095.3,1146.6 1095.8,1147.5 1096.3,1147.3 1096.8,1146.2 1097.3,1143.8 1097.8,1144.4 1098.3,1145.2 1098.8,1146.3 1099.3,1144.2 1099.8,1142.9 1100.3,1143.7 1100.8,1142.5 1101.3,1145.2 1101.8,1148.1 1102.3,1144.2 1102.8,1147.1 1103.3,1143.7 1103.8,1143.8 1104.3,1145.2 1104.8,1145.4 1105.3,1145.7 1105.8,1147.2 1106.3,1148.8 1106.8,1149.1 1107.3,1145.2 1107.8,1142.8 1108.3,1141.9 1108.8,1144.2 1109.3,1144.0 1109.8,1144.0 1110.3,1142.4 1110.8,1147.2 1111.3,1148.4 1111.8,1147.3 1112.3,1146.6 1112.8,1143.9 1113.3,1146.0 1113.8,1146.1 1114.3,1145.1 1114.8,1147.3 1115.3,1144.8 1115.8,1145.3 1116.3,1147.3 1116.8,1146.2 1117.3,1147.2 1117.8,1145.6 1118.3,1143.8 1118.8,1144.1 1119.3,1143.5 1119.8,1144.3 1120.3,1145.5 1120.8,1146.9 1121.3,1147.0 1121.8,1143.7 1122.3,1144.7 1122.8,1145.7 1123.3,1147.4 1123.8,1147.0 1124.3,1145.3 1124.8,1143.6 1125.3,1143.9 1125.8,1142.0 1126.3,1141.5 1126.8,1143.8 1127.3,1141.7 1127.8,1140.2 1128.3,1141.0 1128.8,1139.0 1129.3,1139.9 1129.8,1135.1 1130.3,1128.6 1130.8,1122.3 1131.3,1120.0 1131.8,1123.8 1132.3,1122.6 1132.8,1123.2 1133.3,1130.1 1133.8,1135.3 1134.3,1138.0 1134.8,1138.1 1135.3,1145.0 1135.8,1144.9 1136.3,1145.6 1136.8,1146.5 1137.3,1146.6 1137.8,1147.5 1138.3,1147.3 1138.8,1148.6 1139.3,1145.5 1139.8,1144.0 1140.3,1144.8 1140.8,1147.6 1141.3,1147.8 1141.8,1145.1 1142.3,1144.6 1142.8,1145.9 1143.3,1146.7 1143.8,1146.8 1144.3,1149.0 1144.8,1146.4 1145.3,1146.1 1145.8,1145.7 1146.3,1146.7 1146.8,1147.3 1147.3,1146.7 1147.8,1146.3 1148.3,1145.2 1148.8,1147.5 1149.3,1146.5 1149.8,1146.2 1150.3,1146.5 1150.8,1148.7 1151.3,1149.3 1151.8,1148.0 1152.3,1146.3 1152.8,1147.6 1153.3,1146.1 1153.8,1145.9 1154.3,1144.8 1154.8,1146.1 1155.3,1148.8 1155.8,1147.2 1156.3,1146.6 1156.8,1148.9 1157.3,1147.5 1157.8,1147.1 1158.3,1144.1 1158.8,1142.9 1159.3,1143.3 1159.8,1145.6 1160.3,1144.1 1160.8,1147.6 1161.3,1149.4 1161.8,1147.6 1162.3,1146.9 1162.8,1147.6 1163.3,1146.6 1163.8,1149.3 1164.3,1148.4 1164.8,1148.3 1165.3,1147.6 1165.8,1149.9 1166.3,1149.5 1166.8,1147.7 1167.3,1148.8 1167.8,1148.0 1168.3,1146.5 1168.8,1145.4 1169.3,1146.0 1169.8,1145.2 1170.3,1148.6 1170.8,1147.4 1171.3,1149.6 1171.8,1144.3 1172.3,1142.4 1172.8,1143.7 1173.3,1147.8 1173.8,1145.9 1174.3,1148.2 1174.8,1147.0 1175.3,1145.9 1175.8,1147.2 1176.3,1148.6 1176.8,1149.8 1177.3,1149.7 1177.8,1147.1 1178.3,1148.9 1178.8,1148.4 1179.3,1148.8 1179.8,1149.8 1180.3,1148.2 1180.8,1148.9 1181.3,1149.0 1181.8,1144.6 1182.3,1144.5 1182.8,1143.4 1183.3,1142.6 1183.8,1146.1 1184.3,1148.9 1184.8,1147.7 1185.3,1146.5 1185.8,1148.8 1186.3,1149.4 1186.8,1150.1 1187.3,1149.4 1187.8,1145.7 1188.3,1143.4 1188.8,1143.0 1189.3,1142.3 1189.8,1136.8 1190.3,1137.6 1190.8,1138.4 1191.3,1135.5 1191.8,1134.4 1192.3,1134.9 1192.8,1134.8 1193.3,1135.0 1193.8,1138.2 1194.3,1141.5 1194.8,1145.0 1195.3,1146.6 1195.8,1144.8 1196.3,1143.2 1196.8,1142.3 1197.3,1147.2 1197.8,1146.8 1198.3,1147.4 1198.8,1148.0 1199.3,1147.4 1199.8,1146.7 1200.3,1147.1 1200.8,1147.5 1201.3,1144.6 1201.8,1146.7 1202.3,1148.3 1202.8,1150.2 1203.3,1146.4 1203.8,1145.1 1204.3,1146.2 1204.8,1146.5 1205.3,1144.0 1205.8,1146.1 1206.3,1144.8 1206.8,1140.1 1207.3,1139.5 1207.8,1143.1 1208.3,1142.3 1208.8,1143.4 1209.3,1140.2 1209.8,1137.7 1210.3,1140.1 1210.8,1141.5 1211.3,1144.2 1211.8,1143.4 1212.3,1141.2 1212.8,1142.0 1213.3,1145.7 1213.8,1149.1 1214.3,1148.0 1214.8,1147.9 1215.3,1144.0 1215.8,1146.7 1216.3,1147.9 1216.8,1148.4 1217.3,1146.3 1217.8,1142.9 1218.3,1145.4 1218.8,1147.1 1219.3,1148.7 1219.8,1148.1 1220.3,1148.2 1220.8,1147.0 1221.3,1148.4 1221.8,1148.3 1222.3,1148.1 1222.8,1147.4 1223.3,1148.0 1223.8,1148.6 1224.3,1147.0 1224.8,1142.4 1225.3,1146.4 1225.8,1149.3 1226.3,1149.0 1226.8,1147.1 1227.3,1148.1 1227.8,1147.4 1228.3,1148.1 1228.8,1146.9 1229.3,1147.5 1229.8,1146.3 1230.3,1147.5 1230.8,1148.2 1231.3,1148.5 1231.8,1149.3 1232.3,1150.7 1232.8,1148.2 1233.3,1148.6 1233.8,1148.0 1234.3,1149.3 1234.8,1148.7 1235.3,1147.1 1235.8,1148.9 1236.3,1148.7 1236.8,1147.7 1237.3,1148.1 1237.8,1150.0 1238.3,1148.6 1238.8,1148.2 1239.3,1149.3 1239.8,1149.2 1240.3,1149.5 1240.8,1149.0 1241.3,1146.1 1241.8,1148.3 1242.3,1150.3 1242.8,1149.7 1243.3,1150.2 1243.8,1150.4 1244.3,1151.2 1244.8,1148.9 1245.3,1147.0 1245.8,1143.6 1246.3,1149.0 1246.8,1150.9 1247.3,1148.5 1247.8,1148.2 1248.3,1149.2 1248.8,1146.3 1249.3,1146.2 1249.8,1146.4 1250.3,1150.8 1250.8,1149.4 1251.3,1147.1 1251.8,1149.1 1252.3,1148.9 1252.8,1149.7 1253.3,1151.7 1253.8,1149.0 1254.3,1150.9 1254.8,1146.7 1255.3,1147.1 1255.8,1147.8 1256.3,1146.8 1256.8,1147.4 1257.3,1149.6 1257.8,1148.1 1258.3,1148.7 1258.8,1148.4 1259.3,1148.9 1259.8,1148.2 1260.3,1147.0 1260.8,1148.6 1261.3,1149.6 1261.8,1149.5 1262.3,1151.3 1262.8,1150.1 1263.3,1145.4 1263.8,1144.0 1264.3,1142.4 1264.8,1144.8 1265.3,1147.0 1265.8,1145.0 1266.3,1144.1 1266.8,1145.9 1267.3,1148.6 1267.8,1146.8 1268.3,1147.4 1268.8,1148.6 1269.3,1146.0 1269.8,1145.1 1270.3,1145.6 1270.8,1148.8 1271.3,1148.9 1271.8,1147.8 1272.3,1146.3 1272.8,1147.3 1273.3,1146.5 1273.8,1145.7 1274.3,1149.7 1274.8,1146.7 1275.3,1145.5 1275.8,1145.6 1276.3,1144.8 1276.8,1144.3 1277.3,1141.2 1277.8,1140.5 1278.3,1137.5 1278.8,1138.6 1279.3,1140.7 1279.8,1139.0 1280.3,1138.6 1280.8,1134.1 1281.3,1132.6 1281.8,1133.5 1282.3,1132.0 1282.8,1134.8 1283.3,1136.5 1283.8,1136.3 1284.3,1137.4 1284.8,1137.4 1285.3,1139.7 1285.8,1141.0 1286.3,1141.8 1286.8,1139.7 1287.3,1139.2 1287.8,1140.7 1288.3,1143.5 1288.8,1145.2 1289.3,1147.1 1289.8,1145.9 1290.3,1146.4 1290.8,1149.2 1291.3,1145.7 1291.8,1146.2 1292.3,1147.9 1292.8,1148.9 1293.3,1149.4 1293.8,1148.8 1294.3,1147.5 1294.8,1147.4 1295.3,1150.2 1295.8,1148.9 1296.3,1149.3 1296.8,1146.4 1297.3,1146.6 1297.8,1148.8 1298.3,1152.5 1298.8,1152.0 1299.3,1150.0 1299.8,1146.5 1300.3,1149.6 1300.8,1149.2 1301.3,1149.6 1301.8,1149.8 1302.3,1147.4 1302.8,1148.2 1303.3,1147.7 1303.8,1146.7 1304.3,1148.0 1304.8,1148.4 1305.3,1146.5 1305.8,1147.6 1306.3,1149.9 1306.8,1149.0 1307.3,1149.9 1307.8,1150.0 1308.3,1149.5 1308.8,1149.5 1309.3,1149.4 1309.8,1149.2 1310.3,1150.3 1310.8,1149.1 1311.3,1147.0 1311.8,1146.9 1312.3,1145.9 1312.8,1147.6 1313.3,1147.6 1313.8,1148.6 1314.3,1146.9 1314.8,1149.9 1315.3,1147.9 1315.8,1146.4 1316.3,1150.6 1316.8,1148.9 1317.3,1147.6 1317.8,1147.7 1318.3,1145.2 1318.8,1147.0 1319.3,1147.3 1319.8,1148.3 1320.3,1151.6 1320.8,1153.0 1321.3,1153.4 1321.8,1149.3 1322.3,1148.3 1322.8,1148.1 1323.3,1149.3 1323.8,1149.8 1324.3,1149.0 1324.8,1152.3 1325.3,1150.1 1325.8,1149.2 1326.3,1147.3 1326.8,1149.5 1327.3,1149.8 1327.8,1148.8 1328.3,1151.2 1328.8,1149.0 1329.3,1146.2 1329.8,1146.4 1330.3,1148.9 1330.8,1149.7 1331.3,1149.8 1331.8,1151.4 1332.3,1151.8 1332.8,1151.7 1333.3,1148.4 1333.8,1149.1 1334.3,1152.6 1334.8,1150.1 1335.3,1148.1 1335.8,1149.4 1336.3,1151.1 1336.8,1148.9 1337.3,1149.5 1337.8,1147.0 1338.3,1148.2 1338.8,1147.8 1339.3,1148.3 1339.8,1148.2 1340.3,1148.7 1340.8,1147.5 1341.3,1148.7 1341.8,1149.0 1342.3,1150.4 1342.8,1152.3 1343.3,1153.2 1343.8,1148.8 1344.3,1148.1 1344.8,1147.1 1345.3,1148.5 1345.8,1148.4 1346.3,1147.7 1346.8,1149.9 1347.3,1150.1 1347.8,1148.0 1348.3,1150.5 1348.8,1152.4 1349.3,1149.3 1349.8,1146.7 1350.3,1147.1 1350.8,1150.1 1351.3,1151.4 1351.8,1150.4 1352.3,1150.2 1352.8,1150.2 1353.3,1149.9 1353.8,1148.9 1354.3,1152.7 1354.8,1155.2 1355.3,1152.0 1355.8,1149.6 1356.3,1150.1 1356.8,1148.7 1357.3,1149.6 1357.8,1151.4 1358.3,1150.7 1358.8,1149.8 1359.3,1146.2 1359.8,1147.1 1360.3,1150.7 1360.8,1149.1 1361.3,1145.9 1361.8,1151.1 1362.3,1150.1 1362.8,1149.4 1363.3,1152.3 1363.8,1151.8 1364.3,1148.2 1364.8,1147.8 1365.3,1151.6 1365.8,1151.8 1366.3,1151.5 1366.8,1149.8 1367.3,1148.0 1367.8,1147.0 1368.3,1148.4 1368.8,1151.6 1369.3,1152.2 1369.8,1149.6 1370.3,1147.5 1370.8,1148.2 1371.3,1152.9 1371.8,1150.3 1372.3,1147.5 1372.8,1150.2 1373.3,1151.5 1373.8,1148.8 1374.3,1148.0 1374.8,1150.0 1375.3,1152.1 1375.8,1150.2 1376.3,1147.8 1376.8,1149.3 1377.3,1149.2 1377.8,1149.7 1378.3,1150.6 1378.8,1152.1 1379.3,1153.2 1379.8,1154.7 1380.3,1151.4 1380.8,1150.7 1381.3,1150.8 1381.8,1150.9 1382.3,1154.0 1382.8,1152.6 1383.3,1149.3 1383.8,1150.7 1384.3,1150.6 1384.8,1152.4 1385.3,1150.6 1385.8,1148.2 1386.3,1151.7 1386.8,1154.5 1387.3,1150.1 1387.8,1147.6 1388.3,1151.7 1388.8,1150.0 1389.3,1151.5 1389.8,1150.0 1390.3,1148.5 1390.8,1148.8 1391.3,1148.0 1391.8,1149.3 1392.3,1150.2 1392.8,1149.0 1393.3,1152.2 1393.8,1152.8 1394.3,1149.1 1394.8,1151.2 1395.3,1149.9 1395.8,1148.0 1396.3,1149.4 1396.8,1149.9 1397.3,1148.6 1397.8,1149.1 1398.3,1150.0 1398.8,1151.6 1399.3,1150.3 1399.8,1150.7 1400.3,1151.3 1400.8,1151.0 1401.3,1148.9 1401.8,1147.8 1402.3,1149.4 1402.8,1149.2 1403.3,1149.9 1403.8,1148.1 1404.3,1149.3 1404.8,1150.0 1405.3,1151.4 1405.8,1150.9 1406.3,1150.8 1406.8,1151.5 1407.3,1149.9 1407.8,1149.7 1408.3,1150.6 1408.8,1152.1 1409.3,1152.3 1409.8,1151.3 1410.3,1150.7 1410.8,1151.7 1411.3,1148.2 1411.8,1147.6 1412.3,1149.9 1412.8,1153.2 1413.3,1153.5 1413.8,1150.3 1414.3,1147.2 1414.8,1149.3 1415.3,1150.4 1415.8,1147.9 1416.3,1148.9 1416.8,1152.0 1417.3,1150.4 1417.8,1151.0 1418.3,1148.6 1418.8,1148.5 1419.3,1149.8 1419.8,1151.1 1420.3,1150.2 1420.8,1149.5 1421.3,1149.3 1421.8,1150.8 1422.3,1148.6 1422.8,1149.6 1423.3,1148.7 1423.8,1151.1 1424.3,1148.5 1424.8,1148.6 1425.3,1148.3 1425.8,1151.0 1426.3,1152.9 1426.8,1151.0 1427.3,1152.1 1427.8,1151.2 1428.3,1154.5 1428.8,1152.1 1429.3,1150.8 1429.8,1150.6 1430.3,1151.7 1430.8,1153.3 1431.3,1152.1 1431.8,1149.3 1432.3,1147.7 1432.8,1147.2 1433.3,1150.4 1433.8,1148.7 1434.3,1146.9 1434.8,1149.5 1435.3,1151.9 1435.8,1149.2 1436.3,1149.1 1436.8,1148.5 1437.3,1151.3 1437.8,1150.6 1438.3,1150.7 1438.8,1149.1 1439.3,1149.1 1439.8,1149.7 1440.3,1148.6 1440.8,1153.8 1441.3,1154.2 1441.8,1151.6 1442.3,1150.1 1442.8,1151.7 1443.3,1151.9 1443.8,1149.3 1444.3,1148.8 1444.8,1149.8 1445.3,1149.8 1445.8,1149.3 1446.3,1150.9 1446.8,1152.3 1447.3,1152.6 1447.8,1152.0 1448.3,1152.0 1448.8,1149.7 1449.3,1149.3 1449.8,1149.8 1450.3,1148.1 1450.8,1147.7 1451.3,1151.3 1451.8,1148.3 1452.3,1146.1 1452.8,1148.8 1453.3,1149.9 1453.8,1149.4 1454.3,1148.9 1454.8,1149.4 1455.3,1150.1 1455.8,1150.8 1456.3,1150.3 1456.8,1149.8 1457.3,1150.2 1457.8,1149.1 1458.3,1148.6 1458.8,1149.8 1459.3,1148.1 1459.8,1148.5 1460.3,1147.9 1460.8,1149.5 1461.3,1152.2 1461.8,1149.6 1462.3,1149.9 1462.8,1150.7 1463.3,1149.2 1463.8,1150.3 1464.3,1148.8 1464.8,1147.9 1465.3,1145.4 1465.8,1147.8 1466.3,1148.1 1466.8,1148.2 1467.3,1145.4 1467.8,1144.5 1468.3,1146.5 1468.8,1147.1 1469.3,1142.8 1469.8,1142.2 1470.3,1143.7 1470.8,1140.6 1471.3,1139.3 1471.8,1139.4 1472.3,1138.2 1472.8,1137.0 1473.3,1134.9 1473.8,1137.4 1474.3,1138.2 1474.8,1136.8 1475.3,1137.0 1475.8,1144.1 1476.3,1144.3 1476.8,1141.6 1477.3,1143.9 1477.8,1145.3 1478.3,1145.1 1478.8,1146.5 1479.3,1149.0 1479.8,1148.0 1480.3,1146.4 1480.8,1146.6 1481.3,1148.7 1481.8,1150.7 1482.3,1150.3 1482.8,1149.7 1483.3,1148.4 1483.8,1149.5 1484.3,1151.4 1484.8,1151.3 1485.3,1152.4 1485.8,1151.8 1486.3,1150.6 1486.8,1151.3 1487.3,1153.4 1487.8,1150.6 1488.3,1152.5 1488.8,1151.0 1489.3,1151.0 1489.8,1151.3 1490.3,1151.9 1490.8,1152.0 1491.3,1154.2 1491.8,1151.7 1492.3,1150.8 1492.8,1150.5 1493.3,1150.1 1493.8,1151.0 1494.3,1152.2 1494.8,1151.5 1495.3,1149.1 1495.8,1151.1 1496.3,1151.9 1496.8,1149.6 1497.3,1150.2 1497.8,1149.6 1498.3,1147.8 1498.8,1148.5 1499.3,1152.8 1499.8,1153.3 1500.3,1153.1 1500.8,1149.9 1501.3,1150.8 1501.8,1150.7 1502.3,1149.4 1502.8,1149.9 1503.3,1152.3 1503.8,1149.8 1504.3,1150.0 1504.8,1150.3 1505.3,1150.5 1505.8,1152.6 1506.3,1150.9 1506.8,1148.2 1507.3,1151.9 1507.8,1150.4 1508.3,1148.1 1508.8,1150.2 1509.3,1155.2 1509.8,1151.5 1510.3,1149.8 1510.8,1155.4 1511.3,1150.9 1511.8,1148.4 1512.3,1149.0 1512.8,1150.9 1513.3,1152.9 1513.8,1151.7 1514.3,1149.2 1514.8,1147.8 1515.3,1147.5 1515.8,1150.5 1516.3,1153.2 1516.8,1152.9 1517.3,1153.2 1517.8,1151.0 1518.3,1148.7 1518.8,1149.8 1519.3,1150.4 1519.8,1150.2 1520.3,1151.4 1520.8,1151.5 1521.3,1150.9 1521.8,1149.9 1522.3,1151.6 1522.8,1153.7 1523.3,1151.4 1523.8,1150.8 1524.3,1152.5 1524.8,1150.4 1525.3,1151.2 1525.8,1151.0 1526.3,1151.7 1526.8,1150.8 1527.3,1150.4 1527.8,1150.4 1528.3,1149.3 1528.8,1152.5 1529.3,1152.1 1529.8,1153.1 1530.3,1151.2 1530.8,1151.3 1531.3,1153.1 1531.8,1153.2 1532.3,1153.2 1532.8,1154.5 1533.3,1152.3 1533.8,1152.3 1534.3,1151.2 1534.8,1150.4 1535.3,1152.6 1535.8,1151.9 1536.3,1152.5 1536.8,1152.1 1537.3,1152.5 1537.8,1152.0 1538.3,1152.2 1538.8,1151.8 1539.3,1151.9 1539.8,1152.6 1540.3,1151.5 1540.8,1151.8 1541.3,1150.7 1541.8,1150.4 1542.3,1149.0 1542.8,1149.9 1543.3,1150.3 1543.8,1151.8 1544.3,1153.7 1544.8,1153.9 1545.3,1153.2 1545.8,1153.3 1546.3,1155.0 1546.8,1152.4 1547.3,1151.3 1547.8,1152.0 1548.3,1151.5 1548.8,1152.4 1549.3,1150.2 1549.8,1149.5 1550.3,1152.2 1550.8,1149.7 1551.3,1149.8 1551.8,1152.8 1552.3,1152.8 1552.8,1154.6 1553.3,1152.6 1553.8,1151.1 1554.3,1150.7 1554.8,1151.2 1555.3,1153.9 1555.8,1152.7 1556.3,1152.1 1556.8,1151.9 1557.3,1150.5 1557.8,1151.5 1558.3,1153.6 1558.8,1154.3 1559.3,1153.3 1559.8,1153.9 1560.3,1154.2 1560.8,1151.4 1561.3,1150.3 1561.8,1150.4 1562.3,1151.6 1562.8,1155.0 1563.3,1152.4 1563.8,1150.3 1564.3,1151.6 1564.8,1154.0 1565.3,1151.6 1565.8,1151.9 1566.3,1151.7 1566.8,1151.5 1567.3,1153.0 1567.8,1153.5 1568.3,1153.0 1568.8,1151.9 1569.3,1150.1 1569.8,1150.8 1570.3,1151.9"/></defs>
<use href="#c3" fill="none" stroke="#3f6a9c" stroke-width="5.4" stroke-linejoin="round" stroke-linecap="round"/>
<use href="#c3" fill="none" stroke="#3c5ccc" stroke-width="3.6" stroke-linejoin="round" stroke-linecap="round"/>
<defs><polyline id="c4" points="1854.7,555.3 1855.2,554.9 1855.7,561.4 1856.2,548.4 1856.7,559.5 1857.2,545.7 1857.7,554.1 1858.2,553.9 1858.7,561.4 1859.2,554.9 1859.7,551.4 1860.2,562.3 1860.7,563.3 1861.2,549.9 1861.7,556.9 1862.2,549.4 1862.7,551.3 1863.2,549.7 1863.7,538.6 1864.2,543.5 1864.7,535.2 1865.2,535.1 1865.7,539.3 1866.2,533.1 1866.7,538.6 1867.2,550.5 1867.7,554.7 1868.2,557.1 1868.7,550.7 1869.2,557.8 1869.7,563.1 1870.2,561.1 1870.7,546.9 1871.2,544.9 1871.7,557.1 1872.2,561.9 1872.7,554.9 1873.2,560.4 1873.7,556.5 1874.2,556.4 1874.7,556.8 1875.2,556.4 1875.7,552.8 1876.2,565.5 1876.7,560.3 1877.2,552.0 1877.7,553.5 1878.2,549.3 1878.7,557.7 1879.2,547.0 1879.7,553.1 1880.2,559.1 1880.7,558.0 1881.2,558.0 1881.7,548.1 1882.2,558.7 1882.7,553.5 1883.2,561.3 1883.7,551.8 1884.2,561.8 1884.7,553.6 1885.2,554.0 1885.7,545.9 1886.2,544.1 1886.7,543.3 1887.2,551.1 1887.7,544.2 1888.2,547.8 1888.7,556.6 1889.2,554.4 1889.7,551.1 1890.2,554.9 1890.7,546.0 1891.2,545.7 1891.7,556.9 1892.2,570.0 1892.7,566.0 1893.2,568.8 1893.7,558.0 1894.2,551.9 1894.7,560.8 1895.2,548.2 1895.7,538.9 1896.2,557.2 1896.7,560.7 1897.2,558.9 1897.7,563.6 1898.2,559.2 1898.7,556.9 1899.2,549.1 1899.7,554.2 1900.2,548.3 1900.7,552.9 1901.2,565.5 1901.7,556.1 1902.2,557.0 1902.7,551.1 1903.2,569.3 1903.7,543.9 1904.2,549.7 1904.7,560.0 1905.2,550.6 1905.7,550.4 1906.2,557.6 1906.7,558.9 1907.2,558.5 1907.7,550.0 1908.2,558.8 1908.7,547.9 1909.2,549.5 1909.7,549.1 1910.2,556.4 1910.7,552.6 1911.2,549.2 1911.7,554.6 1912.2,548.8 1912.7,551.6 1913.2,552.6 1913.7,551.1 1914.2,548.6 1914.7,547.3 1915.2,560.2 1915.7,542.7 1916.2,555.6 1916.7,549.5 1917.2,549.9 1917.7,543.9 1918.2,553.5 1918.7,550.6 1919.2,559.3 1919.7,550.3 1920.2,547.2 1920.7,546.4 1921.2,558.2 1921.7,555.9 1922.2,550.6 1922.7,561.4 1923.2,553.5 1923.7,550.0 1924.2,554.1 1924.7,544.7 1925.2,550.7 1925.7,543.3 1926.2,551.8 1926.7,551.1 1927.2,545.7 1927.7,550.4 1928.2,538.1 1928.7,541.1 1929.2,531.1 1929.7,514.8 1930.2,507.4 1930.7,486.5 1931.2,458.7 1931.7,403.7 1932.2,379.5 1932.7,390.2 1933.2,406.0 1933.7,458.7 1934.2,474.7 1934.7,501.7 1935.2,522.4 1935.7,530.9 1936.2,543.8 1936.7,536.0 1937.2,543.3 1937.7,543.6 1938.2,547.6 1938.7,550.9 1939.2,553.2 1939.7,550.3 1940.2,550.9 1940.7,549.2 1941.2,540.4 1941.7,538.8 1942.2,550.4 1942.7,540.2 1943.2,542.4 1943.7,546.1 1944.2,540.2 1944.7,533.9 1945.2,528.4 1945.7,527.7 1946.2,529.9 1946.7,508.8 1947.2,516.8 1947.7,527.1 1948.2,528.7 1948.7,529.5 1949.2,537.5 1949.7,543.0 1950.2,548.4 1950.7,535.2 1951.2,539.6 1951.7,545.4 1952.2,545.0 1952.7,541.5 1953.2,538.3 1953.7,533.9 1954.2,521.1 1954.7,517.5 1955.2,480.9 1955.7,462.5 1956.2,441.9 1956.7,452.0 1957.2,463.2 1957.7,481.0 1958.2,495.1 1958.7,528.0 1959.2,531.1 1959.7,540.9 1960.2,533.9 1960.7,546.1 1961.2,549.0 1961.7,557.0 1962.2,551.8 1962.7,555.1 1963.2,541.4 1963.7,549.2 1964.2,551.2 1964.7,550.5 1965.2,549.7 1965.7,549.8 1966.2,558.8 1966.7,549.6 1967.2,556.0 1967.7,555.8 1968.2,550.2 1968.7,552.9 1969.2,539.2 1969.7,548.8 1970.2,558.1 1970.7,548.7 1971.2,540.9 1971.7,557.2 1972.2,544.8 1972.7,559.0 1973.2,551.3 1973.7,544.1 1974.2,546.9 1974.7,558.5 1975.2,550.1 1975.7,547.3 1976.2,546.8 1976.7,542.6 1977.2,537.1 1977.7,540.6 1978.2,541.7 1978.7,531.3 1979.2,537.9 1979.7,535.7 1980.2,523.7 1980.7,538.9 1981.2,545.8 1981.7,530.7 1982.2,541.2 1982.7,548.8 1983.2,543.0 1983.7,548.9 1984.2,547.7 1984.7,544.7 1985.2,549.2 1985.7,547.7 1986.2,549.7 1986.7,549.7 1987.2,546.0 1987.7,545.1 1988.2,545.8 1988.7,551.4 1989.2,542.7 1989.7,554.5 1990.2,541.2 1990.7,554.4 1991.2,540.2 1991.7,535.4 1992.2,530.3 1992.7,529.8 1993.2,521.3 1993.7,508.3 1994.2,507.9 1994.7,505.8 1995.2,504.6 1995.7,514.7 1996.2,500.8 1996.7,520.3 1997.2,524.9 1997.7,536.7 1998.2,549.2 1998.7,534.8 1999.2,540.3 1999.7,545.4 2000.2,553.0 2000.7,554.5 2001.2,545.6 2001.7,554.5 2002.2,550.0 2002.7,556.1 2003.2,551.3 2003.7,553.9 2004.2,551.2 2004.7,546.4 2005.2,546.1 2005.7,553.8 2006.2,547.3 2006.7,545.7 2007.2,549.8 2007.7,553.4 2008.2,554.2 2008.7,546.7 2009.2,549.4 2009.7,552.8 2010.2,545.8 2010.7,553.8 2011.2,548.5 2011.7,540.9 2012.2,547.8 2012.7,540.5 2013.2,547.4 2013.7,534.3 2014.2,538.7 2014.7,537.6 2015.2,523.1 2015.7,517.6 2016.2,509.1 2016.7,510.2 2017.2,515.2 2017.7,525.2 2018.2,526.0 2018.7,520.6 2019.2,537.0 2019.7,531.1 2020.2,548.6 2020.7,548.5 2021.2,547.2 2021.7,539.9 2022.2,551.1 2022.7,545.2 2023.2,545.5 2023.7,549.4 2024.2,541.8 2024.7,551.2 2025.2,553.1 2025.7,556.0 2026.2,548.2 2026.7,549.0 2027.2,558.9 2027.7,558.4 2028.2,542.9 2028.7,554.9 2029.2,557.3 2029.7,548.3 2030.2,557.2 2030.7,550.6 2031.2,549.8 2031.7,545.3 2032.2,558.8 2032.7,546.1 2033.2,533.5 2033.7,542.6 2034.2,545.5 2034.7,541.2 2035.2,554.4 2035.7,539.2 2036.2,539.2 2036.7,539.6 2037.2,540.9 2037.7,529.7 2038.2,529.1 2038.7,535.9 2039.2,546.7 2039.7,544.4 2040.2,550.8 2040.7,544.8 2041.2,555.0 2041.7,551.9 2042.2,551.0 2042.7,553.7 2043.2,552.9 2043.7,552.4 2044.2,543.2 2044.7,552.7 2045.2,550.3 2045.7,553.1 2046.2,551.5 2046.7,547.3 2047.2,550.7 2047.7,554.7 2048.2,547.2 2048.7,541.9 2049.2,539.8 2049.7,542.7 2050.2,533.7 2050.7,539.0 2051.2,539.6 2051.7,536.5 2052.2,550.6 2052.7,553.3 2053.2,548.2 2053.7,549.9 2054.2,554.5 2054.7,561.0 2055.2,551.6 2055.7,562.4 2056.2,559.5 2056.7,542.5 2057.2,551.8 2057.7,555.1 2058.2,551.2 2058.7,558.1 2059.2,554.4 2059.7,555.3 2060.2,551.3 2060.7,543.1 2061.2,554.2 2061.7,546.7 2062.2,556.6 2062.7,553.5 2063.2,567.4 2063.7,554.1 2064.2,542.6 2064.7,563.8 2065.2,554.6 2065.7,558.0 2066.2,559.1 2066.7,546.5 2067.2,545.9 2067.7,555.1 2068.2,544.9 2068.7,540.4 2069.2,545.7 2069.7,547.4 2070.2,550.7 2070.7,543.2 2071.2,540.1 2071.7,543.4 2072.2,538.9 2072.7,538.7 2073.2,524.4 2073.7,538.1 2074.2,518.3 2074.7,528.4 2075.2,527.8 2075.7,520.8 2076.2,527.4 2076.7,528.8 2077.2,538.5 2077.7,543.4 2078.2,541.2 2078.7,544.6 2079.2,541.5 2079.7,550.2 2080.2,550.8 2080.7,546.7 2081.2,543.1 2081.7,553.7 2082.2,543.5 2082.7,545.3 2083.2,543.6 2083.7,548.4 2084.2,545.5 2084.7,537.3 2085.2,538.8 2085.7,534.5 2086.2,537.3 2086.7,538.1 2087.2,526.6 2087.7,518.2 2088.2,509.9 2088.7,495.5 2089.2,497.6 2089.7,499.6 2090.2,519.5 2090.7,524.0 2091.2,525.5 2091.7,538.9 2092.2,540.6 2092.7,549.0 2093.2,545.0 2093.7,544.5 2094.2,548.7 2094.7,549.0 2095.2,554.5 2095.7,548.8 2096.2,548.4 2096.7,551.6 2097.2,544.8 2097.7,548.6 2098.2,555.2 2098.7,546.8 2099.2,557.1 2099.7,548.6 2100.2,550.5 2100.7,554.5 2101.2,552.5 2101.7,545.4 2102.2,543.6 2102.7,553.1 2103.2,546.9 2103.7,550.3 2104.2,555.2 2104.7,550.9 2105.2,549.1 2105.7,546.2 2106.2,552.7 2106.7,564.2 2107.2,547.3 2107.7,544.6 2108.2,550.1 2108.7,558.4 2109.2,550.7 2109.7,551.5 2110.2,551.8 2110.7,553.0 2111.2,547.3 2111.7,545.6 2112.2,552.0 2112.7,561.8 2113.2,543.5 2113.7,550.7 2114.2,550.7 2114.7,549.8 2115.2,552.7 2115.7,548.6 2116.2,556.2 2116.7,547.8 2117.2,544.5 2117.7,550.8 2118.2,554.9 2118.7,566.7 2119.2,550.8 2119.7,560.3 2120.2,543.6 2120.7,556.1 2121.2,558.7 2121.7,550.7 2122.2,555.4 2122.7,548.6 2123.2,546.8 2123.7,547.4 2124.2,550.6 2124.7,535.9 2125.2,550.9 2125.7,540.5 2126.2,537.2 2126.7,545.3 2127.2,540.8 2127.7,554.2 2128.2,536.8 2128.7,543.3 2129.2,543.7 2129.7,554.5 2130.2,544.7 2130.7,541.9 2131.2,536.8 2131.7,542.2 2132.2,550.6 2132.7,546.5 2133.2,557.0 2133.7,542.7 2134.2,550.0 2134.7,543.2 2135.2,549.6 2135.7,546.5 2136.2,547.8 2136.7,540.4 2137.2,554.9 2137.7,546.4 2138.2,547.3 2138.7,546.7 2139.2,546.9 2139.7,555.8 2140.2,554.7 2140.7,549.7 2141.2,542.8 2141.7,548.3 2142.2,544.3 2142.7,533.6 2143.2,540.5 2143.7,542.7 2144.2,535.6 2144.7,534.4 2145.2,537.5 2145.7,533.8 2146.2,514.6 2146.7,522.5 2147.2,518.8 2147.7,519.4 2148.2,516.1 2148.7,523.1 2149.2,515.0 2149.7,528.3 2150.2,537.8 2150.7,531.0 2151.2,537.8 2151.7,538.9 2152.2,545.6 2152.7,551.7 2153.2,544.6 2153.7,557.9 2154.2,545.4 2154.7,553.1 2155.2,551.8 2155.7,543.2 2156.2,544.6 2156.7,549.9 2157.2,544.1 2157.7,542.4 2158.2,548.4 2158.7,542.2 2159.2,549.3 2159.7,547.7 2160.2,552.9 2160.7,555.6 2161.2,541.3 2161.7,548.4 2162.2,554.3 2162.7,563.9 2163.2,550.7 2163.7,551.5 2164.2,547.4 2164.7,562.8 2165.2,548.5 2165.7,553.2 2166.2,555.0 2166.7,543.7 2167.2,543.2 2167.7,543.7 2168.2,550.3 2168.7,554.2 2169.2,546.3 2169.7,559.9 2170.2,546.6 2170.7,551.8 2171.2,549.1 2171.7,544.6 2172.2,548.0 2172.7,549.4 2173.2,542.8 2173.7,549.4 2174.2,544.7 2174.7,554.8 2175.2,544.1 2175.7,543.9 2176.2,544.9 2176.7,551.6 2177.2,556.4 2177.7,543.4 2178.2,552.9 2178.7,553.4 2179.2,547.6 2179.7,552.9 2180.2,552.3 2180.7,546.5 2181.2,538.5 2181.7,549.3 2182.2,546.5 2182.7,549.0 2183.2,550.6 2183.7,557.6 2184.2,544.7 2184.7,550.2 2185.2,544.6 2185.7,538.3 2186.2,533.1 2186.7,527.4 2187.2,520.4 2187.7,529.5 2188.2,527.8 2188.7,520.8 2189.2,530.6 2189.7,530.3 2190.2,533.2 2190.7,532.8 2191.2,536.5 2191.7,546.4 2192.2,547.1 2192.7,545.0 2193.2,551.7 2193.7,550.2 2194.2,541.8 2194.7,556.1 2195.2,548.7 2195.7,559.7 2196.2,545.5 2196.7,538.9 2197.2,553.1 2197.7,559.0 2198.2,548.9 2198.7,551.2 2199.2,561.2 2199.7,555.5 2200.2,554.2 2200.7,547.9 2201.2,547.0 2201.7,543.8 2202.2,545.0 2202.7,549.8 2203.2,553.0 2203.7,560.0 2204.2,558.3 2204.7,551.8 2205.2,551.4 2205.7,552.7 2206.2,549.8 2206.7,558.3 2207.2,546.9 2207.7,548.6 2208.2,542.8 2208.7,543.0 2209.2,552.1 2209.7,554.9 2210.2,554.3 2210.7,554.4 2211.2,544.6 2211.7,558.6 2212.2,551.9 2212.7,547.2 2213.2,548.7 2213.7,544.0 2214.2,544.3 2214.7,549.0 2215.2,545.3 2215.7,547.6 2216.2,546.9 2216.7,537.1 2217.2,550.5 2217.7,552.8 2218.2,536.9 2218.7,539.8 2219.2,538.7 2219.7,528.9 2220.2,523.6 2220.7,511.6 2221.2,504.0 2221.7,498.5 2222.2,494.3 2222.7,481.0 2223.2,481.0 2223.7,477.8 2224.2,480.4 2224.7,493.0 2225.2,500.8 2225.7,513.4 2226.2,523.6 2226.7,525.9 2227.2,531.9 2227.7,539.3 2228.2,535.6 2228.7,539.4 2229.2,547.0 2229.7,538.2 2230.2,536.6 2230.7,541.2 2231.2,549.5 2231.7,548.1 2232.2,546.7 2232.7,547.3 2233.2,542.7 2233.7,547.6 2234.2,544.6 2234.7,552.5 2235.2,547.7 2235.7,550.9 2236.2,549.4 2236.7,545.7 2237.2,542.9 2237.7,540.2 2238.2,543.6 2238.7,540.8 2239.2,530.0 2239.7,530.8 2240.2,533.5 2240.7,534.2 2241.2,541.5 2241.7,540.8 2242.2,549.3 2242.7,541.6 2243.2,549.0 2243.7,546.0 2244.2,543.6 2244.7,533.9 2245.2,547.1 2245.7,549.1 2246.2,551.1 2246.7,554.8 2247.2,550.9 2247.7,547.8 2248.2,544.7 2248.7,546.8 2249.2,550.7 2249.7,540.9 2250.2,542.7 2250.7,548.6 2251.2,556.0 2251.7,549.5 2252.2,552.6 2252.7,547.3 2253.2,543.0 2253.7,545.6 2254.2,550.8 2254.7,545.4 2255.2,547.7 2255.7,548.7 2256.2,556.9 2256.7,553.6 2257.2,537.3 2257.7,539.3 2258.2,548.4 2258.7,543.4 2259.2,544.8 2259.7,543.9 2260.2,543.9 2260.7,524.4 2261.2,526.7 2261.7,516.3 2262.2,529.6 2262.7,517.2 2263.2,508.9 2263.7,505.1 2264.2,503.9 2264.7,497.2 2265.2,487.6 2265.7,499.1 2266.2,506.0 2266.7,503.4 2267.2,512.5 2267.7,512.3 2268.2,530.8 2268.7,521.9 2269.2,529.4 2269.7,535.5 2270.2,538.8 2270.7,542.1 2271.2,535.5 2271.7,545.0 2272.2,540.4 2272.7,544.2 2273.2,546.5 2273.7,541.3 2274.2,531.7 2274.7,552.6 2275.2,544.9 2275.7,541.9 2276.2,552.7 2276.7,552.7 2277.2,546.6 2277.7,553.0 2278.2,547.4 2278.7,542.6 2279.2,542.2 2279.7,548.3 2280.2,542.1 2280.7,536.3 2281.2,539.1 2281.7,537.5 2282.2,530.3 2282.7,529.7 2283.2,530.5 2283.7,521.7 2284.2,526.8 2284.7,523.0 2285.2,528.9 2285.7,528.2 2286.2,531.9 2286.7,528.4 2287.2,538.4 2287.7,520.0 2288.2,535.7 2288.7,536.8 2289.2,537.1 2289.7,546.3 2290.2,535.0 2290.7,540.6 2291.2,541.7 2291.7,543.4 2292.2,541.3 2292.7,539.7 2293.2,539.2 2293.7,544.1 2294.2,527.3 2294.7,524.1 2295.2,529.2 2295.7,526.3 2296.2,526.0 2296.7,517.1 2297.2,516.6 2297.7,495.5 2298.2,495.2 2298.7,493.5 2299.2,482.3 2299.7,481.1 2300.2,471.1 2300.7,467.9 2301.2,472.4 2301.7,470.9 2302.2,464.9 2302.7,470.1 2303.2,456.5 2303.7,453.0 2304.2,429.9 2304.7,433.9 2305.2,422.8 2305.7,402.3 2306.2,378.3 2306.7,368.7 2307.2,348.2 2307.7,330.0 2308.2,321.2 2308.7,326.3 2309.2,325.6 2309.7,337.7 2310.2,362.5 2310.7,379.8 2311.2,401.2 2311.7,412.3 2312.2,435.1 2312.7,459.1 2313.2,462.6 2313.7,473.6 2314.2,490.7 2314.7,499.3 2315.2,497.5 2315.7,512.8 2316.2,519.8 2316.7,513.2 2317.2,514.8 2317.7,522.7 2318.2,528.8 2318.7,530.7 2319.2,534.7 2319.7,528.5 2320.2,542.0 2320.7,544.5 2321.2,538.9 2321.7,535.1 2322.2,535.3 2322.7,539.8 2323.2,538.9 2323.7,539.4 2324.2,535.4 2324.7,538.4 2325.2,534.9 2325.7,532.1 2326.2,530.5 2326.7,526.9 2327.2,534.6 2327.7,519.1 2328.2,517.5 2328.7,510.3 2329.2,500.2 2329.7,481.5 2330.2,472.3 2330.7,454.7 2331.2,449.7 2331.7,452.8 2332.2,461.9 2332.7,479.8 2333.2,496.2 2333.7,510.4 2334.2,528.1 2334.7,519.7 2335.2,530.2 2335.7,532.2 2336.2,542.2 2336.7,545.0 2337.2,540.1 2337.7,539.0 2338.2,547.7 2338.7,544.1 2339.2,536.2 2339.7,541.1 2340.2,545.1 2340.7,540.3 2341.2,556.9 2341.7,539.5 2342.2,542.4 2342.7,542.9 2343.2,541.4 2343.7,533.5 2344.2,532.3 2344.7,531.9 2345.2,528.7 2345.7,523.4 2346.2,515.6 2346.7,510.8 2347.2,512.4 2347.7,512.6 2348.2,512.8 2348.7,519.4 2349.2,532.8 2349.7,532.2 2350.2,536.9 2350.7,544.7 2351.2,541.6 2351.7,542.3 2352.2,551.6 2352.7,544.2 2353.2,539.7 2353.7,544.8 2354.2,548.6 2354.7,556.0 2355.2,549.3 2355.7,552.3 2356.2,543.3 2356.7,552.7 2357.2,539.8 2357.7,553.9 2358.2,552.5 2358.7,559.9 2359.2,550.6 2359.7,552.6 2360.2,548.6 2360.7,546.1 2361.2,550.5 2361.7,554.5 2362.2,543.6 2362.7,552.1 2363.2,557.4 2363.7,542.8 2364.2,540.6 2364.7,543.9 2365.2,539.2 2365.7,553.4 2366.2,547.1 2366.7,543.7 2367.2,539.5 2367.7,551.3 2368.2,544.9 2368.7,546.9 2369.2,547.3 2369.7,553.7 2370.2,541.8 2370.7,548.9 2371.2,547.3 2371.7,540.5 2372.2,543.7 2372.7,526.2 2373.2,528.0 2373.7,526.5 2374.2,519.6 2374.7,507.4 2375.2,498.4 2375.7,476.5 2376.2,478.9 2376.7,476.6 2377.2,475.6 2377.7,477.5 2378.2,489.7 2378.7,509.6 2379.2,509.4 2379.7,515.8 2380.2,534.5 2380.7,535.3 2381.2,535.2 2381.7,541.4 2382.2,533.2 2382.7,538.7 2383.2,550.2 2383.7,540.2 2384.2,544.0 2384.7,552.0 2385.2,548.5 2385.7,543.0 2386.2,541.7 2386.7,543.1 2387.2,547.8 2387.7,538.1 2388.2,543.0 2388.7,542.9 2389.2,538.0 2389.7,530.9 2390.2,515.9 2390.7,517.9 2391.2,510.8 2391.7,498.1 2392.2,484.2 2392.7,477.6 2393.2,480.3 2393.7,491.0 2394.2,498.3 2394.7,505.5 2395.2,512.8 2395.7,525.8 2396.2,535.7 2396.7,543.5 2397.2,551.1 2397.7,546.7 2398.2,547.5 2398.7,555.0 2399.2,543.7 2399.7,554.1 2400.2,552.0 2400.7,545.2 2401.2,547.6 2401.7,545.3 2402.2,542.9 2402.7,545.2 2403.2,538.5 2403.7,536.0 2404.2,528.2 2404.7,519.0 2405.2,505.9 2405.7,506.2 2406.2,496.5 2406.7,494.9 2407.2,491.1 2407.7,507.4 2408.2,516.6 2408.7,532.0 2409.2,531.4 2409.7,530.5 2410.2,543.2 2410.7,536.3 2411.2,548.0 2411.7,555.1 2412.2,549.6 2412.7,543.1 2413.2,551.9 2413.7,545.9 2414.2,547.4 2414.7,542.9 2415.2,549.2 2415.7,551.8 2416.2,555.4 2416.7,554.7 2417.2,551.3 2417.7,553.9 2418.2,556.2 2418.7,551.2 2419.2,549.8 2419.7,551.2 2420.2,546.4 2420.7,555.0 2421.2,560.7 2421.7,548.7 2422.2,553.4 2422.7,552.7 2423.2,545.7 2423.7,557.1 2424.2,551.4 2424.7,554.5 2425.2,550.8 2425.7,551.1 2426.2,550.1 2426.7,559.1 2427.2,552.8 2427.7,549.7 2428.2,553.3 2428.7,553.9 2429.2,554.9 2429.7,551.9 2430.2,551.8 2430.7,545.7 2431.2,548.3 2431.7,544.3 2432.2,552.1 2432.7,555.6 2433.2,559.7 2433.7,547.0 2434.2,549.5 2434.7,559.4 2435.2,550.5 2435.7,553.5 2436.2,552.4 2436.7,546.1 2437.2,550.1 2437.7,558.7 2438.2,554.4 2438.7,559.1 2439.2,551.3 2439.7,544.7 2440.2,548.9 2440.7,543.7 2441.2,543.2 2441.7,545.1 2442.2,548.0 2442.7,538.3 2443.2,535.9 2443.7,543.4 2444.2,544.9 2444.7,545.6 2445.2,545.8 2445.7,547.6 2446.2,548.5 2446.7,545.3 2447.2,554.4 2447.7,553.4 2448.2,552.5 2448.7,542.1 2449.2,550.8 2449.7,557.5 2450.2,554.8 2450.7,548.2 2451.2,551.1 2451.7,555.1 2452.2,550.6 2452.7,555.1 2453.2,545.1 2453.7,553.0 2454.2,555.4 2454.7,544.0 2455.2,554.9 2455.7,548.4 2456.2,548.9 2456.7,548.5 2457.2,549.7 2457.7,552.1 2458.2,546.7 2458.7,543.4 2459.2,545.6 2459.7,543.4 2460.2,541.6 2460.7,529.6 2461.2,545.9 2461.7,545.7 2462.2,543.8 2462.7,548.5 2463.2,557.1 2463.7,546.9 2464.2,550.2 2464.7,554.7 2465.2,548.6 2465.7,554.8 2466.2,547.2 2466.7,554.2 2467.2,547.8 2467.7,543.6 2468.2,549.1 2468.7,549.8 2469.2,547.6 2469.7,553.5 2470.2,550.2 2470.7,560.1 2471.2,550.9 2471.7,553.9 2472.2,554.0 2472.7,548.1 2473.2,555.8 2473.7,557.4 2474.2,553.1 2474.7,556.6 2475.2,554.3 2475.7,545.0 2476.2,556.1 2476.7,539.9 2477.2,552.7 2477.7,547.3 2478.2,543.8 2478.7,548.7 2479.2,545.8 2479.7,553.4 2480.2,550.5 2480.7,544.1 2481.2,543.4 2481.7,546.5 2482.2,556.1 2482.7,546.9 2483.2,549.9 2483.7,549.6 2484.2,543.7 2484.7,540.1 2485.2,543.6 2485.7,547.0 2486.2,548.7 2486.7,539.8 2487.2,544.4 2487.7,547.5 2488.2,557.9 2488.7,553.9 2489.2,547.3 2489.7,552.6 2490.2,555.6 2490.7,554.1 2491.2,555.2 2491.7,553.8 2492.2,554.4 2492.7,547.8 2493.2,556.7 2493.7,554.0 2494.2,555.2 2494.7,555.8 2495.2,557.1 2495.7,558.1 2496.2,542.0 2496.7,561.8 2497.2,543.3 2497.7,548.8 2498.2,559.5 2498.7,555.3 2499.2,558.0 2499.7,559.4 2500.2,551.1 2500.7,560.2 2501.2,551.3 2501.7,550.6 2502.2,551.7 2502.7,549.0 2503.2,550.4 2503.7,548.0 2504.2,551.9 2504.7,548.6 2505.2,548.0 2505.7,556.4 2506.2,553.8 2506.7,547.9 2507.2,563.5 2507.7,550.7 2508.2,554.7 2508.7,559.7 2509.2,550.4 2509.7,541.2 2510.2,559.0 2510.7,565.6 2511.2,556.2 2511.7,545.5 2512.2,557.5 2512.7,552.9 2513.2,554.3 2513.7,548.3 2514.2,544.5 2514.7,547.9 2515.2,548.9 2515.7,551.9 2516.2,543.0 2516.7,542.8 2517.2,547.5 2517.7,549.6 2518.2,547.5 2518.7,540.5 2519.2,540.4 2519.7,538.8 2520.2,532.4 2520.7,521.1 2521.2,526.4 2521.7,523.2 2522.2,520.6 2522.7,523.5 2523.2,525.1 2523.7,527.9 2524.2,537.3 2524.7,531.6 2525.2,540.2 2525.7,539.0 2526.2,539.1 2526.7,551.0 2527.2,549.1 2527.7,550.9 2528.2,554.5 2528.7,555.1 2529.2,547.9 2529.7,540.6 2530.2,550.6 2530.7,547.9 2531.2,548.6 2531.7,559.3 2532.2,549.9 2532.7,550.1 2533.2,555.2 2533.7,551.7 2534.2,548.4 2534.7,560.9 2535.2,546.9 2535.7,554.2 2536.2,553.6 2536.7,558.4 2537.2,547.2 2537.7,552.1 2538.2,550.2 2538.7,544.6 2539.2,550.5 2539.7,549.2 2540.2,551.9 2540.7,548.1 2541.2,548.0 2541.7,554.1 2542.2,555.8 2542.7,549.2 2543.2,544.1 2543.7,531.8 2544.2,528.2 2544.7,527.5 2545.2,517.6 2545.7,504.8 2546.2,504.0 2546.7,494.9 2547.2,500.5 2547.7,509.2 2548.2,526.5 2548.7,531.3 2549.2,538.2 2549.7,544.8 2550.2,547.9 2550.7,539.9 2551.2,549.3 2551.7,554.9 2552.2,550.8 2552.7,551.1 2553.2,561.3 2553.7,547.4 2554.2,551.1 2554.7,550.1 2555.2,553.3 2555.7,549.1 2556.2,551.9 2556.7,550.5 2557.2,556.7 2557.7,555.3 2558.2,558.8 2558.7,554.8 2559.2,549.4 2559.7,552.7 2560.2,552.6 2560.7,550.2 2561.2,558.2 2561.7,549.2 2562.2,551.7 2562.7,551.9 2563.2,543.0 2563.7,552.6 2564.2,560.7 2564.7,556.0 2565.2,551.4 2565.7,545.7 2566.2,550.7 2566.7,559.6 2567.2,550.7 2567.7,549.2 2568.2,546.2 2568.7,551.9 2569.2,550.9 2569.7,556.5 2570.2,551.2 2570.7,555.8 2571.2,549.1 2571.7,559.4 2572.2,559.5 2572.7,548.8 2573.2,551.7 2573.7,558.4 2574.2,553.6 2574.7,556.1 2575.2,552.5 2575.7,546.8 2576.2,551.5 2576.7,556.6 2577.2,561.5 2577.7,557.8 2578.2,552.8 2578.7,554.3 2579.2,554.1 2579.7,556.3 2580.2,552.0 2580.7,557.3 2581.2,549.4 2581.7,551.4 2582.2,551.4 2582.7,546.9 2583.2,548.4 2583.7,548.5 2584.2,549.5 2584.7,543.8 2585.2,545.9 2585.7,542.2 2586.2,538.8 2586.7,548.9 2587.2,536.6 2587.7,541.6 2588.2,532.6 2588.7,531.7 2589.2,524.8 2589.7,520.2 2590.2,515.9 2590.7,512.6 2591.2,497.1 2591.7,497.4 2592.2,484.4 2592.7,470.9 2593.2,461.1 2593.7,454.6 2594.2,454.0 2594.7,454.2 2595.2,453.3 2595.7,454.9 2596.2,466.3 2596.7,483.3 2597.2,485.8 2597.7,493.9 2598.2,501.6 2598.7,522.8 2599.2,521.4 2599.7,521.5 2600.2,532.3 2600.7,526.4 2601.2,536.4 2601.7,533.7 2602.2,527.9 2602.7,540.7 2603.2,534.2 2603.7,549.4 2604.2,546.4 2604.7,545.4 2605.2,543.3 2605.7,545.6 2606.2,546.6 2606.7,547.6 2607.2,551.6 2607.7,551.6 2608.2,549.2 2608.7,545.7 2609.2,542.5 2609.7,543.4 2610.2,557.7 2610.7,552.1 2611.2,554.6 2611.7,546.6 2612.2,550.7 2612.7,551.0 2613.2,552.9 2613.7,546.4 2614.2,551.1 2614.7,542.6 2615.2,548.9 2615.7,553.3 2616.2,549.3 2616.7,550.0 2617.2,548.6 2617.7,555.5 2618.2,551.6 2618.7,545.2 2619.2,549.7 2619.7,553.0 2620.2,548.8 2620.7,544.4 2621.2,539.6 2621.7,542.2 2622.2,535.9 2622.7,533.7 2623.2,526.0 2623.7,520.6 2624.2,515.5 2624.7,519.7 2625.2,531.0 2625.7,525.8 2626.2,528.2 2626.7,537.8 2627.2,544.1 2627.7,540.9 2628.2,552.3 2628.7,555.2 2629.2,547.0 2629.7,556.2 2630.2,550.2 2630.7,548.6 2631.2,557.0 2631.7,561.5 2632.2,554.9 2632.7,548.9 2633.2,557.4 2633.7,554.0 2634.2,554.9 2634.7,555.7 2635.2,545.7 2635.7,554.1 2636.2,552.5 2636.7,547.6 2637.2,546.6 2637.7,543.4 2638.2,548.2 2638.7,549.5 2639.2,550.8 2639.7,558.1 2640.2,549.9 2640.7,553.9 2641.2,549.8 2641.7,551.0 2642.2,550.0 2642.7,555.7 2643.2,558.0 2643.7,555.7 2644.2,557.9 2644.7,550.5 2645.2,556.4 2645.7,555.9 2646.2,546.4 2646.7,553.8 2647.2,559.4 2647.7,562.7 2648.2,552.5 2648.7,547.7 2649.2,557.4 2649.7,554.1 2650.2,554.8 2650.7,552.4 2651.2,560.5 2651.7,555.0 2652.2,561.5 2652.7,548.9 2653.2,551.1 2653.7,556.4 2654.2,555.7 2654.7,553.4 2655.2,550.9 2655.7,561.2 2656.2,556.7 2656.7,557.5 2657.2,552.4 2657.7,550.6 2658.2,546.4 2658.7,556.7 2659.2,553.9 2659.7,555.1 2660.2,558.7 2660.7,553.0 2661.2,553.3 2661.7,554.0 2662.2,558.6 2662.7,549.8 2663.2,552.4 2663.7,553.7 2664.2,559.0 2664.7,544.8 2665.2,552.7 2665.7,552.4 2666.2,555.0 2666.7,551.0 2667.2,555.9 2667.7,552.1 2668.2,549.7 2668.7,556.1 2669.2,557.6 2669.7,553.8 2670.2,553.1 2670.7,548.0 2671.2,548.9 2671.7,550.7 2672.2,546.5 2672.7,551.5 2673.2,547.7 2673.7,550.0 2674.2,547.2 2674.7,552.9 2675.2,551.9 2675.7,550.2 2676.2,543.7 2676.7,543.8 2677.2,536.3 2677.7,525.9 2678.2,522.9 2678.7,511.1 2679.2,504.0 2679.7,502.9 2680.2,508.0 2680.7,517.6 2681.2,529.5 2681.7,537.3 2682.2,547.0 2682.7,546.6 2683.2,553.4 2683.7,552.3 2684.2,552.8 2684.7,547.8 2685.2,550.1 2685.7,547.7 2686.2,551.5 2686.7,548.0 2687.2,560.0 2687.7,554.3 2688.2,557.7 2688.7,557.5 2689.2,548.1 2689.7,559.1 2690.2,556.1 2690.7,559.7 2691.2,552.8 2691.7,557.1 2692.2,559.4 2692.7,552.1 2693.2,551.0 2693.7,562.3 2694.2,552.8 2694.7,565.5 2695.2,551.4 2695.7,549.1 2696.2,556.9 2696.7,554.2 2697.2,551.4 2697.7,556.1 2698.2,546.4 2698.7,561.3 2699.2,551.6 2699.7,548.4 2700.2,546.8 2700.7,554.0 2701.2,561.1 2701.7,552.3 2702.2,554.9 2702.7,559.3 2703.2,551.5 2703.7,558.1 2704.2,548.9 2704.7,552.1 2705.2,551.5 2705.7,547.3 2706.2,563.6 2706.7,553.0 2707.2,553.8 2707.7,552.2 2708.2,555.0 2708.7,557.8 2709.2,558.1 2709.7,557.1 2710.2,556.6 2710.7,559.0 2711.2,547.8 2711.7,554.2 2712.2,557.0 2712.7,548.7 2713.2,550.6 2713.7,542.9 2714.2,557.1 2714.7,551.2 2715.2,552.6 2715.7,556.0 2716.2,548.1 2716.7,555.0 2717.2,553.3 2717.7,553.1 2718.2,556.4 2718.7,551.9 2719.2,558.5 2719.7,552.1 2720.2,552.9 2720.7,550.4 2721.2,537.6 2721.7,556.0 2722.2,543.3 2722.7,542.6 2723.2,543.9 2723.7,545.6 2724.2,551.8 2724.7,546.1 2725.2,552.8 2725.7,541.6 2726.2,550.6 2726.7,552.4 2727.2,558.8 2727.7,564.4 2728.2,552.6 2728.7,548.3 2729.2,557.1 2729.7,552.5 2730.2,548.6 2730.7,547.8 2731.2,549.7 2731.7,555.3 2732.2,556.6 2732.7,556.8 2733.2,555.5 2733.7,555.7 2734.2,552.4 2734.7,563.7 2735.2,558.4 2735.7,558.4 2736.2,561.8 2736.7,556.5 2737.2,551.4 2737.7,555.6 2738.2,555.7 2738.7,555.0 2739.2,550.8 2739.7,545.0 2740.2,553.8 2740.7,554.0 2741.2,551.1 2741.7,557.4 2742.2,548.5 2742.7,553.3 2743.2,562.1 2743.7,556.6 2744.2,549.2 2744.7,555.0 2745.2,555.7 2745.7,553.1 2746.2,551.9 2746.7,560.5 2747.2,554.2 2747.7,562.8 2748.2,556.6 2748.7,551.0 2749.2,550.3 2749.7,550.6 2750.2,552.6 2750.7,553.8 2751.2,561.0 2751.7,550.5 2752.2,558.6 2752.7,549.2 2753.2,552.4 2753.7,561.9 2754.2,554.0 2754.7,555.8 2755.2,550.8 2755.7,560.4 2756.2,556.4 2756.7,554.0 2757.2,564.2 2757.7,555.1 2758.2,558.1 2758.7,553.0 2759.2,562.8 2759.7,550.0 2760.2,551.3 2760.7,557.7 2761.2,560.1 2761.7,557.1 2762.2,557.3 2762.7,553.5 2763.2,557.2 2763.7,551.8 2764.2,549.9 2764.7,549.6 2765.2,557.3 2765.7,559.8 2766.2,552.3 2766.7,542.3 2767.2,550.2 2767.7,559.7 2768.2,554.6 2768.7,547.8 2769.2,548.7 2769.7,547.4 2770.2,552.2 2770.7,548.5 2771.2,558.9 2771.7,548.5 2772.2,547.6 2772.7,553.8 2773.2,553.4 2773.7,554.0 2774.2,556.3 2774.7,554.7 2775.2,551.1 2775.7,549.5 2776.2,547.9 2776.7,552.7 2777.2,553.2 2777.7,552.3 2778.2,552.8 2778.7,557.2 2779.2,561.8 2779.7,554.7 2780.2,559.0 2780.7,559.0 2781.2,556.6 2781.7,548.9 2782.2,555.8 2782.7,551.0 2783.2,549.5 2783.7,555.2 2784.2,553.6 2784.7,553.8 2785.2,550.3 2785.7,553.6 2786.2,555.5 2786.7,558.4 2787.2,555.6 2787.7,551.3 2788.2,551.2 2788.7,563.1 2789.2,556.1 2789.7,551.5 2790.2,559.2 2790.7,554.7 2791.2,553.3 2791.7,551.0 2792.2,542.3 2792.7,552.2 2793.2,549.0 2793.7,549.0 2794.2,553.6 2794.7,550.0 2795.2,543.6 2795.7,540.0 2796.2,535.6 2796.7,539.0 2797.2,541.2 2797.7,526.8 2798.2,532.7 2798.7,539.0 2799.2,531.9 2799.7,540.6 2800.2,549.4 2800.7,554.0 2801.2,553.0 2801.7,551.0 2802.2,555.6 2802.7,554.3 2803.2,557.1 2803.7,549.1 2804.2,549.1 2804.7,561.5 2805.2,556.2 2805.7,562.0 2806.2,554.3 2806.7,558.9 2807.2,558.2 2807.7,553.0 2808.2,562.9 2808.7,553.2 2809.2,554.1 2809.7,562.9 2810.2,564.6 2810.7,552.6 2811.2,554.5 2811.7,546.0 2812.2,549.9 2812.7,560.4 2813.2,557.8 2813.7,552.7 2814.2,555.8 2814.7,555.4 2815.2,552.3 2815.7,560.8 2816.2,555.2 2816.7,549.5 2817.2,557.5 2817.7,554.3 2818.2,548.6 2818.7,547.1 2819.2,548.0 2819.7,548.6 2820.2,543.1 2820.7,546.1 2821.2,543.1 2821.7,533.6 2822.2,523.6 2822.7,525.7 2823.2,522.9 2823.7,530.7 2824.2,528.1 2824.7,533.6 2825.2,532.5 2825.7,541.3 2826.2,541.5 2826.7,543.5 2827.2,549.6 2827.7,546.2 2828.2,555.5 2828.7,547.9 2829.2,553.8 2829.7,547.6 2830.2,553.0 2830.7,553.3 2831.2,550.9 2831.7,565.3 2832.2,553.7 2832.7,559.5 2833.2,549.9 2833.7,556.8 2834.2,552.2 2834.7,560.1 2835.2,559.7 2835.7,558.6 2836.2,560.0 2836.7,551.6 2837.2,557.3 2837.7,557.6 2838.2,557.9 2838.7,560.8 2839.2,567.7 2839.7,554.5 2840.2,559.1 2840.7,559.1 2841.2,558.4 2841.7,552.3 2842.2,560.4 2842.7,561.4 2843.2,558.0 2843.7,560.0 2844.2,557.1 2844.7,558.6 2845.2,551.9 2845.7,556.1 2846.2,561.9 2846.7,557.5 2847.2,555.7 2847.7,563.4 2848.2,560.3 2848.7,553.9 2849.2,554.3 2849.7,558.8 2850.2,556.5 2850.7,557.0 2851.2,562.1 2851.7,552.9 2852.2,562.0 2852.7,555.5 2853.2,553.8 2853.7,559.9 2854.2,555.0 2854.7,550.6 2855.2,564.6 2855.7,558.3 2856.2,556.4 2856.7,558.0 2857.2,563.4 2857.7,560.6 2858.2,553.4 2858.7,548.0 2859.2,561.7 2859.7,557.6 2860.2,546.6 2860.7,550.0 2861.2,556.9 2861.7,553.2 2862.2,557.3 2862.7,553.9 2863.2,557.1 2863.7,555.1 2864.2,554.4 2864.7,552.9 2865.2,559.2 2865.7,552.1 2866.2,543.8 2866.7,550.4 2867.2,543.6 2867.7,537.9 2868.2,536.4 2868.7,543.4 2869.2,540.7 2869.7,537.3 2870.2,543.2 2870.7,540.5 2871.2,540.4 2871.7,550.5 2872.2,552.2 2872.7,545.5 2873.2,547.5 2873.7,553.9 2874.2,560.7 2874.7,552.7 2875.2,555.6 2875.7,551.4 2876.2,562.1 2876.7,554.9 2877.2,558.2 2877.7,557.0 2878.2,558.8 2878.7,560.4 2879.2,552.3 2879.7,550.7 2880.2,560.6 2880.7,552.3 2881.2,562.0 2881.7,561.9 2882.2,551.0 2882.7,566.3 2883.2,563.0 2883.7,554.8 2884.2,560.6 2884.7,561.1 2885.2,553.4 2885.7,561.5 2886.2,561.0 2886.7,557.7 2887.2,555.4 2887.7,553.5 2888.2,556.6 2888.7,562.8 2889.2,559.2 2889.7,558.1 2890.2,552.8 2890.7,554.5 2891.2,558.6 2891.7,550.8 2892.2,556.6 2892.7,561.1 2893.2,557.2 2893.7,551.7 2894.2,561.0 2894.7,561.8 2895.2,551.8 2895.7,554.9 2896.2,556.9 2896.7,564.8 2897.2,559.7 2897.7,557.7 2898.2,556.5 2898.7,554.1 2899.2,567.0 2899.7,557.5 2900.2,557.5 2900.7,563.3 2901.2,562.6 2901.7,558.7 2902.2,560.7 2902.7,555.8 2903.2,563.1 2903.7,558.1 2904.2,556.5 2904.7,564.9 2905.2,558.4 2905.7,560.0 2906.2,552.8 2906.7,563.9 2907.2,561.4 2907.7,557.3 2908.2,551.4 2908.7,557.5 2909.2,563.2 2909.7,561.6 2910.2,560.0 2910.7,566.8 2911.2,560.2 2911.7,563.1 2912.2,560.3 2912.7,560.7 2913.2,558.9 2913.7,557.2 2914.2,556.7 2914.7,562.6 2915.2,561.8 2915.7,558.8 2916.2,561.2 2916.7,549.6 2917.2,555.2 2917.7,557.4 2918.2,558.3 2918.7,558.0 2919.2,563.5 2919.7,556.4 2920.2,553.4 2920.7,563.0 2921.2,557.3 2921.7,551.3 2922.2,558.0 2922.7,566.9 2923.2,559.6 2923.7,564.1 2924.2,559.3 2924.7,559.0 2925.2,555.1 2925.7,564.0 2926.2,560.8 2926.7,556.7 2927.2,560.0 2927.7,564.7 2928.2,558.3 2928.7,556.6 2929.2,553.2 2929.7,551.0 2930.2,548.8 2930.7,540.3 2931.2,544.4 2931.7,545.4 2932.2,538.3 2932.7,542.7 2933.2,550.1 2933.7,549.5 2934.2,546.7 2934.7,562.2 2935.2,556.9 2935.7,561.3 2936.2,555.2 2936.7,558.0 2937.2,559.6 2937.7,559.8 2938.2,557.9 2938.7,558.9 2939.2,553.7 2939.7,555.4 2940.2,564.3 2940.7,555.3 2941.2,559.6 2941.7,551.2 2942.2,554.4 2942.7,560.9 2943.2,555.0 2943.7,559.6 2944.2,556.7 2944.7,556.8 2945.2,554.3 2945.7,558.1 2946.2,553.2 2946.7,559.3 2947.2,560.8 2947.7,573.5 2948.2,553.0 2948.7,567.3 2949.2,556.7 2949.7,561.8 2950.2,558.4 2950.7,558.8 2951.2,562.1 2951.7,547.3 2952.2,558.0 2952.7,553.4 2953.2,559.5 2953.7,560.1 2954.2,563.6 2954.7,559.2 2955.2,559.6 2955.7,553.8 2956.2,559.7 2956.7,554.8 2957.2,550.8 2957.7,549.2 2958.2,548.9 2958.7,547.6 2959.2,545.9 2959.7,544.3 2960.2,546.7 2960.7,545.8 2961.2,544.8 2961.7,551.9 2962.2,555.7 2962.7,562.6 2963.2,555.7 2963.7,558.3 2964.2,557.1 2964.7,557.5 2965.2,554.8 2965.7,556.2 2966.2,562.3 2966.7,557.6 2967.2,553.1 2967.7,561.9 2968.2,560.2 2968.7,558.1 2969.2,556.4 2969.7,562.3 2970.2,559.1 2970.7,564.3 2971.2,564.1 2971.7,564.9 2972.2,557.0 2972.7,562.3 2973.2,556.8 2973.7,562.9 2974.2,562.8 2974.7,564.1 2975.2,559.8 2975.7,556.9 2976.2,559.7 2976.7,555.8 2977.2,554.3 2977.7,552.5 2978.2,546.5 2978.7,552.2 2979.2,543.2 2979.7,555.6 2980.2,551.1 2980.7,550.8 2981.2,555.0 2981.7,559.4 2982.2,558.8 2982.7,549.0 2983.2,553.9 2983.7,554.7 2984.2,559.9 2984.7,559.9 2985.2,559.2 2985.7,567.1 2986.2,560.2 2986.7,561.9 2987.2,557.6 2987.7,563.6 2988.2,559.9 2988.7,563.3 2989.2,556.2 2989.7,557.5 2990.2,560.3 2990.7,556.8 2991.2,555.6 2991.7,567.0 2992.2,562.1 2992.7,555.8 2993.2,557.0 2993.7,561.0 2994.2,558.1 2994.7,561.5 2995.2,562.4 2995.7,553.4 2996.2,552.6 2996.7,560.3 2997.2,559.8 2997.7,557.3 2998.2,556.7 2998.7,558.3 2999.2,552.5 2999.7,564.1 3000.2,560.7 3000.7,561.2 3001.2,556.6 3001.7,564.5 3002.2,557.7 3002.7,560.8 3003.2,557.7 3003.7,562.3 3004.2,567.3 3004.7,554.9 3005.2,557.7 3005.7,549.1 3006.2,561.7 3006.7,560.2 3007.2,553.4 3007.7,557.5 3008.2,558.9 3008.7,562.2 3009.2,558.0 3009.7,553.3 3010.2,556.1 3010.7,559.5 3011.2,559.5 3011.7,551.2 3012.2,556.7 3012.7,559.4 3013.2,549.7 3013.7,557.9 3014.2,554.6 3014.7,551.5 3015.2,556.2 3015.7,553.8 3016.2,551.2 3016.7,550.2 3017.2,545.5 3017.7,547.8 3018.2,549.2 3018.7,537.1 3019.2,540.1 3019.7,547.8 3020.2,541.3 3020.7,541.5 3021.2,540.3 3021.7,543.5 3022.2,549.3 3022.7,547.0 3023.2,550.9 3023.7,548.0 3024.2,548.3 3024.7,555.0 3025.2,554.5 3025.7,554.1 3026.2,559.0 3026.7,554.4 3027.2,552.1 3027.7,558.0 3028.2,554.4 3028.7,558.1 3029.2,554.2 3029.7,564.0 3030.2,561.4 3030.7,561.4 3031.2,560.5 3031.7,559.2 3032.2,556.1 3032.7,561.1 3033.2,562.7 3033.7,566.2 3034.2,558.2 3034.7,567.5 3035.2,554.7 3035.7,556.2 3036.2,564.1 3036.7,558.7 3037.2,561.4 3037.7,557.0 3038.2,559.5 3038.7,560.9 3039.2,560.3 3039.7,556.2 3040.2,563.0 3040.7,559.2 3041.2,558.8 3041.7,561.8 3042.2,560.3 3042.7,556.4 3043.2,558.9 3043.7,557.8 3044.2,558.9 3044.7,560.7 3045.2,561.8 3045.7,562.4 3046.2,561.6 3046.7,561.9 3047.2,557.4 3047.7,563.2 3048.2,557.5 3048.7,563.1 3049.2,560.6 3049.7,554.8 3050.2,564.5 3050.7,559.9 3051.2,555.9 3051.7,559.5 3052.2,556.2 3052.7,565.6 3053.2,562.0 3053.7,560.0 3054.2,557.4 3054.7,560.1 3055.2,560.2 3055.7,556.0 3056.2,553.1 3056.7,556.4 3057.2,548.7 3057.7,549.3 3058.2,552.9 3058.7,555.1 3059.2,559.9 3059.7,546.2 3060.2,552.6 3060.7,551.0 3061.2,559.7 3061.7,555.3 3062.2,558.6 3062.7,560.5 3063.2,555.8 3063.7,563.5 3064.2,565.9 3064.7,559.9 3065.2,563.9 3065.7,564.2 3066.2,563.2 3066.7,560.1 3067.2,563.2 3067.7,562.4 3068.2,559.0 3068.7,565.4 3069.2,559.6 3069.7,570.9 3070.2,561.4 3070.7,553.5 3071.2,558.7 3071.7,563.1 3072.2,564.1 3072.7,565.9 3073.2,561.3 3073.7,560.1 3074.2,560.4 3074.7,560.7 3075.2,568.1 3075.7,567.3 3076.2,561.1 3076.7,564.9 3077.2,560.7 3077.7,562.5 3078.2,567.7 3078.7,568.0 3079.2,559.7 3079.7,559.6 3080.2,562.4 3080.7,562.8 3081.2,563.1 3081.7,557.5 3082.2,558.5 3082.7,560.3 3083.2,557.5 3083.7,565.1 3084.2,555.1 3084.7,562.4 3085.2,557.2 3085.7,560.5 3086.2,561.7 3086.7,558.2 3087.2,559.1 3087.7,568.0 3088.2,561.9 3088.7,563.0 3089.2,565.2 3089.7,560.2 3090.2,563.8 3090.7,563.2 3091.2,566.0 3091.7,565.0 3092.2,562.5 3092.7,561.5 3093.2,564.0 3093.7,563.5 3094.2,563.4 3094.7,561.7 3095.2,559.8 3095.7,568.0 3096.2,564.2 3096.7,561.6 3097.2,570.0 3097.7,560.8 3098.2,567.2 3098.7,567.2 3099.2,554.3 3099.7,563.7 3100.2,555.5 3100.7,572.0 3101.2,560.6 3101.7,564.7 3102.2,561.1 3102.7,568.6 3103.2,563.7 3103.7,568.9 3104.2,561.8 3104.7,560.1 3105.2,567.8 3105.7,562.2 3106.2,558.9 3106.7,563.9 3107.2,566.2 3107.7,562.6 3108.2,561.6 3108.7,563.4 3109.2,561.7 3109.7,562.9 3110.2,562.8 3110.7,562.5 3111.2,563.7 3111.7,563.3 3112.2,563.7 3112.7,562.5 3113.2,561.7 3113.7,567.3 3114.2,565.0 3114.7,562.3 3115.2,562.1 3115.7,569.3 3116.2,563.8 3116.7,559.9 3117.2,563.5 3117.7,566.4 3118.2,556.9 3118.7,566.3 3119.2,565.4 3119.7,561.3 3120.2,562.3 3120.7,563.2 3121.2,556.9 3121.7,562.7 3122.2,565.7 3122.7,562.9 3123.2,561.9 3123.7,563.0 3124.2,560.2 3124.7,558.8 3125.2,565.9 3125.7,564.6 3126.2,567.9 3126.7,561.6 3127.2,558.1 3127.7,559.7 3128.2,559.4 3128.7,569.4 3129.2,566.4 3129.7,557.4 3130.2,563.6 3130.7,562.6 3131.2,559.3 3131.7,561.6 3132.2,563.9 3132.7,564.2 3133.2,561.5 3133.7,563.9 3134.2,561.1 3134.7,562.2 3135.2,562.9 3135.7,564.7 3136.2,565.8 3136.7,560.7 3137.2,558.7 3137.7,560.8 3138.2,565.0 3138.7,566.2 3139.2,558.3 3139.7,566.1 3140.2,560.5 3140.7,559.6 3141.2,564.7 3141.7,564.8 3142.2,566.3 3142.7,569.8 3143.2,560.0 3143.7,567.4 3144.2,561.3 3144.7,562.6 3145.2,566.1 3145.7,568.1 3146.2,567.2 3146.7,566.1 3147.2,562.8 3147.7,562.2 3148.2,558.2 3148.7,564.4 3149.2,557.9 3149.7,562.5 3150.2,568.5 3150.7,563.4 3151.2,562.4 3151.7,564.1 3152.2,562.8 3152.7,556.7 3153.2,562.1 3153.7,557.7 3154.2,564.0 3154.7,561.8 3155.2,558.8 3155.7,560.9 3156.2,555.4 3156.7,562.5 3157.2,561.9 3157.7,564.2 3158.2,559.1 3158.7,563.4 3159.2,570.0 3159.7,561.9 3160.2,561.4 3160.7,563.7 3161.2,565.6 3161.7,562.8 3162.2,570.8 3162.7,566.1 3163.2,562.0 3163.7,565.7 3164.2,565.5 3164.7,562.5 3165.2,565.2 3165.7,561.1 3166.2,566.2 3166.7,556.2 3167.2,563.7 3167.7,563.9 3168.2,558.6 3168.7,558.8 3169.2,559.2 3169.7,567.9 3170.2,567.0 3170.7,560.5 3171.2,565.9 3171.7,563.7 3172.2,562.2 3172.7,560.3 3173.2,562.2 3173.7,563.5 3174.2,561.2 3174.7,569.2 3175.2,564.9 3175.7,560.7 3176.2,568.9 3176.7,559.5 3177.2,560.1 3177.7,556.8 3178.2,563.2 3178.7,567.3 3179.2,559.4 3179.7,562.3 3180.2,561.0 3180.7,563.4 3181.2,561.4 3181.7,559.5 3182.2,560.8 3182.7,560.0 3183.2,566.7 3183.7,565.4 3184.2,560.3 3184.7,566.1 3185.2,559.5 3185.7,561.7 3186.2,560.0 3186.7,564.4 3187.2,564.3 3187.7,560.6 3188.2,563.5 3188.7,563.7 3189.2,568.2 3189.7,560.0 3190.2,564.1 3190.7,570.0 3191.2,569.5 3191.7,559.5 3192.2,559.7 3192.7,565.4 3193.2,558.6 3193.7,559.8 3194.2,561.7 3194.7,565.5 3195.2,558.6 3195.7,563.7 3196.2,562.2 3196.7,571.4 3197.2,565.4 3197.7,561.1 3198.2,568.3 3198.7,559.6 3199.2,561.4 3199.7,567.3 3200.2,565.4 3200.7,565.6 3201.2,560.1 3201.7,557.6 3202.2,564.9 3202.7,561.5 3203.2,565.8 3203.7,562.0 3204.2,564.2 3204.7,562.0 3205.2,561.3 3205.7,566.7 3206.2,560.5 3206.7,568.3 3207.2,565.2 3207.7,556.5 3208.2,556.2 3208.7,556.7 3209.2,556.8 3209.7,552.5 3210.2,563.8 3210.7,551.0 3211.2,559.9 3211.7,558.6 3212.2,551.9 3212.7,547.0 3213.2,543.0 3213.7,546.7 3214.2,547.1 3214.7,548.0 3215.2,549.5 3215.7,547.6 3216.2,550.7 3216.7,548.3 3217.2,550.3 3217.7,549.1 3218.2,557.6 3218.7,550.0 3219.2,558.9 3219.7,561.7 3220.2,561.2 3220.7,563.1 3221.2,559.6 3221.7,561.7 3222.2,562.8 3222.7,559.8 3223.2,570.3 3223.7,558.4 3224.2,562.1 3224.7,562.0 3225.2,565.8 3225.7,561.9 3226.2,561.7 3226.7,564.9 3227.2,558.1 3227.7,571.0 3228.2,565.2 3228.7,559.2 3229.2,563.2 3229.7,562.0 3230.2,563.8 3230.7,565.8 3231.2,566.4 3231.7,556.8 3232.2,565.9 3232.7,563.0 3233.2,559.1 3233.7,566.8 3234.2,564.5 3234.7,561.1 3235.2,565.7 3235.7,565.6 3236.2,556.9 3236.7,566.2 3237.2,561.2 3237.7,565.8 3238.2,564.5 3238.7,565.6 3239.2,569.8 3239.7,564.0 3240.2,563.3 3240.7,560.7 3241.2,566.6 3241.7,567.0 3242.2,564.6 3242.7,557.9 3243.2,567.5 3243.7,564.4 3244.2,562.0 3244.7,562.8 3245.2,564.6 3245.7,564.7 3246.2,566.8 3246.7,566.7 3247.2,563.7 3247.7,565.8 3248.2,570.2 3248.7,564.2 3249.2,560.0 3249.7,571.3 3250.2,560.5 3250.7,560.0 3251.2,559.6 3251.7,565.1 3252.2,570.9 3252.7,567.0 3253.2,565.9 3253.7,564.6 3254.2,564.9 3254.7,563.5 3255.2,573.0 3255.7,568.4 3256.2,565.0 3256.7,565.0 3257.2,564.7 3257.7,563.7 3258.2,563.2 3258.7,567.8 3259.2,563.2 3259.7,564.3 3260.2,567.2 3260.7,572.8 3261.2,562.6 3261.7,560.7 3262.2,565.6 3262.7,562.6 3263.2,567.8 3263.7,566.1 3264.2,569.0 3264.7,563.3 3265.2,561.9 3265.7,565.7 3266.2,565.9 3266.7,566.2 3267.2,566.3 3267.7,573.1 3268.2,564.2 3268.7,567.0 3269.2,564.9 3269.7,566.1 3270.2,566.5 3270.7,563.8 3271.2,563.6 3271.7,569.5 3272.2,565.0 3272.7,562.4 3273.2,558.8 3273.7,562.2 3274.2,558.6 3274.7,567.6 3275.2,565.1 3275.7,568.9 3276.2,564.9 3276.7,567.8 3277.2,565.8 3277.7,564.4 3278.2,561.9 3278.7,563.6 3279.2,564.8 3279.7,565.6 3280.2,564.4 3280.7,569.6 3281.2,565.5 3281.7,564.2 3282.2,563.7 3282.7,569.2 3283.2,568.4 3283.7,565.8 3284.2,562.4 3284.7,562.8 3285.2,566.1 3285.7,566.6 3286.2,564.4 3286.7,567.4 3287.2,566.9 3287.7,564.4 3288.2,563.0 3288.7,563.8 3289.2,568.7 3289.7,572.1 3290.2,563.1 3290.7,562.3 3291.2,562.9 3291.7,570.1 3292.2,567.6 3292.7,572.4 3293.2,558.8 3293.7,562.2 3294.2,569.2 3294.7,560.8 3295.2,567.4 3295.7,567.0 3296.2,563.5 3296.7,566.9 3297.2,564.2 3297.7,565.4 3298.2,566.0 3298.7,565.2 3299.2,571.7 3299.7,567.6 3300.2,569.3 3300.7,564.7 3301.2,568.0 3301.7,565.2 3302.2,564.4 3302.7,564.0 3303.2,568.7 3303.7,567.9 3304.2,562.0 3304.7,564.1 3305.2,564.2 3305.7,565.3 3306.2,571.2 3306.7,568.7 3307.2,565.1 3307.7,564.1 3308.2,563.6 3308.7,569.1"/></defs>
<use href="#c4" fill="none" stroke="#7c8a22" stroke-width="5.2" stroke-linejoin="round" stroke-linecap="round"/>
<defs><polyline id="c5" points="1854.7,555.0 1855.2,547.4 1855.7,561.5 1856.2,554.1 1856.7,552.7 1857.2,549.8 1857.7,560.3 1858.2,549.1 1858.7,558.5 1859.2,551.9 1859.7,554.9 1860.2,553.3 1860.7,557.5 1861.2,557.9 1861.7,547.2 1862.2,557.8 1862.7,554.5 1863.2,554.2 1863.7,554.2 1864.2,535.0 1864.7,551.5 1865.2,531.9 1865.7,538.4 1866.2,546.2 1866.7,552.7 1867.2,552.7 1867.7,553.1 1868.2,555.4 1868.7,547.2 1869.2,554.0 1869.7,568.0 1870.2,540.8 1870.7,553.3 1871.2,554.2 1871.7,550.0 1872.2,554.2 1872.7,555.6 1873.2,553.7 1873.7,554.6 1874.2,549.1 1874.7,558.4 1875.2,551.6 1875.7,549.1 1876.2,566.7 1876.7,552.0 1877.2,552.4 1877.7,544.5 1878.2,557.2 1878.7,549.3 1879.2,551.2 1879.7,559.1 1880.2,557.9 1880.7,550.8 1881.2,557.8 1881.7,557.0 1882.2,553.7 1882.7,549.1 1883.2,556.5 1883.7,544.9 1884.2,554.6 1884.7,551.3 1885.2,543.0 1885.7,542.3 1886.2,560.2 1886.7,534.3 1887.2,546.0 1887.7,545.0 1888.2,551.1 1888.7,552.0 1889.2,556.7 1889.7,556.8 1890.2,553.4 1890.7,546.3 1891.2,552.7 1891.7,557.4 1892.2,557.5 1892.7,561.0 1893.2,553.8 1893.7,548.3 1894.2,551.8 1894.7,556.3 1895.2,560.3 1895.7,560.5 1896.2,559.2 1896.7,548.1 1897.2,552.6 1897.7,558.0 1898.2,556.8 1898.7,559.6 1899.2,548.2 1899.7,558.3 1900.2,539.7 1900.7,552.2 1901.2,555.3 1901.7,553.0 1902.2,559.6 1902.7,553.7 1903.2,555.0 1903.7,558.6 1904.2,550.0 1904.7,563.0 1905.2,551.3 1905.7,558.1 1906.2,555.9 1906.7,552.4 1907.2,555.3 1907.7,556.4 1908.2,552.2 1908.7,566.7 1909.2,549.1 1909.7,554.6 1910.2,560.8 1910.7,557.4 1911.2,560.4 1911.7,546.1 1912.2,553.1 1912.7,554.6 1913.2,561.2 1913.7,549.9 1914.2,554.0 1914.7,564.5 1915.2,556.3 1915.7,556.5 1916.2,553.7 1916.7,560.4 1917.2,543.7 1917.7,549.3 1918.2,550.6 1918.7,554.3 1919.2,553.5 1919.7,541.8 1920.2,553.8 1920.7,548.5 1921.2,568.3 1921.7,551.3 1922.2,558.3 1922.7,549.3 1923.2,550.6 1923.7,547.0 1924.2,555.9 1924.7,558.0 1925.2,543.3 1925.7,552.3 1926.2,553.0 1926.7,555.2 1927.2,543.8 1927.7,553.1 1928.2,536.1 1928.7,540.1 1929.2,530.1 1929.7,520.4 1930.2,510.4 1930.7,480.9 1931.2,458.3 1931.7,403.6 1932.2,373.7 1932.7,388.1 1933.2,414.0 1933.7,448.9 1934.2,491.9 1934.7,516.9 1935.2,516.6 1935.7,531.9 1936.2,545.9 1936.7,538.7 1937.2,554.2 1937.7,545.8 1938.2,549.9 1938.7,549.4 1939.2,543.1 1939.7,548.6 1940.2,545.9 1940.7,547.6 1941.2,555.8 1941.7,553.4 1942.2,548.2 1942.7,550.3 1943.2,555.9 1943.7,545.7 1944.2,540.9 1944.7,543.2 1945.2,531.2 1945.7,521.7 1946.2,532.9 1946.7,513.0 1947.2,519.9 1947.7,525.1 1948.2,526.5 1948.7,544.0 1949.2,548.8 1949.7,543.9 1950.2,535.4 1950.7,547.0 1951.2,535.7 1951.7,547.8 1952.2,548.1 1952.7,542.8 1953.2,543.8 1953.7,531.0 1954.2,514.3 1954.7,501.8 1955.2,491.2 1955.7,453.1 1956.2,451.6 1956.7,442.1 1957.2,474.7 1957.7,473.6 1958.2,488.7 1958.7,522.2 1959.2,533.3 1959.7,531.9 1960.2,539.7 1960.7,536.1 1961.2,544.4 1961.7,551.4 1962.2,549.4 1962.7,548.2 1963.2,545.9 1963.7,555.9 1964.2,560.4 1964.7,558.8 1965.2,544.0 1965.7,552.6 1966.2,547.2 1966.7,550.1 1967.2,554.6 1967.7,567.3 1968.2,554.3 1968.7,552.7 1969.2,549.8 1969.7,555.9 1970.2,543.6 1970.7,556.6 1971.2,557.5 1971.7,547.4 1972.2,561.3 1972.7,565.0 1973.2,547.8 1973.7,556.1 1974.2,548.6 1974.7,546.8 1975.2,554.3 1975.7,550.2 1976.2,539.3 1976.7,535.6 1977.2,542.2 1977.7,529.8 1978.2,527.1 1978.7,529.9 1979.2,527.1 1979.7,532.4 1980.2,543.5 1980.7,528.7 1981.2,547.3 1981.7,534.6 1982.2,545.1 1982.7,552.9 1983.2,561.7 1983.7,540.3 1984.2,559.6 1984.7,550.2 1985.2,551.9 1985.7,554.2 1986.2,561.7 1986.7,564.7 1987.2,553.3 1987.7,547.5 1988.2,546.1 1988.7,537.7 1989.2,540.6 1989.7,554.3 1990.2,537.6 1990.7,538.3 1991.2,539.3 1991.7,535.0 1992.2,529.2 1992.7,522.5 1993.2,518.0 1993.7,522.1 1994.2,511.8 1994.7,504.9 1995.2,500.5 1995.7,509.2 1996.2,516.6 1996.7,517.5 1997.2,522.7 1997.7,536.2 1998.2,535.3 1998.7,538.6 1999.2,545.2 1999.7,546.7 2000.2,542.8 2000.7,558.0 2001.2,551.5 2001.7,549.2 2002.2,554.6 2002.7,558.5 2003.2,551.1 2003.7,536.9 2004.2,544.4 2004.7,550.8 2005.2,552.1 2005.7,559.1 2006.2,554.1 2006.7,549.7 2007.2,555.7 2007.7,547.6 2008.2,556.2 2008.7,542.1 2009.2,558.9 2009.7,549.1 2010.2,554.2 2010.7,547.4 2011.2,540.1 2011.7,545.2 2012.2,544.8 2012.7,543.5 2013.2,539.7 2013.7,537.5 2014.2,527.5 2014.7,516.1 2015.2,517.4 2015.7,507.3 2016.2,510.0 2016.7,508.0 2017.2,511.1 2017.7,511.4 2018.2,522.7 2018.7,528.0 2019.2,533.9 2019.7,536.9 2020.2,542.9 2020.7,547.1 2021.2,545.0 2021.7,534.5 2022.2,544.4 2022.7,557.5 2023.2,537.9 2023.7,550.8 2024.2,547.5 2024.7,559.1 2025.2,553.5 2025.7,550.1 2026.2,551.8 2026.7,542.9 2027.2,562.8 2027.7,556.1 2028.2,547.4 2028.7,549.2 2029.2,555.4 2029.7,548.7 2030.2,547.8 2030.7,557.0 2031.2,551.7 2031.7,554.5 2032.2,557.2 2032.7,547.6 2033.2,560.1 2033.7,556.3 2034.2,544.9 2034.7,542.4 2035.2,548.4 2035.7,547.3 2036.2,539.2 2036.7,539.2 2037.2,537.6 2037.7,536.7 2038.2,542.1 2038.7,550.9 2039.2,555.3 2039.7,543.1 2040.2,548.8 2040.7,547.1 2041.2,550.8 2041.7,549.5 2042.2,559.3 2042.7,557.3 2043.2,549.2 2043.7,559.5 2044.2,548.6 2044.7,552.9 2045.2,555.1 2045.7,549.7 2046.2,547.1 2046.7,552.1 2047.2,553.4 2047.7,546.6 2048.2,554.5 2048.7,546.1 2049.2,536.8 2049.7,541.8 2050.2,536.2 2050.7,542.0 2051.2,545.8 2051.7,547.7 2052.2,555.7 2052.7,550.2 2053.2,553.1 2053.7,549.7 2054.2,543.9 2054.7,549.1 2055.2,553.0 2055.7,538.9 2056.2,554.2 2056.7,554.8 2057.2,558.6 2057.7,554.8 2058.2,558.6 2058.7,552.8 2059.2,550.4 2059.7,555.5 2060.2,547.2 2060.7,559.7 2061.2,546.5 2061.7,560.2 2062.2,549.5 2062.7,549.8 2063.2,546.7 2063.7,551.1 2064.2,552.7 2064.7,544.1 2065.2,542.5 2065.7,551.5 2066.2,543.7 2066.7,554.6 2067.2,557.2 2067.7,548.0 2068.2,567.3 2068.7,549.8 2069.2,543.6 2069.7,558.2 2070.2,549.7 2070.7,542.9 2071.2,543.4 2071.7,548.6 2072.2,546.7 2072.7,534.5 2073.2,525.3 2073.7,524.4 2074.2,528.0 2074.7,522.9 2075.2,524.6 2075.7,526.6 2076.2,536.1 2076.7,529.7 2077.2,534.3 2077.7,527.1 2078.2,540.1 2078.7,533.9 2079.2,540.9 2079.7,546.6 2080.2,543.8 2080.7,546.9 2081.2,536.1 2081.7,545.8 2082.2,548.9 2082.7,547.8 2083.2,549.5 2083.7,543.0 2084.2,549.1 2084.7,540.9 2085.2,539.8 2085.7,542.7 2086.2,539.8 2086.7,529.9 2087.2,511.6 2087.7,507.0 2088.2,498.8 2088.7,498.1 2089.2,507.6 2089.7,511.4 2090.2,507.5 2090.7,524.1 2091.2,531.2 2091.7,532.4 2092.2,538.4 2092.7,549.7 2093.2,545.0 2093.7,546.5 2094.2,545.9 2094.7,531.4 2095.2,550.2 2095.7,554.9 2096.2,561.2 2096.7,563.1 2097.2,545.9 2097.7,551.1 2098.2,548.6 2098.7,553.0 2099.2,546.1 2099.7,553.2 2100.2,555.3 2100.7,555.3 2101.2,554.1 2101.7,557.4 2102.2,551.0 2102.7,550.0 2103.2,551.9 2103.7,550.7 2104.2,554.3 2104.7,557.8 2105.2,551.7 2105.7,543.3 2106.2,543.7 2106.7,554.5 2107.2,555.5 2107.7,555.1 2108.2,538.8 2108.7,556.5 2109.2,566.7 2109.7,552.3 2110.2,551.3 2110.7,558.2 2111.2,548.6 2111.7,546.9 2112.2,558.6 2112.7,547.5 2113.2,555.9 2113.7,549.6 2114.2,550.7 2114.7,547.6 2115.2,554.9 2115.7,552.0 2116.2,551.4 2116.7,549.9 2117.2,549.2 2117.7,557.8 2118.2,556.4 2118.7,557.0 2119.2,545.9 2119.7,554.0 2120.2,543.0 2120.7,559.6 2121.2,560.7 2121.7,558.4 2122.2,553.2 2122.7,553.1 2123.2,548.6 2123.7,544.2 2124.2,551.6 2124.7,550.8 2125.2,541.4 2125.7,534.4 2126.2,537.2 2126.7,537.0 2127.2,535.8 2127.7,530.9 2128.2,534.5 2128.7,544.2 2129.2,555.4 2129.7,539.7 2130.2,549.0 2130.7,547.4 2131.2,551.3 2131.7,550.5 2132.2,556.1 2132.7,550.8 2133.2,547.1 2133.7,551.7 2134.2,551.3 2134.7,555.1 2135.2,553.8 2135.7,553.8 2136.2,550.8 2136.7,549.7 2137.2,549.2 2137.7,551.5 2138.2,556.7 2138.7,558.0 2139.2,547.0 2139.7,548.9 2140.2,549.6 2140.7,558.8 2141.2,544.5 2141.7,548.7 2142.2,535.4 2142.7,548.1 2143.2,540.0 2143.7,542.7 2144.2,544.9 2144.7,530.0 2145.2,521.4 2145.7,531.3 2146.2,521.8 2146.7,524.0 2147.2,526.4 2147.7,513.0 2148.2,512.8 2148.7,518.1 2149.2,517.6 2149.7,526.6 2150.2,540.3 2150.7,534.0 2151.2,533.5 2151.7,545.6 2152.2,548.1 2152.7,535.9 2153.2,548.1 2153.7,545.8 2154.2,551.0 2154.7,545.3 2155.2,547.4 2155.7,544.2 2156.2,561.6 2156.7,553.4 2157.2,554.5 2157.7,554.6 2158.2,551.7 2158.7,557.9 2159.2,554.2 2159.7,564.9 2160.2,556.1 2160.7,559.8 2161.2,544.7 2161.7,548.7 2162.2,549.3 2162.7,544.1 2163.2,548.9 2163.7,549.1 2164.2,545.9 2164.7,555.8 2165.2,548.7 2165.7,552.2 2166.2,543.9 2166.7,550.5 2167.2,547.7 2167.7,547.8 2168.2,557.0 2168.7,553.7 2169.2,546.4 2169.7,546.9 2170.2,555.6 2170.7,547.7 2171.2,550.6 2171.7,558.8 2172.2,558.1 2172.7,551.8 2173.2,551.4 2173.7,552.8 2174.2,550.6 2174.7,551.8 2175.2,557.8 2175.7,553.6 2176.2,552.8 2176.7,550.6 2177.2,556.2 2177.7,549.0 2178.2,553.7 2178.7,545.6 2179.2,549.4 2179.7,552.5 2180.2,547.7 2180.7,551.9 2181.2,550.9 2181.7,547.9 2182.2,553.3 2182.7,551.0 2183.2,547.0 2183.7,549.4 2184.2,551.9 2184.7,541.2 2185.2,538.2 2185.7,546.5 2186.2,534.0 2186.7,532.4 2187.2,520.3 2187.7,526.5 2188.2,526.7 2188.7,518.0 2189.2,528.7 2189.7,523.7 2190.2,531.8 2190.7,543.3 2191.2,548.6 2191.7,542.4 2192.2,551.4 2192.7,543.2 2193.2,552.1 2193.7,540.1 2194.2,550.9 2194.7,547.6 2195.2,544.0 2195.7,548.3 2196.2,547.8 2196.7,548.9 2197.2,553.0 2197.7,545.9 2198.2,546.0 2198.7,549.6 2199.2,547.1 2199.7,549.5 2200.2,543.7 2200.7,553.8 2201.2,545.0 2201.7,554.4 2202.2,554.1 2202.7,546.4 2203.2,553.3 2203.7,556.8 2204.2,548.8 2204.7,552.0 2205.2,545.4 2205.7,555.2 2206.2,551.0 2206.7,557.7 2207.2,554.6 2207.7,549.8 2208.2,545.4 2208.7,554.1 2209.2,555.3 2209.7,548.0 2210.2,554.2 2210.7,551.5 2211.2,547.8 2211.7,545.3 2212.2,548.4 2212.7,553.4 2213.2,543.7 2213.7,547.4 2214.2,547.1 2214.7,543.7 2215.2,542.1 2215.7,548.3 2216.2,550.9 2216.7,543.5 2217.2,537.8 2217.7,542.0 2218.2,538.2 2218.7,538.1 2219.2,527.7 2219.7,531.9 2220.2,519.3 2220.7,519.5 2221.2,505.2 2221.7,493.6 2222.2,485.7 2222.7,481.8 2223.2,477.5 2223.7,480.0 2224.2,473.6 2224.7,484.6 2225.2,496.1 2225.7,496.2 2226.2,513.1 2226.7,524.8 2227.2,525.3 2227.7,533.1 2228.2,534.1 2228.7,539.4 2229.2,536.6 2229.7,548.2 2230.2,548.5 2230.7,546.5 2231.2,554.7 2231.7,548.7 2232.2,546.1 2232.7,537.1 2233.2,542.2 2233.7,550.7 2234.2,555.2 2234.7,545.1 2235.2,551.6 2235.7,543.7 2236.2,545.3 2236.7,542.8 2237.2,542.8 2237.7,540.5 2238.2,541.8 2238.7,531.7 2239.2,542.4 2239.7,535.6 2240.2,522.7 2240.7,526.4 2241.2,547.4 2241.7,534.7 2242.2,545.3 2242.7,539.8 2243.2,561.2 2243.7,539.6 2244.2,556.3 2244.7,550.7 2245.2,546.9 2245.7,547.3 2246.2,544.4 2246.7,538.8 2247.2,552.0 2247.7,558.9 2248.2,548.0 2248.7,551.7 2249.2,553.9 2249.7,542.3 2250.2,546.9 2250.7,541.5 2251.2,552.4 2251.7,544.1 2252.2,556.3 2252.7,553.6 2253.2,544.4 2253.7,551.0 2254.2,549.6 2254.7,545.4 2255.2,547.3 2255.7,548.2 2256.2,538.5 2256.7,552.9 2257.2,543.5 2257.7,542.0 2258.2,548.2 2258.7,539.3 2259.2,550.8 2259.7,546.7 2260.2,539.0 2260.7,543.0 2261.2,540.2 2261.7,526.3 2262.2,514.1 2262.7,509.9 2263.2,508.3 2263.7,509.8 2264.2,503.8 2264.7,497.1 2265.2,506.0 2265.7,496.6 2266.2,504.6 2266.7,500.9 2267.2,509.1 2267.7,518.4 2268.2,528.6 2268.7,517.2 2269.2,539.0 2269.7,530.7 2270.2,543.7 2270.7,539.9 2271.2,535.6 2271.7,539.4 2272.2,554.6 2272.7,544.5 2273.2,543.3 2273.7,538.7 2274.2,540.9 2274.7,552.6 2275.2,554.1 2275.7,556.4 2276.2,549.1 2276.7,544.3 2277.2,540.9 2277.7,553.1 2278.2,543.5 2278.7,538.7 2279.2,543.0 2279.7,543.2 2280.2,548.0 2280.7,539.9 2281.2,545.1 2281.7,539.5 2282.2,532.7 2282.7,516.5 2283.2,513.4 2283.7,521.9 2284.2,524.4 2284.7,530.8 2285.2,516.9 2285.7,532.2 2286.2,535.2 2286.7,540.1 2287.2,538.5 2287.7,538.3 2288.2,540.1 2288.7,542.9 2289.2,546.9 2289.7,537.2 2290.2,538.6 2290.7,536.7 2291.2,540.5 2291.7,527.2 2292.2,546.0 2292.7,538.8 2293.2,532.0 2293.7,534.4 2294.2,532.1 2294.7,528.6 2295.2,528.4 2295.7,538.5 2296.2,536.1 2296.7,507.0 2297.2,512.2 2297.7,506.5 2298.2,492.2 2298.7,489.2 2299.2,482.2 2299.7,477.3 2300.2,464.9 2300.7,463.9 2301.2,472.6 2301.7,470.5 2302.2,469.4 2302.7,466.4 2303.2,453.2 2303.7,454.4 2304.2,440.1 2304.7,434.4 2305.2,414.3 2305.7,402.1 2306.2,377.6 2306.7,370.4 2307.2,346.6 2307.7,335.1 2308.2,321.1 2308.7,330.7 2309.2,333.9 2309.7,348.6 2310.2,352.6 2310.7,378.6 2311.2,394.9 2311.7,413.0 2312.2,434.4 2312.7,446.7 2313.2,469.3 2313.7,470.1 2314.2,482.4 2314.7,491.8 2315.2,506.7 2315.7,504.8 2316.2,506.4 2316.7,520.3 2317.2,528.1 2317.7,521.8 2318.2,528.9 2318.7,527.1 2319.2,532.3 2319.7,534.6 2320.2,524.3 2320.7,542.9 2321.2,534.7 2321.7,540.9 2322.2,540.9 2322.7,531.9 2323.2,545.1 2323.7,535.5 2324.2,533.0 2324.7,540.0 2325.2,547.9 2325.7,543.9 2326.2,523.6 2326.7,531.2 2327.2,530.6 2327.7,522.8 2328.2,513.9 2328.7,506.1 2329.2,491.6 2329.7,490.2 2330.2,468.9 2330.7,450.6 2331.2,451.5 2331.7,462.2 2332.2,465.0 2332.7,487.4 2333.2,490.5 2333.7,507.6 2334.2,532.5 2334.7,527.5 2335.2,526.2 2335.7,543.5 2336.2,537.6 2336.7,545.7 2337.2,541.4 2337.7,535.0 2338.2,551.9 2338.7,543.6 2339.2,536.6 2339.7,550.6 2340.2,545.4 2340.7,556.0 2341.2,550.4 2341.7,545.6 2342.2,535.1 2342.7,534.0 2343.2,539.5 2343.7,530.3 2344.2,535.3 2344.7,535.7 2345.2,528.0 2345.7,527.4 2346.2,520.1 2346.7,514.3 2347.2,509.7 2347.7,510.5 2348.2,517.6 2348.7,524.7 2349.2,536.2 2349.7,533.3 2350.2,533.9 2350.7,536.2 2351.2,538.0 2351.7,540.4 2352.2,555.5 2352.7,552.3 2353.2,548.4 2353.7,550.4 2354.2,546.7 2354.7,543.3 2355.2,541.8 2355.7,549.5 2356.2,552.5 2356.7,554.7 2357.2,546.2 2357.7,551.9 2358.2,543.5 2358.7,550.6 2359.2,547.7 2359.7,551.1 2360.2,541.4 2360.7,549.6 2361.2,548.7 2361.7,547.0 2362.2,554.2 2362.7,551.9 2363.2,552.8 2363.7,556.7 2364.2,544.5 2364.7,552.9 2365.2,540.0 2365.7,547.7 2366.2,542.4 2366.7,544.1 2367.2,549.9 2367.7,552.3 2368.2,550.1 2368.7,551.5 2369.2,550.4 2369.7,544.8 2370.2,547.2 2370.7,542.1 2371.2,536.7 2371.7,543.9 2372.2,534.2 2372.7,523.4 2373.2,518.5 2373.7,521.0 2374.2,511.0 2374.7,500.7 2375.2,494.3 2375.7,482.2 2376.2,475.4 2376.7,469.3 2377.2,478.9 2377.7,489.5 2378.2,487.4 2378.7,497.3 2379.2,512.8 2379.7,521.0 2380.2,528.4 2380.7,527.6 2381.2,535.2 2381.7,534.9 2382.2,541.4 2382.7,535.9 2383.2,544.1 2383.7,536.9 2384.2,553.4 2384.7,537.3 2385.2,545.1 2385.7,550.6 2386.2,543.8 2386.7,546.9 2387.2,538.5 2387.7,546.9 2388.2,547.1 2388.7,544.4 2389.2,533.6 2389.7,536.9 2390.2,525.1 2390.7,514.6 2391.2,500.7 2391.7,496.5 2392.2,486.5 2392.7,477.8 2393.2,479.8 2393.7,492.2 2394.2,496.2 2394.7,518.1 2395.2,526.9 2395.7,535.2 2396.2,533.7 2396.7,552.7 2397.2,543.9 2397.7,550.4 2398.2,548.1 2398.7,550.2 2399.2,542.1 2399.7,552.2 2400.2,543.6 2400.7,538.4 2401.2,544.4 2401.7,551.3 2402.2,546.8 2402.7,542.4 2403.2,532.7 2403.7,538.4 2404.2,528.4 2404.7,515.3 2405.2,512.9 2405.7,498.1 2406.2,489.0 2406.7,492.2 2407.2,496.5 2407.7,497.8 2408.2,520.8 2408.7,518.8 2409.2,531.3 2409.7,532.7 2410.2,536.6 2410.7,541.1 2411.2,541.0 2411.7,545.4 2412.2,548.7 2412.7,542.2 2413.2,551.4 2413.7,552.4 2414.2,548.3 2414.7,552.7 2415.2,552.4 2415.7,554.7 2416.2,551.4 2416.7,548.8 2417.2,547.9 2417.7,549.9 2418.2,550.5 2418.7,554.5 2419.2,548.0 2419.7,548.8 2420.2,549.7 2420.7,558.4 2421.2,564.5 2421.7,547.3 2422.2,545.7 2422.7,544.9 2423.2,552.0 2423.7,553.0 2424.2,553.1 2424.7,550.7 2425.2,552.7 2425.7,554.1 2426.2,564.9 2426.7,552.3 2427.2,555.2 2427.7,550.2 2428.2,553.0 2428.7,553.4 2429.2,563.7 2429.7,548.3 2430.2,550.9 2430.7,548.4 2431.2,553.8 2431.7,552.6 2432.2,547.1 2432.7,553.0 2433.2,553.1 2433.7,552.2 2434.2,550.4 2434.7,555.4 2435.2,552.6 2435.7,552.5 2436.2,552.3 2436.7,549.1 2437.2,550.8 2437.7,551.3 2438.2,548.0 2438.7,553.6 2439.2,544.3 2439.7,551.4 2440.2,544.2 2440.7,541.0 2441.2,541.7 2441.7,538.1 2442.2,540.6 2442.7,532.5 2443.2,533.4 2443.7,541.2 2444.2,551.1 2444.7,540.8 2445.2,553.0 2445.7,559.1 2446.2,548.1 2446.7,556.5 2447.2,551.0 2447.7,549.5 2448.2,550.2 2448.7,550.4 2449.2,547.6 2449.7,551.8 2450.2,549.4 2450.7,560.8 2451.2,558.5 2451.7,552.0 2452.2,551.9 2452.7,556.7 2453.2,564.3 2453.7,559.8 2454.2,555.7 2454.7,560.1 2455.2,544.8 2455.7,544.8 2456.2,553.5 2456.7,547.8 2457.2,551.1 2457.7,549.2 2458.2,549.8 2458.7,548.8 2459.2,543.8 2459.7,541.5 2460.2,545.7 2460.7,540.7 2461.2,540.6 2461.7,542.2 2462.2,542.2 2462.7,542.8 2463.2,555.7 2463.7,544.5 2464.2,551.8 2464.7,551.3 2465.2,551.1 2465.7,554.1 2466.2,564.4 2466.7,560.5 2467.2,551.3 2467.7,545.4 2468.2,553.8 2468.7,552.0 2469.2,548.8 2469.7,556.2 2470.2,551.4 2470.7,550.7 2471.2,560.8 2471.7,557.4 2472.2,551.9 2472.7,559.8 2473.2,554.1 2473.7,550.8 2474.2,550.4 2474.7,551.2 2475.2,551.4 2475.7,548.7 2476.2,550.7 2476.7,546.4 2477.2,546.1 2477.7,554.1 2478.2,555.3 2478.7,551.8 2479.2,547.0 2479.7,550.7 2480.2,545.5 2480.7,545.7 2481.2,548.0 2481.7,552.3 2482.2,558.6 2482.7,550.9 2483.2,544.1 2483.7,539.7 2484.2,544.6 2484.7,544.9 2485.2,539.2 2485.7,546.4 2486.2,549.1 2486.7,545.8 2487.2,547.7 2487.7,545.5 2488.2,543.7 2488.7,550.0 2489.2,551.4 2489.7,548.7 2490.2,549.1 2490.7,555.3 2491.2,550.9 2491.7,562.5 2492.2,553.8 2492.7,556.5 2493.2,550.6 2493.7,550.4 2494.2,549.4 2494.7,547.8 2495.2,557.9 2495.7,556.1 2496.2,549.9 2496.7,553.3 2497.2,553.3 2497.7,549.6 2498.2,552.9 2498.7,548.6 2499.2,552.7 2499.7,555.4 2500.2,551.5 2500.7,557.7 2501.2,555.4 2501.7,546.2 2502.2,553.7 2502.7,551.7 2503.2,550.9 2503.7,546.6 2504.2,555.8 2504.7,548.2 2505.2,555.7 2505.7,554.9 2506.2,557.4 2506.7,550.3 2507.2,557.0 2507.7,548.5 2508.2,559.0 2508.7,553.8 2509.2,552.0 2509.7,552.8 2510.2,555.8 2510.7,548.4 2511.2,552.3 2511.7,549.3 2512.2,551.8 2512.7,548.4 2513.2,551.8 2513.7,555.2 2514.2,547.5 2514.7,550.8 2515.2,555.3 2515.7,551.9 2516.2,554.7 2516.7,543.5 2517.2,544.5 2517.7,547.2 2518.2,550.1 2518.7,540.9 2519.2,544.7 2519.7,533.4 2520.2,540.0 2520.7,525.3 2521.2,532.4 2521.7,520.3 2522.2,519.5 2522.7,517.7 2523.2,522.9 2523.7,536.7 2524.2,533.4 2524.7,533.9 2525.2,536.5 2525.7,544.9 2526.2,538.3 2526.7,548.3 2527.2,549.6 2527.7,547.2 2528.2,550.2 2528.7,549.3 2529.2,552.5 2529.7,550.7 2530.2,554.3 2530.7,549.1 2531.2,552.6 2531.7,551.4 2532.2,548.0 2532.7,547.1 2533.2,556.1 2533.7,541.8 2534.2,540.6 2534.7,554.6 2535.2,555.7 2535.7,555.5 2536.2,558.4 2536.7,554.0 2537.2,555.2 2537.7,551.7 2538.2,553.7 2538.7,558.8 2539.2,552.7 2539.7,546.4 2540.2,544.6 2540.7,553.2 2541.2,543.4 2541.7,545.3 2542.2,543.6 2542.7,554.5 2543.2,540.7 2543.7,535.6 2544.2,534.5 2544.7,524.0 2545.2,505.1 2545.7,502.3 2546.2,488.0 2546.7,498.9 2547.2,507.3 2547.7,513.0 2548.2,530.7 2548.7,520.4 2549.2,543.4 2549.7,540.1 2550.2,545.1 2550.7,543.8 2551.2,547.6 2551.7,550.2 2552.2,543.5 2552.7,546.9 2553.2,545.7 2553.7,545.7 2554.2,552.2 2554.7,549.9 2555.2,553.5 2555.7,550.5 2556.2,552.2 2556.7,561.2 2557.2,556.0 2557.7,547.5 2558.2,548.3 2558.7,553.4 2559.2,555.3 2559.7,548.9 2560.2,546.3 2560.7,551.0 2561.2,558.0 2561.7,553.5 2562.2,550.1 2562.7,551.4 2563.2,548.9 2563.7,554.6 2564.2,545.6 2564.7,550.6 2565.2,554.3 2565.7,550.3 2566.2,555.2 2566.7,555.8 2567.2,559.1 2567.7,551.6 2568.2,547.2 2568.7,546.0 2569.2,551.4 2569.7,544.0 2570.2,556.2 2570.7,547.5 2571.2,547.3 2571.7,548.9 2572.2,552.3 2572.7,548.9 2573.2,552.2 2573.7,549.4 2574.2,553.2 2574.7,556.8 2575.2,547.4 2575.7,550.6 2576.2,543.7 2576.7,549.9 2577.2,557.2 2577.7,554.2 2578.2,558.2 2578.7,550.8 2579.2,545.5 2579.7,553.9 2580.2,558.2 2580.7,548.9 2581.2,545.5 2581.7,542.6 2582.2,549.0 2582.7,553.3 2583.2,542.1 2583.7,544.6 2584.2,543.0 2584.7,548.4 2585.2,542.8 2585.7,548.9 2586.2,538.6 2586.7,540.0 2587.2,538.8 2587.7,535.7 2588.2,534.8 2588.7,531.2 2589.2,530.5 2589.7,522.1 2590.2,517.3 2590.7,508.7 2591.2,507.3 2591.7,497.7 2592.2,478.8 2592.7,479.2 2593.2,472.3 2593.7,453.8 2594.2,451.7 2594.7,454.9 2595.2,456.1 2595.7,459.6 2596.2,475.6 2596.7,478.0 2597.2,490.4 2597.7,504.2 2598.2,504.3 2598.7,516.1 2599.2,515.3 2599.7,522.4 2600.2,529.7 2600.7,530.5 2601.2,534.1 2601.7,536.7 2602.2,536.8 2602.7,543.4 2603.2,549.4 2603.7,541.7 2604.2,536.4 2604.7,542.8 2605.2,543.5 2605.7,549.6 2606.2,548.9 2606.7,542.3 2607.2,549.0 2607.7,542.3 2608.2,551.1 2608.7,554.9 2609.2,544.6 2609.7,551.5 2610.2,547.8 2610.7,547.3 2611.2,550.7 2611.7,551.9 2612.2,548.3 2612.7,547.8 2613.2,548.6 2613.7,552.9 2614.2,559.5 2614.7,554.4 2615.2,541.4 2615.7,551.2 2616.2,541.7 2616.7,555.4 2617.2,552.9 2617.7,554.6 2618.2,554.6 2618.7,550.6 2619.2,548.9 2619.7,554.4 2620.2,546.6 2620.7,548.6 2621.2,540.6 2621.7,537.9 2622.2,539.5 2622.7,531.3 2623.2,525.7 2623.7,525.3 2624.2,510.2 2624.7,513.8 2625.2,520.6 2625.7,531.5 2626.2,534.1 2626.7,537.6 2627.2,537.1 2627.7,544.7 2628.2,544.4 2628.7,541.0 2629.2,544.5 2629.7,558.0 2630.2,551.0 2630.7,551.1 2631.2,555.1 2631.7,555.6 2632.2,552.5 2632.7,552.0 2633.2,549.0 2633.7,561.8 2634.2,556.7 2634.7,553.9 2635.2,553.8 2635.7,549.9 2636.2,558.6 2636.7,563.8 2637.2,551.1 2637.7,554.3 2638.2,561.4 2638.7,553.4 2639.2,548.7 2639.7,545.8 2640.2,556.3 2640.7,552.8 2641.2,557.4 2641.7,550.0 2642.2,557.7 2642.7,553.6 2643.2,547.5 2643.7,555.8 2644.2,554.4 2644.7,548.9 2645.2,556.0 2645.7,551.5 2646.2,549.9 2646.7,551.1 2647.2,550.9 2647.7,554.3 2648.2,551.9 2648.7,550.6 2649.2,551.8 2649.7,554.6 2650.2,555.1 2650.7,551.2 2651.2,553.6 2651.7,550.3 2652.2,546.0 2652.7,553.6 2653.2,559.8 2653.7,553.7 2654.2,553.8 2654.7,549.0 2655.2,551.3 2655.7,557.5 2656.2,550.5 2656.7,552.1 2657.2,550.7 2657.7,562.4 2658.2,560.0 2658.7,558.7 2659.2,561.7 2659.7,556.6 2660.2,555.4 2660.7,556.3 2661.2,557.4 2661.7,559.3 2662.2,547.7 2662.7,545.7 2663.2,557.2 2663.7,552.9 2664.2,555.4 2664.7,555.9 2665.2,543.9 2665.7,553.5 2666.2,550.9 2666.7,550.2 2667.2,550.5 2667.7,565.5 2668.2,553.7 2668.7,549.2 2669.2,557.2 2669.7,555.8 2670.2,559.1 2670.7,552.0 2671.2,556.2 2671.7,549.2 2672.2,556.3 2672.7,550.7 2673.2,553.1 2673.7,549.3 2674.2,548.9 2674.7,550.7 2675.2,548.4 2675.7,543.7 2676.2,553.1 2676.7,542.2 2677.2,532.5 2677.7,521.7 2678.2,518.9 2678.7,511.2 2679.2,495.6 2679.7,501.8 2680.2,512.1 2680.7,518.7 2681.2,528.5 2681.7,541.2 2682.2,536.4 2682.7,538.2 2683.2,544.4 2683.7,546.9 2684.2,554.3 2684.7,555.6 2685.2,547.8 2685.7,551.7 2686.2,549.5 2686.7,550.6 2687.2,557.3 2687.7,549.6 2688.2,557.0 2688.7,552.8 2689.2,557.1 2689.7,550.6 2690.2,546.9 2690.7,561.2 2691.2,565.4 2691.7,561.7 2692.2,555.1 2692.7,555.6 2693.2,555.9 2693.7,555.5 2694.2,563.8 2694.7,557.8 2695.2,561.8 2695.7,556.2 2696.2,560.2 2696.7,552.3 2697.2,552.4 2697.7,551.7 2698.2,559.0 2698.7,561.7 2699.2,553.9 2699.7,555.9 2700.2,552.0 2700.7,552.1 2701.2,548.6 2701.7,559.8 2702.2,551.2 2702.7,550.2 2703.2,552.8 2703.7,552.4 2704.2,552.8 2704.7,551.4 2705.2,559.5 2705.7,554.3 2706.2,555.2 2706.7,553.7 2707.2,550.7 2707.7,554.0 2708.2,552.6 2708.7,555.7 2709.2,554.7 2709.7,551.1 2710.2,555.7 2710.7,551.8 2711.2,556.9 2711.7,550.8 2712.2,552.7 2712.7,552.7 2713.2,550.5 2713.7,553.4 2714.2,551.5 2714.7,551.9 2715.2,560.2 2715.7,555.2 2716.2,549.3 2716.7,554.4 2717.2,550.1 2717.7,547.2 2718.2,548.4 2718.7,555.4 2719.2,544.3 2719.7,546.6 2720.2,545.3 2720.7,545.8 2721.2,550.6 2721.7,545.6 2722.2,549.4 2722.7,542.4 2723.2,548.6 2723.7,544.1 2724.2,548.8 2724.7,545.8 2725.2,552.9 2725.7,556.1 2726.2,547.6 2726.7,549.0 2727.2,554.3 2727.7,553.5 2728.2,547.5 2728.7,551.8 2729.2,555.7 2729.7,560.7 2730.2,551.5 2730.7,550.4 2731.2,555.6 2731.7,553.5 2732.2,552.0 2732.7,553.1 2733.2,551.4 2733.7,556.5 2734.2,546.9 2734.7,553.5 2735.2,556.2 2735.7,555.2 2736.2,544.3 2736.7,552.8 2737.2,549.8 2737.7,560.9 2738.2,560.3 2738.7,555.8 2739.2,553.2 2739.7,557.7 2740.2,557.3 2740.7,547.5 2741.2,560.4 2741.7,554.9 2742.2,549.0 2742.7,558.1 2743.2,548.8 2743.7,555.8 2744.2,559.5 2744.7,559.9 2745.2,556.1 2745.7,551.7 2746.2,558.1 2746.7,558.2 2747.2,560.7 2747.7,549.5 2748.2,554.5 2748.7,555.0 2749.2,553.1 2749.7,553.1 2750.2,554.6 2750.7,550.2 2751.2,554.0 2751.7,556.2 2752.2,548.0 2752.7,554.9 2753.2,552.9 2753.7,555.9 2754.2,560.0 2754.7,552.8 2755.2,550.4 2755.7,560.0 2756.2,555.0 2756.7,548.0 2757.2,557.2 2757.7,556.0 2758.2,549.7 2758.7,554.6 2759.2,556.7 2759.7,549.9 2760.2,555.3 2760.7,553.8 2761.2,555.8 2761.7,558.7 2762.2,554.0 2762.7,553.1 2763.2,557.8 2763.7,555.8 2764.2,561.5 2764.7,552.1 2765.2,548.7 2765.7,558.9 2766.2,552.5 2766.7,550.6 2767.2,551.9 2767.7,557.0 2768.2,544.2 2768.7,538.4 2769.2,543.5 2769.7,542.9 2770.2,550.2 2770.7,545.4 2771.2,548.3 2771.7,547.5 2772.2,544.2 2772.7,554.1 2773.2,552.1 2773.7,557.2 2774.2,551.8 2774.7,547.8 2775.2,555.1 2775.7,558.8 2776.2,554.4 2776.7,549.6 2777.2,553.1 2777.7,559.1 2778.2,559.7 2778.7,550.9 2779.2,552.4 2779.7,546.1 2780.2,554.5 2780.7,555.1 2781.2,568.2 2781.7,554.9 2782.2,561.2 2782.7,555.7 2783.2,552.8 2783.7,558.0 2784.2,561.0 2784.7,550.6 2785.2,556.9 2785.7,559.1 2786.2,550.6 2786.7,555.9 2787.2,555.2 2787.7,557.2 2788.2,562.9 2788.7,552.5 2789.2,552.2 2789.7,557.6 2790.2,555.7 2790.7,554.7 2791.2,546.5 2791.7,554.6 2792.2,553.8 2792.7,552.5 2793.2,550.3 2793.7,549.8 2794.2,548.3 2794.7,553.3 2795.2,547.8 2795.7,545.8 2796.2,540.8 2796.7,538.7 2797.2,530.9 2797.7,537.5 2798.2,535.0 2798.7,539.4 2799.2,538.6 2799.7,543.5 2800.2,547.7 2800.7,547.9 2801.2,546.4 2801.7,552.4 2802.2,558.0 2802.7,555.9 2803.2,550.5 2803.7,556.0 2804.2,558.2 2804.7,556.4 2805.2,552.8 2805.7,550.4 2806.2,559.5 2806.7,556.8 2807.2,566.8 2807.7,557.8 2808.2,558.4 2808.7,553.3 2809.2,557.9 2809.7,562.3 2810.2,556.6 2810.7,554.8 2811.2,549.3 2811.7,555.5 2812.2,546.1 2812.7,557.5 2813.2,558.7 2813.7,550.9 2814.2,553.0 2814.7,553.7 2815.2,547.3 2815.7,549.3 2816.2,551.9 2816.7,549.2 2817.2,555.7 2817.7,554.9 2818.2,551.6 2818.7,553.0 2819.2,543.3 2819.7,547.4 2820.2,545.4 2820.7,542.3 2821.2,536.9 2821.7,534.4 2822.2,533.9 2822.7,525.8 2823.2,518.6 2823.7,523.4 2824.2,524.5 2824.7,524.3 2825.2,534.5 2825.7,540.6 2826.2,544.0 2826.7,545.5 2827.2,547.5 2827.7,543.3 2828.2,546.8 2828.7,554.8 2829.2,546.2 2829.7,550.9 2830.2,558.8 2830.7,549.7 2831.2,555.2 2831.7,558.8 2832.2,550.8 2832.7,547.4 2833.2,550.8 2833.7,556.5 2834.2,554.0 2834.7,560.6 2835.2,560.8 2835.7,551.9 2836.2,558.0 2836.7,556.2 2837.2,557.8 2837.7,554.2 2838.2,553.2 2838.7,555.0 2839.2,559.8 2839.7,556.5 2840.2,557.9 2840.7,558.3 2841.2,557.5 2841.7,555.3 2842.2,551.4 2842.7,556.8 2843.2,558.9 2843.7,557.5 2844.2,554.8 2844.7,561.3 2845.2,554.3 2845.7,559.8 2846.2,561.4 2846.7,559.9 2847.2,560.1 2847.7,558.2 2848.2,555.3 2848.7,551.5 2849.2,558.2 2849.7,558.8 2850.2,551.7 2850.7,564.7 2851.2,559.7 2851.7,559.3 2852.2,558.5 2852.7,557.6 2853.2,560.1 2853.7,559.1 2854.2,553.6 2854.7,557.0 2855.2,559.5 2855.7,556.2 2856.2,562.2 2856.7,559.8 2857.2,559.3 2857.7,559.2 2858.2,560.9 2858.7,547.4 2859.2,550.8 2859.7,555.1 2860.2,552.5 2860.7,553.9 2861.2,552.4 2861.7,547.7 2862.2,557.5 2862.7,559.1 2863.2,555.0 2863.7,550.2 2864.2,550.8 2864.7,558.0 2865.2,550.4 2865.7,554.9 2866.2,550.8 2866.7,550.9 2867.2,545.9 2867.7,542.0 2868.2,538.8 2868.7,535.3 2869.2,536.4 2869.7,539.3 2870.2,538.1 2870.7,546.3 2871.2,545.4 2871.7,550.0 2872.2,552.6 2872.7,545.5 2873.2,555.5 2873.7,554.1 2874.2,559.2 2874.7,555.4 2875.2,555.5 2875.7,551.8 2876.2,549.1 2876.7,556.8 2877.2,556.8 2877.7,555.5 2878.2,562.7 2878.7,556.7 2879.2,557.3 2879.7,564.4 2880.2,556.5 2880.7,554.5 2881.2,568.8 2881.7,561.7 2882.2,565.3 2882.7,556.2 2883.2,559.7 2883.7,562.9 2884.2,555.3 2884.7,556.5 2885.2,555.7 2885.7,561.5 2886.2,556.5 2886.7,555.6 2887.2,554.4 2887.7,556.8 2888.2,562.4 2888.7,551.8 2889.2,560.3 2889.7,560.8 2890.2,557.7 2890.7,556.0 2891.2,556.3 2891.7,563.7 2892.2,562.6 2892.7,560.6 2893.2,559.9 2893.7,555.5 2894.2,551.8 2894.7,556.2 2895.2,558.8 2895.7,560.4 2896.2,551.5 2896.7,552.8 2897.2,553.5 2897.7,561.1 2898.2,557.7 2898.7,557.3 2899.2,553.3 2899.7,559.6 2900.2,556.1 2900.7,554.6 2901.2,554.3 2901.7,555.2 2902.2,562.4 2902.7,556.0 2903.2,553.3 2903.7,557.3 2904.2,560.1 2904.7,552.6 2905.2,559.2 2905.7,547.3 2906.2,560.3 2906.7,559.6 2907.2,551.4 2907.7,556.7 2908.2,559.3 2908.7,562.2 2909.2,560.1 2909.7,556.4 2910.2,560.8 2910.7,557.7 2911.2,557.3 2911.7,564.5 2912.2,561.6 2912.7,560.1 2913.2,552.2 2913.7,553.8 2914.2,552.0 2914.7,561.5 2915.2,558.9 2915.7,560.0 2916.2,560.8 2916.7,555.5 2917.2,551.2 2917.7,555.2 2918.2,559.8 2918.7,559.3 2919.2,558.1 2919.7,562.0 2920.2,555.2 2920.7,564.6 2921.2,554.3 2921.7,556.1 2922.2,550.7 2922.7,558.6 2923.2,564.3 2923.7,562.3 2924.2,560.8 2924.7,564.8 2925.2,560.3 2925.7,558.1 2926.2,554.7 2926.7,552.9 2927.2,560.6 2927.7,552.7 2928.2,554.4 2928.7,554.7 2929.2,553.7 2929.7,556.1 2930.2,549.3 2930.7,546.7 2931.2,548.8 2931.7,542.4 2932.2,542.7 2932.7,547.4 2933.2,546.4 2933.7,546.8 2934.2,556.1 2934.7,551.5 2935.2,557.2 2935.7,556.5 2936.2,559.3 2936.7,561.3 2937.2,560.8 2937.7,556.4 2938.2,559.3 2938.7,556.7 2939.2,564.8 2939.7,559.4 2940.2,563.0 2940.7,550.0 2941.2,561.1 2941.7,558.9 2942.2,560.5 2942.7,554.3 2943.2,555.6 2943.7,557.1 2944.2,558.4 2944.7,557.6 2945.2,561.4 2945.7,561.0 2946.2,565.0 2946.7,554.6 2947.2,555.0 2947.7,562.0 2948.2,558.3 2948.7,555.6 2949.2,558.4 2949.7,559.8 2950.2,552.6 2950.7,561.9 2951.2,554.2 2951.7,561.9 2952.2,560.8 2952.7,553.5 2953.2,556.6 2953.7,557.3 2954.2,555.7 2954.7,553.8 2955.2,554.0 2955.7,559.1 2956.2,554.8 2956.7,549.2 2957.2,551.6 2957.7,549.5 2958.2,550.2 2958.7,549.9 2959.2,535.7 2959.7,545.3 2960.2,541.7 2960.7,546.2 2961.2,550.9 2961.7,549.4 2962.2,552.1 2962.7,559.1 2963.2,559.5 2963.7,559.3 2964.2,561.1 2964.7,557.2 2965.2,555.8 2965.7,558.6 2966.2,558.7 2966.7,564.9 2967.2,553.4 2967.7,549.9 2968.2,557.8 2968.7,559.2 2969.2,554.6 2969.7,565.3 2970.2,560.8 2970.7,554.4 2971.2,558.3 2971.7,557.7 2972.2,562.3 2972.7,559.1 2973.2,567.0 2973.7,560.0 2974.2,555.6 2974.7,559.9 2975.2,560.6 2975.7,564.3 2976.2,558.2 2976.7,551.0 2977.2,548.5 2977.7,560.4 2978.2,550.0 2978.7,547.9 2979.2,550.9 2979.7,553.1 2980.2,556.3 2980.7,559.3 2981.2,557.3 2981.7,552.4 2982.2,561.3 2982.7,552.5 2983.2,560.4 2983.7,564.8 2984.2,563.7 2984.7,552.8 2985.2,561.7 2985.7,558.8 2986.2,550.8 2986.7,558.6 2987.2,558.8 2987.7,556.0 2988.2,557.6 2988.7,564.1 2989.2,562.0 2989.7,563.2 2990.2,555.9 2990.7,564.4 2991.2,569.8 2991.7,563.1 2992.2,559.3 2992.7,557.8 2993.2,560.9 2993.7,556.0 2994.2,563.0 2994.7,559.5 2995.2,561.0 2995.7,559.3 2996.2,558.9 2996.7,555.6 2997.2,560.6 2997.7,552.7 2998.2,558.1 2998.7,558.7 2999.2,564.3 2999.7,564.0 3000.2,558.6 3000.7,562.7 3001.2,556.9 3001.7,556.2 3002.2,557.3 3002.7,560.8 3003.2,558.2 3003.7,552.2 3004.2,561.7 3004.7,559.8 3005.2,560.5 3005.7,559.9 3006.2,556.3 3006.7,561.3 3007.2,558.9 3007.7,559.4 3008.2,557.7 3008.7,564.3 3009.2,559.4 3009.7,564.1 3010.2,561.3 3010.7,553.0 3011.2,559.8 3011.7,560.8 3012.2,556.3 3012.7,552.2 3013.2,560.2 3013.7,555.7 3014.2,551.2 3014.7,557.6 3015.2,556.1 3015.7,560.6 3016.2,551.0 3016.7,551.6 3017.2,548.6 3017.7,551.0 3018.2,545.7 3018.7,542.2 3019.2,542.8 3019.7,541.8 3020.2,548.3 3020.7,547.5 3021.2,548.8 3021.7,541.8 3022.2,549.6 3022.7,548.0 3023.2,545.8 3023.7,556.9 3024.2,551.3 3024.7,556.3 3025.2,559.5 3025.7,549.6 3026.2,549.5 3026.7,559.8 3027.2,552.8 3027.7,560.6 3028.2,552.4 3028.7,554.2 3029.2,564.6 3029.7,563.7 3030.2,560.4 3030.7,561.5 3031.2,554.6 3031.7,557.9 3032.2,551.8 3032.7,565.9 3033.2,560.2 3033.7,552.6 3034.2,557.1 3034.7,566.2 3035.2,562.3 3035.7,562.5 3036.2,560.8 3036.7,557.2 3037.2,553.1 3037.7,561.6 3038.2,560.7 3038.7,563.4 3039.2,560.2 3039.7,558.8 3040.2,556.9 3040.7,557.3 3041.2,561.8 3041.7,568.1 3042.2,557.9 3042.7,563.4 3043.2,565.4 3043.7,557.6 3044.2,562.2 3044.7,561.6 3045.2,562.2 3045.7,563.1 3046.2,561.6 3046.7,561.5 3047.2,553.5 3047.7,562.1 3048.2,565.5 3048.7,563.9 3049.2,567.4 3049.7,569.4 3050.2,564.6 3050.7,555.9 3051.2,565.9 3051.7,565.6 3052.2,559.2 3052.7,557.4 3053.2,559.8 3053.7,565.0 3054.2,559.8 3054.7,562.0 3055.2,556.7 3055.7,553.8 3056.2,555.0 3056.7,556.1 3057.2,552.4 3057.7,551.3 3058.2,551.5 3058.7,556.7 3059.2,563.2 3059.7,559.7 3060.2,557.2 3060.7,549.7 3061.2,561.2 3061.7,555.7 3062.2,553.7 3062.7,553.2 3063.2,558.8 3063.7,554.4 3064.2,558.2 3064.7,564.7 3065.2,564.7 3065.7,559.0 3066.2,555.4 3066.7,557.9 3067.2,565.1 3067.7,563.8 3068.2,566.4 3068.7,556.3 3069.2,563.8 3069.7,567.2 3070.2,562.8 3070.7,560.4 3071.2,561.1 3071.7,558.7 3072.2,554.8 3072.7,565.8 3073.2,556.3 3073.7,562.4 3074.2,558.5 3074.7,556.7 3075.2,565.0 3075.7,557.7 3076.2,552.0 3076.7,562.9 3077.2,565.1 3077.7,565.4 3078.2,562.7 3078.7,565.4 3079.2,558.6 3079.7,562.9 3080.2,561.0 3080.7,555.3 3081.2,561.7 3081.7,561.9 3082.2,557.7 3082.7,553.8 3083.2,559.2 3083.7,560.3 3084.2,558.0 3084.7,561.4 3085.2,562.5 3085.7,564.5 3086.2,563.2 3086.7,565.4 3087.2,557.2 3087.7,565.4 3088.2,560.8 3088.7,555.1 3089.2,563.2 3089.7,561.2 3090.2,560.8 3090.7,568.3 3091.2,568.8 3091.7,567.8 3092.2,565.5 3092.7,561.5 3093.2,562.2 3093.7,552.1 3094.2,560.7 3094.7,558.4 3095.2,567.7 3095.7,554.5 3096.2,560.9 3096.7,560.4 3097.2,570.0 3097.7,557.9 3098.2,561.6 3098.7,558.5 3099.2,561.3 3099.7,559.1 3100.2,563.4 3100.7,558.1 3101.2,567.4 3101.7,563.8 3102.2,565.3 3102.7,564.4 3103.2,564.6 3103.7,563.3 3104.2,560.6 3104.7,563.0 3105.2,558.0 3105.7,565.1 3106.2,561.0 3106.7,559.4 3107.2,559.8 3107.7,557.4 3108.2,565.9 3108.7,558.8 3109.2,562.7 3109.7,564.1 3110.2,565.0 3110.7,565.7 3111.2,559.4 3111.7,559.2 3112.2,563.3 3112.7,564.6 3113.2,558.5 3113.7,564.7 3114.2,565.6 3114.7,564.4 3115.2,561.4 3115.7,565.3 3116.2,564.3 3116.7,554.3 3117.2,568.1 3117.7,562.1 3118.2,569.2 3118.7,561.2 3119.2,561.2 3119.7,556.0 3120.2,565.3 3120.7,562.7 3121.2,563.3 3121.7,559.7 3122.2,560.0 3122.7,560.0 3123.2,557.5 3123.7,560.7 3124.2,564.3 3124.7,564.2 3125.2,558.7 3125.7,562.3 3126.2,562.9 3126.7,558.9 3127.2,566.7 3127.7,564.8 3128.2,559.0 3128.7,567.6 3129.2,558.3 3129.7,565.8 3130.2,565.1 3130.7,557.0 3131.2,565.1 3131.7,567.1 3132.2,558.6 3132.7,561.8 3133.2,561.3 3133.7,559.6 3134.2,563.0 3134.7,558.4 3135.2,562.2 3135.7,562.0 3136.2,556.4 3136.7,563.2 3137.2,560.3 3137.7,560.3 3138.2,565.2 3138.7,560.9 3139.2,559.2 3139.7,562.5 3140.2,563.3 3140.7,563.8 3141.2,559.1 3141.7,561.9 3142.2,563.0 3142.7,555.3 3143.2,569.7 3143.7,562.5 3144.2,568.9 3144.7,562.9 3145.2,555.1 3145.7,561.6 3146.2,564.9 3146.7,559.4 3147.2,561.4 3147.7,562.3 3148.2,562.9 3148.7,563.5 3149.2,569.5 3149.7,563.0 3150.2,561.0 3150.7,563.1 3151.2,560.4 3151.7,563.5 3152.2,564.2 3152.7,563.2 3153.2,565.1 3153.7,563.6 3154.2,563.3 3154.7,567.3 3155.2,558.6 3155.7,562.1 3156.2,564.2 3156.7,564.2 3157.2,569.2 3157.7,570.2 3158.2,566.5 3158.7,560.9 3159.2,565.9 3159.7,560.0 3160.2,562.9 3160.7,560.9 3161.2,557.7 3161.7,558.8 3162.2,565.8 3162.7,565.2 3163.2,557.2 3163.7,562.6 3164.2,563.0 3164.7,564.8 3165.2,563.6 3165.7,564.4 3166.2,561.7 3166.7,566.9 3167.2,565.4 3167.7,557.6 3168.2,558.1 3168.7,563.8 3169.2,564.9 3169.7,561.3 3170.2,559.6 3170.7,564.6 3171.2,559.6 3171.7,562.9 3172.2,561.4 3172.7,563.3 3173.2,556.7 3173.7,562.0 3174.2,566.5 3174.7,563.3 3175.2,559.9 3175.7,572.6 3176.2,561.8 3176.7,558.2 3177.2,558.8 3177.7,560.9 3178.2,563.3 3178.7,555.1 3179.2,562.7 3179.7,568.2 3180.2,561.5 3180.7,566.9 3181.2,567.8 3181.7,563.8 3182.2,563.9 3182.7,565.8 3183.2,561.3 3183.7,563.4 3184.2,567.9 3184.7,557.7 3185.2,562.9 3185.7,562.9 3186.2,569.7 3186.7,566.1 3187.2,563.4 3187.7,566.1 3188.2,558.8 3188.7,564.0 3189.2,559.0 3189.7,562.3 3190.2,559.9 3190.7,565.1 3191.2,570.0 3191.7,567.5 3192.2,562.6 3192.7,557.1 3193.2,568.3 3193.7,563.3 3194.2,560.4 3194.7,561.9 3195.2,566.8 3195.7,569.1 3196.2,563.1 3196.7,561.9 3197.2,562.9 3197.7,562.6 3198.2,557.4 3198.7,558.5 3199.2,559.0 3199.7,561.6 3200.2,565.1 3200.7,559.0 3201.2,564.1 3201.7,566.5 3202.2,556.5 3202.7,562.0 3203.2,560.3 3203.7,564.6 3204.2,563.5 3204.7,560.7 3205.2,568.0 3205.7,560.2 3206.2,561.9 3206.7,565.0 3207.2,567.2 3207.7,559.1 3208.2,568.1 3208.7,563.4 3209.2,556.3 3209.7,552.1 3210.2,562.9 3210.7,553.9 3211.2,552.2 3211.7,551.4 3212.2,545.6 3212.7,549.2 3213.2,538.1 3213.7,540.8 3214.2,536.7 3214.7,538.4 3215.2,545.1 3215.7,542.0 3216.2,549.8 3216.7,547.1 3217.2,554.9 3217.7,547.5 3218.2,553.4 3218.7,561.3 3219.2,558.9 3219.7,558.1 3220.2,561.7 3220.7,559.6 3221.2,560.1 3221.7,561.1 3222.2,554.9 3222.7,561.4 3223.2,567.7 3223.7,563.4 3224.2,558.1 3224.7,566.5 3225.2,555.5 3225.7,558.1 3226.2,566.0 3226.7,564.3 3227.2,563.5 3227.7,565.7 3228.2,565.7 3228.7,561.4 3229.2,560.7 3229.7,559.7 3230.2,563.4 3230.7,566.6 3231.2,566.3 3231.7,559.6 3232.2,563.2 3232.7,568.3 3233.2,554.1 3233.7,564.0 3234.2,566.3 3234.7,566.0 3235.2,556.1 3235.7,565.9 3236.2,564.5 3236.7,562.0 3237.2,566.1 3237.7,566.3 3238.2,563.0 3238.7,561.9 3239.2,563.9 3239.7,570.1 3240.2,564.4 3240.7,561.4 3241.2,564.5 3241.7,561.7 3242.2,565.6 3242.7,569.7 3243.2,565.7 3243.7,564.8 3244.2,565.7 3244.7,561.7 3245.2,562.8 3245.7,561.9 3246.2,565.7 3246.7,564.8 3247.2,564.7 3247.7,572.4 3248.2,566.9 3248.7,569.2 3249.2,565.4 3249.7,558.3 3250.2,567.3 3250.7,559.0 3251.2,564.5 3251.7,557.4 3252.2,563.1 3252.7,564.8 3253.2,574.4 3253.7,563.8 3254.2,568.3 3254.7,564.0 3255.2,566.4 3255.7,562.0 3256.2,566.0 3256.7,562.4 3257.2,562.9 3257.7,564.3 3258.2,565.5 3258.7,569.8 3259.2,570.3 3259.7,562.2 3260.2,560.3 3260.7,566.5 3261.2,567.5 3261.7,564.4 3262.2,566.7 3262.7,567.0 3263.2,562.3 3263.7,559.9 3264.2,569.9 3264.7,569.5 3265.2,561.7 3265.7,565.8 3266.2,563.7 3266.7,564.6 3267.2,562.4 3267.7,559.8 3268.2,561.8 3268.7,569.2 3269.2,565.1 3269.7,561.5 3270.2,570.7 3270.7,562.1 3271.2,565.7 3271.7,559.0 3272.2,565.8 3272.7,567.7 3273.2,561.9 3273.7,564.6 3274.2,560.3 3274.7,566.6 3275.2,568.2 3275.7,566.0 3276.2,565.1 3276.7,567.9 3277.2,566.7 3277.7,569.7 3278.2,567.6 3278.7,570.1 3279.2,560.5 3279.7,565.1 3280.2,559.2 3280.7,564.2 3281.2,567.2 3281.7,567.7 3282.2,563.7 3282.7,566.0 3283.2,563.8 3283.7,565.3 3284.2,570.3 3284.7,568.8 3285.2,567.0 3285.7,568.8 3286.2,567.2 3286.7,561.1 3287.2,565.5 3287.7,567.3 3288.2,564.0 3288.7,567.1 3289.2,564.3 3289.7,570.6 3290.2,564.3 3290.7,570.5 3291.2,567.9 3291.7,563.8 3292.2,567.2 3292.7,568.1 3293.2,562.6 3293.7,566.9 3294.2,567.7 3294.7,562.4 3295.2,566.4 3295.7,565.1 3296.2,561.3 3296.7,566.0 3297.2,573.5 3297.7,564.1 3298.2,566.8 3298.7,561.1 3299.2,570.0 3299.7,566.2 3300.2,568.4 3300.7,566.1 3301.2,568.5 3301.7,564.8 3302.2,568.8 3302.7,568.4 3303.2,568.7 3303.7,562.7 3304.2,566.7 3304.7,565.7 3305.2,572.4 3305.7,570.0 3306.2,565.2 3306.7,564.5 3307.2,566.8 3307.7,563.5 3308.2,564.0 3308.7,564.6"/></defs>
<use href="#c5" fill="none" stroke="#8c6c22" stroke-width="3.8" stroke-linejoin="round" stroke-linecap="round"/>
<defs><polyline id="c6" points="1854.7,1139.5 1855.2,1140.0 1855.7,1143.0 1856.2,1136.3 1856.7,1140.4 1857.2,1136.1 1857.7,1135.8 1858.2,1155.1 1858.7,1135.7 1859.2,1139.7 1859.7,1141.6 1860.2,1137.1 1860.7,1128.5 1861.2,1125.8 1861.7,1137.1 1862.2,1120.1 1862.7,1103.8 1863.2,1113.4 1863.7,1109.0 1864.2,1112.1 1864.7,1116.1 1865.2,1139.9 1865.7,1147.5 1866.2,1132.5 1866.7,1136.7 1867.2,1137.4 1867.7,1134.0 1868.2,1140.5 1868.7,1145.1 1869.2,1138.8 1869.7,1144.8 1870.2,1146.2 1870.7,1149.4 1871.2,1140.5 1871.7,1138.1 1872.2,1139.6 1872.7,1141.1 1873.2,1132.4 1873.7,1133.1 1874.2,1133.2 1874.7,1141.3 1875.2,1140.5 1875.7,1136.2 1876.2,1152.9 1876.7,1137.8 1877.2,1137.1 1877.7,1135.8 1878.2,1150.3 1878.7,1151.2 1879.2,1136.1 1879.7,1143.4 1880.2,1144.6 1880.7,1129.6 1881.2,1126.3 1881.7,1128.2 1882.2,1157.3 1882.7,1140.6 1883.2,1140.0 1883.7,1135.3 1884.2,1131.3 1884.7,1146.1 1885.2,1122.8 1885.7,1127.4 1886.2,1138.2 1886.7,1115.2 1887.2,1116.1 1887.7,1116.1 1888.2,1113.6 1888.7,1125.0 1889.2,1139.7 1889.7,1130.9 1890.2,1135.6 1890.7,1127.4 1891.2,1120.0 1891.7,1145.8 1892.2,1127.6 1892.7,1134.9 1893.2,1136.1 1893.7,1150.2 1894.2,1129.5 1894.7,1145.2 1895.2,1124.5 1895.7,1144.7 1896.2,1147.6 1896.7,1141.1 1897.2,1141.8 1897.7,1140.6 1898.2,1146.3 1898.7,1134.8 1899.2,1158.6 1899.7,1135.4 1900.2,1138.0 1900.7,1137.3 1901.2,1138.5 1901.7,1133.1 1902.2,1135.8 1902.7,1124.9 1903.2,1122.2 1903.7,1127.6 1904.2,1139.9 1904.7,1149.7 1905.2,1125.9 1905.7,1136.9 1906.2,1126.7 1906.7,1143.5 1907.2,1135.4 1907.7,1160.3 1908.2,1132.5 1908.7,1147.3 1909.2,1136.3 1909.7,1136.0 1910.2,1142.5 1910.7,1129.8 1911.2,1144.1 1911.7,1134.0 1912.2,1142.8 1912.7,1143.0 1913.2,1122.7 1913.7,1132.7 1914.2,1137.7 1914.7,1132.9 1915.2,1141.0 1915.7,1139.8 1916.2,1135.2 1916.7,1142.4 1917.2,1137.0 1917.7,1132.5 1918.2,1143.2 1918.7,1135.2 1919.2,1142.3 1919.7,1131.6 1920.2,1132.0 1920.7,1132.2 1921.2,1135.7 1921.7,1121.0 1922.2,1136.7 1922.7,1132.4 1923.2,1131.1 1923.7,1123.4 1924.2,1133.1 1924.7,1133.6 1925.2,1136.9 1925.7,1129.3 1926.2,1132.8 1926.7,1131.9 1927.2,1122.9 1927.7,1124.6 1928.2,1108.2 1928.7,1107.0 1929.2,1109.7 1929.7,1093.6 1930.2,1058.4 1930.7,1007.8 1931.2,939.5 1931.7,829.0 1932.2,760.6 1932.7,721.2 1933.2,780.4 1933.7,878.2 1934.2,962.9 1934.7,1022.9 1935.2,1086.3 1935.7,1088.5 1936.2,1098.2 1936.7,1116.7 1937.2,1112.7 1937.7,1127.3 1938.2,1122.9 1938.7,1126.1 1939.2,1128.8 1939.7,1133.9 1940.2,1127.1 1940.7,1123.9 1941.2,1121.4 1941.7,1125.6 1942.2,1130.3 1942.7,1129.1 1943.2,1117.2 1943.7,1126.4 1944.2,1116.6 1944.7,1116.4 1945.2,1133.5 1945.7,1106.8 1946.2,1114.9 1946.7,1091.2 1947.2,1095.1 1947.7,1079.3 1948.2,1077.6 1948.7,1092.9 1949.2,1089.9 1949.7,1090.4 1950.2,1096.4 1950.7,1101.5 1951.2,1120.6 1951.7,1118.5 1952.2,1108.4 1952.7,1111.7 1953.2,1120.9 1953.7,1103.5 1954.2,1091.1 1954.7,1094.0 1955.2,1062.9 1955.7,1039.4 1956.2,1024.2 1956.7,1009.6 1957.2,1008.5 1957.7,1012.1 1958.2,1035.6 1958.7,1059.4 1959.2,1083.3 1959.7,1087.3 1960.2,1105.9 1960.7,1098.7 1961.2,1107.9 1961.7,1110.4 1962.2,1116.4 1962.7,1104.7 1963.2,1113.0 1963.7,1122.3 1964.2,1118.4 1964.7,1101.7 1965.2,1118.6 1965.7,1121.5 1966.2,1106.6 1966.7,1100.2 1967.2,1107.2 1967.7,1114.4 1968.2,1096.5 1968.7,1109.5 1969.2,1121.9 1969.7,1104.5 1970.2,1111.9 1970.7,1112.1 1971.2,1103.8 1971.7,1090.6 1972.2,1107.7 1972.7,1103.4 1973.2,1109.0 1973.7,1092.2 1974.2,1103.9 1974.7,1098.2 1975.2,1088.0 1975.7,1089.9 1976.2,1075.1 1976.7,1082.9 1977.2,1073.9 1977.7,1067.7 1978.2,1057.9 1978.7,1049.5 1979.2,1040.2 1979.7,1051.8 1980.2,1055.3 1980.7,1058.9 1981.2,1059.4 1981.7,1076.8 1982.2,1062.9 1982.7,1082.2 1983.2,1080.3 1983.7,1078.5 1984.2,1072.2 1984.7,1079.1 1985.2,1084.1 1985.7,1085.0 1986.2,1096.2 1986.7,1101.1 1987.2,1082.6 1987.7,1092.8 1988.2,1072.0 1988.7,1073.3 1989.2,1072.5 1989.7,1065.2 1990.2,1043.6 1990.7,1023.4 1991.2,1004.5 1991.7,992.5 1992.2,989.7 1992.7,994.6 1993.2,1004.5 1993.7,1008.9 1994.2,1034.9 1994.7,1029.5 1995.2,1045.2 1995.7,1066.6 1996.2,1068.0 1996.7,1065.5 1997.2,1060.5 1997.7,1081.6 1998.2,1080.1 1998.7,1084.3 1999.2,1073.8 1999.7,1093.3 2000.2,1090.8 2000.7,1085.7 2001.2,1074.2 2001.7,1085.2 2002.2,1097.2 2002.7,1092.9 2003.2,1080.2 2003.7,1091.1 2004.2,1097.4 2004.7,1093.2 2005.2,1084.2 2005.7,1078.4 2006.2,1088.2 2006.7,1085.1 2007.2,1095.0 2007.7,1072.8 2008.2,1073.5 2008.7,1106.4 2009.2,1089.6 2009.7,1091.8 2010.2,1091.3 2010.7,1069.6 2011.2,1065.2 2011.7,1079.4 2012.2,1053.2 2012.7,1060.0 2013.2,1042.0 2013.7,1027.2 2014.2,1009.2 2014.7,1019.6 2015.2,1014.3 2015.7,1014.5 2016.2,1018.4 2016.7,1020.8 2017.2,1049.1 2017.7,1045.8 2018.2,1072.7 2018.7,1065.0 2019.2,1077.7 2019.7,1083.8 2020.2,1094.6 2020.7,1098.6 2021.2,1096.0 2021.7,1090.3 2022.2,1101.9 2022.7,1089.4 2023.2,1105.8 2023.7,1107.9 2024.2,1094.6 2024.7,1110.2 2025.2,1097.9 2025.7,1095.2 2026.2,1110.2 2026.7,1112.9 2027.2,1101.2 2027.7,1094.4 2028.2,1089.6 2028.7,1121.6 2029.2,1107.0 2029.7,1113.0 2030.2,1120.3 2030.7,1104.3 2031.2,1097.3 2031.7,1109.0 2032.2,1108.8 2032.7,1108.7 2033.2,1101.6 2033.7,1102.1 2034.2,1079.7 2034.7,1087.8 2035.2,1079.5 2035.7,1072.9 2036.2,1076.2 2036.7,1070.8 2037.2,1073.1 2037.7,1083.7 2038.2,1100.1 2038.7,1104.8 2039.2,1108.7 2039.7,1109.6 2040.2,1123.6 2040.7,1130.1 2041.2,1105.3 2041.7,1116.3 2042.2,1120.5 2042.7,1117.4 2043.2,1112.1 2043.7,1120.2 2044.2,1116.1 2044.7,1115.3 2045.2,1125.3 2045.7,1131.0 2046.2,1124.4 2046.7,1128.0 2047.2,1113.3 2047.7,1121.4 2048.2,1113.4 2048.7,1107.7 2049.2,1100.8 2049.7,1099.6 2050.2,1075.8 2050.7,1076.4 2051.2,1091.5 2051.7,1081.6 2052.2,1086.0 2052.7,1109.5 2053.2,1098.0 2053.7,1104.1 2054.2,1128.4 2054.7,1120.0 2055.2,1123.9 2055.7,1132.2 2056.2,1127.3 2056.7,1122.5 2057.2,1124.0 2057.7,1129.6 2058.2,1111.7 2058.7,1124.2 2059.2,1113.8 2059.7,1121.2 2060.2,1114.3 2060.7,1135.1 2061.2,1119.9 2061.7,1129.5 2062.2,1121.1 2062.7,1119.9 2063.2,1119.6 2063.7,1107.6 2064.2,1128.2 2064.7,1129.0 2065.2,1121.3 2065.7,1121.6 2066.2,1119.6 2066.7,1122.3 2067.2,1117.6 2067.7,1119.7 2068.2,1107.9 2068.7,1113.6 2069.2,1108.5 2069.7,1114.8 2070.2,1114.3 2070.7,1107.9 2071.2,1121.0 2071.7,1106.5 2072.2,1104.6 2072.7,1104.9 2073.2,1111.2 2073.7,1102.3 2074.2,1100.6 2074.7,1102.3 2075.2,1081.2 2075.7,1065.4 2076.2,1066.6 2076.7,1059.3 2077.2,1057.2 2077.7,1046.6 2078.2,1031.1 2078.7,1030.3 2079.2,1041.6 2079.7,1035.8 2080.2,1069.7 2080.7,1062.3 2081.2,1074.6 2081.7,1074.6 2082.2,1083.4 2082.7,1089.5 2083.2,1092.4 2083.7,1102.8 2084.2,1101.4 2084.7,1100.3 2085.2,1089.2 2085.7,1088.2 2086.2,1075.1 2086.7,1070.4 2087.2,1048.1 2087.7,1060.5 2088.2,1026.3 2088.7,1015.6 2089.2,1007.9 2089.7,1008.9 2090.2,1008.5 2090.7,1036.7 2091.2,1049.9 2091.7,1073.6 2092.2,1067.9 2092.7,1086.5 2093.2,1095.7 2093.7,1098.5 2094.2,1105.8 2094.7,1094.3 2095.2,1114.4 2095.7,1106.9 2096.2,1100.4 2096.7,1104.3 2097.2,1107.6 2097.7,1092.3 2098.2,1103.2 2098.7,1106.2 2099.2,1090.0 2099.7,1078.2 2100.2,1075.3 2100.7,1098.6 2101.2,1104.3 2101.7,1095.0 2102.2,1108.7 2102.7,1113.5 2103.2,1116.7 2103.7,1109.0 2104.2,1115.7 2104.7,1115.7 2105.2,1122.2 2105.7,1131.2 2106.2,1118.3 2106.7,1127.0 2107.2,1123.1 2107.7,1125.1 2108.2,1115.9 2108.7,1127.0 2109.2,1130.1 2109.7,1118.3 2110.2,1134.2 2110.7,1119.7 2111.2,1136.9 2111.7,1115.9 2112.2,1129.1 2112.7,1134.7 2113.2,1128.0 2113.7,1133.0 2114.2,1128.2 2114.7,1114.6 2115.2,1131.4 2115.7,1126.9 2116.2,1132.9 2116.7,1118.9 2117.2,1115.4 2117.7,1128.0 2118.2,1120.5 2118.7,1132.5 2119.2,1125.3 2119.7,1132.2 2120.2,1119.0 2120.7,1118.3 2121.2,1132.9 2121.7,1106.6 2122.2,1116.7 2122.7,1119.2 2123.2,1109.3 2123.7,1096.7 2124.2,1110.4 2124.7,1097.2 2125.2,1096.6 2125.7,1093.7 2126.2,1102.0 2126.7,1088.2 2127.2,1098.5 2127.7,1119.7 2128.2,1110.1 2128.7,1126.5 2129.2,1116.9 2129.7,1112.2 2130.2,1119.5 2130.7,1123.0 2131.2,1126.7 2131.7,1124.8 2132.2,1124.4 2132.7,1126.9 2133.2,1134.2 2133.7,1120.6 2134.2,1118.8 2134.7,1133.1 2135.2,1125.8 2135.7,1127.3 2136.2,1120.9 2136.7,1118.8 2137.2,1126.5 2137.7,1146.0 2138.2,1134.3 2138.7,1127.4 2139.2,1129.0 2139.7,1125.9 2140.2,1122.6 2140.7,1114.5 2141.2,1122.3 2141.7,1123.7 2142.2,1122.0 2142.7,1120.3 2143.2,1117.6 2143.7,1107.7 2144.2,1114.8 2144.7,1114.1 2145.2,1100.4 2145.7,1087.5 2146.2,1088.0 2146.7,1094.7 2147.2,1088.8 2147.7,1084.2 2148.2,1108.8 2148.7,1107.7 2149.2,1111.1 2149.7,1104.7 2150.2,1116.3 2150.7,1119.3 2151.2,1124.5 2151.7,1119.1 2152.2,1121.0 2152.7,1133.3 2153.2,1137.5 2153.7,1124.9 2154.2,1136.0 2154.7,1122.8 2155.2,1124.2 2155.7,1129.7 2156.2,1128.6 2156.7,1117.0 2157.2,1127.4 2157.7,1127.8 2158.2,1135.8 2158.7,1119.6 2159.2,1121.5 2159.7,1133.4 2160.2,1131.2 2160.7,1125.2 2161.2,1123.5 2161.7,1127.7 2162.2,1125.4 2162.7,1126.7 2163.2,1122.2 2163.7,1118.4 2164.2,1121.7 2164.7,1127.4 2165.2,1115.7 2165.7,1125.2 2166.2,1117.0 2166.7,1118.9 2167.2,1132.0 2167.7,1112.7 2168.2,1129.5 2168.7,1125.7 2169.2,1122.4 2169.7,1124.1 2170.2,1120.0 2170.7,1105.2 2171.2,1108.2 2171.7,1103.8 2172.2,1095.2 2172.7,1093.1 2173.2,1099.7 2173.7,1099.9 2174.2,1098.9 2174.7,1119.3 2175.2,1114.7 2175.7,1129.0 2176.2,1114.4 2176.7,1112.5 2177.2,1113.7 2177.7,1124.0 2178.2,1119.1 2178.7,1131.4 2179.2,1124.9 2179.7,1132.3 2180.2,1129.3 2180.7,1128.4 2181.2,1122.0 2181.7,1108.8 2182.2,1130.0 2182.7,1129.1 2183.2,1122.3 2183.7,1118.0 2184.2,1104.2 2184.7,1115.9 2185.2,1100.7 2185.7,1116.4 2186.2,1092.3 2186.7,1083.5 2187.2,1073.2 2187.7,1063.1 2188.2,1066.6 2188.7,1079.3 2189.2,1082.5 2189.7,1090.4 2190.2,1108.7 2190.7,1103.3 2191.2,1125.4 2191.7,1119.3 2192.2,1120.9 2192.7,1116.1 2193.2,1122.8 2193.7,1116.5 2194.2,1115.9 2194.7,1112.7 2195.2,1116.6 2195.7,1111.9 2196.2,1119.3 2196.7,1122.7 2197.2,1104.5 2197.7,1101.9 2198.2,1103.2 2198.7,1098.8 2199.2,1106.5 2199.7,1089.4 2200.2,1090.0 2200.7,1091.5 2201.2,1097.7 2201.7,1111.1 2202.2,1096.5 2202.7,1110.4 2203.2,1107.4 2203.7,1115.7 2204.2,1108.7 2204.7,1109.0 2205.2,1107.7 2205.7,1119.0 2206.2,1115.6 2206.7,1112.9 2207.2,1112.3 2207.7,1110.6 2208.2,1115.5 2208.7,1119.3 2209.2,1111.8 2209.7,1106.9 2210.2,1122.3 2210.7,1105.5 2211.2,1098.0 2211.7,1098.4 2212.2,1090.1 2212.7,1092.0 2213.2,1101.7 2213.7,1094.4 2214.2,1095.8 2214.7,1095.4 2215.2,1072.7 2215.7,1084.5 2216.2,1070.3 2216.7,1057.1 2217.2,1018.3 2217.7,1016.0 2218.2,1001.5 2218.7,980.2 2219.2,982.0 2219.7,991.2 2220.2,1011.8 2220.7,1037.1 2221.2,1039.3 2221.7,1062.2 2222.2,1065.6 2222.7,1082.3 2223.2,1071.8 2223.7,1077.8 2224.2,1089.0 2224.7,1078.0 2225.2,1101.1 2225.7,1096.6 2226.2,1085.6 2226.7,1096.0 2227.2,1107.4 2227.7,1096.9 2228.2,1103.9 2228.7,1103.9 2229.2,1096.0 2229.7,1111.5 2230.2,1107.2 2230.7,1100.6 2231.2,1092.8 2231.7,1103.6 2232.2,1107.4 2232.7,1104.5 2233.2,1100.6 2233.7,1096.0 2234.2,1103.3 2234.7,1083.3 2235.2,1071.0 2235.7,1060.9 2236.2,1042.6 2236.7,1045.6 2237.2,1046.3 2237.7,1044.5 2238.2,1057.9 2238.7,1075.2 2239.2,1072.0 2239.7,1085.2 2240.2,1088.6 2240.7,1107.5 2241.2,1098.4 2241.7,1106.0 2242.2,1114.0 2242.7,1105.9 2243.2,1113.1 2243.7,1119.0 2244.2,1121.0 2244.7,1123.1 2245.2,1125.0 2245.7,1131.5 2246.2,1119.0 2246.7,1115.2 2247.2,1115.8 2247.7,1118.9 2248.2,1119.6 2248.7,1130.6 2249.2,1122.3 2249.7,1109.7 2250.2,1118.5 2250.7,1122.1 2251.2,1112.5 2251.7,1132.8 2252.2,1112.4 2252.7,1120.7 2253.2,1120.7 2253.7,1121.8 2254.2,1110.0 2254.7,1127.2 2255.2,1114.2 2255.7,1108.9 2256.2,1117.1 2256.7,1119.8 2257.2,1104.6 2257.7,1120.4 2258.2,1097.5 2258.7,1104.4 2259.2,1084.8 2259.7,1077.4 2260.2,1059.9 2260.7,1031.2 2261.2,1015.0 2261.7,979.1 2262.2,976.9 2262.7,966.9 2263.2,999.0 2263.7,1007.4 2264.2,1017.9 2264.7,1039.3 2265.2,1071.1 2265.7,1083.7 2266.2,1091.2 2266.7,1092.1 2267.2,1100.9 2267.7,1116.3 2268.2,1118.9 2268.7,1104.9 2269.2,1107.1 2269.7,1110.5 2270.2,1120.3 2270.7,1114.9 2271.2,1105.8 2271.7,1110.0 2272.2,1093.8 2272.7,1098.9 2273.2,1082.0 2273.7,1072.0 2274.2,1062.9 2274.7,1075.2 2275.2,1072.5 2275.7,1087.8 2276.2,1087.1 2276.7,1099.5 2277.2,1109.3 2277.7,1120.3 2278.2,1111.8 2278.7,1117.2 2279.2,1120.2 2279.7,1119.4 2280.2,1126.6 2280.7,1119.6 2281.2,1118.2 2281.7,1113.5 2282.2,1112.6 2282.7,1115.7 2283.2,1110.7 2283.7,1103.4 2284.2,1105.5 2284.7,1105.0 2285.2,1121.3 2285.7,1103.0 2286.2,1100.4 2286.7,1097.2 2287.2,1083.2 2287.7,1078.0 2288.2,1073.3 2288.7,1065.7 2289.2,1068.0 2289.7,1044.8 2290.2,1035.8 2290.7,1038.2 2291.2,1044.4 2291.7,1024.1 2292.2,1044.4 2292.7,1042.4 2293.2,1059.7 2293.7,1056.7 2294.2,1071.4 2294.7,1060.2 2295.2,1074.2 2295.7,1076.3 2296.2,1063.3 2296.7,1052.8 2297.2,1061.6 2297.7,1039.2 2298.2,1020.6 2298.7,1016.0 2299.2,996.7 2299.7,978.5 2300.2,971.8 2300.7,956.7 2301.2,956.8 2301.7,956.0 2302.2,960.2 2302.7,943.4 2303.2,944.8 2303.7,920.0 2304.2,892.6 2304.7,838.6 2305.2,777.1 2305.7,717.2 2306.2,667.2 2306.7,632.1 2307.2,631.0 2307.7,665.5 2308.2,744.5 2308.7,810.4 2309.2,873.5 2309.7,923.5 2310.2,978.4 2310.7,991.2 2311.2,1015.1 2311.7,1027.1 2312.2,1040.9 2312.7,1055.2 2313.2,1056.7 2313.7,1047.0 2314.2,1051.0 2314.7,1035.8 2315.2,1033.9 2315.7,1009.3 2316.2,1020.7 2316.7,1016.3 2317.2,1013.7 2317.7,1033.8 2318.2,1030.8 2318.7,1059.0 2319.2,1057.5 2319.7,1072.1 2320.2,1083.1 2320.7,1084.3 2321.2,1094.7 2321.7,1095.8 2322.2,1097.3 2322.7,1100.5 2323.2,1101.1 2323.7,1107.6 2324.2,1114.6 2324.7,1118.7 2325.2,1108.3 2325.7,1110.6 2326.2,1118.8 2326.7,1095.2 2327.2,1091.2 2327.7,1080.9 2328.2,1075.4 2328.7,1059.1 2329.2,1029.4 2329.7,1000.7 2330.2,977.3 2330.7,948.4 2331.2,943.5 2331.7,948.4 2332.2,978.9 2332.7,997.2 2333.2,1026.0 2333.7,1058.0 2334.2,1066.3 2334.7,1085.4 2335.2,1093.3 2335.7,1098.6 2336.2,1111.0 2336.7,1115.6 2337.2,1122.8 2337.7,1109.2 2338.2,1119.9 2338.7,1119.9 2339.2,1118.1 2339.7,1111.7 2340.2,1117.7 2340.7,1126.0 2341.2,1114.5 2341.7,1117.3 2342.2,1118.5 2342.7,1120.9 2343.2,1121.8 2343.7,1110.5 2344.2,1109.5 2344.7,1122.1 2345.2,1120.3 2345.7,1128.4 2346.2,1123.1 2346.7,1123.0 2347.2,1109.3 2347.7,1103.8 2348.2,1118.8 2348.7,1107.2 2349.2,1113.2 2349.7,1113.1 2350.2,1106.7 2350.7,1117.3 2351.2,1101.6 2351.7,1098.6 2352.2,1095.9 2352.7,1090.9 2353.2,1079.4 2353.7,1075.8 2354.2,1084.5 2354.7,1071.3 2355.2,1085.6 2355.7,1084.7 2356.2,1093.5 2356.7,1090.3 2357.2,1102.6 2357.7,1105.3 2358.2,1116.2 2358.7,1110.2 2359.2,1117.4 2359.7,1104.0 2360.2,1109.3 2360.7,1112.6 2361.2,1108.7 2361.7,1102.7 2362.2,1109.2 2362.7,1107.2 2363.2,1112.7 2363.7,1115.5 2364.2,1103.9 2364.7,1114.0 2365.2,1105.0 2365.7,1093.5 2366.2,1112.7 2366.7,1112.4 2367.2,1104.1 2367.7,1115.0 2368.2,1105.3 2368.7,1095.8 2369.2,1093.9 2369.7,1087.7 2370.2,1103.0 2370.7,1105.0 2371.2,1090.7 2371.7,1091.7 2372.2,1082.6 2372.7,1083.2 2373.2,1063.9 2373.7,1069.1 2374.2,1049.1 2374.7,1041.7 2375.2,1044.4 2375.7,1026.5 2376.2,1020.5 2376.7,1012.2 2377.2,1037.5 2377.7,1020.2 2378.2,1031.2 2378.7,1035.4 2379.2,1064.4 2379.7,1057.4 2380.2,1066.5 2380.7,1076.7 2381.2,1073.7 2381.7,1087.9 2382.2,1078.4 2382.7,1082.1 2383.2,1089.3 2383.7,1099.2 2384.2,1092.0 2384.7,1085.7 2385.2,1092.8 2385.7,1097.7 2386.2,1092.5 2386.7,1100.6 2387.2,1097.4 2387.7,1090.1 2388.2,1100.5 2388.7,1080.2 2389.2,1075.3 2389.7,1077.9 2390.2,1067.0 2390.7,1059.7 2391.2,1046.0 2391.7,1038.9 2392.2,1038.0 2392.7,1034.4 2393.2,1032.0 2393.7,1049.9 2394.2,1041.8 2394.7,1059.1 2395.2,1076.4 2395.7,1073.4 2396.2,1072.9 2396.7,1088.6 2397.2,1085.0 2397.7,1097.9 2398.2,1091.9 2398.7,1102.3 2399.2,1102.0 2399.7,1093.6 2400.2,1088.6 2400.7,1091.6 2401.2,1089.1 2401.7,1090.9 2402.2,1073.7 2402.7,1057.7 2403.2,1016.4 2403.7,984.0 2404.2,952.0 2404.7,870.7 2405.2,830.3 2405.7,795.2 2406.2,803.4 2406.7,853.3 2407.2,924.1 2407.7,977.6 2408.2,1015.8 2408.7,1055.1 2409.2,1074.1 2409.7,1092.6 2410.2,1094.1 2410.7,1107.4 2411.2,1101.4 2411.7,1108.3 2412.2,1112.4 2412.7,1114.7 2413.2,1117.3 2413.7,1117.0 2414.2,1118.8 2414.7,1119.4 2415.2,1124.2 2415.7,1111.8 2416.2,1123.1 2416.7,1121.9 2417.2,1133.8 2417.7,1123.7 2418.2,1137.6 2418.7,1132.6 2419.2,1118.4 2419.7,1128.5 2420.2,1135.6 2420.7,1122.6 2421.2,1116.0 2421.7,1125.5 2422.2,1125.5 2422.7,1128.3 2423.2,1121.9 2423.7,1127.6 2424.2,1139.9 2424.7,1131.2 2425.2,1129.1 2425.7,1123.4 2426.2,1123.4 2426.7,1124.6 2427.2,1125.1 2427.7,1125.3 2428.2,1128.7 2428.7,1135.2 2429.2,1132.3 2429.7,1120.5 2430.2,1126.8 2430.7,1129.5 2431.2,1127.4 2431.7,1124.5 2432.2,1137.2 2432.7,1119.2 2433.2,1130.1 2433.7,1126.5 2434.2,1126.9 2434.7,1134.0 2435.2,1118.8 2435.7,1127.0 2436.2,1128.3 2436.7,1123.6 2437.2,1128.2 2437.7,1122.8 2438.2,1117.6 2438.7,1116.4 2439.2,1115.3 2439.7,1107.1 2440.2,1088.6 2440.7,1089.4 2441.2,1073.9 2441.7,1082.6 2442.2,1082.3 2442.7,1085.3 2443.2,1103.7 2443.7,1106.6 2444.2,1115.8 2444.7,1115.7 2445.2,1129.3 2445.7,1125.7 2446.2,1130.9 2446.7,1123.5 2447.2,1130.4 2447.7,1126.2 2448.2,1127.0 2448.7,1126.2 2449.2,1131.8 2449.7,1135.6 2450.2,1127.4 2450.7,1130.1 2451.2,1129.1 2451.7,1135.5 2452.2,1121.7 2452.7,1117.5 2453.2,1127.5 2453.7,1141.7 2454.2,1134.8 2454.7,1126.9 2455.2,1137.2 2455.7,1133.7 2456.2,1125.9 2456.7,1135.8 2457.2,1129.4 2457.7,1124.5 2458.2,1134.1 2458.7,1126.7 2459.2,1126.4 2459.7,1133.8 2460.2,1133.4 2460.7,1132.0 2461.2,1129.1 2461.7,1136.6 2462.2,1126.2 2462.7,1125.4 2463.2,1137.3 2463.7,1135.0 2464.2,1118.6 2464.7,1133.5 2465.2,1131.6 2465.7,1127.0 2466.2,1131.5 2466.7,1124.9 2467.2,1106.5 2467.7,1115.9 2468.2,1110.6 2468.7,1110.4 2469.2,1120.9 2469.7,1111.9 2470.2,1118.4 2470.7,1117.7 2471.2,1119.5 2471.7,1119.4 2472.2,1128.9 2472.7,1140.0 2473.2,1128.5 2473.7,1136.6 2474.2,1134.2 2474.7,1130.3 2475.2,1124.1 2475.7,1142.9 2476.2,1137.1 2476.7,1131.0 2477.2,1137.0 2477.7,1129.2 2478.2,1134.0 2478.7,1123.8 2479.2,1134.4 2479.7,1130.2 2480.2,1131.0 2480.7,1132.1 2481.2,1133.6 2481.7,1127.1 2482.2,1126.4 2482.7,1132.5 2483.2,1127.9 2483.7,1127.9 2484.2,1131.1 2484.7,1127.8 2485.2,1122.8 2485.7,1129.9 2486.2,1123.7 2486.7,1120.8 2487.2,1125.5 2487.7,1125.1 2488.2,1126.8 2488.7,1116.2 2489.2,1128.2 2489.7,1119.0 2490.2,1119.9 2490.7,1132.6 2491.2,1125.4 2491.7,1123.3 2492.2,1130.6 2492.7,1133.5 2493.2,1124.4 2493.7,1129.3 2494.2,1134.4 2494.7,1119.5 2495.2,1124.0 2495.7,1126.4 2496.2,1128.9 2496.7,1133.8 2497.2,1131.8 2497.7,1137.7 2498.2,1138.5 2498.7,1130.6 2499.2,1132.6 2499.7,1127.8 2500.2,1136.4 2500.7,1136.7 2501.2,1136.2 2501.7,1133.8 2502.2,1132.4 2502.7,1129.9 2503.2,1130.7 2503.7,1123.2 2504.2,1134.0 2504.7,1132.1 2505.2,1126.1 2505.7,1134.6 2506.2,1122.7 2506.7,1135.3 2507.2,1132.7 2507.7,1125.1 2508.2,1139.7 2508.7,1127.8 2509.2,1122.6 2509.7,1126.7 2510.2,1133.7 2510.7,1129.1 2511.2,1117.4 2511.7,1127.6 2512.2,1127.4 2512.7,1127.5 2513.2,1128.9 2513.7,1129.1 2514.2,1131.6 2514.7,1121.9 2515.2,1117.3 2515.7,1127.0 2516.2,1120.5 2516.7,1113.7 2517.2,1125.9 2517.7,1120.2 2518.2,1117.1 2518.7,1111.2 2519.2,1122.9 2519.7,1109.5 2520.2,1107.8 2520.7,1107.5 2521.2,1111.3 2521.7,1101.0 2522.2,1102.1 2522.7,1116.0 2523.2,1097.1 2523.7,1100.8 2524.2,1105.7 2524.7,1104.3 2525.2,1110.3 2525.7,1098.4 2526.2,1104.7 2526.7,1104.2 2527.2,1104.9 2527.7,1117.6 2528.2,1102.0 2528.7,1109.3 2529.2,1113.6 2529.7,1111.4 2530.2,1121.8 2530.7,1114.0 2531.2,1131.5 2531.7,1127.7 2532.2,1129.4 2532.7,1128.0 2533.2,1122.5 2533.7,1119.6 2534.2,1121.1 2534.7,1126.0 2535.2,1120.9 2535.7,1127.9 2536.2,1136.9 2536.7,1121.2 2537.2,1116.6 2537.7,1132.7 2538.2,1128.2 2538.7,1123.6 2539.2,1124.4 2539.7,1131.0 2540.2,1128.9 2540.7,1121.9 2541.2,1119.2 2541.7,1135.0 2542.2,1127.3 2542.7,1125.6 2543.2,1114.2 2543.7,1106.3 2544.2,1106.0 2544.7,1093.5 2545.2,1072.9 2545.7,1071.4 2546.2,1062.5 2546.7,1056.1 2547.2,1055.7 2547.7,1075.4 2548.2,1102.4 2548.7,1101.7 2549.2,1111.2 2549.7,1115.8 2550.2,1116.6 2550.7,1120.7 2551.2,1122.4 2551.7,1118.8 2552.2,1128.8 2552.7,1130.2 2553.2,1126.5 2553.7,1122.5 2554.2,1119.2 2554.7,1139.1 2555.2,1128.7 2555.7,1128.0 2556.2,1136.5 2556.7,1132.7 2557.2,1130.4 2557.7,1138.7 2558.2,1138.6 2558.7,1128.0 2559.2,1129.6 2559.7,1132.8 2560.2,1132.6 2560.7,1131.0 2561.2,1128.5 2561.7,1126.1 2562.2,1134.3 2562.7,1130.0 2563.2,1126.3 2563.7,1133.5 2564.2,1132.1 2564.7,1126.3 2565.2,1127.1 2565.7,1127.9 2566.2,1126.7 2566.7,1123.3 2567.2,1123.3 2567.7,1127.4 2568.2,1132.9 2568.7,1114.0 2569.2,1130.8 2569.7,1116.6 2570.2,1115.5 2570.7,1105.4 2571.2,1098.9 2571.7,1103.2 2572.2,1105.1 2572.7,1091.6 2573.2,1089.4 2573.7,1099.0 2574.2,1106.2 2574.7,1105.1 2575.2,1115.1 2575.7,1111.1 2576.2,1130.2 2576.7,1124.4 2577.2,1124.1 2577.7,1120.6 2578.2,1125.1 2578.7,1116.8 2579.2,1120.7 2579.7,1126.4 2580.2,1118.6 2580.7,1126.3 2581.2,1126.0 2581.7,1125.7 2582.2,1124.3 2582.7,1112.9 2583.2,1118.9 2583.7,1118.7 2584.2,1110.3 2584.7,1118.3 2585.2,1107.5 2585.7,1115.9 2586.2,1106.8 2586.7,1106.6 2587.2,1095.3 2587.7,1091.0 2588.2,1088.7 2588.7,1083.2 2589.2,1085.6 2589.7,1060.6 2590.2,1047.8 2590.7,1038.5 2591.2,1016.8 2591.7,992.5 2592.2,981.9 2592.7,961.8 2593.2,940.9 2593.7,940.7 2594.2,939.1 2594.7,955.2 2595.2,983.4 2595.7,1002.4 2596.2,1017.0 2596.7,1039.5 2597.2,1047.8 2597.7,1060.3 2598.2,1074.5 2598.7,1086.5 2599.2,1088.2 2599.7,1094.3 2600.2,1097.6 2600.7,1099.2 2601.2,1108.2 2601.7,1106.8 2602.2,1110.0 2602.7,1112.8 2603.2,1120.3 2603.7,1108.9 2604.2,1120.3 2604.7,1126.3 2605.2,1122.0 2605.7,1117.2 2606.2,1135.5 2606.7,1122.5 2607.2,1119.8 2607.7,1131.8 2608.2,1122.9 2608.7,1128.6 2609.2,1128.0 2609.7,1124.4 2610.2,1119.7 2610.7,1125.8 2611.2,1116.7 2611.7,1125.8 2612.2,1123.0 2612.7,1125.2 2613.2,1125.9 2613.7,1133.0 2614.2,1123.2 2614.7,1125.3 2615.2,1126.2 2615.7,1112.9 2616.2,1122.1 2616.7,1118.2 2617.2,1115.1 2617.7,1113.8 2618.2,1100.2 2618.7,1088.5 2619.2,1091.5 2619.7,1075.4 2620.2,1072.8 2620.7,1063.3 2621.2,1062.0 2621.7,1058.7 2622.2,1069.3 2622.7,1080.0 2623.2,1095.6 2623.7,1088.3 2624.2,1105.0 2624.7,1116.2 2625.2,1117.6 2625.7,1119.7 2626.2,1121.4 2626.7,1122.0 2627.2,1126.7 2627.7,1118.5 2628.2,1116.2 2628.7,1112.6 2629.2,1124.5 2629.7,1118.7 2630.2,1093.4 2630.7,1092.3 2631.2,1089.6 2631.7,1090.5 2632.2,1082.6 2632.7,1069.9 2633.2,1082.9 2633.7,1093.9 2634.2,1097.9 2634.7,1101.4 2635.2,1119.3 2635.7,1116.0 2636.2,1127.2 2636.7,1127.4 2637.2,1122.9 2637.7,1125.5 2638.2,1130.3 2638.7,1131.8 2639.2,1128.8 2639.7,1135.8 2640.2,1139.0 2640.7,1122.1 2641.2,1127.6 2641.7,1130.9 2642.2,1131.6 2642.7,1126.5 2643.2,1136.8 2643.7,1128.4 2644.2,1134.1 2644.7,1138.4 2645.2,1128.3 2645.7,1134.6 2646.2,1133.4 2646.7,1130.1 2647.2,1132.0 2647.7,1127.1 2648.2,1132.5 2648.7,1130.1 2649.2,1125.2 2649.7,1127.1 2650.2,1136.7 2650.7,1130.0 2651.2,1132.9 2651.7,1129.8 2652.2,1134.0 2652.7,1137.5 2653.2,1129.4 2653.7,1126.6 2654.2,1132.9 2654.7,1126.1 2655.2,1130.4 2655.7,1129.5 2656.2,1125.3 2656.7,1130.5 2657.2,1124.4 2657.7,1123.4 2658.2,1125.6 2658.7,1122.3 2659.2,1125.7 2659.7,1117.1 2660.2,1117.3 2660.7,1121.1 2661.2,1111.1 2661.7,1114.3 2662.2,1102.9 2662.7,1105.9 2663.2,1104.2 2663.7,1112.6 2664.2,1107.8 2664.7,1113.6 2665.2,1115.4 2665.7,1119.3 2666.2,1114.7 2666.7,1120.4 2667.2,1119.6 2667.7,1130.4 2668.2,1121.7 2668.7,1129.8 2669.2,1129.9 2669.7,1127.4 2670.2,1118.5 2670.7,1123.9 2671.2,1132.5 2671.7,1125.5 2672.2,1128.9 2672.7,1118.3 2673.2,1129.6 2673.7,1123.7 2674.2,1126.1 2674.7,1129.7 2675.2,1122.7 2675.7,1118.7 2676.2,1118.6 2676.7,1119.5 2677.2,1116.5 2677.7,1102.2 2678.2,1098.8 2678.7,1079.2 2679.2,1065.4 2679.7,1059.6 2680.2,1057.2 2680.7,1077.5 2681.2,1080.6 2681.7,1098.4 2682.2,1109.1 2682.7,1113.5 2683.2,1120.7 2683.7,1128.3 2684.2,1129.5 2684.7,1121.9 2685.2,1123.0 2685.7,1129.8 2686.2,1124.9 2686.7,1129.0 2687.2,1127.7 2687.7,1130.5 2688.2,1124.4 2688.7,1129.9 2689.2,1128.8 2689.7,1127.0 2690.2,1128.8 2690.7,1129.7 2691.2,1135.1 2691.7,1128.8 2692.2,1133.0 2692.7,1138.8 2693.2,1134.1 2693.7,1132.0 2694.2,1129.8 2694.7,1128.7 2695.2,1126.3 2695.7,1119.2 2696.2,1129.0 2696.7,1129.3 2697.2,1132.5 2697.7,1133.6 2698.2,1133.5 2698.7,1133.6 2699.2,1139.5 2699.7,1135.1 2700.2,1125.1 2700.7,1124.5 2701.2,1135.5 2701.7,1127.4 2702.2,1128.7 2702.7,1137.6 2703.2,1126.3 2703.7,1125.5 2704.2,1123.0 2704.7,1137.3 2705.2,1124.5 2705.7,1124.5 2706.2,1132.6 2706.7,1132.2 2707.2,1127.6 2707.7,1134.1 2708.2,1139.2 2708.7,1126.0 2709.2,1134.0 2709.7,1120.3 2710.2,1142.4 2710.7,1129.2 2711.2,1124.5 2711.7,1129.6 2712.2,1129.2 2712.7,1133.2 2713.2,1129.4 2713.7,1131.5 2714.2,1136.3 2714.7,1133.3 2715.2,1126.4 2715.7,1129.0 2716.2,1141.3 2716.7,1141.0 2717.2,1126.2 2717.7,1127.4 2718.2,1133.1 2718.7,1130.9 2719.2,1129.5 2719.7,1120.6 2720.2,1117.9 2720.7,1124.1 2721.2,1131.7 2721.7,1116.0 2722.2,1131.9 2722.7,1120.7 2723.2,1117.5 2723.7,1122.9 2724.2,1128.2 2724.7,1125.5 2725.2,1126.1 2725.7,1120.9 2726.2,1123.6 2726.7,1119.2 2727.2,1120.1 2727.7,1129.9 2728.2,1125.3 2728.7,1130.9 2729.2,1133.7 2729.7,1127.9 2730.2,1127.7 2730.7,1129.1 2731.2,1123.1 2731.7,1123.8 2732.2,1131.1 2732.7,1136.3 2733.2,1123.3 2733.7,1125.8 2734.2,1128.4 2734.7,1133.8 2735.2,1133.4 2735.7,1136.7 2736.2,1136.3 2736.7,1135.9 2737.2,1132.0 2737.7,1129.4 2738.2,1133.0 2738.7,1134.4 2739.2,1136.9 2739.7,1133.7 2740.2,1131.6 2740.7,1129.5 2741.2,1131.3 2741.7,1131.0 2742.2,1129.0 2742.7,1131.2 2743.2,1135.4 2743.7,1131.4 2744.2,1125.5 2744.7,1133.7 2745.2,1127.8 2745.7,1133.2 2746.2,1135.9 2746.7,1127.4 2747.2,1136.9 2747.7,1126.3 2748.2,1139.5 2748.7,1136.1 2749.2,1127.3 2749.7,1138.6 2750.2,1134.5 2750.7,1137.6 2751.2,1126.4 2751.7,1139.2 2752.2,1131.3 2752.7,1140.5 2753.2,1136.3 2753.7,1134.4 2754.2,1137.6 2754.7,1132.8 2755.2,1137.3 2755.7,1124.8 2756.2,1133.2 2756.7,1132.9 2757.2,1132.3 2757.7,1132.0 2758.2,1134.2 2758.7,1131.8 2759.2,1124.8 2759.7,1132.2 2760.2,1136.5 2760.7,1132.1 2761.2,1130.9 2761.7,1131.2 2762.2,1134.9 2762.7,1136.3 2763.2,1129.2 2763.7,1122.1 2764.2,1130.5 2764.7,1140.6 2765.2,1128.5 2765.7,1130.6 2766.2,1131.7 2766.7,1129.9 2767.2,1130.9 2767.7,1131.0 2768.2,1129.9 2768.7,1133.0 2769.2,1131.3 2769.7,1134.9 2770.2,1135.3 2770.7,1126.8 2771.2,1131.4 2771.7,1136.7 2772.2,1130.4 2772.7,1131.7 2773.2,1131.2 2773.7,1136.0 2774.2,1129.8 2774.7,1139.8 2775.2,1128.5 2775.7,1136.2 2776.2,1125.7 2776.7,1135.5 2777.2,1131.7 2777.7,1140.2 2778.2,1133.2 2778.7,1135.0 2779.2,1136.2 2779.7,1130.0 2780.2,1134.3 2780.7,1140.0 2781.2,1131.4 2781.7,1128.3 2782.2,1141.3 2782.7,1128.8 2783.2,1132.4 2783.7,1140.6 2784.2,1128.0 2784.7,1131.3 2785.2,1134.4 2785.7,1129.9 2786.2,1136.4 2786.7,1124.9 2787.2,1126.7 2787.7,1134.2 2788.2,1136.9 2788.7,1139.8 2789.2,1128.7 2789.7,1132.6 2790.2,1131.7 2790.7,1130.4 2791.2,1138.5 2791.7,1132.2 2792.2,1124.3 2792.7,1114.2 2793.2,1118.6 2793.7,1114.3 2794.2,1112.3 2794.7,1104.0 2795.2,1093.1 2795.7,1085.0 2796.2,1071.9 2796.7,1060.1 2797.2,1071.5 2797.7,1072.6 2798.2,1088.6 2798.7,1096.6 2799.2,1107.6 2799.7,1110.7 2800.2,1115.4 2800.7,1125.3 2801.2,1121.8 2801.7,1126.4 2802.2,1129.3 2802.7,1135.1 2803.2,1125.3 2803.7,1136.9 2804.2,1136.1 2804.7,1134.6 2805.2,1123.5 2805.7,1126.7 2806.2,1135.9 2806.7,1127.1 2807.2,1136.2 2807.7,1121.3 2808.2,1130.9 2808.7,1132.6 2809.2,1129.5 2809.7,1127.6 2810.2,1128.9 2810.7,1123.4 2811.2,1126.9 2811.7,1122.6 2812.2,1121.6 2812.7,1117.4 2813.2,1115.9 2813.7,1115.1 2814.2,1110.1 2814.7,1103.9 2815.2,1101.0 2815.7,1103.2 2816.2,1104.7 2816.7,1102.9 2817.2,1093.6 2817.7,1102.7 2818.2,1096.6 2818.7,1104.3 2819.2,1114.5 2819.7,1109.9 2820.2,1114.8 2820.7,1114.2 2821.2,1113.1 2821.7,1112.0 2822.2,1103.5 2822.7,1095.0 2823.2,1094.6 2823.7,1083.1 2824.2,1070.8 2824.7,1058.4 2825.2,1045.8 2825.7,1034.4 2826.2,1033.4 2826.7,1045.1 2827.2,1071.3 2827.7,1082.0 2828.2,1090.3 2828.7,1105.1 2829.2,1104.8 2829.7,1113.1 2830.2,1123.5 2830.7,1123.8 2831.2,1137.2 2831.7,1127.5 2832.2,1136.0 2832.7,1130.3 2833.2,1128.2 2833.7,1126.1 2834.2,1130.3 2834.7,1130.1 2835.2,1127.7 2835.7,1130.2 2836.2,1127.0 2836.7,1136.7 2837.2,1139.0 2837.7,1136.5 2838.2,1133.4 2838.7,1144.2 2839.2,1134.7 2839.7,1138.5 2840.2,1132.1 2840.7,1132.9 2841.2,1139.7 2841.7,1131.8 2842.2,1137.1 2842.7,1137.5 2843.2,1128.6 2843.7,1138.2 2844.2,1134.0 2844.7,1145.9 2845.2,1136.1 2845.7,1134.2 2846.2,1130.8 2846.7,1133.1 2847.2,1141.1 2847.7,1137.1 2848.2,1135.8 2848.7,1138.7 2849.2,1133.1 2849.7,1140.5 2850.2,1134.4 2850.7,1140.6 2851.2,1136.4 2851.7,1136.8 2852.2,1135.9 2852.7,1131.2 2853.2,1137.3 2853.7,1142.5 2854.2,1134.2 2854.7,1133.2 2855.2,1140.8 2855.7,1137.6 2856.2,1131.9 2856.7,1134.3 2857.2,1140.7 2857.7,1143.6 2858.2,1140.2 2858.7,1132.4 2859.2,1136.0 2859.7,1138.7 2860.2,1136.8 2860.7,1132.0 2861.2,1134.5 2861.7,1141.9 2862.2,1131.6 2862.7,1135.6 2863.2,1138.7 2863.7,1122.5 2864.2,1130.3 2864.7,1132.2 2865.2,1137.0 2865.7,1118.9 2866.2,1136.4 2866.7,1132.7 2867.2,1133.2 2867.7,1128.5 2868.2,1128.0 2868.7,1128.8 2869.2,1130.6 2869.7,1123.9 2870.2,1119.6 2870.7,1134.5 2871.2,1125.4 2871.7,1130.9 2872.2,1129.8 2872.7,1136.5 2873.2,1142.6 2873.7,1135.0 2874.2,1141.4 2874.7,1132.7 2875.2,1132.9 2875.7,1139.9 2876.2,1136.3 2876.7,1127.2 2877.2,1135.6 2877.7,1137.6 2878.2,1138.2 2878.7,1144.3 2879.2,1131.3 2879.7,1136.0 2880.2,1143.6 2880.7,1135.1 2881.2,1134.4 2881.7,1132.2 2882.2,1135.4 2882.7,1131.4 2883.2,1137.0 2883.7,1129.2 2884.2,1140.1 2884.7,1135.4 2885.2,1139.2 2885.7,1143.8 2886.2,1139.7 2886.7,1143.8 2887.2,1130.6 2887.7,1133.3 2888.2,1132.9 2888.7,1137.7 2889.2,1133.7 2889.7,1137.3 2890.2,1134.7 2890.7,1137.0 2891.2,1133.5 2891.7,1139.2 2892.2,1137.6 2892.7,1131.7 2893.2,1142.9 2893.7,1129.8 2894.2,1136.9 2894.7,1139.6 2895.2,1145.2 2895.7,1144.5 2896.2,1131.8 2896.7,1138.2 2897.2,1143.3 2897.7,1142.7 2898.2,1138.0 2898.7,1137.5 2899.2,1146.7 2899.7,1132.4 2900.2,1133.6 2900.7,1142.4 2901.2,1138.7 2901.7,1135.4 2902.2,1138.5 2902.7,1142.8 2903.2,1138.1 2903.7,1133.8 2904.2,1143.1 2904.7,1134.5 2905.2,1136.3 2905.7,1133.1 2906.2,1138.2 2906.7,1135.2 2907.2,1132.2 2907.7,1136.6 2908.2,1133.4 2908.7,1139.3 2909.2,1135.0 2909.7,1147.8 2910.2,1143.3 2910.7,1136.7 2911.2,1146.9 2911.7,1140.7 2912.2,1133.0 2912.7,1135.7 2913.2,1134.7 2913.7,1142.9 2914.2,1134.7 2914.7,1139.1 2915.2,1140.7 2915.7,1138.5 2916.2,1146.7 2916.7,1140.5 2917.2,1133.9 2917.7,1143.6 2918.2,1136.1 2918.7,1138.6 2919.2,1139.2 2919.7,1130.7 2920.2,1135.0 2920.7,1141.0 2921.2,1135.2 2921.7,1136.0 2922.2,1133.4 2922.7,1149.7 2923.2,1137.6 2923.7,1131.4 2924.2,1137.7 2924.7,1137.8 2925.2,1140.8 2925.7,1143.9 2926.2,1135.8 2926.7,1141.7 2927.2,1144.0 2927.7,1133.3 2928.2,1136.0 2928.7,1133.9 2929.2,1143.9 2929.7,1140.6 2930.2,1141.7 2930.7,1138.5 2931.2,1138.0 2931.7,1143.6 2932.2,1137.5 2932.7,1137.9 2933.2,1134.5 2933.7,1140.7 2934.2,1141.9 2934.7,1146.4 2935.2,1130.5 2935.7,1140.2 2936.2,1136.2 2936.7,1135.2 2937.2,1137.9 2937.7,1140.6 2938.2,1132.6 2938.7,1140.0 2939.2,1143.0 2939.7,1133.3 2940.2,1143.2 2940.7,1136.1 2941.2,1142.1 2941.7,1137.0 2942.2,1143.9 2942.7,1139.1 2943.2,1143.1 2943.7,1132.9 2944.2,1137.5 2944.7,1144.6 2945.2,1138.8 2945.7,1144.1 2946.2,1133.2 2946.7,1133.4 2947.2,1136.9 2947.7,1134.2 2948.2,1137.7 2948.7,1134.4 2949.2,1134.4 2949.7,1143.6 2950.2,1140.3 2950.7,1133.6 2951.2,1146.6 2951.7,1135.7 2952.2,1138.2 2952.7,1139.0 2953.2,1138.0 2953.7,1140.0 2954.2,1141.0 2954.7,1141.4 2955.2,1136.5 2955.7,1134.1 2956.2,1137.1 2956.7,1134.0 2957.2,1122.4 2957.7,1124.3 2958.2,1120.3 2958.7,1121.6 2959.2,1116.2 2959.7,1113.8 2960.2,1125.5 2960.7,1126.8 2961.2,1136.1 2961.7,1130.9 2962.2,1139.3 2962.7,1139.9 2963.2,1138.8 2963.7,1143.9 2964.2,1140.0 2964.7,1137.9 2965.2,1136.7 2965.7,1143.2 2966.2,1138.8 2966.7,1138.9 2967.2,1143.0 2967.7,1140.5 2968.2,1135.7 2968.7,1136.2 2969.2,1138.9 2969.7,1150.9 2970.2,1144.7 2970.7,1136.8 2971.2,1146.4 2971.7,1137.8 2972.2,1141.5 2972.7,1135.4 2973.2,1138.1 2973.7,1137.4 2974.2,1141.2 2974.7,1138.1 2975.2,1143.4 2975.7,1141.4 2976.2,1140.3 2976.7,1133.9 2977.2,1135.4 2977.7,1134.9 2978.2,1127.2 2978.7,1127.4 2979.2,1125.3 2979.7,1128.6 2980.2,1129.3 2980.7,1123.3 2981.2,1127.9 2981.7,1134.5 2982.2,1136.3 2982.7,1130.7 2983.2,1136.2 2983.7,1139.5 2984.2,1136.7 2984.7,1137.7 2985.2,1138.8 2985.7,1143.7 2986.2,1139.3 2986.7,1145.5 2987.2,1140.2 2987.7,1141.3 2988.2,1142.9 2988.7,1141.7 2989.2,1147.8 2989.7,1150.0 2990.2,1141.4 2990.7,1143.1 2991.2,1147.3 2991.7,1143.8 2992.2,1143.2 2992.7,1146.4 2993.2,1141.7 2993.7,1141.4 2994.2,1145.8 2994.7,1138.6 2995.2,1138.3 2995.7,1136.7 2996.2,1141.4 2996.7,1141.3 2997.2,1141.7 2997.7,1145.1 2998.2,1142.6 2998.7,1143.0 2999.2,1144.0 2999.7,1143.4 3000.2,1138.6 3000.7,1140.3 3001.2,1139.7 3001.7,1145.2 3002.2,1143.0 3002.7,1141.4 3003.2,1138.8 3003.7,1140.8 3004.2,1140.5 3004.7,1137.9 3005.2,1141.9 3005.7,1144.4 3006.2,1145.3 3006.7,1140.9 3007.2,1144.8 3007.7,1140.1 3008.2,1143.4 3008.7,1138.8 3009.2,1144.2 3009.7,1142.6 3010.2,1136.8 3010.7,1140.6 3011.2,1139.6 3011.7,1142.9 3012.2,1140.2 3012.7,1141.8 3013.2,1142.6 3013.7,1141.0 3014.2,1136.8 3014.7,1132.6 3015.2,1144.8 3015.7,1139.3 3016.2,1133.8 3016.7,1138.9 3017.2,1143.6 3017.7,1136.5 3018.2,1131.7 3018.7,1130.0 3019.2,1138.1 3019.7,1131.2 3020.2,1137.4 3020.7,1128.6 3021.2,1123.2 3021.7,1122.8 3022.2,1112.2 3022.7,1118.3 3023.2,1115.6 3023.7,1118.9 3024.2,1111.3 3024.7,1115.5 3025.2,1122.9 3025.7,1115.2 3026.2,1117.8 3026.7,1123.2 3027.2,1128.7 3027.7,1127.4 3028.2,1139.5 3028.7,1136.5 3029.2,1133.0 3029.7,1139.2 3030.2,1140.6 3030.7,1135.5 3031.2,1144.0 3031.7,1140.7 3032.2,1141.4 3032.7,1138.4 3033.2,1143.4 3033.7,1141.6 3034.2,1144.8 3034.7,1139.9 3035.2,1139.5 3035.7,1136.6 3036.2,1137.3 3036.7,1142.1 3037.2,1139.2 3037.7,1139.9 3038.2,1141.1 3038.7,1141.4 3039.2,1141.8 3039.7,1139.5 3040.2,1138.9 3040.7,1139.9 3041.2,1143.3 3041.7,1147.5 3042.2,1144.0 3042.7,1140.9 3043.2,1139.7 3043.7,1141.2 3044.2,1143.7 3044.7,1142.0 3045.2,1145.3 3045.7,1142.0 3046.2,1145.5 3046.7,1149.6 3047.2,1141.0 3047.7,1142.1 3048.2,1148.4 3048.7,1145.7 3049.2,1144.1 3049.7,1150.2 3050.2,1144.6 3050.7,1144.9 3051.2,1143.1 3051.7,1143.9 3052.2,1152.7 3052.7,1147.6 3053.2,1144.6 3053.7,1144.8 3054.2,1147.1 3054.7,1148.3 3055.2,1148.4 3055.7,1147.1 3056.2,1144.7 3056.7,1142.5 3057.2,1143.6 3057.7,1147.3 3058.2,1144.5 3058.7,1146.8 3059.2,1143.7 3059.7,1140.3 3060.2,1142.0 3060.7,1144.4 3061.2,1139.5 3061.7,1148.0 3062.2,1147.3 3062.7,1151.9 3063.2,1142.4 3063.7,1144.0 3064.2,1143.8 3064.7,1146.4 3065.2,1145.6 3065.7,1146.2 3066.2,1142.2 3066.7,1141.9 3067.2,1144.3 3067.7,1140.3 3068.2,1141.5 3068.7,1148.3 3069.2,1145.0 3069.7,1147.5 3070.2,1147.7 3070.7,1146.1 3071.2,1152.4 3071.7,1151.9 3072.2,1141.1 3072.7,1141.4 3073.2,1145.7 3073.7,1145.4 3074.2,1148.6 3074.7,1143.4 3075.2,1140.9 3075.7,1143.5 3076.2,1148.3 3076.7,1145.8 3077.2,1147.5 3077.7,1142.9 3078.2,1145.7 3078.7,1147.4 3079.2,1150.9 3079.7,1145.5 3080.2,1141.4 3080.7,1146.5 3081.2,1150.2 3081.7,1148.1 3082.2,1143.9 3082.7,1147.3 3083.2,1145.3 3083.7,1145.6 3084.2,1143.2 3084.7,1145.3 3085.2,1142.2 3085.7,1144.3 3086.2,1145.2 3086.7,1147.9 3087.2,1147.0 3087.7,1147.7 3088.2,1146.7 3088.7,1148.6 3089.2,1148.6 3089.7,1149.2 3090.2,1143.3 3090.7,1141.1 3091.2,1146.5 3091.7,1149.4 3092.2,1145.9 3092.7,1145.5 3093.2,1144.9 3093.7,1145.4 3094.2,1143.5 3094.7,1148.0 3095.2,1145.9 3095.7,1147.8 3096.2,1140.7 3096.7,1144.4 3097.2,1147.3 3097.7,1146.8 3098.2,1148.7 3098.7,1146.7 3099.2,1149.6 3099.7,1141.1 3100.2,1144.4 3100.7,1145.9 3101.2,1148.8 3101.7,1148.8 3102.2,1143.7 3102.7,1150.1 3103.2,1143.5 3103.7,1151.6 3104.2,1147.0 3104.7,1147.2 3105.2,1147.8 3105.7,1145.5 3106.2,1142.5 3106.7,1151.6 3107.2,1142.5 3107.7,1147.9 3108.2,1146.1 3108.7,1139.7 3109.2,1141.2 3109.7,1143.4 3110.2,1151.4 3110.7,1146.8 3111.2,1143.5 3111.7,1136.8 3112.2,1154.7 3112.7,1149.3 3113.2,1146.0 3113.7,1147.9 3114.2,1144.8 3114.7,1151.2 3115.2,1152.5 3115.7,1149.5 3116.2,1151.6 3116.7,1147.1 3117.2,1145.4 3117.7,1145.3 3118.2,1136.6 3118.7,1147.6 3119.2,1152.7 3119.7,1149.0 3120.2,1149.3 3120.7,1140.1 3121.2,1139.7 3121.7,1143.3 3122.2,1146.4 3122.7,1139.6 3123.2,1147.5 3123.7,1146.2 3124.2,1145.0 3124.7,1150.4 3125.2,1146.1 3125.7,1142.3 3126.2,1147.1 3126.7,1147.2 3127.2,1146.6 3127.7,1148.2 3128.2,1148.2 3128.7,1146.1 3129.2,1151.9 3129.7,1147.8 3130.2,1151.9 3130.7,1140.4 3131.2,1150.2 3131.7,1153.5 3132.2,1147.5 3132.7,1152.4 3133.2,1148.6 3133.7,1148.9 3134.2,1145.1 3134.7,1144.6 3135.2,1154.3 3135.7,1148.6 3136.2,1144.5 3136.7,1148.1 3137.2,1149.2 3137.7,1146.5 3138.2,1146.9 3138.7,1146.4 3139.2,1146.7 3139.7,1141.0 3140.2,1145.3 3140.7,1146.1 3141.2,1148.2 3141.7,1139.8 3142.2,1145.3 3142.7,1145.5 3143.2,1146.0 3143.7,1148.3 3144.2,1143.2 3144.7,1147.5 3145.2,1149.5 3145.7,1147.0 3146.2,1144.4 3146.7,1146.1 3147.2,1140.3 3147.7,1146.2 3148.2,1144.9 3148.7,1145.0 3149.2,1146.3 3149.7,1145.9 3150.2,1148.4 3150.7,1143.5 3151.2,1147.3 3151.7,1147.0 3152.2,1146.2 3152.7,1147.7 3153.2,1150.9 3153.7,1148.3 3154.2,1142.2 3154.7,1141.9 3155.2,1152.3 3155.7,1143.3 3156.2,1153.3 3156.7,1142.9 3157.2,1143.1 3157.7,1144.3 3158.2,1142.2 3158.7,1138.6 3159.2,1136.2 3159.7,1137.8 3160.2,1139.4 3160.7,1139.3 3161.2,1133.5 3161.7,1141.2 3162.2,1145.0 3162.7,1140.3 3163.2,1138.4 3163.7,1150.0 3164.2,1144.1 3164.7,1145.0 3165.2,1147.1 3165.7,1143.2 3166.2,1144.7 3166.7,1148.0 3167.2,1143.6 3167.7,1149.7 3168.2,1149.4 3168.7,1146.3 3169.2,1152.9 3169.7,1150.9 3170.2,1152.9 3170.7,1147.7 3171.2,1146.3 3171.7,1149.3 3172.2,1148.7 3172.7,1147.0 3173.2,1150.6 3173.7,1151.6 3174.2,1147.5 3174.7,1152.5 3175.2,1142.3 3175.7,1145.1 3176.2,1147.8 3176.7,1152.2 3177.2,1142.6 3177.7,1151.1 3178.2,1143.8 3178.7,1147.6 3179.2,1150.9 3179.7,1151.1 3180.2,1153.8 3180.7,1148.8 3181.2,1149.1 3181.7,1150.0 3182.2,1142.2 3182.7,1143.9 3183.2,1147.1 3183.7,1148.3 3184.2,1149.7 3184.7,1150.7 3185.2,1141.2 3185.7,1151.0 3186.2,1145.8 3186.7,1153.6 3187.2,1150.3 3187.7,1148.3 3188.2,1151.4 3188.7,1147.6 3189.2,1146.3 3189.7,1143.7 3190.2,1147.0 3190.7,1152.3 3191.2,1143.4 3191.7,1152.0 3192.2,1151.6 3192.7,1150.4 3193.2,1146.9 3193.7,1144.4 3194.2,1145.4 3194.7,1147.0 3195.2,1147.3 3195.7,1147.2 3196.2,1142.9 3196.7,1148.1 3197.2,1146.8 3197.7,1153.1 3198.2,1152.0 3198.7,1148.5 3199.2,1145.9 3199.7,1143.7 3200.2,1147.2 3200.7,1148.3 3201.2,1148.3 3201.7,1153.5 3202.2,1143.8 3202.7,1141.6 3203.2,1146.9 3203.7,1152.2 3204.2,1146.4 3204.7,1149.7 3205.2,1149.0 3205.7,1151.1 3206.2,1145.0 3206.7,1145.5 3207.2,1147.5 3207.7,1148.6 3208.2,1146.5 3208.7,1142.2 3209.2,1137.8 3209.7,1132.6 3210.2,1133.4 3210.7,1135.1 3211.2,1126.8 3211.7,1122.8 3212.2,1129.7 3212.7,1124.5 3213.2,1116.6 3213.7,1120.8 3214.2,1122.7 3214.7,1129.4 3215.2,1128.9 3215.7,1137.9 3216.2,1141.7 3216.7,1133.3 3217.2,1140.4 3217.7,1143.7 3218.2,1143.6 3218.7,1140.7 3219.2,1135.4 3219.7,1136.5 3220.2,1149.6 3220.7,1148.5 3221.2,1145.3 3221.7,1147.4 3222.2,1144.2 3222.7,1147.2 3223.2,1147.5 3223.7,1148.7 3224.2,1153.6 3224.7,1150.6 3225.2,1146.2 3225.7,1140.3 3226.2,1145.0 3226.7,1147.0 3227.2,1141.4 3227.7,1150.5 3228.2,1152.6 3228.7,1151.3 3229.2,1150.0 3229.7,1151.7 3230.2,1152.2 3230.7,1148.4 3231.2,1148.9 3231.7,1147.6 3232.2,1146.4 3232.7,1155.1 3233.2,1152.6 3233.7,1151.6 3234.2,1149.6 3234.7,1146.2 3235.2,1147.8 3235.7,1145.5 3236.2,1151.9 3236.7,1149.7 3237.2,1141.4 3237.7,1148.9 3238.2,1147.7 3238.7,1152.6 3239.2,1156.4 3239.7,1149.6 3240.2,1151.4 3240.7,1149.2 3241.2,1145.9 3241.7,1146.9 3242.2,1157.4 3242.7,1148.4 3243.2,1149.0 3243.7,1150.4 3244.2,1153.5 3244.7,1151.8 3245.2,1145.4 3245.7,1153.4 3246.2,1147.9 3246.7,1150.6 3247.2,1155.2 3247.7,1157.4 3248.2,1151.3 3248.7,1148.6 3249.2,1149.8 3249.7,1150.9 3250.2,1148.5 3250.7,1150.8 3251.2,1148.5 3251.7,1151.3 3252.2,1150.4 3252.7,1152.1 3253.2,1148.7 3253.7,1145.4 3254.2,1151.5 3254.7,1152.5 3255.2,1151.6 3255.7,1145.3 3256.2,1147.0 3256.7,1150.4 3257.2,1151.2 3257.7,1153.8 3258.2,1143.8 3258.7,1143.3 3259.2,1147.3 3259.7,1150.8 3260.2,1153.5 3260.7,1146.4 3261.2,1143.2 3261.7,1151.4 3262.2,1151.3 3262.7,1152.8 3263.2,1153.4 3263.7,1149.3 3264.2,1150.8 3264.7,1150.4 3265.2,1152.8 3265.7,1151.1 3266.2,1148.5 3266.7,1154.0 3267.2,1149.6 3267.7,1154.3 3268.2,1148.3 3268.7,1149.7 3269.2,1156.6 3269.7,1153.6 3270.2,1151.8 3270.7,1151.1 3271.2,1148.1 3271.7,1152.2 3272.2,1150.2 3272.7,1149.3 3273.2,1149.9 3273.7,1145.7 3274.2,1148.1 3274.7,1153.6 3275.2,1148.0 3275.7,1153.0 3276.2,1150.8 3276.7,1155.3 3277.2,1144.9 3277.7,1151.1 3278.2,1153.9 3278.7,1148.8 3279.2,1150.0 3279.7,1149.4 3280.2,1149.9 3280.7,1158.1 3281.2,1149.1 3281.7,1147.0 3282.2,1154.5 3282.7,1155.1 3283.2,1150.1 3283.7,1150.7 3284.2,1148.5 3284.7,1149.8 3285.2,1147.2 3285.7,1148.0 3286.2,1146.9 3286.7,1152.9 3287.2,1150.8 3287.7,1151.3 3288.2,1147.5 3288.7,1146.7 3289.2,1154.0 3289.7,1153.2 3290.2,1150.4 3290.7,1149.6 3291.2,1149.7 3291.7,1153.4 3292.2,1149.5 3292.7,1151.3 3293.2,1151.6 3293.7,1149.4 3294.2,1151.0 3294.7,1152.7 3295.2,1148.1 3295.7,1154.6 3296.2,1154.1 3296.7,1152.7 3297.2,1154.9 3297.7,1153.5 3298.2,1153.7 3298.7,1150.3 3299.2,1150.8 3299.7,1148.3 3300.2,1153.7 3300.7,1156.9 3301.2,1151.8 3301.7,1151.0 3302.2,1150.1 3302.7,1151.0 3303.2,1157.0 3303.7,1151.2 3304.2,1149.7 3304.7,1147.3 3305.2,1153.9 3305.7,1151.6 3306.2,1150.3 3306.7,1151.2 3307.2,1152.7 3307.7,1148.7 3308.2,1157.0 3308.7,1153.9"/></defs>
<use href="#c6" fill="none" stroke="#b85e18" stroke-width="5.6" stroke-linejoin="round" stroke-linecap="round"/>
<defs><polyline id="c7" points="1854.7,1137.1 1855.2,1146.8 1855.7,1143.7 1856.2,1139.8 1856.7,1144.8 1857.2,1143.2 1857.7,1149.5 1858.2,1150.6 1858.7,1136.0 1859.2,1132.2 1859.7,1131.4 1860.2,1149.4 1860.7,1146.2 1861.2,1133.0 1861.7,1121.0 1862.2,1120.5 1862.7,1125.1 1863.2,1112.8 1863.7,1109.7 1864.2,1121.1 1864.7,1123.7 1865.2,1119.4 1865.7,1132.5 1866.2,1129.6 1866.7,1135.0 1867.2,1132.1 1867.7,1133.0 1868.2,1130.7 1868.7,1145.5 1869.2,1142.7 1869.7,1130.2 1870.2,1147.0 1870.7,1162.8 1871.2,1132.2 1871.7,1135.7 1872.2,1124.7 1872.7,1138.3 1873.2,1140.9 1873.7,1149.4 1874.2,1133.4 1874.7,1145.1 1875.2,1133.3 1875.7,1136.7 1876.2,1138.0 1876.7,1125.0 1877.2,1131.7 1877.7,1126.1 1878.2,1144.9 1878.7,1138.2 1879.2,1139.8 1879.7,1138.0 1880.2,1129.4 1880.7,1138.2 1881.2,1135.6 1881.7,1127.0 1882.2,1134.0 1882.7,1146.7 1883.2,1144.7 1883.7,1129.3 1884.2,1129.2 1884.7,1112.4 1885.2,1121.9 1885.7,1109.9 1886.2,1108.6 1886.7,1118.2 1887.2,1101.1 1887.7,1126.2 1888.2,1117.2 1888.7,1131.0 1889.2,1132.7 1889.7,1123.6 1890.2,1127.5 1890.7,1125.8 1891.2,1134.9 1891.7,1131.6 1892.2,1131.0 1892.7,1146.7 1893.2,1146.3 1893.7,1148.9 1894.2,1138.3 1894.7,1133.3 1895.2,1145.1 1895.7,1138.6 1896.2,1138.3 1896.7,1149.6 1897.2,1143.9 1897.7,1130.9 1898.2,1125.7 1898.7,1134.5 1899.2,1133.9 1899.7,1140.1 1900.2,1147.7 1900.7,1139.8 1901.2,1137.5 1901.7,1126.6 1902.2,1133.2 1902.7,1145.7 1903.2,1137.4 1903.7,1127.7 1904.2,1139.3 1904.7,1125.7 1905.2,1130.4 1905.7,1128.8 1906.2,1142.3 1906.7,1130.5 1907.2,1142.9 1907.7,1148.4 1908.2,1136.9 1908.7,1133.9 1909.2,1127.6 1909.7,1150.3 1910.2,1135.8 1910.7,1140.0 1911.2,1136.3 1911.7,1133.4 1912.2,1138.2 1912.7,1126.0 1913.2,1148.7 1913.7,1131.1 1914.2,1134.7 1914.7,1135.1 1915.2,1133.3 1915.7,1144.2 1916.2,1121.4 1916.7,1137.3 1917.2,1144.9 1917.7,1131.7 1918.2,1130.9 1918.7,1143.8 1919.2,1132.7 1919.7,1122.9 1920.2,1145.9 1920.7,1143.5 1921.2,1125.7 1921.7,1141.5 1922.2,1136.0 1922.7,1128.1 1923.2,1114.4 1923.7,1133.5 1924.2,1141.2 1924.7,1125.6 1925.2,1124.0 1925.7,1125.9 1926.2,1124.5 1926.7,1129.8 1927.2,1136.4 1927.7,1115.9 1928.2,1122.3 1928.7,1122.4 1929.2,1104.7 1929.7,1096.3 1930.2,1059.0 1930.7,1010.8 1931.2,924.7 1931.7,829.1 1932.2,764.9 1932.7,741.2 1933.2,781.3 1933.7,875.9 1934.2,948.5 1934.7,1024.9 1935.2,1067.5 1935.7,1114.2 1936.2,1105.7 1936.7,1117.7 1937.2,1127.5 1937.7,1119.9 1938.2,1121.5 1938.7,1123.5 1939.2,1128.8 1939.7,1126.1 1940.2,1120.9 1940.7,1117.5 1941.2,1116.3 1941.7,1121.3 1942.2,1119.9 1942.7,1112.1 1943.2,1126.3 1943.7,1122.6 1944.2,1118.9 1944.7,1125.1 1945.2,1120.7 1945.7,1113.1 1946.2,1102.4 1946.7,1094.0 1947.2,1086.6 1947.7,1095.0 1948.2,1070.9 1948.7,1078.6 1949.2,1083.0 1949.7,1092.7 1950.2,1106.2 1950.7,1105.8 1951.2,1109.1 1951.7,1103.4 1952.2,1103.7 1952.7,1109.8 1953.2,1107.2 1953.7,1107.4 1954.2,1080.7 1954.7,1081.7 1955.2,1063.1 1955.7,1026.7 1956.2,1011.3 1956.7,1013.4 1957.2,994.3 1957.7,1002.1 1958.2,1038.4 1958.7,1047.8 1959.2,1077.2 1959.7,1091.0 1960.2,1101.0 1960.7,1110.0 1961.2,1108.9 1961.7,1109.7 1962.2,1107.8 1962.7,1103.1 1963.2,1115.9 1963.7,1108.1 1964.2,1103.3 1964.7,1122.2 1965.2,1108.8 1965.7,1100.9 1966.2,1115.7 1966.7,1108.0 1967.2,1105.4 1967.7,1119.6 1968.2,1116.0 1968.7,1110.3 1969.2,1111.0 1969.7,1102.7 1970.2,1102.0 1970.7,1114.1 1971.2,1110.9 1971.7,1112.8 1972.2,1102.0 1972.7,1109.4 1973.2,1102.1 1973.7,1105.7 1974.2,1090.4 1974.7,1093.4 1975.2,1079.5 1975.7,1082.2 1976.2,1065.1 1976.7,1079.0 1977.2,1061.5 1977.7,1050.5 1978.2,1052.1 1978.7,1050.8 1979.2,1052.2 1979.7,1031.5 1980.2,1060.6 1980.7,1046.2 1981.2,1057.0 1981.7,1054.9 1982.2,1088.3 1982.7,1071.3 1983.2,1068.7 1983.7,1072.8 1984.2,1073.1 1984.7,1088.7 1985.2,1089.3 1985.7,1077.7 1986.2,1068.8 1986.7,1082.5 1987.2,1079.1 1987.7,1085.6 1988.2,1073.1 1988.7,1071.5 1989.2,1065.4 1989.7,1051.9 1990.2,1052.3 1990.7,1036.8 1991.2,1017.5 1991.7,1000.6 1992.2,996.4 1992.7,986.6 1993.2,995.0 1993.7,1014.7 1994.2,1018.6 1994.7,1026.6 1995.2,1043.9 1995.7,1056.3 1996.2,1052.5 1996.7,1060.9 1997.2,1069.7 1997.7,1078.8 1998.2,1073.4 1998.7,1086.2 1999.2,1085.4 1999.7,1073.8 2000.2,1077.2 2000.7,1082.3 2001.2,1086.2 2001.7,1085.5 2002.2,1087.6 2002.7,1091.7 2003.2,1084.4 2003.7,1092.8 2004.2,1085.1 2004.7,1074.5 2005.2,1081.5 2005.7,1083.2 2006.2,1083.8 2006.7,1067.3 2007.2,1079.2 2007.7,1082.7 2008.2,1081.2 2008.7,1076.8 2009.2,1074.4 2009.7,1093.6 2010.2,1072.7 2010.7,1071.0 2011.2,1070.6 2011.7,1066.7 2012.2,1064.3 2012.7,1060.0 2013.2,1043.0 2013.7,1043.8 2014.2,1019.4 2014.7,1006.8 2015.2,1019.1 2015.7,1011.0 2016.2,1020.3 2016.7,1025.6 2017.2,1042.2 2017.7,1059.3 2018.2,1071.6 2018.7,1055.2 2019.2,1076.8 2019.7,1082.8 2020.2,1073.7 2020.7,1084.6 2021.2,1083.5 2021.7,1103.4 2022.2,1092.8 2022.7,1087.4 2023.2,1100.0 2023.7,1103.5 2024.2,1097.1 2024.7,1093.4 2025.2,1090.0 2025.7,1101.9 2026.2,1103.7 2026.7,1105.8 2027.2,1112.7 2027.7,1091.7 2028.2,1102.1 2028.7,1108.2 2029.2,1116.0 2029.7,1109.6 2030.2,1108.7 2030.7,1100.6 2031.2,1107.8 2031.7,1102.6 2032.2,1093.7 2032.7,1092.3 2033.2,1114.7 2033.7,1099.0 2034.2,1084.7 2034.7,1074.8 2035.2,1068.2 2035.7,1077.6 2036.2,1059.3 2036.7,1071.9 2037.2,1090.9 2037.7,1090.9 2038.2,1110.5 2038.7,1098.7 2039.2,1111.1 2039.7,1113.2 2040.2,1115.5 2040.7,1116.5 2041.2,1121.2 2041.7,1120.5 2042.2,1102.3 2042.7,1120.4 2043.2,1118.9 2043.7,1106.8 2044.2,1121.4 2044.7,1117.3 2045.2,1118.5 2045.7,1119.0 2046.2,1118.0 2046.7,1121.1 2047.2,1112.9 2047.7,1104.0 2048.2,1108.7 2048.7,1109.3 2049.2,1088.6 2049.7,1083.0 2050.2,1079.4 2050.7,1068.4 2051.2,1087.1 2051.7,1077.0 2052.2,1072.7 2052.7,1099.9 2053.2,1097.8 2053.7,1096.5 2054.2,1112.1 2054.7,1112.9 2055.2,1111.4 2055.7,1111.0 2056.2,1123.4 2056.7,1113.8 2057.2,1112.3 2057.7,1116.4 2058.2,1111.5 2058.7,1129.5 2059.2,1119.0 2059.7,1111.6 2060.2,1124.1 2060.7,1121.2 2061.2,1126.4 2061.7,1122.6 2062.2,1109.5 2062.7,1121.8 2063.2,1111.2 2063.7,1116.0 2064.2,1119.9 2064.7,1122.7 2065.2,1114.6 2065.7,1101.3 2066.2,1113.7 2066.7,1112.4 2067.2,1118.9 2067.7,1121.9 2068.2,1115.3 2068.7,1107.5 2069.2,1105.2 2069.7,1118.7 2070.2,1110.2 2070.7,1105.9 2071.2,1124.7 2071.7,1112.0 2072.2,1105.0 2072.7,1096.4 2073.2,1090.1 2073.7,1094.5 2074.2,1098.4 2074.7,1100.6 2075.2,1091.2 2075.7,1072.2 2076.2,1072.7 2076.7,1072.0 2077.2,1043.7 2077.7,1044.0 2078.2,1026.1 2078.7,1031.8 2079.2,1044.1 2079.7,1060.5 2080.2,1064.7 2080.7,1058.7 2081.2,1067.9 2081.7,1080.1 2082.2,1092.1 2082.7,1089.0 2083.2,1094.9 2083.7,1085.6 2084.2,1098.3 2084.7,1086.9 2085.2,1089.1 2085.7,1073.1 2086.2,1080.0 2086.7,1076.2 2087.2,1057.0 2087.7,1041.4 2088.2,1021.2 2088.7,1005.6 2089.2,995.5 2089.7,999.6 2090.2,1024.1 2090.7,1040.5 2091.2,1044.2 2091.7,1068.9 2092.2,1067.5 2092.7,1088.1 2093.2,1094.4 2093.7,1090.4 2094.2,1101.3 2094.7,1092.0 2095.2,1089.3 2095.7,1096.6 2096.2,1098.6 2096.7,1105.9 2097.2,1104.8 2097.7,1100.9 2098.2,1099.0 2098.7,1094.9 2099.2,1091.4 2099.7,1080.8 2100.2,1089.1 2100.7,1081.6 2101.2,1092.6 2101.7,1097.6 2102.2,1109.3 2102.7,1111.1 2103.2,1116.4 2103.7,1102.5 2104.2,1118.2 2104.7,1120.1 2105.2,1118.7 2105.7,1108.2 2106.2,1130.3 2106.7,1119.9 2107.2,1123.8 2107.7,1112.1 2108.2,1118.6 2108.7,1121.0 2109.2,1127.8 2109.7,1113.9 2110.2,1121.4 2110.7,1121.3 2111.2,1126.0 2111.7,1108.0 2112.2,1129.3 2112.7,1120.0 2113.2,1122.6 2113.7,1122.8 2114.2,1132.7 2114.7,1125.3 2115.2,1119.2 2115.7,1119.9 2116.2,1117.1 2116.7,1109.1 2117.2,1107.1 2117.7,1125.3 2118.2,1129.9 2118.7,1120.8 2119.2,1130.9 2119.7,1124.2 2120.2,1125.6 2120.7,1121.7 2121.2,1111.9 2121.7,1111.1 2122.2,1125.7 2122.7,1109.7 2123.2,1101.5 2123.7,1101.3 2124.2,1097.9 2124.7,1074.3 2125.2,1087.4 2125.7,1089.3 2126.2,1098.5 2126.7,1109.6 2127.2,1112.1 2127.7,1099.8 2128.2,1120.9 2128.7,1111.9 2129.2,1106.5 2129.7,1112.3 2130.2,1117.7 2130.7,1118.9 2131.2,1124.8 2131.7,1121.4 2132.2,1126.0 2132.7,1121.9 2133.2,1127.3 2133.7,1128.0 2134.2,1121.9 2134.7,1117.4 2135.2,1120.9 2135.7,1128.0 2136.2,1136.0 2136.7,1124.7 2137.2,1131.3 2137.7,1113.6 2138.2,1120.6 2138.7,1123.9 2139.2,1119.6 2139.7,1119.8 2140.2,1127.6 2140.7,1127.4 2141.2,1112.6 2141.7,1114.0 2142.2,1110.0 2142.7,1117.3 2143.2,1120.6 2143.7,1099.6 2144.2,1108.5 2144.7,1093.8 2145.2,1097.3 2145.7,1081.5 2146.2,1095.9 2146.7,1080.5 2147.2,1084.4 2147.7,1085.1 2148.2,1090.7 2148.7,1099.4 2149.2,1113.0 2149.7,1117.1 2150.2,1114.5 2150.7,1116.3 2151.2,1107.0 2151.7,1116.0 2152.2,1115.3 2152.7,1125.5 2153.2,1126.2 2153.7,1129.4 2154.2,1123.6 2154.7,1128.1 2155.2,1117.5 2155.7,1107.5 2156.2,1125.0 2156.7,1117.5 2157.2,1126.0 2157.7,1126.6 2158.2,1128.5 2158.7,1115.7 2159.2,1132.0 2159.7,1126.5 2160.2,1125.8 2160.7,1124.7 2161.2,1114.6 2161.7,1132.1 2162.2,1138.0 2162.7,1115.9 2163.2,1129.3 2163.7,1122.1 2164.2,1132.9 2164.7,1131.8 2165.2,1122.7 2165.7,1129.1 2166.2,1132.6 2166.7,1118.9 2167.2,1121.2 2167.7,1121.0 2168.2,1122.8 2168.7,1107.9 2169.2,1119.5 2169.7,1114.9 2170.2,1111.5 2170.7,1104.6 2171.2,1096.9 2171.7,1098.6 2172.2,1103.4 2172.7,1090.7 2173.2,1110.4 2173.7,1093.0 2174.2,1105.4 2174.7,1108.2 2175.2,1124.3 2175.7,1116.0 2176.2,1118.7 2176.7,1111.0 2177.2,1130.3 2177.7,1117.3 2178.2,1126.8 2178.7,1127.5 2179.2,1121.8 2179.7,1133.1 2180.2,1112.5 2180.7,1123.0 2181.2,1131.8 2181.7,1116.2 2182.2,1116.7 2182.7,1130.9 2183.2,1120.6 2183.7,1105.6 2184.2,1111.4 2184.7,1113.3 2185.2,1098.6 2185.7,1101.0 2186.2,1084.7 2186.7,1081.1 2187.2,1071.7 2187.7,1063.0 2188.2,1083.2 2188.7,1071.4 2189.2,1083.9 2189.7,1099.2 2190.2,1110.1 2190.7,1110.2 2191.2,1109.1 2191.7,1115.0 2192.2,1111.4 2192.7,1128.7 2193.2,1111.1 2193.7,1113.8 2194.2,1122.4 2194.7,1119.4 2195.2,1111.4 2195.7,1110.8 2196.2,1119.3 2196.7,1113.2 2197.2,1118.6 2197.7,1111.0 2198.2,1101.2 2198.7,1096.7 2199.2,1084.5 2199.7,1089.3 2200.2,1093.5 2200.7,1090.2 2201.2,1097.0 2201.7,1107.6 2202.2,1111.4 2202.7,1101.8 2203.2,1096.3 2203.7,1110.9 2204.2,1106.0 2204.7,1113.0 2205.2,1109.4 2205.7,1111.5 2206.2,1123.8 2206.7,1106.0 2207.2,1110.2 2207.7,1112.0 2208.2,1106.6 2208.7,1097.6 2209.2,1108.3 2209.7,1109.6 2210.2,1106.3 2210.7,1098.9 2211.2,1100.6 2211.7,1103.3 2212.2,1104.5 2212.7,1107.2 2213.2,1102.2 2213.7,1094.5 2214.2,1095.2 2214.7,1088.5 2215.2,1075.0 2215.7,1072.6 2216.2,1062.5 2216.7,1045.0 2217.2,1042.6 2217.7,1005.2 2218.2,1001.1 2218.7,985.9 2219.2,978.7 2219.7,987.3 2220.2,997.1 2220.7,1020.4 2221.2,1039.9 2221.7,1052.8 2222.2,1054.7 2222.7,1075.5 2223.2,1075.5 2223.7,1091.0 2224.2,1084.7 2224.7,1098.1 2225.2,1085.2 2225.7,1103.5 2226.2,1097.9 2226.7,1092.6 2227.2,1093.4 2227.7,1087.0 2228.2,1104.8 2228.7,1104.8 2229.2,1091.1 2229.7,1093.6 2230.2,1111.0 2230.7,1101.5 2231.2,1105.1 2231.7,1094.8 2232.2,1104.0 2232.7,1093.8 2233.2,1082.5 2233.7,1082.8 2234.2,1086.1 2234.7,1081.0 2235.2,1073.2 2235.7,1062.5 2236.2,1056.1 2236.7,1049.0 2237.2,1034.3 2237.7,1045.7 2238.2,1054.6 2238.7,1064.2 2239.2,1072.8 2239.7,1082.6 2240.2,1085.5 2240.7,1103.4 2241.2,1096.1 2241.7,1105.3 2242.2,1107.8 2242.7,1109.0 2243.2,1091.0 2243.7,1116.3 2244.2,1106.8 2244.7,1121.9 2245.2,1115.7 2245.7,1109.0 2246.2,1113.4 2246.7,1116.2 2247.2,1110.5 2247.7,1117.7 2248.2,1116.2 2248.7,1120.7 2249.2,1123.6 2249.7,1110.2 2250.2,1128.2 2250.7,1118.1 2251.2,1127.2 2251.7,1112.6 2252.2,1125.5 2252.7,1122.1 2253.2,1124.9 2253.7,1109.4 2254.2,1110.9 2254.7,1118.2 2255.2,1116.0 2255.7,1110.1 2256.2,1108.8 2256.7,1108.4 2257.2,1106.0 2257.7,1102.4 2258.2,1095.2 2258.7,1086.7 2259.2,1083.7 2259.7,1072.8 2260.2,1052.8 2260.7,1028.5 2261.2,1000.0 2261.7,991.9 2262.2,984.1 2262.7,973.9 2263.2,986.5 2263.7,1006.4 2264.2,1042.2 2264.7,1045.5 2265.2,1068.0 2265.7,1067.8 2266.2,1091.3 2266.7,1084.1 2267.2,1099.1 2267.7,1104.0 2268.2,1099.3 2268.7,1114.7 2269.2,1100.8 2269.7,1118.2 2270.2,1111.0 2270.7,1108.0 2271.2,1106.4 2271.7,1110.6 2272.2,1082.3 2272.7,1088.1 2273.2,1074.9 2273.7,1068.9 2274.2,1056.4 2274.7,1072.2 2275.2,1072.7 2275.7,1075.3 2276.2,1084.2 2276.7,1098.1 2277.2,1089.0 2277.7,1117.4 2278.2,1101.5 2278.7,1114.6 2279.2,1113.0 2279.7,1116.6 2280.2,1113.6 2280.7,1107.8 2281.2,1114.6 2281.7,1107.4 2282.2,1115.4 2282.7,1110.3 2283.2,1106.0 2283.7,1107.2 2284.2,1113.1 2284.7,1112.9 2285.2,1109.4 2285.7,1085.1 2286.2,1099.6 2286.7,1089.6 2287.2,1091.9 2287.7,1082.1 2288.2,1064.2 2288.7,1062.3 2289.2,1052.1 2289.7,1051.1 2290.2,1027.9 2290.7,1025.2 2291.2,1018.4 2291.7,1042.7 2292.2,1037.1 2292.7,1044.7 2293.2,1047.2 2293.7,1057.9 2294.2,1060.3 2294.7,1073.4 2295.2,1066.1 2295.7,1064.1 2296.2,1059.8 2296.7,1051.3 2297.2,1040.1 2297.7,1037.6 2298.2,1021.2 2298.7,1013.5 2299.2,1004.6 2299.7,975.5 2300.2,966.9 2300.7,954.5 2301.2,947.0 2301.7,954.1 2302.2,944.1 2302.7,952.2 2303.2,931.5 2303.7,916.7 2304.2,875.1 2304.7,835.2 2305.2,788.3 2305.7,708.6 2306.2,648.6 2306.7,622.9 2307.2,632.7 2307.7,673.9 2308.2,743.3 2308.7,813.4 2309.2,873.9 2309.7,923.4 2310.2,967.4 2310.7,997.1 2311.2,1017.1 2311.7,1027.7 2312.2,1045.4 2312.7,1049.6 2313.2,1037.5 2313.7,1048.5 2314.2,1038.6 2314.7,1024.8 2315.2,1024.4 2315.7,1024.7 2316.2,1017.8 2316.7,1014.3 2317.2,1020.5 2317.7,1027.1 2318.2,1034.4 2318.7,1053.7 2319.2,1055.3 2319.7,1065.0 2320.2,1074.1 2320.7,1083.6 2321.2,1091.3 2321.7,1100.3 2322.2,1102.0 2322.7,1097.7 2323.2,1107.4 2323.7,1101.3 2324.2,1105.5 2324.7,1106.7 2325.2,1096.2 2325.7,1100.2 2326.2,1095.9 2326.7,1095.7 2327.2,1088.3 2327.7,1080.9 2328.2,1068.0 2328.7,1048.2 2329.2,1029.5 2329.7,1000.5 2330.2,969.6 2330.7,952.6 2331.2,948.1 2331.7,945.6 2332.2,968.9 2332.7,1005.6 2333.2,1018.3 2333.7,1052.8 2334.2,1063.0 2334.7,1083.8 2335.2,1092.5 2335.7,1107.1 2336.2,1106.5 2336.7,1117.3 2337.2,1117.6 2337.7,1119.4 2338.2,1113.9 2338.7,1107.8 2339.2,1119.5 2339.7,1110.2 2340.2,1120.3 2340.7,1112.5 2341.2,1120.3 2341.7,1114.5 2342.2,1118.8 2342.7,1122.0 2343.2,1113.3 2343.7,1118.0 2344.2,1109.8 2344.7,1119.2 2345.2,1113.7 2345.7,1111.1 2346.2,1122.7 2346.7,1118.5 2347.2,1118.7 2347.7,1115.0 2348.2,1103.4 2348.7,1120.1 2349.2,1115.6 2349.7,1109.4 2350.2,1109.7 2350.7,1099.9 2351.2,1107.3 2351.7,1091.9 2352.2,1086.4 2352.7,1081.6 2353.2,1083.4 2353.7,1076.9 2354.2,1077.1 2354.7,1070.1 2355.2,1077.3 2355.7,1085.8 2356.2,1086.2 2356.7,1092.4 2357.2,1110.3 2357.7,1102.2 2358.2,1103.8 2358.7,1099.0 2359.2,1100.0 2359.7,1109.5 2360.2,1106.9 2360.7,1103.6 2361.2,1119.0 2361.7,1120.0 2362.2,1105.6 2362.7,1103.2 2363.2,1104.3 2363.7,1107.7 2364.2,1094.3 2364.7,1104.5 2365.2,1106.6 2365.7,1104.0 2366.2,1108.3 2366.7,1106.8 2367.2,1104.9 2367.7,1095.8 2368.2,1102.2 2368.7,1088.7 2369.2,1093.4 2369.7,1097.4 2370.2,1087.9 2370.7,1083.0 2371.2,1090.0 2371.7,1075.9 2372.2,1075.2 2372.7,1072.9 2373.2,1068.9 2373.7,1051.8 2374.2,1049.6 2374.7,1044.7 2375.2,1030.7 2375.7,1023.9 2376.2,1018.7 2376.7,1021.1 2377.2,1012.6 2377.7,1027.9 2378.2,1021.9 2378.7,1041.9 2379.2,1041.1 2379.7,1052.2 2380.2,1056.5 2380.7,1070.0 2381.2,1082.7 2381.7,1083.8 2382.2,1081.2 2382.7,1079.4 2383.2,1082.5 2383.7,1090.2 2384.2,1091.3 2384.7,1085.5 2385.2,1093.8 2385.7,1080.1 2386.2,1084.3 2386.7,1083.1 2387.2,1090.1 2387.7,1085.3 2388.2,1088.1 2388.7,1084.7 2389.2,1076.0 2389.7,1077.7 2390.2,1056.2 2390.7,1052.4 2391.2,1047.7 2391.7,1030.7 2392.2,1019.1 2392.7,1023.5 2393.2,1031.2 2393.7,1032.9 2394.2,1036.7 2394.7,1059.9 2395.2,1064.9 2395.7,1074.5 2396.2,1085.2 2396.7,1085.7 2397.2,1087.8 2397.7,1083.8 2398.2,1089.0 2398.7,1093.9 2399.2,1084.8 2399.7,1081.9 2400.2,1098.6 2400.7,1095.0 2401.2,1085.5 2401.7,1070.4 2402.2,1072.9 2402.7,1064.8 2403.2,1024.1 2403.7,981.8 2404.2,945.1 2404.7,877.6 2405.2,827.8 2405.7,787.5 2406.2,803.4 2406.7,859.1 2407.2,915.5 2407.7,966.8 2408.2,1013.9 2408.7,1047.4 2409.2,1074.9 2409.7,1098.9 2410.2,1091.5 2410.7,1094.1 2411.2,1099.2 2411.7,1107.6 2412.2,1100.6 2412.7,1100.2 2413.2,1109.3 2413.7,1113.4 2414.2,1119.1 2414.7,1116.0 2415.2,1122.0 2415.7,1119.3 2416.2,1117.7 2416.7,1116.9 2417.2,1119.2 2417.7,1119.9 2418.2,1113.3 2418.7,1111.5 2419.2,1120.5 2419.7,1113.4 2420.2,1106.9 2420.7,1118.3 2421.2,1127.7 2421.7,1124.1 2422.2,1127.1 2422.7,1121.3 2423.2,1135.7 2423.7,1116.5 2424.2,1117.4 2424.7,1117.2 2425.2,1125.7 2425.7,1122.5 2426.2,1124.6 2426.7,1122.8 2427.2,1123.8 2427.7,1121.2 2428.2,1121.7 2428.7,1120.6 2429.2,1108.2 2429.7,1125.4 2430.2,1129.3 2430.7,1121.0 2431.2,1121.6 2431.7,1126.6 2432.2,1119.0 2432.7,1115.9 2433.2,1136.0 2433.7,1124.3 2434.2,1121.3 2434.7,1133.0 2435.2,1116.1 2435.7,1123.8 2436.2,1118.0 2436.7,1134.4 2437.2,1114.7 2437.7,1119.3 2438.2,1111.2 2438.7,1123.5 2439.2,1105.3 2439.7,1100.4 2440.2,1099.5 2440.7,1087.7 2441.2,1080.5 2441.7,1074.4 2442.2,1082.6 2442.7,1084.9 2443.2,1097.9 2443.7,1108.2 2444.2,1108.5 2444.7,1111.9 2445.2,1119.3 2445.7,1131.9 2446.2,1113.7 2446.7,1122.9 2447.2,1128.8 2447.7,1116.1 2448.2,1114.7 2448.7,1125.5 2449.2,1122.9 2449.7,1129.9 2450.2,1123.9 2450.7,1137.0 2451.2,1132.5 2451.7,1129.7 2452.2,1128.4 2452.7,1130.1 2453.2,1128.3 2453.7,1128.3 2454.2,1129.6 2454.7,1130.6 2455.2,1124.9 2455.7,1121.4 2456.2,1118.7 2456.7,1126.0 2457.2,1128.1 2457.7,1131.2 2458.2,1125.7 2458.7,1126.0 2459.2,1114.5 2459.7,1131.0 2460.2,1131.8 2460.7,1134.8 2461.2,1129.6 2461.7,1129.6 2462.2,1127.2 2462.7,1129.1 2463.2,1127.3 2463.7,1126.3 2464.2,1126.7 2464.7,1131.5 2465.2,1116.9 2465.7,1122.9 2466.2,1115.2 2466.7,1122.0 2467.2,1109.4 2467.7,1112.4 2468.2,1117.0 2468.7,1114.4 2469.2,1106.6 2469.7,1113.3 2470.2,1125.9 2470.7,1114.1 2471.2,1116.2 2471.7,1124.7 2472.2,1118.0 2472.7,1127.7 2473.2,1122.0 2473.7,1124.9 2474.2,1117.8 2474.7,1123.8 2475.2,1124.5 2475.7,1128.0 2476.2,1123.3 2476.7,1122.2 2477.2,1132.4 2477.7,1125.5 2478.2,1125.0 2478.7,1120.6 2479.2,1127.8 2479.7,1129.1 2480.2,1126.5 2480.7,1123.3 2481.2,1128.4 2481.7,1133.1 2482.2,1122.0 2482.7,1128.0 2483.2,1112.8 2483.7,1132.9 2484.2,1129.7 2484.7,1121.3 2485.2,1122.4 2485.7,1133.7 2486.2,1123.3 2486.7,1111.1 2487.2,1118.8 2487.7,1113.4 2488.2,1122.4 2488.7,1117.8 2489.2,1105.4 2489.7,1118.1 2490.2,1127.0 2490.7,1120.8 2491.2,1124.4 2491.7,1119.2 2492.2,1125.7 2492.7,1126.5 2493.2,1128.7 2493.7,1131.4 2494.2,1129.5 2494.7,1120.2 2495.2,1123.1 2495.7,1130.7 2496.2,1127.1 2496.7,1128.9 2497.2,1125.1 2497.7,1135.1 2498.2,1130.4 2498.7,1121.9 2499.2,1128.4 2499.7,1115.4 2500.2,1129.1 2500.7,1109.9 2501.2,1124.3 2501.7,1131.8 2502.2,1125.4 2502.7,1125.2 2503.2,1121.4 2503.7,1131.6 2504.2,1130.3 2504.7,1127.0 2505.2,1127.8 2505.7,1125.8 2506.2,1124.8 2506.7,1126.6 2507.2,1126.5 2507.7,1110.9 2508.2,1124.7 2508.7,1129.3 2509.2,1130.2 2509.7,1129.1 2510.2,1120.5 2510.7,1120.4 2511.2,1128.2 2511.7,1125.4 2512.2,1120.6 2512.7,1125.1 2513.2,1125.1 2513.7,1118.6 2514.2,1123.0 2514.7,1128.6 2515.2,1117.9 2515.7,1125.8 2516.2,1122.6 2516.7,1125.0 2517.2,1116.9 2517.7,1113.0 2518.2,1106.0 2518.7,1109.8 2519.2,1112.7 2519.7,1110.7 2520.2,1104.8 2520.7,1107.2 2521.2,1102.3 2521.7,1102.0 2522.2,1103.1 2522.7,1113.1 2523.2,1096.3 2523.7,1102.5 2524.2,1101.1 2524.7,1095.9 2525.2,1101.9 2525.7,1105.8 2526.2,1107.8 2526.7,1108.7 2527.2,1099.0 2527.7,1116.1 2528.2,1115.5 2528.7,1103.1 2529.2,1105.2 2529.7,1117.3 2530.2,1114.8 2530.7,1112.7 2531.2,1126.2 2531.7,1111.6 2532.2,1120.8 2532.7,1126.3 2533.2,1120.2 2533.7,1117.3 2534.2,1120.4 2534.7,1117.1 2535.2,1122.4 2535.7,1125.4 2536.2,1134.8 2536.7,1120.5 2537.2,1125.4 2537.7,1125.8 2538.2,1127.0 2538.7,1116.4 2539.2,1125.4 2539.7,1127.8 2540.2,1131.2 2540.7,1115.9 2541.2,1121.3 2541.7,1116.3 2542.2,1117.1 2542.7,1125.4 2543.2,1116.6 2543.7,1106.5 2544.2,1101.4 2544.7,1079.5 2545.2,1072.6 2545.7,1063.2 2546.2,1055.3 2546.7,1054.3 2547.2,1062.0 2547.7,1075.8 2548.2,1091.3 2548.7,1097.7 2549.2,1099.2 2549.7,1115.3 2550.2,1120.6 2550.7,1116.2 2551.2,1124.4 2551.7,1122.0 2552.2,1138.0 2552.7,1119.0 2553.2,1129.0 2553.7,1128.3 2554.2,1120.6 2554.7,1121.9 2555.2,1116.9 2555.7,1131.5 2556.2,1129.3 2556.7,1134.5 2557.2,1121.6 2557.7,1119.0 2558.2,1128.5 2558.7,1130.6 2559.2,1122.7 2559.7,1125.9 2560.2,1122.0 2560.7,1125.4 2561.2,1133.0 2561.7,1122.3 2562.2,1119.5 2562.7,1117.3 2563.2,1135.6 2563.7,1121.0 2564.2,1121.8 2564.7,1123.4 2565.2,1126.1 2565.7,1127.2 2566.2,1125.0 2566.7,1124.3 2567.2,1123.6 2567.7,1121.8 2568.2,1126.3 2568.7,1115.7 2569.2,1124.2 2569.7,1115.9 2570.2,1105.3 2570.7,1111.7 2571.2,1098.6 2571.7,1101.0 2572.2,1112.6 2572.7,1089.4 2573.2,1101.9 2573.7,1099.1 2574.2,1109.7 2574.7,1101.5 2575.2,1112.0 2575.7,1118.4 2576.2,1112.3 2576.7,1116.3 2577.2,1133.3 2577.7,1122.2 2578.2,1117.6 2578.7,1126.8 2579.2,1108.9 2579.7,1123.2 2580.2,1122.9 2580.7,1119.3 2581.2,1114.7 2581.7,1117.8 2582.2,1119.4 2582.7,1116.9 2583.2,1112.0 2583.7,1110.2 2584.2,1119.7 2584.7,1119.7 2585.2,1106.1 2585.7,1107.5 2586.2,1103.0 2586.7,1116.3 2587.2,1088.1 2587.7,1099.6 2588.2,1083.9 2588.7,1069.5 2589.2,1064.0 2589.7,1054.1 2590.2,1037.8 2590.7,1021.2 2591.2,1013.7 2591.7,988.6 2592.2,972.3 2592.7,948.3 2593.2,943.3 2593.7,932.0 2594.2,940.6 2594.7,948.9 2595.2,980.4 2595.7,1000.0 2596.2,1015.3 2596.7,1034.8 2597.2,1046.0 2597.7,1063.0 2598.2,1063.4 2598.7,1083.6 2599.2,1084.9 2599.7,1092.4 2600.2,1099.3 2600.7,1102.7 2601.2,1107.1 2601.7,1099.4 2602.2,1111.6 2602.7,1111.7 2603.2,1106.7 2603.7,1119.6 2604.2,1112.5 2604.7,1119.4 2605.2,1114.9 2605.7,1120.3 2606.2,1124.3 2606.7,1119.8 2607.2,1108.1 2607.7,1109.6 2608.2,1121.0 2608.7,1121.2 2609.2,1128.1 2609.7,1122.6 2610.2,1125.7 2610.7,1126.0 2611.2,1118.9 2611.7,1128.3 2612.2,1119.6 2612.7,1121.9 2613.2,1118.2 2613.7,1125.0 2614.2,1115.1 2614.7,1120.0 2615.2,1121.4 2615.7,1117.2 2616.2,1113.5 2616.7,1115.7 2617.2,1108.2 2617.7,1108.8 2618.2,1102.4 2618.7,1101.6 2619.2,1095.2 2619.7,1076.3 2620.2,1065.7 2620.7,1056.0 2621.2,1051.9 2621.7,1057.1 2622.2,1068.4 2622.7,1081.2 2623.2,1086.1 2623.7,1089.6 2624.2,1097.4 2624.7,1120.0 2625.2,1106.3 2625.7,1102.5 2626.2,1121.1 2626.7,1110.9 2627.2,1114.1 2627.7,1111.6 2628.2,1105.7 2628.7,1116.3 2629.2,1112.4 2629.7,1106.4 2630.2,1106.0 2630.7,1099.6 2631.2,1086.0 2631.7,1080.7 2632.2,1074.7 2632.7,1073.9 2633.2,1078.1 2633.7,1089.2 2634.2,1087.6 2634.7,1101.5 2635.2,1108.6 2635.7,1115.7 2636.2,1114.8 2636.7,1115.0 2637.2,1117.3 2637.7,1126.8 2638.2,1126.2 2638.7,1120.6 2639.2,1121.0 2639.7,1129.7 2640.2,1127.5 2640.7,1128.8 2641.2,1115.1 2641.7,1126.3 2642.2,1125.6 2642.7,1117.7 2643.2,1122.9 2643.7,1131.7 2644.2,1126.9 2644.7,1121.0 2645.2,1130.3 2645.7,1125.4 2646.2,1122.9 2646.7,1127.8 2647.2,1120.9 2647.7,1129.7 2648.2,1126.9 2648.7,1126.6 2649.2,1132.2 2649.7,1123.5 2650.2,1127.2 2650.7,1134.0 2651.2,1140.4 2651.7,1132.7 2652.2,1122.0 2652.7,1130.6 2653.2,1124.5 2653.7,1125.7 2654.2,1136.9 2654.7,1129.1 2655.2,1128.6 2655.7,1116.5 2656.2,1119.4 2656.7,1125.4 2657.2,1124.3 2657.7,1123.5 2658.2,1117.9 2658.7,1121.4 2659.2,1116.5 2659.7,1111.7 2660.2,1110.7 2660.7,1109.6 2661.2,1103.9 2661.7,1104.2 2662.2,1106.0 2662.7,1105.9 2663.2,1101.9 2663.7,1104.7 2664.2,1109.4 2664.7,1104.2 2665.2,1117.7 2665.7,1105.2 2666.2,1113.7 2666.7,1117.2 2667.2,1113.7 2667.7,1125.4 2668.2,1119.3 2668.7,1122.1 2669.2,1133.3 2669.7,1128.7 2670.2,1128.3 2670.7,1129.3 2671.2,1127.2 2671.7,1129.6 2672.2,1125.3 2672.7,1131.3 2673.2,1127.1 2673.7,1119.3 2674.2,1126.3 2674.7,1122.2 2675.2,1122.4 2675.7,1117.5 2676.2,1115.6 2676.7,1109.8 2677.2,1105.3 2677.7,1100.3 2678.2,1081.8 2678.7,1080.5 2679.2,1059.7 2679.7,1065.2 2680.2,1058.5 2680.7,1056.3 2681.2,1085.5 2681.7,1086.2 2682.2,1098.2 2682.7,1115.5 2683.2,1120.3 2683.7,1122.2 2684.2,1124.4 2684.7,1120.0 2685.2,1128.0 2685.7,1114.1 2686.2,1128.3 2686.7,1129.4 2687.2,1122.1 2687.7,1124.7 2688.2,1131.5 2688.7,1131.8 2689.2,1127.9 2689.7,1133.1 2690.2,1129.8 2690.7,1135.9 2691.2,1122.7 2691.7,1129.6 2692.2,1127.0 2692.7,1129.7 2693.2,1124.7 2693.7,1137.6 2694.2,1131.0 2694.7,1132.5 2695.2,1131.8 2695.7,1124.1 2696.2,1130.6 2696.7,1127.9 2697.2,1138.6 2697.7,1121.4 2698.2,1124.5 2698.7,1124.1 2699.2,1130.4 2699.7,1128.8 2700.2,1132.1 2700.7,1121.3 2701.2,1138.7 2701.7,1126.8 2702.2,1132.5 2702.7,1131.5 2703.2,1118.6 2703.7,1124.0 2704.2,1132.9 2704.7,1131.7 2705.2,1129.7 2705.7,1129.6 2706.2,1131.4 2706.7,1129.0 2707.2,1121.3 2707.7,1122.7 2708.2,1122.6 2708.7,1126.1 2709.2,1124.7 2709.7,1123.5 2710.2,1121.6 2710.7,1128.8 2711.2,1130.4 2711.7,1125.1 2712.2,1119.5 2712.7,1119.7 2713.2,1121.8 2713.7,1126.0 2714.2,1126.0 2714.7,1125.3 2715.2,1123.6 2715.7,1128.7 2716.2,1124.5 2716.7,1124.3 2717.2,1130.6 2717.7,1122.9 2718.2,1122.7 2718.7,1126.6 2719.2,1120.6 2719.7,1129.6 2720.2,1120.5 2720.7,1122.5 2721.2,1121.7 2721.7,1125.3 2722.2,1122.3 2722.7,1126.7 2723.2,1121.9 2723.7,1123.0 2724.2,1117.7 2724.7,1109.5 2725.2,1119.7 2725.7,1115.5 2726.2,1120.9 2726.7,1115.6 2727.2,1114.8 2727.7,1124.9 2728.2,1123.1 2728.7,1120.7 2729.2,1126.3 2729.7,1122.6 2730.2,1133.9 2730.7,1121.9 2731.2,1120.3 2731.7,1118.5 2732.2,1115.4 2732.7,1129.3 2733.2,1124.2 2733.7,1137.9 2734.2,1128.4 2734.7,1134.4 2735.2,1132.9 2735.7,1122.9 2736.2,1130.7 2736.7,1129.0 2737.2,1122.0 2737.7,1128.2 2738.2,1132.9 2738.7,1125.1 2739.2,1125.7 2739.7,1130.4 2740.2,1122.3 2740.7,1124.9 2741.2,1124.6 2741.7,1127.3 2742.2,1124.9 2742.7,1130.0 2743.2,1128.1 2743.7,1128.0 2744.2,1129.8 2744.7,1130.0 2745.2,1134.4 2745.7,1128.5 2746.2,1135.9 2746.7,1127.6 2747.2,1123.5 2747.7,1129.9 2748.2,1136.9 2748.7,1131.1 2749.2,1133.3 2749.7,1131.2 2750.2,1126.9 2750.7,1132.9 2751.2,1126.6 2751.7,1131.8 2752.2,1124.6 2752.7,1124.6 2753.2,1132.2 2753.7,1126.8 2754.2,1130.2 2754.7,1126.2 2755.2,1127.8 2755.7,1122.3 2756.2,1131.1 2756.7,1131.4 2757.2,1138.0 2757.7,1132.3 2758.2,1126.2 2758.7,1124.6 2759.2,1132.8 2759.7,1133.1 2760.2,1132.5 2760.7,1125.7 2761.2,1131.8 2761.7,1134.2 2762.2,1130.9 2762.7,1125.3 2763.2,1127.9 2763.7,1138.8 2764.2,1133.1 2764.7,1130.1 2765.2,1134.0 2765.7,1128.6 2766.2,1130.7 2766.7,1134.1 2767.2,1125.8 2767.7,1127.0 2768.2,1129.6 2768.7,1125.1 2769.2,1137.2 2769.7,1127.7 2770.2,1122.8 2770.7,1126.4 2771.2,1122.8 2771.7,1132.8 2772.2,1126.8 2772.7,1128.0 2773.2,1132.6 2773.7,1136.5 2774.2,1135.7 2774.7,1123.3 2775.2,1136.1 2775.7,1131.3 2776.2,1137.9 2776.7,1132.3 2777.2,1131.0 2777.7,1136.7 2778.2,1135.6 2778.7,1122.5 2779.2,1124.7 2779.7,1138.7 2780.2,1135.0 2780.7,1127.9 2781.2,1133.3 2781.7,1129.1 2782.2,1132.0 2782.7,1133.3 2783.2,1134.2 2783.7,1133.2 2784.2,1127.1 2784.7,1123.8 2785.2,1134.2 2785.7,1134.0 2786.2,1130.5 2786.7,1132.9 2787.2,1129.6 2787.7,1128.3 2788.2,1130.5 2788.7,1130.0 2789.2,1126.4 2789.7,1132.2 2790.2,1122.1 2790.7,1132.0 2791.2,1127.7 2791.7,1134.4 2792.2,1121.0 2792.7,1115.6 2793.2,1106.9 2793.7,1108.1 2794.2,1117.3 2794.7,1095.6 2795.2,1078.9 2795.7,1077.7 2796.2,1073.0 2796.7,1062.2 2797.2,1069.7 2797.7,1067.7 2798.2,1085.1 2798.7,1099.5 2799.2,1103.3 2799.7,1113.0 2800.2,1111.4 2800.7,1120.4 2801.2,1124.4 2801.7,1125.1 2802.2,1123.1 2802.7,1128.5 2803.2,1116.8 2803.7,1123.3 2804.2,1123.0 2804.7,1126.3 2805.2,1126.3 2805.7,1127.0 2806.2,1135.6 2806.7,1129.9 2807.2,1128.1 2807.7,1129.6 2808.2,1123.4 2808.7,1126.4 2809.2,1131.0 2809.7,1122.7 2810.2,1130.8 2810.7,1118.1 2811.2,1121.0 2811.7,1119.6 2812.2,1114.2 2812.7,1110.0 2813.2,1117.6 2813.7,1113.5 2814.2,1105.4 2814.7,1102.6 2815.2,1100.4 2815.7,1107.8 2816.2,1102.6 2816.7,1105.2 2817.2,1104.7 2817.7,1101.7 2818.2,1101.7 2818.7,1106.7 2819.2,1109.1 2819.7,1110.3 2820.2,1106.7 2820.7,1110.7 2821.2,1107.0 2821.7,1101.1 2822.2,1107.8 2822.7,1097.9 2823.2,1090.4 2823.7,1080.2 2824.2,1069.9 2824.7,1045.2 2825.2,1031.7 2825.7,1022.5 2826.2,1031.4 2826.7,1051.8 2827.2,1057.6 2827.7,1074.2 2828.2,1086.5 2828.7,1092.1 2829.2,1106.7 2829.7,1108.2 2830.2,1126.2 2830.7,1119.1 2831.2,1120.9 2831.7,1117.3 2832.2,1127.8 2832.7,1131.4 2833.2,1129.2 2833.7,1135.1 2834.2,1131.7 2834.7,1126.1 2835.2,1126.7 2835.7,1121.1 2836.2,1118.1 2836.7,1134.3 2837.2,1123.3 2837.7,1129.8 2838.2,1129.8 2838.7,1127.6 2839.2,1129.3 2839.7,1135.8 2840.2,1136.4 2840.7,1135.7 2841.2,1130.9 2841.7,1142.2 2842.2,1132.8 2842.7,1131.1 2843.2,1137.9 2843.7,1134.2 2844.2,1127.7 2844.7,1128.1 2845.2,1132.1 2845.7,1134.8 2846.2,1132.8 2846.7,1125.6 2847.2,1138.8 2847.7,1134.0 2848.2,1137.4 2848.7,1132.4 2849.2,1138.1 2849.7,1125.1 2850.2,1134.8 2850.7,1137.7 2851.2,1128.3 2851.7,1129.8 2852.2,1136.0 2852.7,1130.6 2853.2,1141.1 2853.7,1134.8 2854.2,1139.6 2854.7,1146.3 2855.2,1134.9 2855.7,1132.6 2856.2,1135.2 2856.7,1132.5 2857.2,1136.5 2857.7,1132.9 2858.2,1132.3 2858.7,1135.7 2859.2,1139.9 2859.7,1139.8 2860.2,1140.2 2860.7,1129.8 2861.2,1145.3 2861.7,1135.9 2862.2,1140.6 2862.7,1133.5 2863.2,1136.7 2863.7,1124.0 2864.2,1132.6 2864.7,1127.2 2865.2,1133.4 2865.7,1124.7 2866.2,1131.5 2866.7,1125.1 2867.2,1127.0 2867.7,1122.3 2868.2,1121.6 2868.7,1127.2 2869.2,1127.9 2869.7,1122.1 2870.2,1115.7 2870.7,1130.3 2871.2,1124.6 2871.7,1122.0 2872.2,1131.6 2872.7,1121.3 2873.2,1130.6 2873.7,1135.3 2874.2,1131.9 2874.7,1133.7 2875.2,1132.2 2875.7,1126.7 2876.2,1130.0 2876.7,1130.8 2877.2,1133.8 2877.7,1128.1 2878.2,1131.1 2878.7,1136.1 2879.2,1137.8 2879.7,1132.8 2880.2,1141.4 2880.7,1139.9 2881.2,1135.6 2881.7,1130.0 2882.2,1139.0 2882.7,1143.3 2883.2,1140.3 2883.7,1143.6 2884.2,1139.1 2884.7,1136.0 2885.2,1132.6 2885.7,1129.3 2886.2,1141.4 2886.7,1131.9 2887.2,1134.7 2887.7,1129.2 2888.2,1130.3 2888.7,1130.4 2889.2,1133.5 2889.7,1132.2 2890.2,1137.8 2890.7,1131.6 2891.2,1133.4 2891.7,1128.9 2892.2,1137.2 2892.7,1136.3 2893.2,1130.8 2893.7,1137.2 2894.2,1139.7 2894.7,1142.3 2895.2,1138.9 2895.7,1130.5 2896.2,1138.8 2896.7,1131.4 2897.2,1139.8 2897.7,1127.0 2898.2,1131.4 2898.7,1135.3 2899.2,1139.8 2899.7,1141.0 2900.2,1141.2 2900.7,1133.9 2901.2,1133.9 2901.7,1138.7 2902.2,1141.2 2902.7,1136.3 2903.2,1135.2 2903.7,1129.8 2904.2,1128.5 2904.7,1135.2 2905.2,1127.2 2905.7,1134.8 2906.2,1130.0 2906.7,1132.5 2907.2,1134.4 2907.7,1135.3 2908.2,1137.6 2908.7,1131.0 2909.2,1136.8 2909.7,1142.3 2910.2,1144.2 2910.7,1137.8 2911.2,1139.6 2911.7,1133.7 2912.2,1141.4 2912.7,1141.9 2913.2,1141.0 2913.7,1138.8 2914.2,1143.5 2914.7,1139.5 2915.2,1134.5 2915.7,1143.2 2916.2,1140.3 2916.7,1132.2 2917.2,1126.2 2917.7,1137.3 2918.2,1127.7 2918.7,1135.2 2919.2,1136.7 2919.7,1134.5 2920.2,1141.6 2920.7,1137.5 2921.2,1140.5 2921.7,1133.8 2922.2,1140.6 2922.7,1143.6 2923.2,1138.9 2923.7,1137.1 2924.2,1135.9 2924.7,1131.0 2925.2,1137.2 2925.7,1138.9 2926.2,1131.5 2926.7,1134.0 2927.2,1141.5 2927.7,1140.2 2928.2,1136.2 2928.7,1145.4 2929.2,1134.3 2929.7,1130.2 2930.2,1137.0 2930.7,1140.9 2931.2,1137.9 2931.7,1138.5 2932.2,1139.3 2932.7,1140.6 2933.2,1137.9 2933.7,1144.7 2934.2,1132.3 2934.7,1135.1 2935.2,1141.4 2935.7,1141.6 2936.2,1141.6 2936.7,1129.1 2937.2,1136.8 2937.7,1139.3 2938.2,1139.9 2938.7,1139.2 2939.2,1142.3 2939.7,1139.1 2940.2,1140.6 2940.7,1139.7 2941.2,1141.1 2941.7,1137.8 2942.2,1133.4 2942.7,1134.4 2943.2,1137.2 2943.7,1129.8 2944.2,1133.1 2944.7,1138.9 2945.2,1134.0 2945.7,1135.7 2946.2,1139.3 2946.7,1138.7 2947.2,1146.7 2947.7,1141.9 2948.2,1138.3 2948.7,1135.6 2949.2,1134.9 2949.7,1134.5 2950.2,1133.3 2950.7,1133.3 2951.2,1131.1 2951.7,1136.0 2952.2,1142.2 2952.7,1134.8 2953.2,1135.5 2953.7,1134.9 2954.2,1126.7 2954.7,1134.0 2955.2,1130.8 2955.7,1132.1 2956.2,1134.4 2956.7,1138.1 2957.2,1129.1 2957.7,1121.2 2958.2,1119.5 2958.7,1117.7 2959.2,1106.8 2959.7,1112.7 2960.2,1128.1 2960.7,1123.9 2961.2,1123.7 2961.7,1127.3 2962.2,1131.6 2962.7,1128.4 2963.2,1138.8 2963.7,1129.9 2964.2,1145.7 2964.7,1143.6 2965.2,1136.6 2965.7,1137.6 2966.2,1137.3 2966.7,1143.2 2967.2,1136.5 2967.7,1135.5 2968.2,1134.1 2968.7,1137.4 2969.2,1136.1 2969.7,1137.4 2970.2,1140.4 2970.7,1135.8 2971.2,1138.9 2971.7,1135.8 2972.2,1139.4 2972.7,1135.8 2973.2,1136.4 2973.7,1131.2 2974.2,1133.1 2974.7,1130.3 2975.2,1133.6 2975.7,1133.9 2976.2,1139.1 2976.7,1135.3 2977.2,1132.4 2977.7,1130.2 2978.2,1139.0 2978.7,1126.0 2979.2,1127.9 2979.7,1124.7 2980.2,1128.8 2980.7,1115.1 2981.2,1123.3 2981.7,1138.1 2982.2,1130.9 2982.7,1138.9 2983.2,1133.6 2983.7,1140.8 2984.2,1142.9 2984.7,1130.5 2985.2,1131.4 2985.7,1139.4 2986.2,1135.9 2986.7,1144.3 2987.2,1137.5 2987.7,1142.6 2988.2,1140.0 2988.7,1141.1 2989.2,1135.1 2989.7,1138.9 2990.2,1134.7 2990.7,1137.9 2991.2,1144.2 2991.7,1137.8 2992.2,1137.6 2992.7,1142.5 2993.2,1141.5 2993.7,1144.2 2994.2,1143.5 2994.7,1138.4 2995.2,1130.7 2995.7,1139.8 2996.2,1142.1 2996.7,1134.9 2997.2,1140.6 2997.7,1146.5 2998.2,1139.2 2998.7,1143.5 2999.2,1137.6 2999.7,1141.0 3000.2,1139.8 3000.7,1138.7 3001.2,1135.4 3001.7,1141.1 3002.2,1139.6 3002.7,1132.1 3003.2,1137.5 3003.7,1138.2 3004.2,1147.8 3004.7,1138.3 3005.2,1138.5 3005.7,1131.7 3006.2,1135.4 3006.7,1126.9 3007.2,1136.5 3007.7,1129.2 3008.2,1144.3 3008.7,1138.4 3009.2,1143.3 3009.7,1144.1 3010.2,1137.2 3010.7,1129.0 3011.2,1140.0 3011.7,1136.8 3012.2,1137.4 3012.7,1142.5 3013.2,1136.5 3013.7,1143.1 3014.2,1137.6 3014.7,1129.0 3015.2,1135.3 3015.7,1140.0 3016.2,1137.8 3016.7,1133.8 3017.2,1135.0 3017.7,1140.2 3018.2,1133.3 3018.7,1129.4 3019.2,1133.8 3019.7,1127.3 3020.2,1133.2 3020.7,1122.9 3021.2,1114.5 3021.7,1110.2 3022.2,1124.4 3022.7,1112.4 3023.2,1110.2 3023.7,1116.2 3024.2,1114.8 3024.7,1106.9 3025.2,1110.5 3025.7,1117.7 3026.2,1117.0 3026.7,1117.4 3027.2,1125.4 3027.7,1119.2 3028.2,1129.1 3028.7,1132.4 3029.2,1131.9 3029.7,1132.8 3030.2,1142.4 3030.7,1132.6 3031.2,1134.7 3031.7,1135.6 3032.2,1138.2 3032.7,1134.4 3033.2,1141.1 3033.7,1137.7 3034.2,1145.9 3034.7,1138.0 3035.2,1141.2 3035.7,1138.8 3036.2,1139.1 3036.7,1139.1 3037.2,1142.2 3037.7,1141.0 3038.2,1141.2 3038.7,1135.0 3039.2,1143.1 3039.7,1142.7 3040.2,1142.6 3040.7,1139.9 3041.2,1137.6 3041.7,1135.6 3042.2,1140.8 3042.7,1147.4 3043.2,1142.8 3043.7,1143.6 3044.2,1134.2 3044.7,1138.8 3045.2,1141.2 3045.7,1138.8 3046.2,1143.2 3046.7,1143.3 3047.2,1138.4 3047.7,1138.0 3048.2,1135.2 3048.7,1133.9 3049.2,1135.2 3049.7,1138.2 3050.2,1144.9 3050.7,1139.8 3051.2,1137.1 3051.7,1146.0 3052.2,1141.9 3052.7,1137.2 3053.2,1139.9 3053.7,1143.8 3054.2,1139.4 3054.7,1138.3 3055.2,1139.6 3055.7,1139.9 3056.2,1140.0 3056.7,1146.3 3057.2,1149.7 3057.7,1137.8 3058.2,1143.1 3058.7,1139.9 3059.2,1137.1 3059.7,1145.4 3060.2,1145.4 3060.7,1139.5 3061.2,1139.5 3061.7,1139.6 3062.2,1136.7 3062.7,1143.9 3063.2,1140.8 3063.7,1142.6 3064.2,1150.0 3064.7,1140.2 3065.2,1136.0 3065.7,1142.0 3066.2,1147.3 3066.7,1146.7 3067.2,1141.3 3067.7,1141.0 3068.2,1148.2 3068.7,1144.2 3069.2,1144.3 3069.7,1140.7 3070.2,1137.9 3070.7,1140.5 3071.2,1139.9 3071.7,1139.2 3072.2,1143.4 3072.7,1147.0 3073.2,1139.1 3073.7,1143.1 3074.2,1142.5 3074.7,1146.4 3075.2,1141.9 3075.7,1137.0 3076.2,1142.8 3076.7,1143.6 3077.2,1143.5 3077.7,1144.1 3078.2,1140.9 3078.7,1136.3 3079.2,1138.2 3079.7,1139.8 3080.2,1137.0 3080.7,1137.7 3081.2,1139.8 3081.7,1143.9 3082.2,1150.1 3082.7,1145.1 3083.2,1141.3 3083.7,1137.5 3084.2,1142.5 3084.7,1135.8 3085.2,1140.1 3085.7,1148.3 3086.2,1142.9 3086.7,1145.2 3087.2,1144.0 3087.7,1144.6 3088.2,1142.4 3088.7,1144.7 3089.2,1147.9 3089.7,1143.7 3090.2,1135.9 3090.7,1138.2 3091.2,1146.7 3091.7,1140.4 3092.2,1145.3 3092.7,1144.8 3093.2,1147.3 3093.7,1140.8 3094.2,1151.3 3094.7,1145.9 3095.2,1140.4 3095.7,1143.0 3096.2,1138.8 3096.7,1143.0 3097.2,1142.7 3097.7,1139.3 3098.2,1140.4 3098.7,1147.6 3099.2,1147.4 3099.7,1149.8 3100.2,1140.8 3100.7,1148.1 3101.2,1142.3 3101.7,1145.3 3102.2,1146.4 3102.7,1136.8 3103.2,1145.8 3103.7,1141.7 3104.2,1140.2 3104.7,1140.6 3105.2,1143.1 3105.7,1141.4 3106.2,1143.9 3106.7,1144.7 3107.2,1147.4 3107.7,1145.0 3108.2,1142.5 3108.7,1143.0 3109.2,1140.9 3109.7,1139.8 3110.2,1145.5 3110.7,1146.8 3111.2,1143.9 3111.7,1136.9 3112.2,1143.5 3112.7,1141.0 3113.2,1147.4 3113.7,1145.3 3114.2,1150.1 3114.7,1137.8 3115.2,1142.9 3115.7,1148.3 3116.2,1141.0 3116.7,1137.1 3117.2,1147.1 3117.7,1140.6 3118.2,1147.7 3118.7,1141.7 3119.2,1140.0 3119.7,1145.0 3120.2,1144.1 3120.7,1143.6 3121.2,1142.4 3121.7,1143.9 3122.2,1144.7 3122.7,1154.1 3123.2,1143.6 3123.7,1142.7 3124.2,1147.0 3124.7,1143.6 3125.2,1143.0 3125.7,1143.3 3126.2,1146.0 3126.7,1141.6 3127.2,1147.5 3127.7,1142.8 3128.2,1141.8 3128.7,1145.4 3129.2,1142.2 3129.7,1140.2 3130.2,1139.4 3130.7,1139.9 3131.2,1144.2 3131.7,1141.1 3132.2,1155.7 3132.7,1143.7 3133.2,1143.7 3133.7,1147.7 3134.2,1140.4 3134.7,1141.8 3135.2,1142.7 3135.7,1147.2 3136.2,1143.8 3136.7,1146.9 3137.2,1142.1 3137.7,1145.9 3138.2,1145.1 3138.7,1141.3 3139.2,1142.4 3139.7,1145.5 3140.2,1140.7 3140.7,1142.5 3141.2,1141.5 3141.7,1147.9 3142.2,1148.0 3142.7,1146.5 3143.2,1141.6 3143.7,1140.7 3144.2,1147.4 3144.7,1143.1 3145.2,1148.5 3145.7,1146.4 3146.2,1148.5 3146.7,1147.4 3147.2,1140.1 3147.7,1145.0 3148.2,1138.6 3148.7,1141.5 3149.2,1144.8 3149.7,1145.5 3150.2,1146.9 3150.7,1143.0 3151.2,1142.6 3151.7,1149.5 3152.2,1149.7 3152.7,1151.7 3153.2,1140.9 3153.7,1148.8 3154.2,1138.9 3154.7,1144.8 3155.2,1136.9 3155.7,1141.4 3156.2,1140.0 3156.7,1141.9 3157.2,1131.9 3157.7,1141.2 3158.2,1141.8 3158.7,1134.9 3159.2,1130.6 3159.7,1136.1 3160.2,1140.0 3160.7,1137.6 3161.2,1144.3 3161.7,1142.7 3162.2,1137.5 3162.7,1144.3 3163.2,1140.5 3163.7,1142.3 3164.2,1139.0 3164.7,1146.0 3165.2,1143.2 3165.7,1145.9 3166.2,1143.6 3166.7,1145.1 3167.2,1144.0 3167.7,1144.6 3168.2,1147.3 3168.7,1145.9 3169.2,1147.3 3169.7,1142.0 3170.2,1140.3 3170.7,1143.2 3171.2,1149.2 3171.7,1147.5 3172.2,1145.4 3172.7,1149.0 3173.2,1146.5 3173.7,1140.7 3174.2,1141.1 3174.7,1141.2 3175.2,1142.3 3175.7,1149.0 3176.2,1144.9 3176.7,1144.2 3177.2,1148.5 3177.7,1148.7 3178.2,1148.2 3178.7,1142.0 3179.2,1145.9 3179.7,1143.9 3180.2,1149.3 3180.7,1147.3 3181.2,1150.0 3181.7,1142.1 3182.2,1144.6 3182.7,1143.1 3183.2,1139.9 3183.7,1139.7 3184.2,1146.2 3184.7,1142.4 3185.2,1147.5 3185.7,1144.6 3186.2,1147.8 3186.7,1143.0 3187.2,1148.6 3187.7,1146.1 3188.2,1143.0 3188.7,1144.1 3189.2,1141.3 3189.7,1146.5 3190.2,1141.5 3190.7,1146.3 3191.2,1147.2 3191.7,1145.6 3192.2,1143.0 3192.7,1147.2 3193.2,1148.1 3193.7,1146.8 3194.2,1146.7 3194.7,1146.9 3195.2,1142.8 3195.7,1151.6 3196.2,1139.4 3196.7,1147.3 3197.2,1149.6 3197.7,1150.5 3198.2,1143.5 3198.7,1140.0 3199.2,1146.0 3199.7,1148.2 3200.2,1145.0 3200.7,1142.7 3201.2,1146.6 3201.7,1145.4 3202.2,1142.0 3202.7,1144.0 3203.2,1139.4 3203.7,1145.2 3204.2,1144.3 3204.7,1141.9 3205.2,1140.0 3205.7,1137.5 3206.2,1149.0 3206.7,1142.0 3207.2,1140.7 3207.7,1141.4 3208.2,1145.9 3208.7,1139.7 3209.2,1137.9 3209.7,1135.7 3210.2,1131.2 3210.7,1125.7 3211.2,1128.6 3211.7,1126.1 3212.2,1123.4 3212.7,1120.3 3213.2,1117.2 3213.7,1114.8 3214.2,1123.2 3214.7,1123.8 3215.2,1125.4 3215.7,1131.1 3216.2,1135.5 3216.7,1131.1 3217.2,1135.7 3217.7,1139.8 3218.2,1145.5 3218.7,1141.6 3219.2,1143.4 3219.7,1134.7 3220.2,1146.6 3220.7,1138.9 3221.2,1144.2 3221.7,1145.2 3222.2,1141.1 3222.7,1148.5 3223.2,1151.4 3223.7,1143.9 3224.2,1142.6 3224.7,1139.7 3225.2,1145.9 3225.7,1144.3 3226.2,1148.6 3226.7,1142.9 3227.2,1145.8 3227.7,1145.2 3228.2,1143.2 3228.7,1148.0 3229.2,1140.7 3229.7,1144.6 3230.2,1145.4 3230.7,1145.6 3231.2,1150.2 3231.7,1148.1 3232.2,1146.5 3232.7,1143.8 3233.2,1141.9 3233.7,1150.8 3234.2,1150.3 3234.7,1147.0 3235.2,1149.7 3235.7,1147.3 3236.2,1146.0 3236.7,1149.6 3237.2,1148.3 3237.7,1142.7 3238.2,1149.1 3238.7,1143.5 3239.2,1147.3 3239.7,1151.5 3240.2,1151.0 3240.7,1146.2 3241.2,1147.8 3241.7,1145.5 3242.2,1148.2 3242.7,1149.3 3243.2,1149.4 3243.7,1148.3 3244.2,1151.9 3244.7,1155.1 3245.2,1149.6 3245.7,1149.9 3246.2,1148.0 3246.7,1151.2 3247.2,1145.5 3247.7,1151.8 3248.2,1149.6 3248.7,1146.6 3249.2,1148.7 3249.7,1148.2 3250.2,1147.2 3250.7,1151.1 3251.2,1148.8 3251.7,1145.8 3252.2,1144.6 3252.7,1146.3 3253.2,1143.8 3253.7,1148.0 3254.2,1149.5 3254.7,1152.5 3255.2,1148.8 3255.7,1149.9 3256.2,1147.8 3256.7,1142.2 3257.2,1148.3 3257.7,1148.1 3258.2,1146.3 3258.7,1148.0 3259.2,1143.1 3259.7,1149.8 3260.2,1150.4 3260.7,1148.7 3261.2,1150.0 3261.7,1147.8 3262.2,1147.7 3262.7,1145.4 3263.2,1147.6 3263.7,1145.0 3264.2,1149.4 3264.7,1151.5 3265.2,1144.5 3265.7,1152.5 3266.2,1146.1 3266.7,1150.4 3267.2,1153.1 3267.7,1151.3 3268.2,1145.4 3268.7,1149.0 3269.2,1145.0 3269.7,1145.9 3270.2,1151.4 3270.7,1144.4 3271.2,1153.9 3271.7,1144.4 3272.2,1146.5 3272.7,1149.2 3273.2,1148.8 3273.7,1144.3 3274.2,1147.1 3274.7,1144.6 3275.2,1146.6 3275.7,1141.5 3276.2,1143.4 3276.7,1151.6 3277.2,1151.3 3277.7,1151.1 3278.2,1145.8 3278.7,1154.3 3279.2,1148.9 3279.7,1146.9 3280.2,1149.0 3280.7,1150.4 3281.2,1144.2 3281.7,1151.6 3282.2,1151.0 3282.7,1145.1 3283.2,1146.3 3283.7,1145.8 3284.2,1144.8 3284.7,1148.7 3285.2,1146.3 3285.7,1148.8 3286.2,1153.7 3286.7,1148.3 3287.2,1150.0 3287.7,1145.3 3288.2,1150.3 3288.7,1148.8 3289.2,1147.2 3289.7,1152.7 3290.2,1152.7 3290.7,1152.2 3291.2,1151.6 3291.7,1145.9 3292.2,1148.3 3292.7,1151.5 3293.2,1149.5 3293.7,1144.6 3294.2,1150.6 3294.7,1143.8 3295.2,1145.0 3295.7,1150.1 3296.2,1147.0 3296.7,1149.0 3297.2,1145.8 3297.7,1150.2 3298.2,1147.0 3298.7,1152.2 3299.2,1144.8 3299.7,1153.1 3300.2,1150.3 3300.7,1150.0 3301.2,1146.9 3301.7,1151.7 3302.2,1155.4 3302.7,1141.9 3303.2,1151.7 3303.7,1143.1 3304.2,1148.7 3304.7,1139.7 3305.2,1148.1 3305.7,1148.0 3306.2,1149.4 3306.7,1148.8 3307.2,1154.1 3307.7,1150.2 3308.2,1148.1 3308.7,1150.2"/></defs>
<use href="#c7" fill="none" stroke="#b0443c" stroke-width="3.2" stroke-linejoin="round" stroke-linecap="round"/>
<defs><linearGradient id="gA1" x1="0" y1="0" x2="0" y2="1"><stop offset="0" stop-color="#a2a2a4"/><stop offset="0.55" stop-color="#a8a8a8"/><stop offset="1" stop-color="#c6c6c4"/></linearGradient><linearGradient id="gA2" x1="0" y1="0" x2="0" y2="1"><stop offset="0" stop-color="#30301e"/><stop offset="0.12" stop-color="#262626"/><stop offset="0.52" stop-color="#2e2e2c"/><stop offset="0.58" stop-color="#54543a"/><stop offset="0.9" stop-color="#606040"/><stop offset="1" stop-color="#8a8a62"/></linearGradient><linearGradient id="gA3" x1="0" y1="0" x2="1" y2="0"><stop offset="0" stop-color="#3e3e3e"/><stop offset="0.45" stop-color="#6a6a6a"/><stop offset="1" stop-color="#a8a8a8"/></linearGradient><linearGradient id="gA4" x1="0" y1="0" x2="1" y2="0"><stop offset="0" stop-color="#6a6a34"/><stop offset="0.33" stop-color="#4a4a2a"/><stop offset="0.42" stop-color="#2a2a2a"/><stop offset="1" stop-color="#2c2c2c"/></linearGradient><radialGradient id="gA5" cx="0.4" cy="0.45" r="0.6"><stop offset="0" stop-color="#6c6c6c"/><stop offset="0.7" stop-color="#4c4c4c"/><stop offset="1" stop-color="#333"/></radialGradient></defs>
<g clip-path="url(#cpa)"><g filter="url(#bl)">
<rect x="1054" y="75" width="431" height="361" fill="#c4c4c4"/>
<rect x="1054" y="75" width="228" height="361" fill="url(#gA1)"/>
<rect x="1071" y="94" width="16" height="150" fill="#a09ec4"/><rect x="1071" y="244" width="13" height="60" fill="#9492ac"/>
<rect x="1214" y="94" width="67" height="16" fill="#9898c4"/>
<path d="M1101,125 Q1101,104 1120,100 L1135,96 L1162,104 L1215,110 Q1256,112 1256,135 L1256,385 Q1256,410 1225,411 L1130,411 Q1101,411 1101,385 Z" fill="url(#gA2)"/>
<rect x="1236" y="115" width="20" height="280" fill="#3a3a3a" opacity="0.85"/>
<rect x="1101" y="110" width="62" height="28" fill="#4c4c22" opacity="0.8"/>
<rect x="1210" y="240" width="24" height="40" fill="#5a5a2e" opacity="0.8"/><rect x="1216" y="272" width="16" height="16" fill="#7a3c48" opacity="0.8"/>
<rect x="1105" y="290" width="70" height="100" fill="#6e6e44" opacity="0.6"/>
<rect x="1283" y="75" width="200" height="180" fill="#c6c6c6"/>
<ellipse cx="1378" cy="165" rx="94" ry="81" fill="url(#gA5)"/>
<ellipse cx="1340" cy="150" rx="30" ry="22" fill="#7a7a7a" opacity="0.7"/><ellipse cx="1372" cy="190" rx="34" ry="20" fill="#787878" opacity="0.6"/><ellipse cx="1425" cy="200" rx="22" ry="26" fill="#3a3a3a" opacity="0.7"/><ellipse cx="1440" cy="125" rx="20" ry="26" fill="#3c3c3c" opacity="0.6"/>
<g clip-path="url(#cpe)"><rect x="1284" y="84" width="190" height="165" filter="url(#tx)"/><rect x="1284" y="84" width="190" height="165" filter="url(#tx2)"/></g>
<rect x="1283" y="248" width="200" height="86" fill="#c2c2c2"/>
<rect x="1455" y="255" width="20" height="34" fill="#9a96c8"/>
<path d="M1283,257 L1453,253 L1455,291 L1412,305 L1390,320 L1300,328 L1286,300 Z" fill="url(#gA4)"/>
<rect x="1283" y="333" width="200" height="100" fill="url(#gA3)"/>
<path d="M1340,345 L1372,352 L1366,372 L1392,392 L1376,398 L1350,372 Z" fill="#3a3a3a" opacity="0.7"/><rect x="1400" y="350" width="60" height="30" fill="#b8b8b8" opacity="0.6"/><path d="M1283,426 L1283,400 L1340,410 L1420,418 L1420,426 Z" fill="#2c2c2c" opacity="0.8"/>
<g clip-path="url(#cpr)"><rect x="1283" y="333" width="192" height="93" filter="url(#tx)" opacity="0.8"/><rect x="1283" y="333" width="192" height="93" filter="url(#tx2)" opacity="0.7"/></g>
</g></g>
<g font-family="Liberation Sans,sans-serif" fill="#f4f4f4" font-size="9" filter="url(#bl2)"><text x="1443" y="247">top</text><text x="1430" y="327">middle</text><text x="1426" y="416">bottom</text><text x="1168" y="384" font-size="11">2&amp;1</text></g>
<g clip-path="url(#cpb1)"><g filter="url(#bl)">
<rect x="3002" y="75" width="235" height="167" fill="#b6b6b6"/><rect x="3002" y="195" width="235" height="45" fill="#bcbcbc"/>
<path d="M3013.4,113.4 L3030.1,107.4 L3070.1,103.4 L3077.4,90.7 L3090.1,90.7 L3103.5,101.7 L3123.5,98.4 L3136.9,101.7 L3146.9,120.1 L3166.9,126.7 L3190.3,138.4 L3213.6,138.4 L3215.3,160.1 L3210.3,183.5 L3190.3,180.1 L3150.2,188.5 L3123.5,206.8 L3073.4,210.2 L3036.7,203.5 L3013.4,190.2 Z" fill="#2d2d2d"/>
<path d="M3130,105 L3146,124 L3190,140 L3150,165 L3115,150 Z" fill="#383838"/>
</g></g>
<g clip-path="url(#cpb2)"><g filter="url(#bl)">
<rect x="2997" y="263" width="236" height="151" fill="#aca8d2"/>
<rect x="3023" y="263" width="212" height="22" fill="#a6a6a8"/><rect x="3023" y="280" width="176" height="26" fill="#a4a4a8"/><rect x="3196" y="285" width="40" height="130" fill="#9a94c0"/><rect x="3056" y="352" width="140" height="18" fill="#9c9ca4"/><rect x="3080" y="368" width="150" height="40" fill="#9690bc"/><rect x="3150" y="396" width="84" height="18" fill="#8c8c9c"/>
<path d="M3016.7,307.0 L3043.4,305.3 L3073.4,300.3 L3093.5,292.0 L3113.5,298.6 L3136.9,288.6 L3163.6,281.9 L3176.9,281.9 L3186.9,303.6 L3196.9,333.7 L3201.9,347.0 L3190.3,360.4 L3146.9,370.4 L3123.5,363.7 L3090.1,360.4 L3056.8,353.7 L3036.7,340.4 L3023.4,327.0 Z" fill="#2f2f32"/>
</g></g>
<g filter="url(#bl2)">
<text x="3200.0" y="206.0" font-size="55.0" text-anchor="middle" fill="#f4f4f4" >1</text>
<text x="3204.6" y="386.0" font-size="55.0" text-anchor="middle" fill="#f4f4f4" >2</text>
</g>
</svg></body></html>
